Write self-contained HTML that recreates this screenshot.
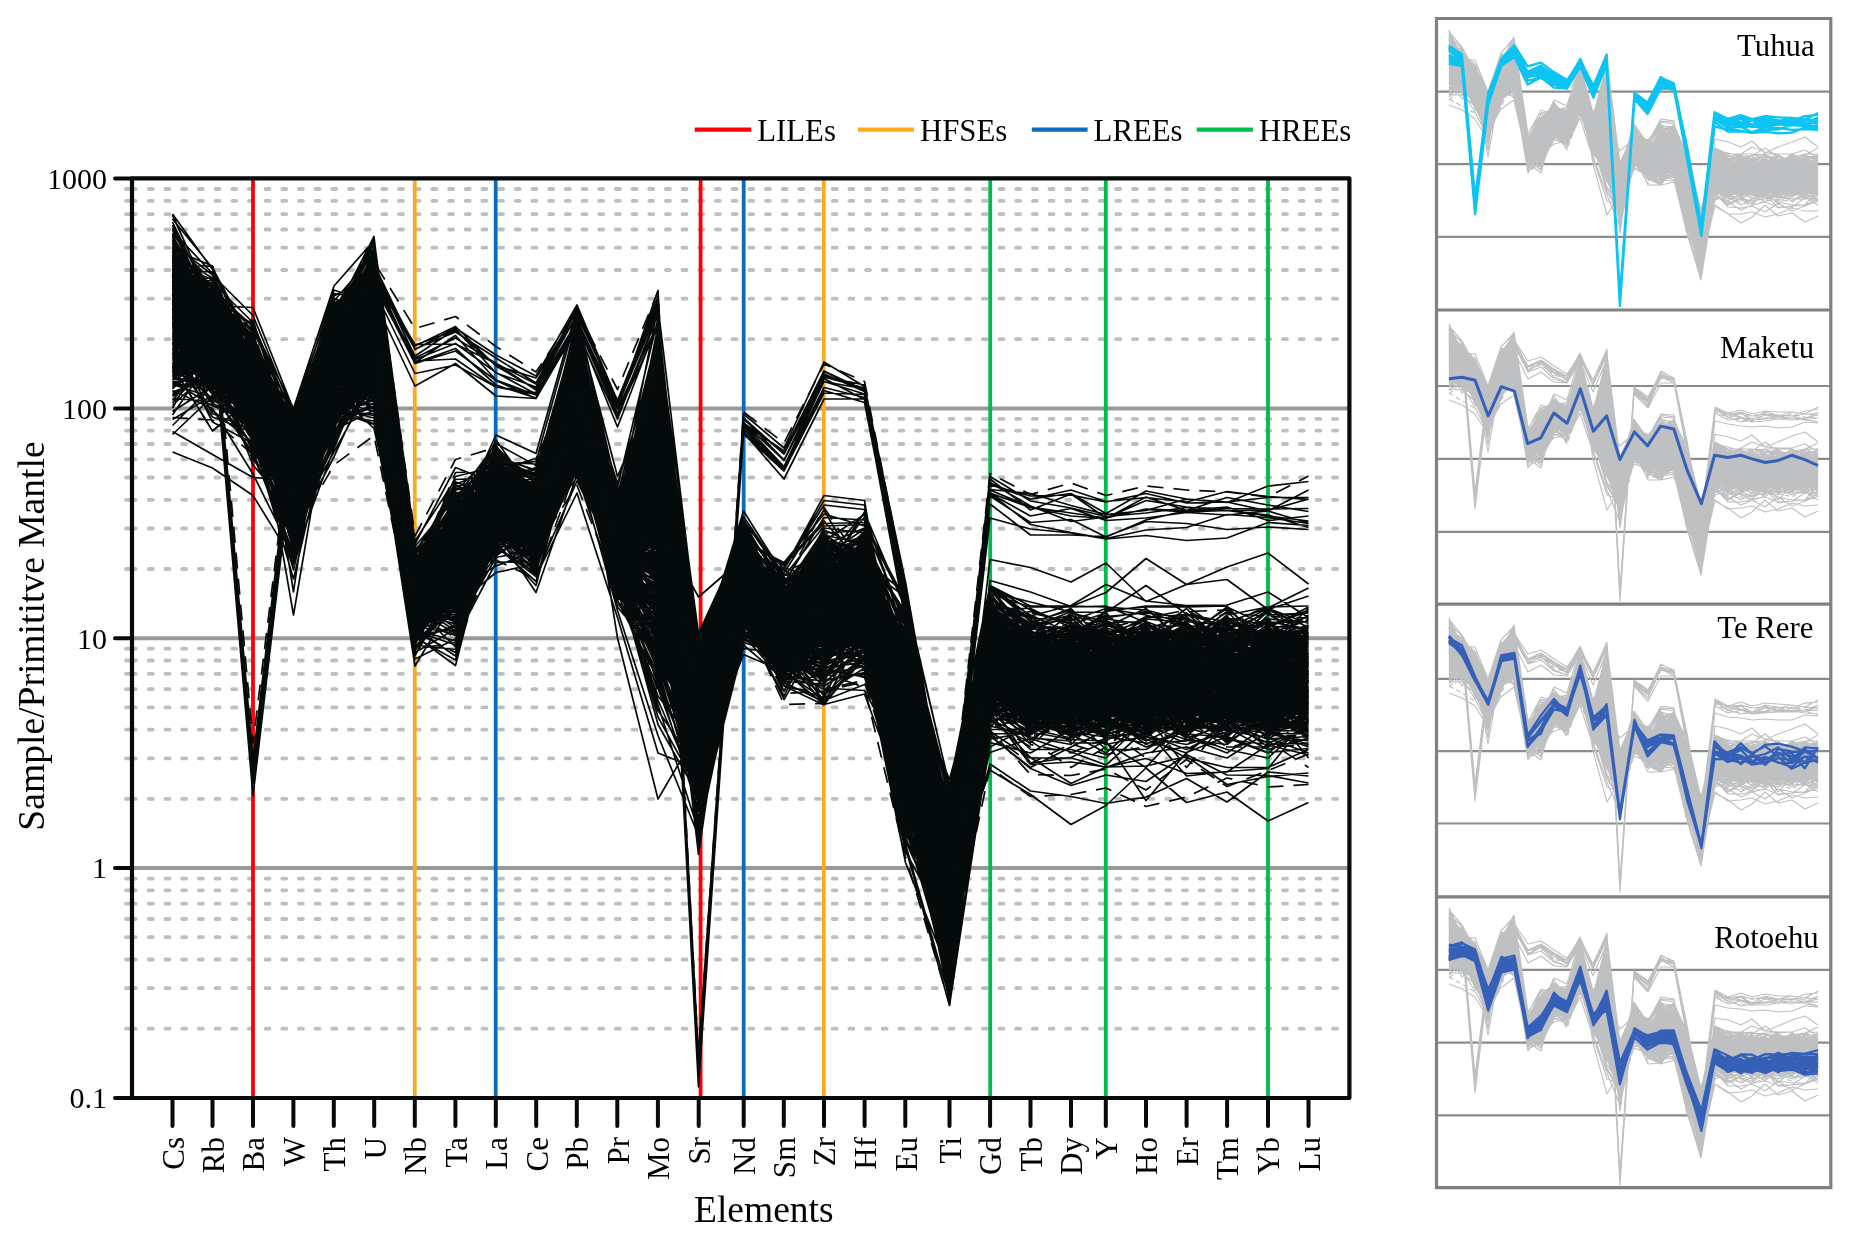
<!DOCTYPE html>
<html><head><meta charset="utf-8"><title>Spider diagram</title>
<style>html,body{margin:0;padding:0;background:#fff;}svg{display:block;will-change:transform;}</style>
</head><body>
<svg width="1852" height="1240" viewBox="0 0 1852 1240">
<path d="M126 339.2H135.7M126 298.7H135.7M126 270.0H135.7M126 247.7H135.7M126 229.5H135.7M126 214.1H135.7M126 200.8H135.7M126 189.0H135.7M126 569.0H135.7M126 528.5H135.7M126 499.8H135.7M126 477.5H135.7M126 459.3H135.7M126 444.0H135.7M126 430.6H135.7M126 418.9H135.7M126 798.9H135.7M126 758.4H135.7M126 729.7H135.7M126 707.4H135.7M126 689.2H135.7M126 673.8H135.7M126 660.5H135.7M126 648.7H135.7M126 1028.7H135.7M126 988.2H135.7M126 959.5H135.7M126 937.2H135.7M126 919.0H135.7M126 903.7H135.7M126 890.3H135.7M126 878.6H135.7" stroke="#bfbfbf" stroke-width="3.8" stroke-linecap="round" fill="none"/>
<path d="M148.8 339.2H1346M148.8 298.7H1346M148.8 270.0H1346M148.8 247.7H1346M148.8 229.5H1346M148.8 214.1H1346M148.8 200.8H1346M148.8 189.0H1346M148.8 569.0H1346M148.8 528.5H1346M148.8 499.8H1346M148.8 477.5H1346M148.8 459.3H1346M148.8 444.0H1346M148.8 430.6H1346M148.8 418.9H1346M148.8 798.9H1346M148.8 758.4H1346M148.8 729.7H1346M148.8 707.4H1346M148.8 689.2H1346M148.8 673.8H1346M148.8 660.5H1346M148.8 648.7H1346M148.8 1028.7H1346M148.8 988.2H1346M148.8 959.5H1346M148.8 937.2H1346M148.8 919.0H1346M148.8 903.7H1346M148.8 890.3H1346M148.8 878.6H1346" stroke="#bfbfbf" stroke-width="3.8" stroke-linecap="round" stroke-dasharray="4 12.68" fill="none"/>
<path d="M132 408.4H1349M132 638.2H1349M132 868.0H1349" stroke="#999" stroke-width="4" fill="none"/>
<path d="M253.0 180V1096" stroke="#ff0000" stroke-width="3.8"/>
<path d="M700.6 180V1096" stroke="#ff0000" stroke-width="3.8"/>
<path d="M414.8 180V1096" stroke="#ffaa1e" stroke-width="3.8"/>
<path d="M823.8 180V1096" stroke="#ffaa1e" stroke-width="3.8"/>
<path d="M495.7 180V1096" stroke="#0a6cbf" stroke-width="3.8"/>
<path d="M743.7 180V1096" stroke="#0a6cbf" stroke-width="3.8"/>
<path d="M990.2 180V1096" stroke="#00bc4b" stroke-width="3.8"/>
<path d="M1105.8 180V1096" stroke="#00bc4b" stroke-width="3.8"/>
<path d="M1268.0 180V1096" stroke="#00bc4b" stroke-width="3.8"/>
<path transform="scale(.5)" d="M345 509l80 157 81 114 81 107 81-108 80-150 82 511 81-57 81-84 80 47 82-219 81 297 81-74 81 352 90-280 81 58 80-46 81-40 82 257 88 447 81-470 81 49 81 25 70-15 80-17 81-40 81-21 82-3 81 29M345 610l80 70 81 89 81 197 81-190 80-131 82 544 81-83 81-80 80-25 82-249 81 349 81-293 81 550 90-267 81 108 80-3 81 22 82 151 88 345 81-392 81 24 81-22 70-3 80 25 81-7 81 33 82 9 81-39M345 734l80 43 81 29 81 153 81-188 80-90 82 520 81-107 81-101 80 13 82-239 81 316 81-157 81 518 90-265 81 59 80-30 81-25 82 173 88 427 81-243 81 49 81 60 70-38 80-75 81 69 81-21 82 58 81-37M345 556l80 66 81 138 81 229 81-225 80-21 82 480 81-192 81-53 80 62 82-240 81 244 81-1 81 310 90-224 81 120 80-144 81 4 82 241 88 410 81-518 81 72 81-31 70 63 80 5 81-32 81-18 82 26 81-24M345 672l80 81 81-15 81 143 81-159 80-75 82 526 81 9 81-166 80 37 82-256 81 347 81-137 81 408 90-273 81 139 80-98 81-1 82 337 88 352 81-444 81-67 81 14 70 2 80-38 81-10 81 24 82 4 81-38M345 540l80 73 81 134 81 241 81-279 80-109 82 585 81-93 81-158 80 84 82-322 81 292 81-117 81 562 90-335 81 76 80 12 81-35 82 149 88 293 81-319 81 94 81-46 70 31 80 5 81-7 81-17 82-25 81 35M345 600l80 30 81 77 81 240 81-155 80-31 82 392 81-127 81-41 80-13 82-159 81 285 81-100 81 360 90-188 81 86 80-65 81 64 82 274 88 262 81-528 81 58 81-55 70-1 80-9 81 9 81-10 82 18 81-14M345 666l80 61 81 77 81 204 81-229 80 38 82 439 81-55 81-199 80 132 82-232 81 264 81 13 81 463 90-371 81 92 80 5 81-83 82 370 88 302 81-563 81-12 81 23 70-20 80 5 81 12 81-34 82 17 81 4M345 587l80 60 81 120 81 229 81-276 80-38 82 513 81-11 81-188 80 46 82-255 81 358 81 65 81 236 90-302 81 120 80-80 81 26 82 255 88 349 81-448 81 52 81-17 70-25 80 33 81-26 81-41 82 16 81 59M345 714l80 40 81 56 81 168 81-153 80 2 82 441 81-8 81-215 80 45 82-150 81 264 81 62 81 307 90-339 81 104 80-24 81-120 82 366 88 291 81-459 81 24 81-45 70 35 80-37 81-39 81 16 82 45 81-21M345 605l80 88 81 35 81 212 81-235 80-21 82 552 81-103 81-107 80 90 82-292 81 281 81 35 81 378 90-346 81 132 80-85 81 60 82 214 88 362 81-498 81 71 81-4 70-55 80 52 81-11 81-7 82-16 81 7M345 567l80 61 81 113 81 204 81-172 80-145 82 541 81-131 81-49 80 41 82-292 81 297 81-111 81 477 90-252 81 54 80-26 81 30 82 165 88 335 81-427 81 8 81 33 70 11 80 1 81 35 81 18 82 3 81-81M345 830l80-119 81 159 81 112 81-210 80-8 82 477 81-45 81-155 80 37 82-252 81 265 81 103 81 318 90-336 81 95 80-40 81-47 82 323 88 359 81-529 81-5 81 34 70-30 80 45 81 12 81-31 82-8 81 58M345 669l80 2 81 166 81 226 81-211 80-173 82 567 81-36 81-214 80 15 82-144 81 258 81 13 81 326 90-241 81 86 80 27 81 19 82 237 88 386 81-557 81 78 81 0 70 17 80-77 81 5 81 18 82-32 81 36M345 655l80-14 81 51 81 154 81-174 80-18 82 547 81-182 81-94 80 58 82-283 81 366 81-182 81 508 90-215 81 69 80-58 81-78 82 252 88 288 81-474 81 93 81 16 70-29 80 23 81 35 81 25 82-58 81 5M345 611l80-14 81 121 81 191 81-237 80-52 82 529 81-52 81-133 80 48 82-245 81 283 81 32 81 311 90-253 81 90 80-13 81 6 82 293 88 248 81-418 81 25 81-67 70-19 80-47 81 7 81 65 82-38 81 38M345 541l80 123 81 182 81 80 81-160 80-38 82 450 81-11 81-97 80 14 82-240 81 276 81 8 81 376 90-289 81 23 80-58 81-8 82 289 88 317 81-463 81 48 81-19 70 9 80 20 81 1 81 2 82-39 81-38M345 543l80 75 81 155 81 197 81-128 80-85 82 436 81-27 81-163 80 35 82-177 81 239 81 85 81 255 90-246 81 131 80-81 81-24 82 343 88 298 81-469 81 8 81-4 70-54 80 60 81-4 81-51 82 16 81-23M345 530l80 123 81 102 81 162 81-230 80-78 82 577 81-122 81-92 80 9 82-190 81 335 81-152 81 471 90-312 81 94 80-12 81 31 82 112 88 531 81-610 81 12 81 34 70 41 80-42 81 2 81 37 82 17 81-3M345 580l80 69 81 134 81 169 81-203 80-3 82 509 81-76 81-47 80-30 82-305 81 336 81 69 81 263 90-258 81 44 80-83 81 45 82 313 88 393 81-569 81 88 81 32 70-55 80 2 81-28 81-1 82 68 81-6M345 621l80 65 81 46 81 267 81-179 80-53 82 461 81-113 81-74 80 26 82-290 81 354 81 188 81 231 90-503 81 91 80-137 81 9 82 456 88 464 81-471 81-1 81 18 70-30 80-25 81-25 81 54 82 36 81-30M345 624l80 74 81 70 81 172 81-194 80-72 82 536 81-64 81-106 80 11 82-152 81 256 81 125 81 267 90-267 81 34 80-81 81-21 82 335 88 246 81-358 81-37 81 11 70 18 80-10 81-5 81 34 82 33 81-59M345 594l80 62 81 90 81 148 81-151 80-2 82 461 81-7 81-200 80-5 82-273 81 310 81-204 81 572 90-294 81 103 80-112 81 35 82 187 88 410 81-431 81 28 81 25 70 3 80 1 81 22 81-11 82 9 81-34M345 762l80 50 81 28 81 109 81-245 80-10 82 551 81-51 81-109 80 86 82-313 81 289 81 152 81 308 90-384 81 60 80 123 81-147 82 405 88 211 81-525 81 61 81-7 70-8 80-23 81-18 81 55 82 0 81 11M345 517l80 111 81 67 81 143 81-152 80-56 82 582 81-66 81-181 80 20 82-321 81 400 81-45 81 275 90-217 81 150 80-47 81-54 82 163 88 395 81-361 81-36 81-23 70 41 80-36 81 44 81 15 82 14 81 39M345 535l80 144 81 99 81 165 81-295 80-151 82 605 81-110 81-70 80 103 82-235 81 320 81-159 81 475 90-267 81 99 80-34 81-117 82 342 88 376 81-577 81 30 81 13 70-4 80 34 81-17 81-40 82 14 81 47M345 595l80 48 81 45 81 248 81-166 80-68 82 473 81-37 81-150 80 56 82-278 81 311 81-299 81 658 90-308 81 81 80-93 81 55 82 151 88 338 81-366 81 33 81 5 70-10 80 42 81-2 81-3 82-31 81 25M345 787l80-33 81 129 81 122 81-194 80-110 82 542 81-100 81-82 80 5 82-290 81 381 81 80 81 298 90-324 81 80 80-91 81 14 82 255 88 375 81-499 81 45 81 41 70-8 80 27 81 11 81-34 82 32 81-14M345 583l80 102 81 50 81 202 81-222 80 12 82 444 81-89 81-99 80 0 82-218 81 273 81-28 81 468 90-269 81 117 80-21 81-81 82 180 88 525 81-611 81 53 81 22 70-36 80-13 81-27 81 33 82 17 81-13M345 719l80 79 81 62 81 144 81-158 80-156 82 539 81-103 81-97 80 23 82-237 81 291 81-31 81 430 90-336 81 69 80 69 81-106 82 219 88 463 81-554 81 4 81 37 70-24 80-26 81 22 81-45 82 65 81 4M345 533l80 54 81 153 81 139 81-233 80-95 82 562 81-44 81-69 80-4 82-227 81 286 81-237 81 658 90-362 81 80 80-36 81 31 82 146 88 330 81-491 81 69 81 31 70 7 80 38 81 8 81-8 82 25 81 3M345 686l80 141 81 34 81 174 81-335 80-29 82 555 81-71 81-150 80 55 82-195 81 304 81 124 81 213 90-314 81 53 80 84 81-121 82 329 88 258 81-481 81 61 81-30 70-2 80 7 81 37 81 8 82-13 81 38M345 610l80 82 81 131 81 164 81-169 80-67 82 461 81-107 81-85 80 9 82-212 81 324 81-58 81 426 90-276 81 72 80 44 81-16 82 219 88 250 81-422 81 15 81 22 70-3 80-7 81-33 81 6 82-4 81-71M345 589l80 59 81 131 81 150 81-233 80-2 82 553 81-33 81-167 80-32 82-263 81 300 81-44 81 477 90-294 81 23 80-39 81-16 82 237 88 420 81-455 81-8 81 27 70-13 80-42 81 52 81-29 82 24 81-35M345 604l80 49 81 36 81 282 81-252 80-59 82 523 81-97 81-91 80 40 82-203 81 270 81-164 81 568 90-356 81 106 80 37 81-4 82 261 88 352 81-474 81 14 81 14 70-54 80 47 81-31 81-34 82 67 81-14M345 623l80 32 81 79 81 178 81-234 80-130 82 624 81-118 81-62 80 7 82-249 81 262 81 47 81 320 90-212 81 68 80-24 81 27 82 192 88 422 81-522 81 81 81-68 70 30 80 18 81-52 81-22 82-26 81-2M345 628l80 56 81 30 81 174 81-136 80-138 82 574 81-156 81-61 80 39 82-179 81 297 81-165 81 446 90-306 81 85 80-34 81 7 82 144 88 324 81-394 81 23 81 7 70-35 80 58 81-39 81 20 82 16 81 38M345 747l80-17 81 129 81 142 81-156 80-107 82 471 81 10 81-152 80-5 82-278 81 313 81-113 81 527 90-311 81 65 80-33 81-1 82 294 88 308 81-518 81 15 81 42 70-20 80 17 81-16 81-36 82 14 81-12M345 663l80 97 81 60 81 152 81-145 80-97 82 536 81-114 81-160 80 30 82-243 81 297 81 48 81 372 90-350 81 57 80 45 81 4 82 157 88 316 81-433 81 16 81 2 70-18 80 42 81 7 81-7 82 19 81-1M345 444l80 166 81 105 81 158 81-166 80-124 82 606 81-135 81-69 80 33 82-237 81 255 81-178 81 480 90-218 81 142 80-144 81-13 82 144 88 339 81-373 81 98 81-26 70 33 80-18 81 8 81-2 82-78 81-4M345 706l80 38 81 55 81 146 81-115 80-166 82 555 81 6 81-155 80 19 82-199 81 231 81 54 81 480 90-378 81 35 80-75 81 20 82 238 88 319 81-406 81 62 81-53 70-11 80-44 81 18 81 39 82 47 81 2M345 616l80-5 81 4 81 204 81-163 80-35 82 529 81-102 81-178 80 37 82-290 81 407 81-295 81 669 90-288 81 153 80-55 81-43 82 282 88 319 81-530 81 88 81 20 70-1 80-47 81-9 81-29 82-41 81 30M345 577l80-23 81 167 81 133 81-183 80-47 82 538 81-49 81-157 80 80 82-347 81 328 81-117 81 575 90-274 81-3 80-20 81-33 82 204 88 432 81-471 81 19 81 23 70-19 80-47 81 26 81 25 82-14 81-9M345 691l80-21 81 95 81 163 81-295 80-102 82 557 81-153 81 32 80 85 82-318 81 297 81-21 81 402 90-281 81 105 80-35 81-34 82 305 88 381 81-562 81 50 81-30 70 8 80-65 81 30 81-61 82 78 81-34M345 658l80 43 81 65 81 277 81-221 80-124 82 517 81-104 81-96 80 66 82-310 81 505 81 322 81-138 90-210 81 38 80-13 81-13 82 221 88 355 81-424 81 65 81-47 70 67 80 0 81-48 81-19 82-4 81-5M345 790l80-46 81 33 81 241 81-261 80-91 82 496 81-156 81-9 80 26 82-261 81 347 81-163 81 592 90-361 81 128 80-22 81-84 82 232 88 446 81-576 81 99 81-49 70-20 80 24 81 9 81-39 82 73 81 8M345 698l80 111 81 41 81 162 81-263 80-4 82 525 81-128 81-124 80 85 82-247 81 277 81-23 81 331 90-292 81 96 80-91 81 80 82 223 88 349 81-687 81 16 81 29 70-38 80 77 81-34 81-35 82-28 81 62M345 629l80 87 81 54 81 193 81-233 80 8 82 436 81-3 81-144 80 42 82-266 81 332 81 51 81 317 90-363 81 84 80-37 81-21 82 358 88 283 81-494 81 46 81-47 70 30 80-1 81-44 81-14 82-42 81 70M345 693l80 31 81 157 81 202 81-296 80-47 82 462 81-71 81-64 80 38 82-272 81 321 81 57 81 215 90-246 81 103 80-65 81 29 82 404 88 263 81-459 81-78 81-19 70 55 80-37 81 10 81 15 82 33 81-8M345 634l80 56 81 5 81 240 81-201 80-36 82 447 81-86 81-138 80 39 82-215 81 297 81-217 81 548 90-241 81 142 80-105 81-10 82 232 88 284 81-447 81 114 81-60 70 19 80 35 81 14 81-1 82-15 81-64M345 637l80-35 81 140 81 216 81-278 80-28 82 545 81-189 81-33 80-38 82-235 81 316 81-110 81 544 90-314 81 67 80-27 81 8 82 278 88 345 81-497 81 45 81-16 70 34 80 6 81 7 81 6 82-1 81-48M345 621l80 13 81 86 81 141 81-218 80-27 82 532 81-111 81-24 80 36 82-293 81 359 81-6 81 311 90-313 81 83 80-70 81-41 82 162 88 362 81-277 81-16 81 30 70 17 80-18 81-14 81-47 82 34 81-47M345 663l80 36 81 44 81 166 81-244 80-121 82 564 81-95 81-89 80 4 82-192 81 351 81-56 81 337 90-225 81 67 80-36 81-66 82 230 88 315 81-460 81 62 81 1 70 29 80 47 81-34 81-32 82-1 81 10M345 558l80 38 81 150 81 125 81-241 80-157 82 688 81-106 81-111 80 23 82-241 81 346 81-178 81 512 90-240 81 94 80-98 81-23 82 189 88 328 81-335 81-20 81-16 70-49 80-13 81 27 81 43 82-70 81 65M345 495l80 223 81 125 81 89 81-206 80-125 82 627 81-159 81-93 80 57 82-199 81 247 81-19 81 486 90-350 81 24 80-28 81 36 82 373 88 174 81-473 81 50 81 6 70 5 80 34 81-34 81 12 82 62 81-75M345 521l80 85 81 145 81 149 81-187 80-83 82 592 81-167 81-86 80 41 82-204 81 256 81-19 81 434 90-288 81 88 80-93 81-37 82 229 88 385 81-498 81 53 81 16 70-17 80 16 81-13 81 18 82 7 81 0M345 429l80 181 81 132 81 193 81-214 80-63 82 539 81-118 81-148 80 78 82-242 81 332 81-71 81 342 90-253 81 61 80-42 81 20 82 128 88 347 81-452 81 99 81 31 70-7 80-29 81-1 81-36 82 14 81-27M345 607l80 73 81-41 81 268 81-159 80-141 82 559 81-95 81-77 80 36 82-185 81 259 81-110 81 448 90-302 81 49 80-63 81 53 82 169 88 395 81-445 81 51 81-22 70 14 80-23 81 24 81-28 82 32 81-10M345 597l80 46 81 140 81 276 81-317 80-70 82 502 81-94 81-88 80 38 82-200 81 309 81 107 81 271 90-298 81 79 80 24 81-55 82 233 88 339 81-520 81 32 81 48 70-39 80 10 81-39 81 59 82 28 81 54M345 726l80-23 81 81 81 161 81-270 80 45 82 524 81-109 81-96 80 47 82-216 81 231 81-45 81 330 90-240 81 106 80-46 81-50 82 408 88 213 81-435 81 46 81-26 70-12 80 17 81-59 81 57 82 67 81-7M345 653l80 96 81 33 81 257 81-205 80-22 82 506 81-40 81-153 80-3 82-207 81 220 81 33 81 366 90-322 81 61 80-37 81 16 82 282 88 370 81-551 81 14 81 28 70-24 80 27 81 58 81-44 82-52 81 49M345 474l80 161 81 96 81 242 81-204 80-132 82 498 81-30 81-80 80 10 82-172 81 206 81-204 81 560 90-288 81 60 80 6 81-114 82 240 88 353 81-358 81 43 81 7 70-19 80-19 81 15 81 7 82 9 81-45M345 658l80 37 81 69 81 227 81-179 80-103 82 544 81-163 81-68 80 71 82-257 81 301 81 60 81 397 90-412 81 113 80-66 81-52 82 252 88 339 81-534 81 85 81-4 70 30 80 33 81 16 81 24 82 3 81-33M345 646l80 19 81 128 81 143 81-126 80-22 82 496 81-67 81-176 80 46 82-143 81 207 81 270 81 119 90-296 81 100 80 54 81-81 82 227 88 392 81-451 81 21 81-47 70 30 80-17 81 44 81 19 82 0 81-36M345 592l80 58 81 124 81 211 81-256 80-56 82 482 81-106 81-101 80 5 82-196 81 333 81 72 81 405 90-352 81 103 80-119 81-6 82 179 88 364 81-425 81 55 81-28 70 51 80-6 81-16 81 16 82-65 81 23M345 632l80 73 81 98 81 206 81-190 80 12 82 379 81 27 81-220 80 63 82-271 81 341 81 31 81 300 90-284 81 134 80 20 81-102 82 279 88 379 81-511 81-6 81-23 70 50 80-1 81 26 81-13 82-3 81-33M345 595l80 36 81 159 81 165 81-242 80-6 82 520 81-89 81-57 80-38 82-214 81 259 81-149 81 475 90-228 81 78 80-71 81 27 82 276 88 339 81-513 81 73 81-72 70 38 80 6 81 63 81-10 82 7 81-44M345 557l80 121 81 6 81 253 81-214 80-144 82 585 81-148 81-50 80 84 82-260 81 266 81-133 81 433 90-241 81 40 80 38 81-16 82 247 88 313 81-448 81 31 81 3 70-23 80-37 81 42 81-1 82-35 81 4M345 712l80 12 81 155 81 279 81-345 80 35 82 431 81-108 81-112 80 39 82-289 81 299 81 4 81 418 90-335 81 125 80-48 81 11 82 386 88 142 81-477 81 13 81 23 70 28 80 66 81-9 81 24 82 10 81-3M345 667l80 1 81 83 81 181 81-199 80-106 82 517 81-69 81-54 80 69 82-269 81 323 81 51 81 208 90-205 81 64 80 54 81-105 82 217 88 391 81-535 81 76 81 5 70-3 80 19 81-70 81 66 82 9 81-27M345 492l80 190 81 116 81 150 81-188 80-164 82 557 81-60 81-140 80 92 82-288 81 272 81-117 81 418 90-189 81 136 80-57 81-39 82 201 88 404 81-496 81 14 81 31 70-36 80-33 81-19 81 87 82 26 81 12M345 485l80 140 81 165 81 106 81-171 80-12 82 490 81-102 81-96 80-23 82-255 81 308 81-222 81 503 90-196 81 99 80-56 81 8 82 125 88 366 81-389 81 79 81-45 70 7 80 14 81 65 81 11 82 0 81-6M345 524l80 91 81 98 81 230 81-206 80-169 82 579 81-70 81-163 80 26 82-224 81 333 81-196 81 525 90-230 81 93 80-167 81 97 82 152 88 360 81-412 81 94 81-66 70-9 80 40 81-29 81 11 82-4 81 5M345 664l80-12 81 82 81 204 81-262 80-22 82 496 81-54 81-138 80 51 82-241 81 269 81-292 81 645 90-265 81 117 80-76 81 22 82 214 88 300 81-496 81 32 81 63 70 20 80 28 81-20 81-25 82-12 81 3M345 573l80-1 81 137 81 180 81-194 80-121 82 567 81-145 81-61 80 44 82-261 81 329 81-394 81 746 90-315 81 41 80-97 81 24 82 193 88 337 81-382 81 36 81 5 70-24 80 13 81 24 81 40 82 17 81 55M345 500l80 123 81 82 81 155 81-179 80-154 82 607 81 11 81-159 80-9 82-204 81 250 81-135 81 515 90-250 81 64 80-60 81 35 82 255 88 336 81-501 81 47 81-41 70 15 80-12 81 47 81 37 82-76 81-6M345 645l80 18 81 134 81 154 81-167 80 19 82 529 81-135 81-143 80-6 82-300 81 386 81 85 81 294 90-323 81 60 80-37 81 28 82 243 88 388 81-512 81 76 81-9 70-32 80 4 81-8 81-4 82-24 81 43M345 613l80 58 81 68 81 160 81-231 80-6 82 525 81-147 81-39 80 25 82-222 81 336 81-29 81 379 90-355 81 124 80-36 81-19 82 184 88 315 81-441 81 43 81 34 70-15 80 50 81-40 81-5 82 26 81-14M345 671l80 135 81 46 81 201 81-174 80-126 82 468 81 20 81-221 80 44 82-109 81 149 81 45 81 414 90-295 81 67 80 53 81-52 82 244 88 384 81-578 81 55 81 23 70 10 80 12 81-4 81-40 82-20 81-37M345 528l80 31 81 160 81 206 81-259 80-46 82 585 81-176 81-61 80 16 82-290 81 418 81-145 81 451 90-236 81 85 80-93 81 19 82 208 88 276 81-495 81 48 81 37 70-34 80-7 81 10 81 37 82 51 81-18M345 600l80 111 81 118 81 232 81-337 80-92 82 522 81-101 81-94 80 72 82-203 81 220 81-338 81 654 90-258 81 59 80-22 81 61 82 177 88 267 81-436 81 54 81 54 70 28 80 26 81-38 81 3 82-9 81-29M345 585l80 151 81 94 81 133 81-264 80 6 82 508 81-84 81-90 80 61 82-257 81 248 81-87 81 512 90-375 81 102 80 16 81-8 82 266 88 363 81-528 81 60 81-27 70-31 80 16 81-27 81-16 82-11 81-29M345 797l80 6 81 6 81 141 81-122 80-146 82 560 81-114 81-85 80 35 82-154 81 243 81 172 81 270 90-356 81 81 80 13 81-67 82 178 88 390 81-536 81 25 81 48 70-2 80 24 81 19 81 11 82 57 81-41M345 550l80 202 81 43 81 228 81-213 80-87 82 470 81-67 81-99 80 50 82-262 81 319 81 276 81 252 90-424 81 50 80-61 81 76 82 168 88 282 81-437 81 70 81 28 70 28 80 14 81-46 81 43 82 8 81 28M345 546l80 146 81 87 81 186 81-239 80-14 82 494 81-94 81-76 80 82 82-188 81 225 81-61 81 338 90-193 81 91 80 4 81-8 82 377 88 162 81-453 81-3 81 20 70-55 80 14 81 13 81 16 82 6 81-17M345 582l80 75 81 110 81 219 81-319 80-153 82 642 81-49 81-113 80-2 82-207 81 293 81-32 81 337 90-209 81 38 80-74 81-14 82 283 88 347 81-505 81 40 81-12 70 21 80 16 81 10 81-9 82-35 81 41M345 572l80 116 81 99 81 164 81-339 80-70 82 591 81-66 81-93 80 32 82-301 81 341 81-191 81 457 90-185 81 66 80-75 81 54 82 250 88 305 81-256 81 66 81 34 70-21 80 13 81-54 81 41 82 1 81 15M345 781l80 36 81 131 81 163 81-318 80-10 82 482 81-84 81-93 80-23 82-233 81 279 81 2 81 386 90-329 81 138 80-60 81-48 82 240 88 454 81-474 81 54 81 15 70-67 80 39 81-50 81-10 82-6 81-23M345 698l80 10 81 65 81 181 81-118 80-133 82 529 81-113 81-76 80 43 82-288 81 284 81-128 81 491 90-293 81 81 80-35 81 66 82 271 88 456 81-519 81 63 81-41 70-33 80-35 81 15 81 3 82-28 81-56M345 658l80 43 81 65 81 277 81-221 80-124 82 517 81-104 81-96 80 66 82-310 81 382 81 95 81 304 90-302 81 38 80-13 81-13 82 221 88 355 81-424 81 65 81-47 70 67 80 0 81-48 81-19 82-4 81-5M345 550l80 80 81 100 81 246 81-186 80-68 82 518 81-38 81-179 80 10 82-179 81 306 81-113 81 393 90-283 81 80 80-74 81-64 82 334 88 334 81-457 81 61 81 4 70 42 80 20 81 15 81-30 82-56 81 27M345 513l80 161 81 61 81 206 81-231 80-164 82 597 81-27 81-98 80 39 82-238 81 256 81-270 81 612 90-294 81 144 80-101 81-66 82 351 88 284 81-494 81 109 81 31 70 29 80-32 81 36 81-23 82-46 81 35M345 583l80 39 81 99 81 146 81-244 80-41 82 534 81-46 81-90 80 32 82-217 81 297 81-205 81 606 90-357 81 116 80-52 81-42 82 251 88 339 81-449 81-4 81-20 70-28 80 27 81 16 81 29 82-17 81 4M345 618l80 38 81 81 81 186 81-109 80-65 82 448 81-36 81-152 80 30 82-273 81 346 81-193 81 549 90-263 81 42 80-70 81 34 82 245 88 300 81-408 81 11 81 16 70-17 80 32 81-26 81 19 82-65 81-8M345 601l80 138 81-3 81 240 81-214 80-37 82 503 81-26 81-186 80 49 82-208 81 277 81-133 81 449 90-228 81 115 80-56 81 13 82 186 88 260 81-383 81 48 81 1 70 31 80 42 81 27 81-63 82-14 81-13M345 657l80 48 81 93 81 95 81-216 80 12 82 453 81-41 81-47 80-17 82-197 81 240 81-155 81 472 90-237 81 118 80-74 81-78 82 189 88 398 81-480 81 97 81-2 70 28 80-2 81-1 81-7 82 2 81-24M345 450l80 176 81 138 81 158 81-197 80-36 82 541 81-79 81-96 80-28 82-240 81 317 81 18 81 318 90-251 81 69 80-72 81 16 82 200 88 377 81-421 81 68 81-57 70 18 80 16 81-37 81 25 82 8 81 0M345 643l80-14 81 99 81 241 81-293 80-82 82 569 81-172 81-3 80 40 82-289 81 347 81-219 81 561 90-305 81 111 80-78 81-31 82 236 88 344 81-437 81 68 81-20 70-11 80 17 81 22 81 9 82-22 81-32M345 639l80 0 81 143 81 171 81-209 80-44 82 463 81-39 81-63 80-5 82-261 81 328 81-26 81 516 90-367 81 105 80-38 81-110 82 220 88 340 81-431 81 120 81-34 70 24 80 32 81 15 81-25 82-11 81-35M345 623l80 46 81 34 81 257 81-208 80-133 82 512 81-178 81-20 80 36 82-325 81 309 81-190 81 504 90-196 81 157 80-113 81 79 82 211 88 324 81-501 81 72 81-29 70-21 80 31 81 0 81-11 82 11 81 0M345 479l80 189 81 34 81 205 81-165 80-111 82 528 81-45 81-101 80 7 82-300 81 387 81-129 81 492 90-338 81 154 80-147 81-1 82 207 88 348 81-424 81 66 81 19 70 5 80 16 81 3 81-8 82-33 81-9M345 572l80-7 81 80 81 196 81-226 80-38 82 547 81-160 81 27 80-20 82-224 81 280 81-72 81 452 90-260 81 97 80-84 81-68 82 295 88 281 81-477 81 105 81-15 70 53 80-40 81-61 81 73 82-57 81 34M345 661l80 21 81 65 81 245 81-248 80-100 82 566 81-76 81-152 80 80 82-193 81 271 81-66 81 305 90-262 81 95 80 10 81-94 82 229 88 451 81-475 81 2 81-16 70-45 80 61 81-29 81-3 82 75 81-39M345 685l80 27 81 50 81 202 81-208 80-172 82 542 81-116 81-54 80 35 82-197 81 255 81 12 81 348 90-291 81 148 80-42 81-86 82 183 88 382 81-414 81 10 81 5 70 19 80-14 81-16 81-15 82-4 81-24M345 572l80 116 81 99 81 164 81-339 80-70 82 591 81-66 81-93 80 32 82-301 81 341 81-191 81 457 90-185 81 66 80-75 81 54 82 250 88 305 81-423 81 60 81-3 70-17 80 20 81 52 81-51 82-59 81 3M345 643l80 67 81 75 81 202 81-212 80-112 82 512 81-101 81-121 80 40 82-161 81 196 81-124 81 470 90-229 81 17 80-41 81 58 82 281 88 353 81-398 81 24 81-12 70-54 80 24 81 1 81 35 82 37 81-35M345 823l80-51 81 85 81 201 81-275 80 74 82 365 81 44 81-180 80-48 82-173 81 349 81 98 81 181 90-284 81 116 80-28 81-54 82 286 88 331 81-516 81 18 81 11 70 16 80-12 81 37 81-17 82 27 81-26M345 904l80 32 81 55 81 131 81-320 80-63 82 517 81-157 81-66 80 17 82-280 81 370 81-59 81 460 90-393 81 154 80-86 81 9 82 354 88 421 81-533 81 1 81-42 70 6 80-61 81-5 81-36 82 21 81 12M345 715l80-21 81 120 81 79 81-184 80-31 82 492 81-131 81-55 80 53 82-239 81 281 81-237 81 582 90-241 81 127 80-68 81-108 82 243 88 314 81-380 81 15 81-13 70 46 80 28 81-7 81-17 82-2 81-41M345 661l80-30 81 128 81 231 81-225 80-33 82 506 81-9 81-221 80 32 82-210 81 268 81-29 81 321 90-230 81 74 80 3 81-42 82 208 88 377 81-500 81 20 81 22 70 4 80-10 81 42 81-18 82 0 81 2M345 659l80 21 81 105 81 141 81-169 80-50 82 500 81-125 81-93 80 90 82-261 81 352 81 222 81 105 90-272 81 145 80 25 81-162 82 241 88 393 81-504 81 22 81 18 70 46 80-47 81 27 81 9 82-21 81 62M345 428l80 111 81 162 81 196 81-202 80-38 82 555 81-146 81-150 80 48 82-226 81 310 81-24 81 333 90-248 81 118 80-56 81 79 82 199 88 315 81-483 81 31 81-9 70-30 80 17 81-8 81 56 82-40 81 40M345 565l80 70 81 38 81 248 81-289 80 4 82 532 81-92 81-69 80-31 82-277 81 385 81-264 81 480 90-260 81 117 80 11 81-88 82 307 88 264 81-421 81 61 81-65 70 17 80 49 81 24 81 31 82-59 81 69M345 438l80 98 81 151 81 134 81-229 80-43 82 565 81-27 81-120 80 0 82-237 81 303 81-144 81 383 90-148 81 57 80-94 81 49 82 318 88 268 81-417 81 39 81-6 70-16 80-42 81 56 81-36 82-3 81 29M345 588l80 93 81 68 81 207 81-206 80-67 82 494 81-33 81-171 80 46 82-273 81 356 81 33 81 287 90-226 81 113 80-5 81-77 82 326 88 281 81-560 81 81 81-7 70 47 80 11 81-27 81-27 82 46 81-16M345 562l80 44 81 104 81 251 81-243 80 15 82 432 81-121 81-46 80 4 82-299 81 350 81-1 81 458 90-382 81 70 80-37 81 14 82 202 88 432 81-518 81 14 81-11 70 2 80 58 81 5 81 30 82-18 81-2M345 793l80-63 81 77 81 262 81-182 80-200 82 540 81-106 81-81 80 31 82-246 81 311 81 234 81 192 90-337 81 93 80-83 81 37 82 319 88 291 81-445 81 6 81 29 70-27 80-21 81 42 81-50 82 32 81-20M345 498l80 123 81 106 81 240 81-199 80-115 82 523 81-90 81-136 80 50 82-287 81 413 81-173 81 452 90-253 81 83 80-18 81 31 82 120 88 389 81-518 81 83 81 9 70-1 80 61 81-26 81 9 82-29 81 33M345 547l80 79 81 107 81 217 81-234 80-14 82 458 81-124 81-55 80 39 82-234 81 278 81-28 81 407 90-271 81 25 80-98 81 10 82 193 88 406 81-411 81 31 81 13 70-22 80-41 81 36 81-54 82-34 81 62M345 692l80-24 81 85 81 262 81-297 80-112 82 552 81-49 81-144 80-21 82-213 81 366 81-75 81 464 90-302 81 104 80-136 81-36 82 263 88 338 81-392 81 4 81-17 70-6 80 5 81 26 81-46 82 25 81 46M345 571l80 157 81 2 81 259 81-212 80-67 82 458 81-143 81-54 80-8 82-277 81 318 81-35 81 479 90-256 81 91 80-19 81-9 82 193 88 317 81-388 81 52 81 9 70-27 80-43 81-11 81 12 82-33 81 6M345 851l80-80 81 122 81 155 81-282 80-36 82 492 81-107 81-67 80-14 82-240 81 380 81 152 81 182 90-254 81 49 80-95 81-19 82 211 88 425 81-517 81 50 81 37 70-30 80 17 81 45 81-17 82 52 81-11M345 551l80 99 81 130 81 200 81-244 80-156 82 573 81-30 81-158 80 22 82-226 81 323 81-36 81 334 90-260 81 55 80-77 81 22 82 294 88 381 81-493 81 10 81 23 70-25 80-2 81 26 81 10 82-32 81 20M345 662l80 29 81 109 81 158 81-155 80-83 82 504 81-116 81-26 80-12 82-215 81 237 81 139 81 322 90-399 81 112 80-122 81 62 82 236 88 337 81-373 81-32 81 26 70-47 80-26 81-5 81 19 82 0 81 25M345 603l80 55 81 95 81 203 81-224 80-68 82 482 81-54 81-141 80 39 82-267 81 306 81-98 81 521 90-279 81 102 80 13 81-118 82 222 88 378 81-503 81 14 81 10 70-25 80-25 81 85 81-81 82 10 81 45M345 612l80 40 81 179 81 172 81-242 80-85 82 504 81-81 81-117 80 38 82-287 81 417 81-190 81 507 90-309 81 101 80 7 81-36 82 232 88 327 81-496 81 91 81-10 70-35 80 41 81 43 81-59 82 11 81 11M345 590l80 131 81 67 81 232 81-222 80-123 82 579 81-121 81-95 80 55 82-283 81 305 81-30 81 362 90-211 81 50 80 33 81-111 82 428 88 319 81-532 81 39 81-12 70-32 80-31 81 34 81 7 82-64 81 54M345 582l80 65 81 179 81 187 81-253 80-95 82 517 81-115 81-127 80 48 82-205 81 313 81-1 81 374 90-333 81 77 80 36 81-90 82 284 88 276 81-331 81-19 81 11 70 20 80 9 81-1 81-5 82-46 81-29M345 717l80-58 81 107 81 145 81-201 80-4 82 464 81-63 81-158 80-4 82-230 81 301 81-39 81 537 90-345 81 98 80-68 81-49 82 163 88 360 81-447 81 24 81-20 70 58 80 85 81-29 81-20 82-9 81 38M345 682l80-10 81 103 81 145 81-170 80 19 82 470 81-18 81-109 80-57 82-276 81 278 81-6 81 451 90-297 81 42 80-9 81-16 82 220 88 308 81-378 81 53 81-36 70 54 80 19 81-34 81 48 82 30 81-60M345 700l80 39 81 164 81 213 81-219 80-195 82 470 81 16 81-141 80 74 82-185 81 206 81 27 81 303 90-322 81 162 80-37 81-60 82 212 88 413 81-469 81 13 81 26 70-6 80-6 81-9 81 18 82 8 81-38M345 575l80 83 81 90 81 175 81-258 80 53 82 488 81 17 81-154 80 62 82-356 81 321 81 27 81 319 90-327 81 155 80-2 81-78 82 307 88 373 81-505 81 60 81 4 70-37 80-10 81 54 81-36 82-6 81-55M345 563l80 174 81 50 81 152 81-178 80-62 82 495 81-113 81-133 80 68 82-304 81 381 81-156 81 450 90-300 81 142 80-37 81-46 82 269 88 283 81-417 81 22 81 28 70-29 80-3 81 44 81 43 82-64 81 4M345 629l80 77 81 96 81 223 81-187 80-109 82 487 81-11 81-139 80 119 82-236 81 244 81 71 81 252 90-315 81 154 80 18 81-58 82 410 88 224 81-546 81 32 81 20 70 7 80-20 81-11 81 30 82 15 81 30M345 690l80 20 81 118 81 246 81-245 80-111 82 555 81-97 81-81 80-14 82-246 81 272 81-15 81 352 90-257 81 81 80-36 81 34 82 239 88 398 81-525 81 71 81-9 70-51 80-5 81-24 81 51 82 21 81 42M345 455l80 139 81 70 81 270 81-293 80-157 82 662 81-111 81-96 80 12 82-230 81 366 81-107 81 461 90-247 81 32 80-31 81-7 82 271 88 313 81-482 81 49 81 15 70 32 80 2 81-50 81-56 82-16 81 29M345 697l80 54 81 6 81 189 81-289 80-30 82 510 81-49 81-181 80 120 82-233 81 331 81 97 81 360 90-394 81 88 80-112 81 68 82 165 88 399 81-462 81 69 81 8 70-3 80-77 81 58 81 16 82 10 81-60M345 665l80 56 81 80 81 182 81-225 80-99 82 501 81-107 81-99 80 20 82-296 81 330 81-217 81 609 90-234 81 106 80-145 81 62 82 135 88 367 81-371 81 16 81-1 70-86 80 21 81-27 81 7 82 59 81-1M345 708l80 126 81 31 81 275 81-353 80-52 82 450 81-144 81-77 80 41 82-266 81 367 81-101 81 414 90-261 81 91 80 3 81-8 82 352 88 163 81-432 81 66 81-43 70-3 80-9 81-29 81 0 82 10 81 30M345 636l80 99 81 70 81 252 81-249 80-111 82 537 81-102 81-128 80 35 82-248 81 282 81 26 81 327 90-261 81 156 80 23 81-175 82 183 88 476 81-431 81 26 81-19 70-22 80 26 81-29 81 29 82-20 81 52M345 580l80 32 81 188 81 161 81-210 80-29 82 485 81-97 81-91 80 60 82-279 81 273 81 56 81 391 90-300 81 18 80-64 81-16 82 315 88 432 81-609 81 11 81 69 70-9 80 12 81 42 81-48 82 17 81 45M345 680l80-43 81 37 81 301 81-294 80-43 82 527 81-123 81-44 80 25 82-288 81 351 81-276 81 544 90-264 81 104 80 52 81-82 82 254 88 472 81-549 81 79 81-1 70-31 80-41 81 43 81-23 82-21 81 30M345 677l80 18 81 77 81 194 81-245 80 2 82 514 81-54 81-178 80 66 82-184 81 248 81-39 81 342 90-277 81 162 80-58 81-45 82 228 88 395 81-424 81 27 81-26 70-43 80 0 81-5 81 29 82-12 81-31M345 769l80 26 81 23 81 202 81-285 80-88 82 569 81-23 81-101 80 71 82-307 81 255 81 223 81 190 90-346 81 102 80-27 81-8 82 309 88 325 81-478 81 44 81-24 70 9 80 59 81-31 81-40 82-33 81 76M345 488l80 126 81 91 81 211 81-210 80-13 82 482 81-75 81-158 80 53 82-245 81 355 81-93 81 463 90-297 81 75 80-81 81-33 82 132 88 306 81-312 81 19 81 18 70-61 80 35 81-17 81-3 82 39 81-17M345 471l80 141 81 140 81 202 81-176 80-160 82 548 81-62 81-102 80 14 82-233 81 348 81-158 81 442 90-253 81 9 80-89 81-53 82 335 88 257 81-450 81 70 81 32 70 0 80 38 81-12 81-69 82-16 81-2M345 608l80 109 81 32 81 313 81-245 80-47 82 447 81-26 81-161 80 3 82-237 81 284 81-7 81 366 90-269 81 61 80 59 81-123 82 399 88 185 81-370 81 11 81 42 70-43 80 19 81 27 81-38 82-7 81-43M345 712l80 12 81 155 81 279 81-345 80 35 82 431 81-108 81-112 80 39 82-289 81 299 81 4 81 418 90-335 81 125 80-48 81 11 82 386 88 142 81-283 81 54 81 11 70 14 80-13 81-37 81 47 82-60 81 8M345 732l80 130 81-68 81 305 81-230 80-98 82 540 81-143 81-59 80-43 82-273 81 316 81-69 81 415 90-408 81 91 80-128 81 9 82 443 88 301 81-461 81 44 81 50 70-38 80-6 81 26 81-1 82 46 81-62M345 599l80 29 81 119 81 168 81-219 80-35 82 505 81-30 81-176 80 74 82-238 81 298 81-113 81 437 90-314 81 63 80-132 81 5 82 340 88 394 81-452 81 58 81-26 70-45 80 36 81 30 81-78 82-3 81-13M345 590l80 107 81 93 81 259 81-216 80-91 82 460 81-33 81-101 80 6 82-203 81 304 81-149 81 403 90-297 81 115 80-3 81 32 82 342 88 353 81-562 81 11 81 48 70 38 80-70 81 34 81 29 82 17 81-72M345 753l80-55 81 80 81 164 81-186 80-96 82 564 81-118 81-105 80 18 82-212 81 287 81-27 81 337 90-292 81 147 80 25 81-2 82 327 88 227 81-485 81 62 81 12 70-32 80-25 81-60 81-18 82 89 81 9M345 677l80-17 81 178 81 155 81-229 80-92 82 498 81-104 81-53 80 83 82-256 81 281 81 42 81 304 90-280 81 70 80 1 81 16 82 139 88 381 81-523 81 82 81-30 70 57 80-23 81 12 81 28 82 32 81-17M345 689l80 20 81 56 81 148 81-170 80-88 82 524 81-159 81-50 80-14 82-232 81 388 81-89 81 381 90-243 81 57 80-79 81-3 82 317 88 251 81-416 81 90 81-29 70 39 80 16 81-57 81 6 82 8 81 7M345 534l80 47 81 134 81 153 81-226 80-1 82 499 81-172 81-29 80 41 82-223 81 338 81-259 81 524 90-233 81 83 80-39 81 66 82 239 88 382 81-579 81 48 81 6 70-18 80 40 81-66 81-46 82 36 81-23M345 493l80 95 81 121 81 246 81-249 80-26 82 496 81-152 81-51 80 5 82-214 81 327 81-106 81 376 90-253 81 52 80 11 81 9 82 338 88 321 81-516 81 40 81-2 70-50 80-21 81-7 81-10 82-53 81 34M345 619l80 121 81 49 81 225 81-142 80-100 82 432 81 59 81-211 80 23 82-252 81 250 81 3 81 403 90-346 81 100 80 55 81-61 82 274 88 376 81-438 81 37 81 6 70-73 80 9 81-14 81 35 82 2 81 18M345 561l80 59 81 82 81 246 81-219 80-46 82 475 81-66 81-118 80 84 82-266 81 274 81-125 81 430 90-217 81 115 80 8 81-137 82 266 88 328 81-496 81 88 81-11 70-12 80-19 81 32 81 15 82 18 81-17M345 578l80 25 81 122 81 173 81-228 80-108 82 607 81-133 81-131 80 52 82-276 81 313 81-119 81 523 90-301 81 82 80-119 81 36 82 129 88 475 81-483 81 0 81 38 70 8 80 22 81 6 81 47 82-48 81 0M345 622l80 52 81 143 81 182 81-304 80-9 82 517 81-29 81-166 80-26 82-226 81 295 81-202 81 495 90-218 81 111 80-84 81-83 82 274 88 408 81-482 81 25 81 30 70 38 80 2 81 6 81-53 82-19 81 3M345 599l80 33 81 67 81 223 81-157 80-75 82 500 81-69 81-134 80 67 82-265 81 297 81-164 81 501 90-267 81 61 80-58 81-9 82 305 88 273 81-400 81 55 81-14 70-38 80-30 81 31 81-49 82 66 81 35M345 633l80-19 81 163 81 135 81-215 80-172 82 647 81-112 81-99 80 56 82-256 81 363 81 80 81 270 90-325 81 136 80-121 81 33 82 284 88 429 81-494 81-37 81-32 70-35 80 60 81-40 81 35 82 33 81-43M345 648l80 49 81 84 81 161 81-259 80 67 82 463 81-110 81-40 80 22 82-257 81 331 81 14 81 286 90-279 81 162 80-4 81-42 82 379 88 209 81-502 81 32 81-2 70-37 80-19 81 44 81 2 82 3 81-23M345 606l80-11 81 54 81 186 81-255 80 28 82 568 81-111 81-63 80 29 82-258 81 270 81-145 81 394 90-213 81 139 80 22 81-43 82 214 88 224 81-391 81 1 81-25 70 87 80-32 81-58 81 81 82-39 81 21M345 586l80 62 81 177 81 173 81-279 80-77 82 557 81 17 81-199 80 71 82-188 81 277 81-52 81 404 90-341 81 179 80-120 81-8 82 350 88 355 81-534 81 7 81 69 70 0 80 49 81-87 81-23 82-48 81 36M345 679l80 55 81 110 81 201 81-272 80-102 82 466 81-103 81-88 80 95 82-250 81 356 81-130 81 447 90-340 81 122 80-106 81 36 82 240 88 317 81-457 81 80 81 37 70 38 80-30 81-60 81 35 82-49 81 14M345 526l80 64 81 101 81 215 81-300 80-43 82 556 81-119 81-73 80 32 82-217 81 317 81 11 81 236 90-193 81 139 80-183 81 50 82 68 88 510 81-499 81 51 81 37 70-66 80-6 81 0 81-2 82 86 81-1M345 568l80 70 81 124 81 167 81-175 80-75 82 508 81-175 81-35 80-2 82-232 81 325 81 22 81 232 90-198 81 71 80-94 81 41 82 270 88 196 81-357 81 88 81 11 70-6 80-11 81 2 81 4 82-39 81-31M345 749l80-42 81 107 81 178 81-246 80-15 82 536 81-98 81-163 80-6 82-229 81 375 81 137 81 138 90-271 81 137 80-8 81 7 82 209 88 286 81-495 81 15 81 45 70-30 80 14 81-2 81 30 82 17 81 19M345 710l80 4 81 99 81 106 81-240 80 56 82 490 81-138 81-117 80 31 82-190 81 259 81-26 81 410 90-286 81 143 80-117 81 74 82 242 88 261 81-427 81 4 81-18 70-4 80 17 81 11 81 27 82 14 81 34M345 752l80 27 81 87 81 161 81-160 80-120 82 516 81-100 81-104 80 55 82-266 81 309 81 165 81 257 90-380 81 115 80 14 81-129 82 299 88 326 81-487 81 52 81-17 70 35 80-39 81 38 81 24 82 42 81-70M345 559l80 15 81 87 81 171 81-153 80-161 82 609 81-81 81-166 80 114 82-257 81 278 81-338 81 698 90-286 81 134 80-82 81-107 82 222 88 430 81-425 81 10 81-3 70 33 80 13 81-54 81-6 82 29 81 15M345 642l80 3 81 136 81 206 81-297 80-188 82 634 81-77 81-89 80 25 82-291 81 375 81 5 81 339 90-286 81 160 80-20 81-60 82 168 88 325 81-486 81 56 81 34 70-62 80 13 81 4 81-52 82 70 81 62M345 638l80 85 81 95 81 121 81-209 80 28 82 516 81-140 81-60 80 13 82-262 81 305 81-28 81 374 90-308 81 86 80-53 81 37 82 193 88 438 81-470 81-3 81-18 70 56 80-34 81-27 81 42 82 6 81-24M345 695l80 79 81 15 81 302 81-248 80-29 82 434 81-45 81-185 80 41 82-164 81 300 81 55 81 351 90-427 81 89 80 33 81-9 82 226 88 427 81-573 81 88 81-23 70-14 80-18 81-40 81 16 82 30 81 13M345 560l80 99 81 69 81 158 81-267 80-130 82 649 81-87 81-93 80 76 82-274 81 281 81-97 81 398 90-253 81 162 80-104 81-36 82 171 88 333 81-190 81 104 81-5 70 10 80-2 81-19 81 56 82-16 81-7M345 657l80-11 81 125 81 175 81-143 80-140 82 522 81-72 81-141 80 77 82-261 81 282 81-114 81 518 90-278 81 88 80-65 81-39 82 310 88 327 81-456 81 45 81-14 70-62 80 14 81 63 81 65 82-66 81 8M345 619l80 81 81 110 81 134 81-164 80-97 82 489 81-71 81-138 80 78 82-210 81 275 81 31 81 265 90-291 81 171 80-159 81 10 82 176 88 352 81-452 81 47 81-33 70 31 80-37 81 71 81-50 82 32 81 24M345 641l80 27 81 123 81 235 81-237 80-37 82 549 81-109 81-116 80-32 82-279 81 391 81 67 81 262 90-292 81 93 80-14 81-36 82 286 88 321 81-484 81 78 81 12 70-53 80 27 81-20 81-29 82 39 81 36M345 560l80 125 81 107 81 230 81-201 80-123 82 498 81-99 81-106 80 34 82-179 81 318 81 109 81 253 90-319 81 67 80 84 81-88 82 188 88 329 81-473 81 26 81 3 70 7 80-27 81 50 81-41 82 15 81 44M345 662l80-43 81 97 81 189 81-219 80-157 82 600 81-147 81-79 80 106 82-246 81 294 81-85 81 498 90-291 81 81 80-158 81 58 82 157 88 419 81-461 81 74 81-56 70 32 80-31 81-3 81 20 82 8 81 14M345 801l80-102 81 118 81 156 81-158 80-94 82 538 81 23 81-278 80 39 82-259 81 329 81 138 81 237 90-301 81 103 80-29 81-80 82 236 88 381 81-443 81 89 81 17 70-34 80-31 81-23 81-13 82-7 81 70M345 532l80 61 81 146 81 157 81-160 80-145 82 589 81-10 81-160 80 42 82-202 81 271 81-86 81 396 90-280 81 83 80-31 81-41 82 306 88 281 81-491 81 69 81 22 70-17 80-31 81 45 81 3 82 33 81 27M345 593l80 74 81 121 81 125 81-228 80-119 82 562 81-95 81-67 80 74 82-278 81 312 81-158 81 401 90-295 81 129 80-8 81 12 82 265 88 356 81-509 81 50 81 1 70 37 80 6 81-40 81 23 82 9 81 57M345 744l80-90 81 154 81 102 81-221 80-41 82 540 81-95 81-163 80 72 82-223 81 309 81 10 81 248 90-197 81 93 80 14 81-30 82 200 88 266 81-474 81 94 81-1 70 29 80-8 81 23 81-39 82-5 81 10M345 608l80 75 81 136 81 218 81-177 80-40 82 417 81-80 81-125 80 21 82-194 81 299 81 57 81 238 90-296 81 143 80-17 81-105 82 378 88 367 81-545 81-22 81-4 70-25 80 53 81 62 81-56 82-30 81 65M345 701l80-61 81 83 81 219 81-175 80-27 82 491 81-106 81-116 80 93 82-206 81 219 81-127 81 534 90-325 81 45 80-39 81-51 82 302 88 313 81-429 81 38 81 4 70 6 80 8 81-23 81 33 82-39 81 2M345 704l80 5 81 2 81 272 81-291 80-1 82 488 81-122 81-88 80 55 82-266 81 309 81-300 81 573 90-244 81 143 80-144 81 58 82 115 88 331 81-299 81 38 81-3 70-17 80-45 81 64 81-37 82 5 81 29M345 462l80 85 81 185 81 163 81-213 80-97 82 576 81-138 81-44 80 84 82-352 81 309 81-144 81 512 90-193 81-20 80-6 81-46 82 268 88 393 81-490 81 31 81-45 70-18 80 6 81 9 81 16 82 19 81-19M345 593l80 16 81 95 81 121 81-173 80-85 82 537 81-124 81-12 80-3 82-274 81 316 81 51 81 440 90-333 81 53 80-42 81-41 82 328 88 337 81-573 81 35 81 47 70-20 80 27 81 1 81 54 82-50 81 66M345 731l80-35 81 56 81 325 81-246 80 11 82 440 81-32 81-161 80 8 82-178 81 246 81 199 81 259 90-360 81 70 80-108 81 80 82 174 88 393 81-507 81 40 81 30 70-32 80 3 81 27 81 26 82-62 81-7M345 735l80-97 81 88 81 160 81-217 80-4 82 476 81-62 81-90 80 37 82-254 81 282 81-209 81 580 90-278 81 64 80 29 81-40 82 265 88 300 81-465 81-6 81 57 70-18 80-37 81-2 81 67 82-65 81 48M345 585l80 117 81 145 81 163 81-161 80-158 82 535 81-48 81-166 80 89 82-191 81 288 81 22 81 417 90-446 81 87 80-10 81 29 82 333 88 270 81-569 81 10 81-3 70 5 80 34 81-7 81-22 82 34 81 5M345 617l80 35 81 74 81 255 81-279 80 49 82 481 81-66 81-122 80 45 82-178 81 206 81-51 81 437 90-304 81 104 80-93 81 16 82 344 88 252 81-513 81 13 81 55 70 28 80-52 81-33 81 51 82 2 81 23M345 572l80 90 81 149 81 231 81-276 80-110 82 518 81-72 81-37 80 76 82-332 81 323 81 14 81 346 90-334 81 75 80 12 81-33 82 303 88 269 81-429 81 18 81-13 70-20 80-21 81 29 81 47 82-19 81 27M345 627l80 28 81 132 81 127 81-123 80-92 82 518 81-129 81-90 80 15 82-299 81 344 81 76 81 426 90-410 81 114 80-38 81-76 82 223 88 398 81-432 81 46 81 38 70 2 80 17 81-57 81 11 82-22 81 0M345 568l80 99 81 57 81 220 81-163 80 6 82 418 81-116 81-77 80 1 82-201 81 263 81-161 81 477 90-258 81 127 80-51 81 6 82 184 88 353 81-498 81 69 81 19 70-13 80-13 81-18 81 33 82-1 81-19M345 626l80 121 81-13 81 203 81-279 80-99 82 619 81-114 81-77 80 30 82-211 81 254 81-231 81 544 90-218 81 80 80-22 81-96 82 251 88 319 81-420 81 52 81-40 70 15 80 14 81 25 81 45 82-26 81 15M345 544l80 85 81 126 81 163 81-159 80-28 82 524 81-120 81-141 80 14 82-189 81 340 81-114 81 494 90-321 81 106 80-18 81-31 82 353 88 199 81-467 81 55 81 51 70-56 80-34 81-41 81 22 82-2 81-39M345 603l80 129 81 41 81 183 81-259 80 67 82 427 81-11 81-138 80 58 82-232 81 254 81 48 81 290 90-318 81 89 80 20 81-102 82 322 88 397 81-495 81 8 81 13 70-15 80-7 81 46 81-13 82 1 81-5M345 784l80-29 81 79 81 247 81-285 80-81 82 477 81-42 81-97 80-12 82-138 81 238 81 189 81 247 90-399 81 125 80 98 81-32 82 94 88 423 81-513 81 16 81-7 70 47 80 11 81-29 81 21 82 23 81-17M345 755l80-95 81 188 81 207 81-164 80-211 82 523 81-47 81-107 80 25 82-250 81 347 81 182 81 231 90-382 81 67 80-62 81 26 82 306 88 306 81-508 81 84 81-50 70 49 80-48 81 41 81-15 82 14 81-65M345 764l80-6 81 55 81 147 81-171 80-92 82 556 81-93 81-157 80 65 82-246 81 263 81 10 81 389 90-294 81 123 80-27 81-8 82 122 88 441 81-459 81-13 81 14 70-18 80-23 81 8 81 5 82-10 81 10M345 539l80 123 81 92 81 216 81-283 80-142 82 587 81-123 81-98 80 44 82-183 81 311 81-63 81 387 90-246 81 64 80-162 81 90 82 227 88 308 81-448 81 86 81 21 70-43 80 37 81 11 81-42 82 49 81 6M345 652l80 52 81 73 81 203 81-157 80-24 82 451 81-72 81-181 80 57 82-290 81 339 81 111 81 275 90-333 81 52 80-23 81 34 82 142 88 401 81-331 81 84 81 52 70-33 80-17 81 30 81-3 82-54 81 20M345 636l80 49 81 155 81 128 81-231 80-71 82 561 81-103 81-143 80 89 82-300 81 343 81 41 81 407 90-312 81 111 80-8 81-117 82 340 88 242 81-476 81 39 81 1 70 24 80-4 81-6 81 19 82-7 81-36M345 604l80-18 81 120 81 195 81-213 80-177 82 609 81-135 81-2 80 20 82-305 81 380 81-146 81 365 90-241 81 103 80-32 81 42 82 165 88 411 81-550 81 52 81-30 70 70 80-28 81-29 81 22 82 37 81 41M345 555l80 49 81 133 81 178 81-183 80-29 82 430 81-8 81-161 80 45 82-299 81 372 81-133 81 561 90-388 81 94 80-6 81-63 82 355 88 228 81-380 81 38 81-40 70-28 80 1 81-35 81 56 82 2 81-29M345 771l80-52 81 50 81 158 81-164 80-82 82 538 81-8 81-174 80 102 82-231 81 211 81-2 81 362 90-293 81 115 80 16 81-24 82 256 88 336 81-526 81 39 81-3 70 2 80 19 81-31 81 40 82 20 81-30M345 692l80-32 81 76 81 241 81-186 80-69 82 459 81-71 81-63 80 0 82-206 81 312 81 40 81 378 90-357 81 92 80-5 81-91 82 185 88 498 81-539 81 16 81 3 70 27 80-51 81 43 81-2 82 3 81-14M345 549l80 134 81 70 81 216 81-244 80 14 82 400 81 2 81-163 80 7 82-241 81 340 81 9 81 452 90-372 81 143 80 9 81-27 82 187 88 239 81-479 81 73 81-45 70 37 80 51 81-7 81-31 82-29 81-17M345 581l80 88 81 87 81 175 81-216 80-56 82 488 81-120 81-52 80 32 82-256 81 334 81-55 81 313 90-224 81 104 80-104 81 42 82 221 88 367 81-411 81 19 81 5 70-8 80 0 81-66 81-23 82 17 81-22M345 469l80 170 81 142 81 163 81-262 80-129 82 553 81-129 81-10 80 47 82-292 81 323 81-79 81 469 90-321 81 107 80-128 81 51 82 300 88 332 81-271 81-28 81 27 70 26 80-71 81 93 81-9 82-6 81-98M345 537l80 120 81 164 81 220 81-278 80 19 82 418 81-78 81-140 80 42 82-163 81 231 81 60 81 348 90-294 81 92 80-118 81-15 82 180 88 410 81-474 81 56 81 28 70 25 80-33 81-14 81 16 82 18 81-29M345 576l80 161 81 47 81 186 81-250 80-127 82 628 81-199 81-59 80 56 82-259 81 300 81-245 81 454 90-194 81 173 80-18 81-89 82 298 88 314 81-489 81 42 81 33 70 40 80 19 81-66 81-9 82 5 81 1M345 698l80 111 81 41 81 162 81-263 80-4 82 525 81-128 81-124 80 85 82-247 81 277 81-23 81 331 90-292 81 96 80-91 81 80 82 223 88 349 81-405 81 31 81-60 70 64 80-61 81 48 81-41 82-18 81 22M345 602l80 41 81 108 81 119 81-122 80-139 82 561 81-122 81-68 80 26 82-263 81 338 81-141 81 401 90-242 81 47 80-126 81 141 82 142 88 338 81-453 81 26 81 0 70-2 80 33 81 84 81-33 82-53 81 15M345 510l80 134 81 76 81 184 81-203 80-58 82 580 81-120 81-119 80 26 82-257 81 285 81-250 81 663 90-248 81 59 80-103 81-22 82 219 88 315 81-386 81 55 81 19 70-5 80-50 81 23 81 42 82-25 81-17M345 630l80 33 81 57 81 210 81-167 80-211 82 605 81-120 81-110 80 81 82-180 81 241 81-346 81 606 90-266 81 145 80-104 81 82 82 252 88 243 81-350 81-3 81-30 70-22 80-43 81 5 81 43 82 39 81 58M345 584l80 60 81 87 81 146 81-166 80-106 82 549 81-113 81-34 80 61 82-183 81 291 81 86 81 195 90-318 81 85 80-107 81 13 82 358 88 371 81-600 81 66 81-28 70 42 80-9 81 14 81-24 82 5 81 73M345 670l80 63 81 42 81 168 81-157 80-133 82 597 81-22 81-219 80 97 82-230 81 294 81 72 81 323 90-346 81 63 80 94 81 5 82 151 88 388 81-566 81 18 81-8 70 37 80 24 81-19 81 52 82-6 81-10M345 614l80 49 81 80 81 195 81-250 80 38 82 512 81-89 81-198 80 30 82-233 81 324 81-161 81 522 90-314 81 129 80-107 81 64 82 224 88 357 81-525 81 82 81 16 70-36 80 25 81 19 81-14 82-51 81 19M345 658l80 37 81 69 81 227 81-179 80-103 82 544 81-163 81-68 80 71 82-257 81 301 81 60 81 397 90-412 81 113 80-66 81-52 82 252 88 339 81-597 81 61 81-21 70-42 80 33 81 9 81-1 82-26 81 51M345 466l80 114 81 73 81 164 81-245 80-91 82 701 81-122 81-134 80 54 82-258 81 338 81-49 81 312 90-185 81 85 80-28 81-100 82 272 88 278 81-387 81 100 81-62 70 15 80-23 81 8 81 12 82-54 81 43M345 554l80 25 81 104 81 183 81-215 80-144 82 650 81-95 81-142 80 27 82-227 81 280 81-265 81 616 90-251 81 115 80-30 81-11 82 142 88 364 81-397 81 13 81-13 70-13 80-20 81 33 81-11 82-25 81 60M345 545l80 79 81 73 81 194 81-163 80-49 82 501 81-40 81-88 80-25 82-216 81 268 81-150 81 544 90-316 81 91 80-58 81 6 82 313 88 407 81-589 81 38 81-14 70 9 80-41 81-1 81 33 82-56 81 19M345 580l80 92 81 60 81 201 81-214 80-128 82 563 81-15 81-128 80-16 82-310 81 355 81-98 81 570 90-409 81 60 80-34 81 53 82 151 88 382 81-420 81 60 81-43 70 15 80 29 81 36 81-3 82-31 81 9M345 557l80 119 81 118 81 236 81-332 80-22 82 488 81-121 81-68 80 42 82-231 81 327 81 38 81 257 90-266 81 68 80-28 81 12 82 349 88 278 81-452 81 48 81-24 70-15 80-20 81-34 81 8 82 11 81-25M345 579l80 110 81 44 81 195 81-187 80-163 82 547 81-111 81-48 80 34 82-262 81 295 81-338 81 696 90-293 81 41 80 55 81-40 82 185 88 324 81-431 81 61 81-6 70-9 80 37 81 13 81-37 82 41 81 63M345 606l80 111 81 160 81 159 81-303 80-48 82 464 81 15 81-192 80 78 82-236 81 305 81-56 81 488 90-317 81 165 80-139 81 4 82 158 88 434 81-470 81-34 81 1 70-12 80-20 81 28 81 42 82-19 81 20M345 699l80-11 81 47 81 150 81-131 80-61 82 513 81-118 81-89 80 95 82-340 81 369 81-124 81 433 90-307 81 90 80-23 81-25 82 318 88 345 81-488 81 72 81 34 70-34 80 13 81 49 81-27 82-39 81 19M345 506l80 78 81 102 81 212 81-176 80-99 82 558 81-153 81-6 80 10 82-252 81 302 81-226 81 491 90-267 81 92 80 37 81-77 82 204 88 343 81-402 81 68 81-6 70 13 80-30 81 33 81 26 82 28 81-8M345 630l80 77 81 26 81 205 81-144 80 0 82 466 81-27 81-203 80 16 82-197 81 278 81-197 81 528 90-278 81 107 80 7 81-31 82 211 88 322 81-421 81 81 81-5 70 21 80-4 81 31 81-43 82 43 81-23M345 656l80-1 81 106 81 203 81-176 80-93 82 494 81-49 81-167 80 63 82-184 81 227 81 81 81 250 90-315 81 145 80-25 81 51 82 225 88 284 81-407 81 29 81 10 70-16 80-43 81 15 81-15 82 11 81-8M345 503l80 158 81 99 81 206 81-313 80 35 82 509 81-97 81-77 80 33 82-221 81 310 81-249 81 559 90-319 81 86 80-151 81 75 82 208 88 363 81-460 81 6 81 26 70 46 80-29 81-10 81-20 82-18 81 16M345 674l80-1 81 44 81 247 81-241 80-107 82 549 81-42 81-116 80 14 82-214 81 295 81-87 81 465 90-346 81 110 80 37 81-107 82 385 88 170 81-442 81 79 81 43 70 17 80-37 81-36 81 40 82-45 81 14M345 668l80 70 81 38 81 261 81-221 80-90 82 562 81-134 81-97 80 47 82-211 81 293 81 191 81 222 90-402 81 131 80-95 81 87 82 179 88 322 81-492 81 69 81 3 70 11 80 47 81-9 81 5 82-17 81 26M345 624l80 119 81 110 81 100 81-175 80-144 82 559 81-109 81-108 80 28 82-227 81 304 81 52 81 304 90-292 81 94 80-25 81-36 82 263 88 314 81-457 81 21 81-18 70 7 80-48 81 51 81 8 82-9 81 37M345 515l80 74 81 91 81 220 81-239 80 6 82 553 81-100 81-166 80 62 82-307 81 360 81-163 81 419 90-264 81 126 80-29 81 47 82 183 88 332 81-435 81 21 81 49 70-56 80 1 81-21 81 61 82-4 81-22M345 564l80 103 81 81 81 153 81-155 80-31 82 464 81-84 81-150 80 103 82-211 81 222 81 91 81 338 90-299 81 65 80-144 81 19 82 226 88 455 81-501 81 54 81 15 70 14 80-31 81-3 81 9 82 16 81-40M345 575l80 42 81 94 81 151 81-130 80-134 82 587 81 24 81-240 80-3 82-143 81 280 81-76 81 341 90-249 81 180 80-132 81-38 82 241 88 368 81-492 81 30 81-6 70 13 80-31 81 0 81 25 82 23 81 25M345 566l80 107 81 45 81 222 81-237 80-109 82 562 81-95 81-61 80 26 82-237 81 282 81-107 81 420 90-319 81 138 80-147 81 10 82 308 88 349 81-356 81 11 81-21 70 9 80-9 81 27 81-40 82 4 81 27M345 652l80 52 81 73 81 203 81-157 80-24 82 451 81-72 81-181 80 57 82-290 81 339 81 111 81 275 90-333 81 52 80-23 81 34 82 142 88 401 81-407 81 79 81-16 70 26 80-29 81-55 81-6 82 0 81 0M345 549l80 83 81 113 81 158 81-294 80-2 82 566 81-95 81-88 80 47 82-262 81 339 81 0 81 382 90-315 81 47 80-72 81 1 82 206 88 434 81-544 81 70 81 43 70-47 80 1 81 51 81-23 82-8 81-10M345 591l80 117 81 88 81 195 81-223 80-61 82 513 81-122 81-34 80-49 82-196 81 258 81 0 81 405 90-308 81 127 80-74 81-44 82 295 88 288 81-491 81 27 81 42 70 4 80-12 81-17 81-24 82-32 81 80M345 519l80 52 81 165 81 175 81-213 80-109 82 585 81-101 81-94 80-2 82-294 81 416 81-217 81 519 90-273 81 85 80-133 81 72 82 278 88 298 81-556 81 113 81 5 70 16 80-59 81 34 81 13 82-23 81 0M345 578l80 72 81 74 81 183 81-173 80 29 82 454 81-172 81-45 80 88 82-310 81 367 81-6 81 226 90-191 81 145 80-80 81-74 82 371 88 314 81-498 81 96 81-66 70 53 80-24 81-6 81-25 82 40 81-70M345 555l80 121 81 47 81 210 81-240 80-60 82 557 81-112 81-142 80 34 82-246 81 310 81-203 81 580 90-326 81 122 80 4 81-47 82 246 88 380 81-505 81 18 81 5 70-70 80 11 81 29 81-45 82 72 81-2M345 596l80-4 81 89 81 242 81-289 80-134 82 680 81-178 81-104 80 70 82-330 81 398 81-127 81 520 90-346 81 99 80-60 81-97 82 193 88 488 81-495 81 62 81-1 70 25 80 17 81-8 81-65 82 34 81 9M345 721l80-31 81 70 81 284 81-256 80-93 82 546 81-55 81-109 80 35 82-233 81 322 81 158 81 215 90-277 81 10 80 64 81-43 82 213 88 310 81-493 81 103 81-55 70-3 80 24 81-34 81-21 82 47 81-15M345 588l80 145 81 47 81 172 81-245 80-2 82 570 81 45 81-285 80 60 82-218 81 269 81-109 81 491 90-306 81 58 80 15 81-150 82 263 88 372 81-405 81 56 81-33 70 30 80 7 81 11 81-77 82 19 81 39M345 570l80 28 81 81 81 233 81-171 80-204 82 626 81-92 81-133 80 59 82-265 81 248 81-1 81 477 90-284 81 107 80-128 81-53 82 165 88 458 81-450 81 38 81 33 70 18 80-63 81 12 81 12 82-1 81 6M345 741l80-81 81 163 81 242 81-353 80 1 82 501 81-162 81-24 80 45 82-271 81 276 81-92 81 461 90-279 81 173 80-32 81-125 82 328 88 276 81-399 81-14 81-39 70 1 80-46 81 23 81-28 82-50 81 108M345 724l80 97 81 64 81 171 81-230 80-56 82 475 81-80 81-151 80 62 82-239 81 262 81 129 81 305 90-367 81 102 80 43 81-21 82 343 88 255 81-568 81 40 81 25 70-8 80-10 81 7 81 40 82-45 81 32M345 606l80 67 81 69 81 223 81-272 80-42 82 517 81-147 81-66 80 31 82-206 81 317 81-39 81 352 90-301 81 137 80-40 81-3 82 137 88 421 81-473 81 47 81 10 70 24 80-22 81-1 81-19 82-40 81-14M345 632l80 22 81 179 81 126 81-174 80-164 82 573 81-41 81-107 80 17 82-199 81 253 81 54 81 291 90-333 81 71 80 12 81-50 82 305 88 366 81-486 81-6 81-11 70 26 80 37 81-17 81-8 82 1 81-6M345 730l80 54 81 123 81 79 81-219 80 13 82 404 81-66 81-53 80-4 82-241 81 288 81 50 81 277 90-314 81 144 80-108 81 3 82 337 88 337 81-516 81 65 81 23 70 35 80 41 81-39 81-19 82 3 81 0M345 750l80-30 81 106 81 101 81-216 80-61 82 516 81-100 81-45 80 42 82-224 81 284 81 68 81 270 90-203 81 99 80-58 81-80 82 297 88 307 81-393 81 2 81 10 70 10 80-40 81-3 81-46 82 0 81 73M345 431l80 176 81 149 81 146 81-163 80-153 82 574 81-85 81-120 80 36 82-210 81 280 81-307 81 642 90-296 81 126 80-61 81-28 82 205 88 282 81-318 81 31 81-42 70 31 80 36 81-22 81 22 82 18 81-34M345 673l80 53 81 32 81 235 81-253 80-24 82 443 81-29 81-98 80-3 82-261 81 306 81 62 81 401 90-366 81 125 80-17 81-33 82 182 88 402 81-428 81-9 81-3 70-39 80-9 81 21 81-56 82 20 81-7M345 579l80 146 81 147 81 161 81-296 80 9 82 506 81 16 81-195 80 71 82-272 81 308 81 168 81 238 90-404 81 135 80 39 81-55 82 394 88 316 81-533 81-14 81 15 70 3 80-53 81-29 81-11 82 15 81-4M345 665l80 80 81 47 81 296 81-272 80 20 82 410 81-10 81-137 80 34 82-211 81 259 81-73 81 303 90-280 81 114 80-80 81 88 82 268 88 290 81-529 81 52 81 31 70 18 80 69 81-53 81-14 82 27 81 46M345 672l80 35 81 89 81 150 81-247 80-74 82 562 81-103 81-74 80-18 82-233 81 304 81-24 81 371 90-276 81 96 80-106 81-12 82 322 88 358 81-449 81 63 81-87 70 22 80 6 81-38 81 4 82 13 81 17M345 504l80 123 81 140 81 122 81-156 80-93 82 504 81-35 81-149 80 75 82-197 81 263 81-151 81 508 90-350 81 116 80 19 81-38 82 161 88 465 81-461 81 57 81 15 70-23 80 0 81-52 81-24 82-1 81 29M345 654l80 37 81 13 81 204 81-201 80-131 82 604 81-85 81-78 80 40 82-204 81 224 81 1 81 310 90-241 81 106 80-106 81 10 82 218 88 320 81-381 81 17 81 31 70-14 80 57 81 12 81-65 82-17 81 36M345 641l80-9 81 140 81 172 81-255 80-133 82 635 81-142 81-62 80 17 82-244 81 245 81-255 81 517 90-132 81 73 80-118 81-34 82 281 88 339 81-377 81 46 81-35 70-20 80-26 81 12 81 45 82 17 81 1M345 601l80 60 81 32 81 302 81-259 80-102 82 564 81-69 81-93 80 40 82-213 81 285 81 112 81 306 90-389 81 35 80 4 81-39 82 228 88 396 81-515 81 62 81 30 70 38 80 4 81 14 81-18 82 26 81-63M345 569l80 127 81 112 81 97 81-230 80 10 82 554 81-163 81-66 80 49 82-225 81 303 81-110 81 362 90-214 81 86 80 28 81-73 82 358 88 339 81-537 81 53 81 29 70-64 80-19 81 7 81-7 82 3 81 38M345 595l80 82 81 147 81 207 81-293 80-61 82 509 81-12 81-123 80 58 82-204 81 256 81-58 81 346 90-274 81 124 80-100 81-7 82 288 88 387 81-568 81 10 81-17 70 30 80 3 81 31 81 22 82 29 81-35M345 601l80 43 81 55 81 186 81-191 80-26 82 479 81-56 81-141 80 72 82-276 81 309 81-315 81 564 90-259 81 133 80-48 81-14 82 278 88 357 81-509 81 89 81 22 70 17 80-1 81-35 81-59 82 26 81 52M345 670l80 63 81 42 81 168 81-157 80-133 82 597 81-22 81-219 80 97 82-230 81 294 81 72 81 323 90-346 81 63 80 94 81 5 82 151 88 388 81-736 81 20 81 20 70 1 80-54 81 57 81 16 82-28 81-40M345 487l80 63 81 81 81 197 81-201 80-111 82 594 81-139 81-2 80 27 82-273 81 316 81-132 81 424 90-198 81 69 80-73 81-4 82 228 88 386 81-446 81 41 81-28 70-13 80 36 81-29 81-12 82 26 81-5M345 584l80 87 81 94 81 257 81-251 80-67 82 531 81-79 81-84 80-4 82-180 81 204 81 63 81 293 90-285 81 92 80-1 81 2 82 257 88 334 81-513 81 62 81 1 70-12 80 9 81 13 81 1 82-12 81 14M345 702l80 39 81 81 81 195 81-245 80-10 82 440 81-103 81-8 80 62 82-167 81 249 81 271 81 32 90-229 81 34 80 66 81-21 82 223 88 236 81-506 81 63 81-25 70-5 80 23 81 23 81 15 82-37 81-37M345 605l80 154 81 79 81 133 81-266 80-28 82 531 81-96 81-108 80 16 82-169 81 229 81 46 81 312 90-323 81 154 80-57 81-44 82 292 88 259 81-413 81 46 81 31 70-6 80 35 81-51 81-33 82-7 81-53M345 563l80 188 81 8 81 157 81-181 80-11 82 475 81 21 81-117 80-20 82-230 81 265 81-100 81 537 90-314 81 151 80-164 81 14 82 194 88 371 81-394 81-22 81-34 70 7 80 49 81-30 81-1 82 9 81-13M345 564l80 73 81 163 81 202 81-205 80-122 82 519 81 52 81-232 80 28 82-200 81 276 81 150 81 154 90-302 81 151 80-89 81 5 82 265 88 363 81-528 81 64 81-22 70 44 80-56 81 59 81-44 82 26 81 6M345 711l80 62 81 54 81 240 81-211 80-148 82 503 81-140 81-80 80 15 82-248 81 312 81-2 81 486 90-330 81 69 80-106 81-23 82 215 88 363 81-403 81 84 81-18 70-63 80 41 81-37 81-30 82 58 81 17M345 546l80-3 81 147 81 167 81-167 80-59 82 500 81-128 81-62 80 17 82-278 81 363 81-199 81 515 90-292 81 140 80-74 81-69 82 321 88 375 81-488 81 60 81 26 70-44 80 19 81 12 81 28 82-34 81 20M345 602l80 126 81 101 81 177 81-250 80-69 82 502 81-82 81-122 80 64 82-189 81 254 81-35 81 349 90-215 81 72 80-64 81-73 82 302 88 312 81-375 81 15 81-12 70-4 80-3 81-42 81-12 82 44 81 18M345 653l80 56 81 160 81 129 81-263 80 33 82 493 81-54 81-195 80 93 82-336 81 360 81 60 81 355 90-363 81 119 80 64 81-157 82 387 88 164 81-364 81-12 81 64 70-22 80 19 81-42 81-8 82-9 81 27M345 576l80 15 81 134 81 222 81-267 80-78 82 547 81-88 81-62 80 37 82-255 81 324 81-146 81 349 90-160 81 48 80-62 81 6 82 253 88 427 81-464 81 41 81-44 70 16 80-4 81-3 81-29 82 37 81-30M345 639l80 27 81 97 81 244 81-200 80-71 82 448 81-35 81-128 80 70 82-213 81 306 81 216 81 188 90-327 81 49 80-75 81-13 82 301 88 415 81-576 81 37 81-36 70-29 80 0 81-13 81 30 82 26 81-7M345 863l80 46 81 46 81 5 81-215 80-21 82 459 81-56 81-139 80 104 82-318 81 353 81-170 81 589 90-353 81 147 80-75 81 26 82 191 88 345 81-474 81 21 81 13 70 22 80 26 81-20 81 19 82-20 81 19M345 522l80 83 81 117 81 161 81-229 80-130 82 633 81-125 81-87 80 44 82-296 81 349 81 33 81 297 90-234 81 68 80-58 81-20 82 306 88 275 81-495 81 69 81 38 70 6 80-22 81-13 81 55 82-40 81-24M345 625l80 29 81 191 81 123 81-248 80 27 82 445 81-45 81-120 80 45 82-255 81 268 81 2 81 293 90-196 81 100 80-26 81-29 82 274 88 355 81-499 81 27 81-2 70 48 80-43 81 26 81-6 82-30 81-39M345 535l80 113 81 153 81 211 81-300 80 3 82 498 81-96 81-127 80-18 82-277 81 303 81-281 81 737 90-361 81 151 80 13 81-101 82 257 88 465 81-571 81 41 81-15 70-4 80-57 81-16 81 66 82 32 81-9M345 574l80-5 81 161 81 200 81-256 80-63 82 550 81-88 81-114 80 44 82-237 81 281 81-196 81 534 90-267 81 73 80-102 81 25 82 139 88 489 81-494 81 22 81 64 70-21 80 29 81-39 81 10 82 37 81-38M345 568l80 70 81 124 81 468 81-476 80-75 82 508 81-175 81-35 80-2 82-232 81 325 81 22 81 232 90-198 81 71 80-94 81 41 82 270 88 196 81-357 81 88 81 11 70-6 80-11 81 2 81 4 82-39 81-31M345 516l80 69 81 144 81 145 81-223 80-117 82 630 81-66 81-146 80 55 82-190 81 248 81-24 81 307 90-230 81 68 80-51 81-47 82 276 88 460 81-528 81 11 81-55 70 73 80 6 81-25 81-4 82 1 81 12M345 675l80 40 81 1 81 135 81-191 80-58 82 515 81-78 81-78 80 15 82-243 81 341 81-2 81 290 90-202 81 23 80-117 81-5 82 365 88 281 81-400 81 14 81 7 70-10 80-5 81-49 81 16 82-7 81 46M345 561l80 77 81 103 81 231 81-187 80-69 82 473 81-115 81-112 80 13 82-187 81 321 81 36 81 336 90-340 81 129 80-82 81-3 82 229 88 308 81-473 81 48 81 0 70-19 80-23 81 68 81 14 82-52 81-33M345 520l80 131 81 61 81 168 81-206 80-102 82 521 81-96 81-110 80 44 82-215 81 251 81-264 81 578 90-211 81 155 80-44 81-76 82 234 88 456 81-482 81 74 81-32 70-6 80 36 81-52 81 12 82 26 81-19M345 776l80-54 81 112 81 117 81-180 80-15 82 484 81 31 81-229 80 54 82-283 81 330 81 172 81 221 90-365 81 135 80-9 81-24 82 367 88 201 81-470 81-17 81 10 70 29 80 13 81-3 81 24 82-27 81-19M345 586l80 113 81 23 81 226 81-292 80-169 82 651 81-164 81-25 80 25 82-179 81 237 81-105 81 436 90-233 81 107 80-35 81-11 82 250 88 285 81-464 81 56 81 1 70 19 80-20 81 29 81 27 82-9 81 30M345 476l80 122 81 152 81 224 81-245 80-10 82 484 81-77 81-169 80 47 82-205 81 242 81-163 81 546 90-312 81 129 80-23 81-137 82 251 88 437 81-546 81 31 81 0 70 59 80 19 81-22 81 40 82-12 81 12M345 559l80 24 81 103 81 255 81-184 80-2 82 443 81-43 81-175 80 71 82-239 81 263 81-100 81 497 90-319 81 90 80-2 81-62 82 287 88 344 81-524 81 84 81 6 70 23 80-53 81-23 81 35 82-19 81-45M345 737l80-73 81 85 81 171 81-237 80 9 82 543 81-170 81-77 80 11 82-236 81 332 81 53 81 323 90-292 81 98 80 17 81-122 82 379 88 261 81-488 81 19 81-15 70 8 80 4 81-45 81 27 82-8 81-23M345 650l80 14 81 36 81 274 81-170 80-134 82 518 81-13 81-146 80 56 82-302 81 306 81 15 81 290 90-235 81 73 80-43 81 9 82 240 88 391 81-514 81 60 81 22 70 18 80-31 81-36 81 8 82 58 81-31M345 532l80 119 81 75 81 204 81-212 80-158 82 611 81-95 81-138 80 72 82-356 81 393 81-129 81 451 90-241 81 115 80-83 81-49 82 255 88 323 81-364 81 61 81-23 70-72 80 35 81 9 81 8 82-11 81-54M345 757l80 12 81-6 81 258 81-194 80-116 82 520 81-99 81-108 80 7 82-257 81 303 81 111 81 408 90-413 81 164 80-95 81 72 82 289 88 361 81-593 81 26 81 67 70-16 80-55 81 69 81-66 82-10 81 45M345 604l80 73 81 75 81 228 81-256 80 41 82 464 81-56 81-161 80 98 82-268 81 323 81 137 81 163 90-324 81 111 80-16 81-12 82 201 88 345 81-424 81 37 81 29 70-41 80-34 81 47 81-18 82-1 81-34M345 626l80 86 81 22 81 180 81-251 80-34 82 556 81-100 81-75 80-8 82-284 81 348 81-28 81 345 90-276 81 85 80-80 81-54 82 302 88 358 81-430 81 16 81 29 70 50 80-42 81-29 81-7 82 46 81 23M345 613l80-8 81 70 81 242 81-267 80-13 82 522 81-101 81-129 80-6 82-294 81 355 81-13 81 486 90-294 81 50 80 16 81-8 82 266 88 245 81-476 81 59 81 28 70-62 80 1 81 43 81-22 82-41 81-29M345 588l80 45 81 68 81 282 81-252 80 13 82 479 81-70 81-168 80 36 82-220 81 271 81 118 81 253 90-247 81 187 80-177 81-43 82 236 88 492 81-556 81 26 81 52 70-45 80-28 81-17 81-2 82 13 81-5M345 530l80 115 81 62 81 169 81-125 80-56 82 514 81-141 81-78 80 17 82-293 81 331 81-49 81 467 90-350 81 132 80-40 81 26 82 258 88 279 81-436 81 25 81-57 70 45 80 46 81-34 81-22 82-19 81-26M345 717l80-39 81 115 81 310 81-311 80-11 82 514 81-105 81-132 80 25 82-242 81 255 81 109 81 248 90-309 81 80 80 38 81 15 82 330 88 285 81-467 81-23 81 43 70-12 80 1 81 34 81 6 82-69 81 47M345 525l80 99 81 138 81 195 81-224 80-85 82 545 81-121 81-104 80 37 82-244 81 346 81-2 81 276 90-299 81 190 80-71 81-70 82 253 88 374 81-533 81 73 81 10 70-40 80 9 81-2 81 36 82 11 81-18M345 620l80 59 81 95 81 198 81-188 80-179 82 607 81-60 81-122 80 18 82-196 81 262 81-246 81 619 90-357 81 76 80 8 81-34 82 179 88 430 81-410 81 40 81-8 70-9 80 27 81-2 81-28 82-42 81-11M345 581l80 52 81 38 81 194 81-174 80 13 82 479 81-66 81-160 80 12 82-262 81 295 81-175 81 461 90-238 81 126 80-27 81-125 82 251 88 363 81-366 81 68 81 10 70 18 80-56 81 35 81 3 82-46 81 44M345 596l80 20 81 40 81 197 81-176 80 33 82 458 81-125 81-81 80 62 82-219 81 246 81-292 81 607 90-262 81 87 80-12 81-59 82 299 88 325 81-491 81 63 81-11 70 4 80 28 81 28 81-39 82 17 81 37M345 778l80-75 81 76 81 246 81-224 80 22 82 449 81 59 81-317 80 66 82-153 81 294 81 250 81 201 90-421 81 43 80-63 81-3 82 397 88 309 81-440 81-43 81-16 70 35 80-24 81-63 81-50 82 27 81 48M345 734l80 43 81 29 81 153 81-188 80-90 82 520 81-107 81-101 80 13 82-239 81 316 81-157 81 518 90-265 81 59 80-30 81-25 82 173 88 427 81-396 81 28 81-24 70-73 80-11 81 22 81 54 82-28 81 20M345 811l80-76 81 97 81 186 81-278 80-165 82 639 81 30 81-147 80-19 82-275 81 336 81 43 81 375 90-347 81 63 80-76 81 68 82 190 88 348 81-455 81 2 81 38 70 62 80-30 81-22 81-11 82 30 81 99M345 586l80 56 81 103 81 183 81-212 80-12 82 502 81-102 81-147 80 44 82-294 81 360 81-168 81 411 90-236 81 148 80-77 81 24 82 157 88 385 81-446 81 28 81 3 70 39 80 13 81 11 81-2 82-23 81 28M345 592l80 27 81 66 81 186 81-148 80-49 82 517 81-60 81-156 80 32 82-168 81 281 81-117 81 363 90-202 81 86 80 41 81-47 82 286 88 226 81-439 81 45 81 26 70 19 80-48 81 43 81-7 82-1 81 30M345 591l80 131 81 76 81 90 81-143 80-49 82 539 81-36 81-188 80 17 82-221 81 243 81-58 81 344 90-169 81 73 80 7 81-71 82 199 88 336 81-394 81-19 81 49 70 34 80-21 81 28 81-53 82-27 81 48M345 739l80-61 81 91 81 180 81-225 80-10 82 555 81-155 81-89 80 32 82-269 81 361 81-60 81 345 90-305 81 149 80 22 81-116 82 285 88 302 81-503 81 18 81 63 70-19 80-13 81-2 81 41 82 14 81 20M345 620l80 69 81 54 81 181 81-216 80-121 82 603 81-60 81-110 80 16 82-235 81 288 81 75 81 395 90-303 81 20 80-19 81 1 82 357 88 231 81-469 81 11 81 3 70-38 80 40 81-30 81 35 82 51 81 6M345 694l80 17 81 88 81 207 81-322 80 3 82 484 81-29 81-98 80-57 82-218 81 364 81-100 81 363 90-212 81 87 80 31 81-117 82 201 88 326 81-478 81 43 81-18 70 69 80 12 81-55 81 45 82-33 81 4M345 567l80 103 81 59 81 170 81-182 80-148 82 617 81-91 81-119 80 49 82-247 81 342 81 80 81 370 90-327 81 56 80-61 81-21 82 114 88 416 81-440 81 55 81-22 70 57 80-49 81 22 81 15 82-44 81-43M345 718l80-4 81 101 81 189 81-230 80-84 82 493 81-124 81-127 80 100 82-282 81 311 81 10 81 266 90-221 81 116 80-77 81 26 82 295 88 327 81-530 81-9 81 12 70 7 80 10 81-27 81 77 82 4 81-10M345 481l80 120 81 107 81 245 81-223 80-16 82 463 81-29 81-167 80 5 82-285 81 363 81-270 81 611 90-317 81 100 80 53 81-29 82 370 88 220 81-483 81 32 81-10 70 25 80-53 81-23 81 22 82-2 81 9M345 526l80 49 81 123 81 220 81-250 80-146 82 620 81-86 81-80 80 53 82-357 81 303 81 72 81 147 90-78 81 71 80 36 81-32 82 253 88 346 81-559 81 75 81 0 70-13 80 10 81 19 81-32 82-7 81-53M345 656l80 86 81 83 81 251 81-272 80-8 82 377 81-37 81-110 80 20 82-180 81 284 81-93 81 451 90-349 81 82 80-50 81-5 82 308 88 288 81-466 81 40 81-11 70-41 80-9 81 2 81 67 82 19 81-14M345 678l80 51 81 144 81 193 81-152 80-178 82 482 81-14 81-154 80 57 82-194 81 229 81 96 81 410 90-358 81 69 80-26 81-45 82 232 88 402 81-590 81 72 81-27 70 11 80 30 81 41 81-7 82 16 81 14M345 552l80 73 81 138 81 252 81-324 80-67 82 499 81-93 81-111 80 30 82-206 81 315 81-198 81 579 90-345 81 101 80-5 81-113 82 188 88 382 81-418 81 45 81-24 70 21 80 34 81-50 81 50 82 45 81-27M345 645l80 120 81 30 81 137 81-173 80-75 82 502 81-164 81-61 80 52 82-184 81 334 81-112 81 441 90-288 81 93 80-135 81 8 82 234 88 309 81-392 81 61 81-46 70-4 80-34 81 47 81 33 82 11 81 18M345 759l80 5 81 103 81 226 81-296 80 12 82 496 81-47 81-225 80 93 82-245 81 228 81 126 81 288 90-238 81 26 80 98 81-99 82 371 88 200 81-477 81 55 81-29 70 38 80-15 81 26 81 10 82-64 81 37M345 514l80 144 81 101 81 119 81-167 80-131 82 565 81-58 81-68 80 73 82-300 81 313 81-112 81 420 90-318 81 89 80-77 81 36 82 362 88 269 81-447 81 16 81-17 70-32 80 43 81 15 81-21 82 36 81 6M345 594l80 21 81 125 81 163 81-232 80-130 82 607 81-133 81-92 80 118 82-263 81 333 81-5 81 332 90-315 81 98 80-115 81-31 82 219 88 317 81-345 81 79 81 23 70-20 80 4 81-4 81-12 82 3 81-8M345 638l80 110 81 13 81 217 81-185 80-125 82 528 81-91 81-156 80 43 82-228 81 337 81-46 81 321 90-271 81 114 80-87 81-47 82 336 88 478 81-598 81 10 81 7 70 29 80 6 81 34 81-12 82-50 81 50M345 647l80 110 81 29 81 155 81-140 80-132 82 526 81-126 81-38 80-14 82-203 81 282 81-87 81 520 90-364 81 122 80 67 81-109 82 187 88 423 81-510 81 8 81 0 70-2 80-39 81 28 81-42 82 53 81 34M345 648l80 112 81 70 81 154 81-225 80-41 82 530 81-101 81-146 80 53 82-243 81 299 81 74 81 316 90-273 81 65 80-49 81-56 82 224 88 450 81-495 81 64 81-44 70 12 80 27 81 14 81 29 82-28 81-6M345 729l80 33 81 87 81 280 81-265 80-132 82 530 81-103 81-53 80-33 82-198 81 248 81 24 81 409 90-381 81 116 80-61 81-21 82 356 88 308 81-511 81 14 81 1 70-10 80-1 81 69 81 10 82-10 81-13M345 570l80 107 81 50 81 219 81-299 80-57 82 532 81-96 81-117 80 45 82-257 81 411 81-113 81 355 90-194 81 125 80-135 81-31 82 178 88 377 81-413 81 77 81 2 70 25 80-1 81-39 81 6 82-41 81-23M345 635l80 6 81 135 81 129 81-137 80-198 82 582 81-71 81-95 80 9 82-162 81 229 81-160 81 417 90-246 81 96 80-46 81-20 82 320 88 249 81-388 81 44 81-4 70-26 80-36 81 50 81-6 82 13 81 18M345 650l80 37 81 71 81 259 81-268 80 52 82 450 81-39 81-67 80-17 82-306 81 327 81 285 81 147 90-334 81 125 80 38 81-110 82 343 88 255 81-456 81 44 81-79 70 28 80 35 81-35 81-15 82 38 81-26M345 526l80 49 81 123 81 220 81-250 80-146 82 620 81-86 81-80 80 53 82-357 81 303 81-338 81 740 90-246 81 56 80 36 81-32 82 253 88 346 81-559 81 75 81 0 70-13 80 10 81 19 81-32 82-7 81-53M345 659l80 3 81 77 81 257 81-242 80-66 82 526 81-66 81-99 80 68 82-309 81 287 81-76 81 447 90-237 81 125 80 8 81-17 82 216 88 334 81-571 81 48 81 3 70 46 80 24 81 0 81-19 82-1 81-11M345 668l80 13 81 129 81 187 81-294 80-88 82 583 81-118 81-75 80 41 82-271 81 290 81-218 81 569 90-252 81 52 80-132 81 89 82 192 88 383 81-478 81 32 81 11 70-16 80 7 81-9 81 11 82 23 81 3M345 505l80 108 81 83 81 299 81-287 80-104 82 572 81-31 81-149 80 18 82-229 81 302 81-23 81 395 90-314 81 66 80-22 81 10 82 216 88 373 81-485 81 43 81 38 70-10 80-47 81 21 81 13 82 0 81-6M345 746l80-52 81 134 81 215 81-161 80-127 82 478 81-61 81-78 80 52 82-295 81 275 81 16 81 289 90-238 81 122 80-17 81 14 82 285 88 315 81-544 81 54 81-2 70 0 80-6 81-26 81 5 82 43 81 12M345 508l80 48 81 192 81 181 81-256 80-61 82 572 81-155 81-29 80 16 82-279 81 357 81-129 81 465 90-274 81 45 80-49 81 3 82 175 88 375 81-356 81 0 81 37 70 25 80 30 81-64 81-26 82-30 81-4M345 556l80 44 81 160 81 121 81-187 80-102 82 586 81-81 81-91 80 37 82-335 81 383 81 27 81 288 90-314 81 107 80-91 81-2 82 283 88 306 81-393 81 36 81-22 70-44 80 57 81-11 81 27 82-7 81-8M345 565l80-4 81 158 81 171 81-202 80-3 82 470 81-161 81-47 80 57 82-257 81 372 81-143 81 445 90-254 81 125 80-154 81 6 82 277 88 333 81-510 81 88 81-32 70 17 80 41 81 37 81-70 82 17 81-15M345 543l80 24 81 145 81 227 81-302 80-72 82 564 81-40 81-96 80 33 82-336 81 377 81-270 81 623 90-286 81 75 80-131 81 26 82 187 88 378 81-468 81 32 81 57 70-67 80-11 81 0 81 56 82-4 81-2M345 625l80 161 81 30 81 195 81-157 80-126 82 529 81 55 81-284 80 14 82-249 81 305 81 82 81 282 90-270 81 98 80 76 81-71 82 262 88 390 81-484 81 53 81 0 70 19 80-29 81-12 81 22 82-52 81 30M345 660l80-26 81 121 81 151 81-179 80-116 82 558 81-123 81-52 80 14 82-232 81 286 81-48 81 367 90-297 81 155 80-103 81 7 82 253 88 335 81-471 81 13 81 54 70-32 80 20 81-37 81 51 82 6 81 39M345 499l80 33 81 199 81 141 81-251 80-116 82 594 81-82 81-82 80 88 82-264 81 252 81-173 81 439 90-218 81 107 80-90 81 73 82 198 88 354 81-399 81 70 81-38 70 15 80-42 81-20 81-13 82-29 81-2M345 554l80 136 81 122 81 165 81-230 80-161 82 596 81-38 81-186 80 108 82-250 81 296 81-249 81 554 90-313 81 81 80-87 81-26 82 401 88 257 81-453 81 38 81 25 70 35 80-40 81-28 81 18 82 47 81-21M345 542l80 74 81 175 81 220 81-172 80-91 82 499 81-49 81-205 80 79 82-273 81 330 81 88 81 211 90-225 81 118 80 22 81-30 82 307 88 363 81-576 81 43 81-27 70-59 80 12 81 6 81-27 82-2 81-18M345 766l80 16 81 131 81 166 81-351 80 38 82 486 81-20 81-193 80-20 82-279 81 432 81-42 81 325 90-408 81 91 80-147 81 10 82 486 88 465 81-576 81 64 81-70 70 10 80 53 81-36 81 15 82-24 81-3M345 538l80 102 81 167 81 107 81-183 80-31 82 473 81-110 81-148 80 46 82-235 81 330 81-40 81 348 90-220 81 113 80-129 81 2 82 150 88 387 81-462 81 47 81-16 70 59 80 34 81-29 81-21 82-12 81-26M345 614l80 42 81 90 81 151 81-213 80-39 82 530 81-118 81-86 80 90 82-272 81 264 81-140 81 355 90-133 81 69 80-29 81-23 82 108 88 472 81-424 81 60 81 0 70-40 80 46 81 17 81-51 82-22 81-9M345 558l80 43 81 157 81 124 81-191 80-53 82 563 81-60 81-164 80 1 82-238 81 282 81-409 81 672 90-168 81 18 80 26 81-43 82 299 88 201 81-415 81 56 81-26 70 12 80-2 81 30 81-59 82 38 81-32M345 695l80-8 81 28 81 210 81-287 80 1 82 572 81-95 81-82 80 24 82-215 81 273 81-169 81 489 90-293 81 118 80-64 81-78 82 234 88 380 81-407 81 55 81 5 70 18 80-24 81-76 81 45 82-32 81-15M345 523l80 190 81 93 81 156 81-248 80-143 82 608 81-66 81-131 80 73 82-210 81 231 81 91 81 449 90-400 81 45 80-27 81-13 82 262 88 321 81-507 81 26 81-9 70 66 80-42 81-31 81-8 82-3 81 63M345 681l80-55 81 124 81 280 81-309 80-15 82 570 81-22 81-235 80 26 82-165 81 293 81-73 81 319 90-275 81 130 80-20 81 6 82 177 88 335 81-375 81 4 81-32 70-6 80-19 81 13 81-39 82 50 81-8M345 707l80-5 81 153 81 231 81-287 80-13 82 482 81-110 81-102 80 52 82-202 81 262 81 140 81 175 90-218 81 83 80-75 81-71 82 356 88 329 81-492 81 23 81-3 70-25 80 18 81-38 81 28 82 1 81-23M345 607l80 44 81 62 81 206 81-194 80-4 82 500 81-53 81-134 80 35 82-187 81 232 81 17 81 384 90-275 81 55 80-112 81-41 82 135 88 516 81-529 81 95 81 24 70 42 80 26 81 13 81-29 82-49 81-26M345 518l80 105 81 45 81 294 81-235 80-76 82 475 81-58 81-76 80 5 82-261 81 371 81-21 81 341 90-272 81 73 80 18 81-133 82 261 88 363 81-487 81 47 81-34 70 16 80-12 81 1 81 17 82 8 81 32M345 649l80 70 81 101 81 177 81-220 80 20 82 439 81-2 81-206 80 23 82-286 81 367 81 143 81 214 90-343 81 108 80 22 81 62 82 234 88 285 81-487 81 54 81 17 70 25 80-56 81-11 81-11 82-14 81-4M345 702l80 18 81 115 81 181 81-196 80-42 82 421 81-37 81-138 80 36 82-304 81 295 81 147 81 289 90-299 81 47 80 18 81-19 82 344 88 241 81-483 81 58 81-2 70-52 80-14 81 33 81 23 82 62 81-88M345 676l80 37 81 102 81 116 81-229 80-89 82 568 81-131 81-76 80-12 82-220 81 341 81-188 81 505 90-279 81 75 80-4 81 48 82 205 88 213 81-362 81 83 81-42 70 35 80-38 81 34 81 53 82-31 81-42M345 569l80 103 81 110 81 97 81-174 80-166 82 628 81-180 81-24 80 22 82-309 81 337 81-128 81 500 90-317 81 132 80-91 81-25 82 152 88 480 81-508 81 77 81-25 70 15 80 20 81 7 81-10 82 15 81-52M345 806l80-88 81 38 81 162 81-221 80 40 82 549 81-86 81-124 80 39 82-223 81 259 81-109 81 440 90-271 81 118 80 12 81 11 82 190 88 263 81-527 81 64 81 31 70 22 80-3 81-11 81 55 82-70 81 41M345 618l80 97 81 39 81 122 81-214 80-104 82 598 81-93 81-82 80 10 82-240 81 339 81-147 81 396 90-242 81 108 80-7 81 16 82 297 88 342 81-570 81 42 81 51 70-14 80-9 81-27 81-17 82 20 81 27M345 459l80 161 81 90 81 138 81-231 80-63 82 542 81-26 81-158 80 30 82-292 81 389 81-199 81 530 90-216 81 119 80-48 81-71 82 216 88 364 81-457 81 2 81 19 70-14 80-3 81-8 81 8 82 31 81-63M345 612l80 53 81 73 81 204 81-203 80 38 82 428 81-121 81-96 80 79 82-240 81 301 81 105 81 336 90-361 81 115 80-56 81 25 82 253 88 422 81-583 81 26 81 23 70 18 80 25 81-64 81-47 82 19 81-19M345 469l80 170 81 142 81 163 81-262 80-129 82 553 81-129 81-10 80 47 82-292 81 323 81-79 81 469 90-321 81 107 80-128 81 51 82 300 88 332 81-520 81 27 81 47 70-6 80 31 81 26 81-63 82 32 81-34M345 597l80 139 81 139 81 159 81-281 80-42 82 485 81 10 81-146 80 63 82-331 81 338 81 213 81 261 90-418 81 108 80 21 81-58 82 326 88 314 81-736 81 23 81 29 70-28 80-68 81 52 81-10 82 60 81-27M345 647l80 17 81 104 81 168 81-277 80-15 82 500 81-86 81-80 80 6 82-160 81 289 81-78 81 470 90-260 81 74 80-112 81 36 82 248 88 255 81-443 81 58 81 33 70-38 80-38 81 38 81 15 82-24 81-11M345 709l80-23 81 58 81 196 81-241 80 76 82 423 81 44 81-208 80 10 82-264 81 356 81 119 81 246 90-320 81 85 80-21 81 39 82 321 88 161 81-402 81 37 81-20 70-46 80 4 81 10 81 5 82 27 81-31M345 616l80 159 81 10 81 267 81-194 80-53 82 473 81-98 81-165 80 0 82-287 81 404 81 27 81 301 90-322 81 127 80 37 81 20 82 113 88 305 81-396 81-6 81-18 70 9 80 34 81-18 81 64 82-29 81-3M345 681l80 3 81 60 81 265 81-229 80-163 82 615 81-142 81-106 80 127 82-290 81 370 81-30 81 305 90-305 81 82 80 8 81-2 82 219 88 326 81-454 81 10 81-24 70 11 80 58 81-13 81 14 82 24 81-44M345 676l80 28 81 135 81 212 81-176 80-99 82 440 81 78 81-216 80 72 82-188 81 162 81-118 81 525 90-300 81 24 80 71 81-20 82 225 88 401 81-548 81 51 81 8 70 12 80 39 81-32 81-49 82-12 81-38M345 637l80 38 81 161 81 286 81-320 80-63 82 517 81-157 81-66 80 17 82-280 81 370 81-59 81 460 90-393 81 154 80-86 81 9 82 354 88 421 81-533 81 1 81-42 70 6 80-61 81-5 81-36 82 21 81 12M345 621l80 65 81 46 81 267 81-179 80-53 82 461 81-113 81-74 80 26 82-290 81 354 81 188 81 231 90-346 81 80 80 19 81-75 82 238 88 464 81-471 81-1 81 18 70-30 80-25 81-25 81 54 82 36 81-30M345 869l80-76 81 97 81 217 81-307 80-71 82 489 81-68 81-143 80 91 82-278 81 278 81-98 81 431 90-215 81 116 80-8 81-62 82 262 88 403 81-503 81-12 81 9 70-40 80 34 81-9 81 15 82 53 81-69M345 707l80 7 81 98 81 234 81-277 80-25 82 505 81-160 81-136 80 47 82-190 81 284 81-126 81 564 90-324 81 74 80-77 81 24 82 311 88 217 81-393 81 12 81-9 70-22 80 0 81 8 81-38 82 18 81-27M345 541l80 95 81 116 81 142 81-142 80-126 82 588 81-141 81-87 80 19 82-270 81 311 81-33 81 514 90-396 81 150 80 27 81-60 82 337 88 324 81-540 81 58 81-69 70 27 80 8 81 8 81 5 82 3 81-23M345 596l80-4 81 89 81 503 81-550 80-134 82 680 81-178 81-104 80 70 82-330 81 398 81-127 81 520 90-346 81 99 80-60 81-97 82 193 88 488 81-495 81 62 81-1 70 25 80 17 81-8 81-65 82 34 81 9M345 683l80 49 81 115 81 121 81-193 80-26 82 543 81-77 81-164 80 33 82-280 81 350 81 295 81 143 90-374 81 131 80-71 81-43 82 202 88 348 81-413 81 31 81 22 70-4 80-36 81 9 81-34 82-34 81 7M345 671l80 116 81 37 81 195 81-233 80-13 82 471 81-57 81-125 80 67 82-255 81 251 81-15 81 374 90-254 81 98 80-19 81-56 82 394 88 190 81-507 81 78 81-26 70 47 80 1 81 44 81 32 82-56 81-47M345 615l80 6 81 76 81 146 81-246 80 29 82 550 81-169 81-28 80 18 82-249 81 327 81 16 81 355 90-294 81 62 80 20 81-113 82 250 88 345 81-370 81 27 81 16 70-51 80 28 81-53 81 31 82-15 81-65M345 611l80 31 81 50 81 232 81-240 80 21 82 464 81-94 81-82 80 25 82-236 81 346 81-170 81 505 90-326 81 53 80-46 81-76 82 259 88 477 81-474 81 62 81-49 70 38 80 20 81-40 81 41 82-62 81 6M345 502l80 128 81 189 81 130 81-221 80-82 82 521 81-178 81-43 80 47 82-287 81 352 81-255 81 569 90-230 81 83 80-47 81-2 82 144 88 400 81-469 81 59 81 19 70 34 80-35 81-48 81-21 82 32 81-4M345 656l80-1 81 106 81 203 81-176 80-93 82 494 81-49 81-167 80 63 82-184 81 227 81 81 81 250 90-315 81 145 80-25 81 51 82 225 88 284 81-372 81 123 81-11 70-33 80 119 81-96 81-32 82 32 81-8M345 713l80-7 81 55 81 170 81-227 80-107 82 590 81-28 81-185 80 87 82-199 81 248 81 56 81 233 90-236 81 87 80 30 81-44 82 268 88 328 81-458 81 13 81-28 70 25 80-24 81 9 81-33 82-1 81-17M345 597l80 74 81 92 81 127 81-205 80-5 82 497 81-58 81-122 80 53 82-280 81 283 81 63 81 379 90-310 81 70 80-34 81-48 82 316 88 303 81-452 81 4 81-17 70-13 80-27 81 40 81 6 82 31 81 24M345 544l80 96 81 54 81 198 81-214 80-21 82 524 81 8 81-181 80-5 82-250 81 315 81-98 81 397 90-205 81 93 80 5 81-37 82 120 88 398 81-482 81 9 81 38 70 17 80 26 81-9 81-53 82-27 81 6M345 684l80 160 81 43 81 127 81-299 80 76 82 416 81 19 81-181 80 68 82-230 81 259 81 83 81 318 90-330 81 139 80-25 81-77 82 243 88 306 81-382 81-32 81 14 70 41 80-2 81 15 81-24 82 2 81-23M345 512l80 64 81 151 81 177 81-249 80 6 82 494 81-33 81-145 80 34 82-237 81 336 81 10 81 235 90-208 81 89 80-8 81-54 82 132 88 437 81-423 81 41 81-32 70 10 80-12 81-22 81-58 82 68 81-23M345 599l80 28 81 167 81 133 81-282 80-88 82 586 81-87 81-21 80 3 82-252 81 285 81-6 81 426 90-338 81 115 80 14 81-138 82 202 88 287 81-336 81-16 81-3 70 10 80 21 81-15 81 18 82-6 81 32M345 531l80 156 81 75 81 172 81-187 80-30 82 483 81 56 81-141 80-16 82-201 81 265 81 45 81 315 90-264 81-11 80 72 81-105 82 163 88 476 81-511 81 22 81 37 70-8 80 38 81-35 81-5 82 10 81 13M345 573l80 22 81 82 81 187 81-224 80-18 82 608 81-179 81-108 80 82 82-271 81 276 81-28 81 454 90-301 81 124 80-129 81-49 82 332 88 317 81-481 81 55 81-46 70-18 80 52 81-49 81 57 82 37 81-19M345 536l80 162 81 46 81 164 81-118 80-172 82 607 81-129 81-109 80 68 82-169 81 230 81 16 81 362 90-300 81 36 80-28 81-7 82 200 88 378 81-437 81 18 81 12 70 4 80 41 81-31 81-52 82 40 81-20M345 628l80 48 81 49 81 173 81-128 80-28 82 482 81-152 81-154 80 85 82-200 81 303 81-117 81 424 90-237 81 64 80-126 81 99 82 293 88 241 81-464 81-23 81 62 70 15 80 2 81 4 81 19 82 11 81-61M345 490l80 88 81 181 81 191 81-212 80-95 82 507 81-116 81-143 80 105 82-247 81 295 81-165 81 499 90-269 81 131 80-87 81 13 82 240 88 237 81-337 81-16 81 13 70 35 80 48 81-52 81-18 82 6 81-22M345 603l80 102 81 149 81 140 81-216 80-143 82 536 81-86 81-119 80 55 82-289 81 308 81 61 81 398 90-362 81 159 80-100 81-82 82 270 88 417 81-485 81 17 81-8 70 30 80-49 81 46 81-10 82-29 81 0M345 642l80 61 81 35 81 229 81-264 80-208 82 644 81-49 81-146 80 29 82-312 81 349 81-137 81 535 90-257 81 70 80-96 81-27 82 294 88 304 81-459 81 71 81 29 70-55 80-4 81 25 81 38 82-38 81 1M345 547l80 137 81 66 81 183 81-233 80 12 82 479 81-144 81-106 80-24 82-173 81 373 81-214 81 432 90-182 81 98 80-25 81-41 82 205 88 356 81-393 81 15 81 3 70-46 80 1 81-59 81 18 82 8 81-76M345 631l80 62 81 110 81 145 81-190 80-65 82 549 81-124 81-89 80-15 82-165 81 288 81-138 81 481 90-340 81 111 80 40 81-10 82 196 88 237 81-409 81 42 81 21 70-35 80 32 81 40 81-33 82-26 81 18M345 610l80 56 81 108 81 249 81-283 80-130 82 595 81-48 81-134 80 59 82-198 81 254 81 69 81 254 90-298 81 95 80 27 81-117 82 151 88 390 81-457 81 112 81-33 70 33 80-8 81-55 81-30 82 46 81-10M345 666l80 61 81 203 81 94 81-216 80-159 82 580 81-21 81-162 80-8 82-158 81 251 81 127 81 249 90-293 81 151 80 39 81-86 82 370 88 308 81-606 81 11 81 15 70 63 80-21 81-26 81 50 82-40 81-43M345 696l80 5 81 83 81 154 81-230 80-144 82 631 81-104 81-107 80 80 82-334 81 291 81-59 81 420 90-237 81 75 80-23 81 45 82 228 88 265 81-446 81 20 81 9 70 28 80-24 81 3 81-30 82-39 81-42M345 644l80 87 81 101 81 170 81-259 80-43 82 558 81-76 81-179 80 24 82-179 81 313 81-40 81 428 90-276 81 2 80-5 81-83 82 320 88 401 81-575 81 74 81-7 70-18 80-32 81 26 81-8 82 19 81 55M345 652l80 23 81 42 81 215 81-269 80-40 82 577 81-42 81-126 80-7 82-270 81 367 81-3 81 349 90-357 81 126 80-17 81-80 82 219 88 446 81-486 81-5 81-15 70 13 80-41 81 31 81 12 82 62 81-52M345 683l80 10 81 21 81 155 81-267 80-93 82 674 81-20 81-192 80 18 82-315 81 348 81-222 81 514 90-208 81 76 80-37 81-43 82 129 88 426 81-405 81 79 81 29 70-32 80 31 81-10 81-35 82 27 81 27M345 685l80 81 81 50 81 234 81-146 80-145 82 531 81 9 81-249 80 86 82-276 81 243 81-54 81 422 90-261 81 84 80 98 81-83 82 350 88 217 81-555 81 59 81 42 70 42 80-69 81 30 81-2 82-40 81 47M345 651l80 105 81 14 81 132 81-163 80-104 82 523 81-38 81-101 80 3 82-267 81 313 81 172 81 302 90-310 81 57 80-116 81 18 82 158 88 336 81-425 81 62 81-8 70-5 80 57 81 15 81-38 82 50 81-39M345 566l80 37 81 153 81 139 81-246 80-172 82 605 81-123 81-4 80 33 82-234 81 301 81-284 81 556 90-294 81 120 80-101 81-3 82 161 88 531 81-525 81 56 81 35 70-27 80 3 81 50 81-31 82-26 81 57M345 634l80 11 81 125 81 152 81-255 80-135 82 579 81-107 81-76 80 70 82-196 81 298 81-148 81 468 90-299 81 108 80 35 81-140 82 321 88 391 81-557 81 37 81-22 70 37 80-73 81 57 81-8 82 24 81 4M345 816l80-141 81 147 81 250 81-266 80-63 82 482 81 23 81-190 80 23 82-164 81 235 81 126 81 172 90-250 81 116 80 16 81-95 82 195 88 245 81-351 81 7 81 65 70-41 80-6 81 35 81-16 82-1 81 20M345 560l80 99 81 69 81 158 81-267 80-130 82 649 81-87 81-93 80 76 82-274 81 281 81-97 81 398 90-253 81 162 80-104 81-36 82 171 88 333 81-361 81 28 81 35 70-40 80 25 81-17 81-1 82 49 81-51M345 760l80-37 81 49 81 186 81-164 80-108 82 501 81-87 81-97 80 18 82-234 81 352 81-142 81 437 90-251 81 156 80-2 81-136 82 400 88 248 81-456 81 0 81 43 70-13 80 9 81-8 81 24 82-63 81-28M345 539l80 69 81 156 81 153 81-330 80 13 82 535 81-85 81-113 80 50 82-246 81 278 81-238 81 521 90-188 81 106 80-35 81-52 82 178 88 442 81-516 81-14 81 24 70 20 80 30 81-23 81 27 82 3 81-8M345 690l80 35 81 118 81 195 81-240 80-97 82 490 81-97 81-79 80 15 82-233 81 311 81 180 81 203 90-306 81 130 80 45 81-12 82 160 88 318 81-501 81 39 81 44 70 8 80 28 81-24 81 66 82-85 81 30M345 687l80-31 81 90 81 163 81-209 80-112 82 602 81-71 81-128 80 74 82-229 81 268 81-50 81 343 90-254 81 74 80 52 81-111 82 281 88 379 81-552 81 104 81 9 70-8 80 17 81-22 81-31 82 31 81-8M345 511l80 142 81 154 81 118 81-144 80-21 82 473 81-130 81-68 80 4 82-150 81 298 81 109 81 218 90-357 81 62 80-49 81 46 82 360 88 183 81-483 81 72 81 0 70 36 80-13 81-13 81-36 82-13 81 74M345 548l80 131 81 126 81 114 81-275 80-29 82 503 81-33 81-152 80 90 82-260 81 327 81-220 81 575 90-343 81 114 80-37 81-16 82 230 88 406 81-463 81 7 81 20 70-42 80-13 81 11 81 35 82 8 81-11M345 496l80 121 81 138 81 156 81-194 80-39 82 452 81-131 81-43 80 91 82-328 81 272 81-325 81 601 90-189 81 50 80-86 81 92 82 60 88 379 81-402 81 41 81 0 70 2 80 6 81 21 81 26 82-29 81 7M345 703l80 65 81 128 81 151 81-286 80-34 82 535 81 28 81-247 80 77 82-265 81 293 81-41 81 411 90-314 81 53 80-35 81 32 82 266 88 255 81-462 81 64 81 60 70-44 80 21 81-19 81-57 82 14 81 6M345 589l80 142 81 11 81 150 81-191 80 8 82 499 81 22 81-199 80 12 82-217 81 263 81-98 81 423 90-260 81 118 80-68 81-26 82 236 88 431 81-413 81-51 81 8 70 9 80 24 81-5 81-87 82 61 81-60M345 598l80 118 81 38 81 156 81-196 80-59 82 546 81-40 81-200 80 53 82-212 81 317 81-158 81 534 90-275 81 55 80-13 81-21 82 305 88 318 81-535 81 1 81 12 70 49 80-13 81 47 81-45 82 53 81-40M345 839l80-48 81 51 81 158 81-200 80-8 82 369 81 35 81-190 80 39 82-233 81 331 81-90 81 444 90-271 81 64 80-20 81-1 82 266 88 280 81-404 81 55 81-68 70 50 80 18 81-44 81-28 82-32 81-17M345 725l80 75 81-55 81 265 81-215 80-62 82 484 81-140 81-133 80 67 82-227 81 298 81-53 81 365 90-248 81 80 80-77 81 76 82 275 88 306 81-406 81 33 81-5 70-52 80-30 81 10 81 32 82-62 81 79M345 571l80 111 81 58 81 244 81-231 80-156 82 561 81-113 81-109 80 14 82-263 81 338 81-339 81 728 90-262 81 140 80-97 81-112 82 190 88 450 81-483 81 25 81-3 70-3 80 40 81-29 81-8 82 63 81-53M345 627l80-9 81 104 81 137 81-223 80-55 82 596 81-159 81-117 80 81 82-248 81 262 81-163 81 499 90-251 81 50 80-84 81-2 82 157 88 369 81-400 81 49 81 29 70-23 80 74 81-74 81 70 82 17 81 39M345 558l80 51 81 934 81-688 81-234 80-85 82 180 81-40 81 51 80 41 82-137 81 169 81-179 81 1491 90-1267 81 76 80-158 81 15 82 411 88 496 81-732 81 49 81 14 70 17 80-7 81-11 81 2 82 1 81-1M345 627l80 13 81 907 81-671 81-237 80-79 82 159 81-32 81 58 80 43 82-142 81 172 81-171 81 1488 90-1288 81 86 80-170 81 25 82 421 88 503 81-720 81 53 81-6 70 35 80-34 81-19 81 0 82 9 81 25M345 593l80 13 81 918 81-668 81-227 80-68 82 128 81-1 81 39 80 53 82-137 81 163 81-200 81 1510 90-1278 81 70 80-160 81 35 82 391 88 506 81-694 81 29 81 17 70 5 80-43 81 27 81-26 82 15 81 13M345 588l80 26 81 936 81-682 81-240 80-79 82 176 81-54 81 89 80 30 82-148 81 170 81-191 81 1518 90-1280 81 79 80-188 81 30 82 420 88 488 81-723 81 47 81 31 70-9 80-15 81 5 81-3 82 11 81 10M345 539l80 64 81 916 81-679 81-222 80-65 82 145 81-34 81 52 80 50 82-150 81 196 81-231 81 1539 90-1284 81 72 80-155 81 17 82 412 88 499 81-715 81 32 81-18 70 23 80-8 81 9 81-21 82 10 81 6M345 626l80 7 81 926 81-671 81-249 80-68 82 151 81-4 81 56 80 11 82-124 81 177 81-209 81 1534 90-1295 81 74 80-161 81 24 82 417 88 480 81-715 81 62 81 16 70 12 80-17 81-5 81-26 82 6 81 12M345 617l80 8 81 931 81-687 81-237 80-74 82 168 81-29 81 73 80 26 82-157 81 172 81-192 81 1528 90-1296 81 90 80-184 81 42 82 413 88 470 81-695 81 45 81-15 70 24 80-5 81-11 81 5 82-8 81 24M345 586l80 35 81 920 81-688 81-244 80-61 82 142 81-29 81 70 80 25 82-133 81 184 81-214 81 1544 90-1301 81 84 80-166 81 22 82 417 88 487 81-701 81 8 81 24 70 18 80-8 81-23 81 6 82 18 81-42M345 641l80 12 81 914 81-688 81-239 80-61 82 168 81-17 81 44 80 15 82-139 81 181 81-178 81 1515 90-1304 81 77 80-155 81 3 82 437 88 493 81-711 81 62 81 0 70 3 80-30 81 4 81 12 82-5 81 5M345 638l80 17 81 937 81-692 81-246 80-55 82 173 81-45 81 65 80 5 82-141 81 198 81-210 81 1530 90-1309 81 93 80-160 81 0 82 444 88 488 81-694 81 22 81 8 70 12 80-7 81 10 81-5 82-31 81 6M345 549l80 59 81 940 81-682 81-250 80-77 82 153 81-39 81 79 80 46 82-149 81 172 81-203 81 1541 90-1292 81 56 80-161 81 38 82 417 88 479 81-718 81 62 81-32 70 48 80-35 81 13 81 7 82 0 81-23M345 534l80 67 81 922 81-666 81-233 80-96 82 171 81-43 81 54 80 42 82-142 81 192 81-202 81 1513 90-1285 81 68 80-172 81 49 82 391 88 502 81-699 81 31 81-11 70 40 80-45 81 16 81 7 82-33 81-9M345 604l80 28 81 914 81-659 81-251 80-70 82 161 81-25 81 59 80 36 82-157 81 187 81-199 81 1514 90-1288 81 81 80-160 81 20 82 414 88 489 81-718 81 34 81 12 70 10 80-18 81 3 81-7 82 27 81-9M345 548l80 77 81 902 81-667 81-227 80-91 82 170 81-54 81 88 80 28 82-154 81 183 81-191 81 1521 90-1287 81 56 80-159 81 39 82 395 88 510 81-717 81 22 81-2 70 14 80-17 81 19 81-2 82-9 81 0M345 546l80 123 81 134 81 175 81-302 80-1 82 566 81-113 81-155 80 47 82-288 81 406 81-90 81 637 90-567 81 188 80-109 81-9 82 351 88 346 81-597 81 1 81 70 70-56 80 61 81-77 81 21 82 38 81-82M345 577l80 78 81 174 81 152 81-298 80-17 82 527 81-105 81-101 80 58 82-279 81 342 81-57 81 629 90-601 81 205 80-76 81-14 82 359 88 321 81-626 81 50 81 24 70 40 80-13 81-29 81 15 82-71 81 58M345 590l80 55 81 175 81 152 81-268 80-15 82 560 81-105 81-179 80 41 82-270 81 392 81-119 81 700 90-609 81 210 80-87 81-32 82 390 88 302 81-608 81 56 81-20 70 31 80-24 81 32 81 1 82-72 81-3M345 584l80 72 81 171 81 137 81-269 80-25 82 540 81-60 81-139 80 18 82-240 81 290 81-36 81 645 90-572 81 129 80-26 81 18 82 300 88 356 81-568 81 2 81 23 70-52 80 33 81-43 81 64 82-42 81 6M345 550l80 101 81 173 81 149 81-293 80-8 82 539 81-54 81-175 80 69 82-317 81 371 81-55 81 622 90-549 81 127 80-57 81 48 82 307 88 324 81-635 81 51 81 16 70 44 80 9 81-94 81 16 82 1 81 40M345 572l80 95 81 165 81 128 81-264 80-15 82 515 81-115 81-103 80 52 82-271 81 304 81-63 81 682 90-580 81 106 80-38 81 6 82 411 88 287 81-580 81 27 81-70 70 36 80-42 81 67 81 77 82-39 81-19M345 553l80 108 81 153 81 144 81-267 80-18 82 577 81-109 81-165 80 54 82-280 81 370 81-142 81 689 90-575 81 135 80-57 81 28 82 376 88 289 81-573 81 55 81-21 70-10 80-20 81-42 81 78 82-78 81 6M345 544l80 87 81 191 81 134 81-268 80-21 82 578 81-91 81-171 80 44 82-291 81 331 81-19 81 654 90-594 81 111 80-18 81 26 82 354 88 288 81-589 81 4 81-32 70 43 80 54 81-54 81-8 82 99 81-134M345 731l80-53 81 55 81 292 81-258 80 8 82 444 81-73 81-113 80 6 82-191 81 298 81-153 81 465 90-233 81 46 80-16 81 30 82 235 88 248 81-404 81 23 81 34 70 25 80-35 81 30 81-4 82 16 81-49M345 697l80-7 81 37 81 287 81-196 80-11 82 414 81-38 81-163 80 41 82-206 81 305 81-155 81 457 90-241 81 73 80-17 81-14 82 265 88 235 81-367 81 3 81 20 70 26 80-26 81 45 81-64 82 20 81-23M345 715l80-2 81 38 81 314 81-269 80-29 82 444 81-32 81-172 80 55 82-193 81 298 81-119 81 430 90-259 81 70 80-57 81 12 82 282 88 247 81-388 81 58 81-44 70 35 80-52 81 75 81-9 82-25 81-37M345 739l80-29 81 53 81 304 81-240 80-26 82 420 81-69 81-125 80 43 82-200 81 277 81-84 81 477 90-334 81 91 80-38 81 4 82 271 88 264 81-393 81 51 81-23 70-28 80 43 81-28 81 25 82-15 81 32M345 681l80 1 81 48 81 322 81-247 80-40 82 465 81-58 81-142 80 13 82-167 81 262 81-99 81 452 90-274 81 41 80-7 81-17 82 295 88 243 81-383 81 28 81-40 70 75 80-13 81-41 81-2 82 42 81-35M345 730l80-57 81 56 81 240 81-191 80 5 82 419 81-18 81-195 80 85 82-249 81 334 81-112 81 450 90-307 81 86 80-48 81 34 82 237 88 273 81-415 81 43 81-7 70 46 80 3 81 1 81-61 82 20 81 28M345 694l80-12 81 34 81 266 81-219 80 11 82 455 81-100 81-140 80 73 82-231 81 296 81-124 81 443 90-240 81 46 80 4 81-22 82 281 88 216 81-338 81 26 81-7 70 20 80-18 81 9 81-20 82 22 81-2M345 754l80-24 81 4 81 298 81-234 80-16 82 437 81-70 81-139 80 39 82-163 81 260 81-122 81 465 90-270 81 82 80-62 81 55 82 252 88 243 81-396 81 26 81 51 70-68 80 11 81 8 81-15 82 36 81 6M345 721l80-34 81 43 81 281 81-206 80-9 82 411 81-34 81-137 80 45 82-247 81 329 81-116 81 472 90-320 81 92 80-33 81-14 82 292 88 247 81-425 81 38 81-3 70 49 80-2 81 16 81-65 82 71 81-1M345 745l80-57 81 49 81 296 81-208 80-49 82 437 81-15 81-186 80 57 82-195 81 260 81-63 81 436 90-295 81 76 80-23 81 3 82 265 88 228 81-354 81 1 81 44 70 16 80-58 81 23 81-14 82 12 81-35M345 683l80-35 81 41 81 267 81-221 80 35 82 425 81-67 81-122 80 44 82-235 81 318 81-184 81 453 90-198 81 59 80-62 81-1 82 284 88 243 81-398 81 58 81-33 70 43 80-19 81-36 81 40 82-18 81 4M345 752l80-71 81 29 81 267 81-183 80-7 82 422 81-50 81-147 80 47 82-225 81 300 81-77 81 432 90-286 81 46 80 12 81-19 82 278 88 258 81-427 81 62 81 16 70-7 80-3 81-10 81-30 82 0 81 61M345 667l80 2 81 73 81 296 81-269 80-27 82 450 81-61 81-143 80 60 82-205 81 289 81-163 81 514 90-267 81 37 80-41 81 25 82 263 88 249 81-397 81 69 81 13 70-34 80 26 81-36 81-16 82 13 81 30M345 745l80-64 81 46 81 348 81-256 80-54 82 458 81-36 81-159 80 51 82-234 81 285 81-131 81 486 90-264 81 58 80-36 81-11 82 291 88 229 81-375 81 64 81-30 70-25 80 9 81 1 81 13 82-3 81 26M345 689l80-7 81 10 81 330 81-235 80-38 82 480 81-93 81-116 80 26 82-235 81 309 81-105 81 444 90-259 81 61 80-2 81-44 82 300 88 217 81-367 81 48 81 0 70-5 80 17 81-53 81-10 82 35 81-8M345 702l80-32 81 35 81 277 81-212 80 13 82 443 81-63 81-165 80 37 82-187 81 302 81-121 81 421 90-250 81 90 80-55 81 39 82 259 88 256 81-439 81 43 81 6 70 50 80-53 81 4 81-5 82 36 81-54M345 668l80-25 81 75 81 229 81-169 80-20 82 445 81-57 81-185 80 84 82-238 81 312 81-165 81 501 90-259 81 35 80-22 81 1 82 261 88 234 81-386 81 39 81 44 70-29 80 3 81-13 81-21 82 5 81-23M345 705l80 9 81 23 81 257 81-209 80-8 82 432 81-38 81-139 80 31 82-203 81 294 81-135 81 489 90-302 81 83 80-20 81-33 82 295 88 286 81-425 81 51 81 5 70-2 80-22 81-12 81-3 82 21 81-11M345 683l80-14 81 62 81 216 81-167 80-28 82 445 81-68 81-137 80 32 82-188 81 264 81-94 81 477 90-297 81 50 80 24 81-47 82 297 88 268 81-394 81-16 81 30 70 11 80 3 81-50 81 56 82-45 81 5M345 734l80-37 81 22 81 292 81-249 80 19 82 443 81-66 81-143 80 16 82-170 81 290 81-141 81 490 90-308 81 64 80 1 81-28 82 258 88 315 81-441 81 76 81-55 70 28 80-8 81 18 81-25 82 44 81-6M345 714l80 1 81 17 81 333 81-307 80 16 82 429 81-28 81-149 80 17 82-190 81 277 81-141 81 485 90-285 81 92 80-43 81 29 82 260 88 250 81-418 81 50 81 30 70-39 80-29 81 4 81 64 82-18 81-6M345 700l80-27 81 72 81 243 81-227 80-12 82 467 81-41 81-174 80 38 82-171 81 279 81-156 81 480 90-246 81 22 80 3 81-12 82 266 88 295 81-422 81 45 81-18 70-18 80 17 81 8 81 21 82-30 81-46M345 736l80-16 81 43 81 310 81-240 80-17 82 416 81-46 81-153 80 20 82-177 81 285 81-149 81 498 90-266 81 77 80-46 81 10 82 252 88 261 81-414 81 77 81-25 70-19 80 36 81-49 81 41 82 34 81-55M345 755l80-49 81 43 81 310 81-271 80-2 82 428 81-36 81-136 80 42 82-212 81 289 81-106 81 477 90-322 81 82 80-12 81 0 82 233 88 321 81-436 81 44 81-21 70-15 80 64 81-37 81-31 82 76 81-5M345 658l80 15 81 22 81 284 81-231 80-20 82 451 81-63 81-142 80 44 82-221 81 321 81-114 81 400 90-207 81 55 80-21 81-28 82 277 88 294 81-418 81 42 81-42 70 29 80-36 81 4 81-7 82 45 81-10M345 760l80-83 81 40 81 283 81-202 80-17 82 461 81-46 81-161 80 29 82-187 81 249 81-52 81 448 90-295 81 33 80-19 81 38 82 245 88 285 81-449 81 48 81 58 70-26 80 27 81-42 81 21 82-62 81 13M345 695l80-23 81 35 81 325 81-239 80-23 82 457 81-49 81-185 80 59 82-191 81 301 81-176 81 522 90-297 81 34 80 25 81-16 82 266 88 279 81-429 81 11 81 60 70-14 80-46 81 36 81 33 82-28 81-58M345 771l80-9 81 18 81 225 81-184 80 28 82 331 81-37 81-156 80 64 82-216 81 267 81-97 81 276 90-175 81 88 80-124 81 18 82 257 88 214 81-306 81 14 81-14 70 23 80 23 81-13 81-33 82 28 81 37" fill="none" stroke="#050a0b" stroke-width="3.4" stroke-linejoin="round"/>
<path transform="scale(.5)" d="M345 608l80 153 81 138 81 129 81-223 80-51 82 455 81 9 81-181 80 38 82-261 81 348 81-9 81 263 90-277 81 92 80-66 81 3 82 318 88 289 81-392 81-14 81-37 70-41 80 88 81-17 81 22 82 18 81-6M345 640l80 17 81 66 81 133 81-154 80-16 82 466 81-90 81-122 80 54 82-223 81 319 81-316 81 560 90-199 81 13 80 0 81-51 82 301 88 268 81-358 81 28 81-34 70 4 80 22 81 3 81 29 82 11 81 13M345 576l80 58 81 105 81 189 81-212 80-24 82 519 81-68 81-142 80 27 82-282 81 285 81-140 81 502 90-277 81 125 80-51 81-58 82 257 88 250 81-344 81-5 81-2 70-2 80 3 81-27 81 27 82-1 81 29M345 732l80 130 81-68 81 305 81-230 80-98 82 540 81-143 81-59 80-43 82-273 81 316 81-69 81 415 90-277 81 58 80-55 81 9 82 272 88 301 81-461 81 44 81 50 70-38 80-6 81 26 81-1 82 46 81-62M345 598l80 71 81 124 81 201 81-211 80-131 82 547 81-118 81-86 80 65 82-349 81 343 81-134 81 425 90-244 81 114 80 24 81-42 82 281 88 396 81-600 81 37 81 10 70 38 80 4 81-47 81 50 82-76 81-52M345 743l80 35 81 84 81 234 81-255 80-88 82 454 81-20 81-130 80-1 82-248 81 348 81 70 81 299 90-317 81 114 80-48 81-3 82 315 88 237 81-506 81 91 81 7 70 24 80-47 81 40 81-17 82 31 81-35M345 609l80 0 81 135 81 237 81-259 80 7 82 505 81-123 81-80 80-10 82-249 81 315 81 54 81 296 90-261 81 71 80-77 81 48 82 200 88 367 81-436 81 42 81-3 70-37 80-8 81 29 81-46 82-3 81-27M345 587l80 83 81 88 81 189 81-230 80-118 82 619 81-79 81-128 80-13 82-270 81 335 81-42 81 365 90-274 81 137 80-73 81-58 82 290 88 441 81-557 81 75 81-10 70-5 80-54 81 32 81 55 82-26 81-31M345 773l80-44 81 129 81 175 81-209 80-112 82 569 81-104 81-114 80-4 82-238 81 278 81-112 81 534 90-294 81 100 80 13 81 1 82 186 88 460 81-538 81-7 81-34 70-30 80 18 81 42 81-38 82 3 81-14M345 593l80 53 81 20 81 209 81-246 80-137 82 580 81-153 81-24 80 68 82-187 81 321 81-164 81 484 90-326 81 52 80-32 81 40 82 232 88 316 81-478 81 5 81 17 70 57 80-13 81-64 81-3 82 48 81 11M345 651l80-10 81 100 81 142 81-171 80-20 82 471 81-26 81-157 80-9 82-313 81 394 81-18 81 417 90-303 81 111 80-9 81-41 82 305 88 298 81-464 81 30 81 9 70-25 80-39 81-1 81-34 82 40 81-43M345 679l80-18 81 117 81 223 81-195 80-133 82 515 81-92 81-110 80 13 82-272 81 398 81 49 81 262 90-230 81 130 80 43 81-19 82 228 88 250 81-496 81 16 81-2 70 5 80-16 81 33 81 62 82-48 81-27M345 521l80 126 81 139 81 214 81-245 80-59 82 488 81-56 81-104 80-11 82-236 81 345 81-132 81 399 90-284 81 79 80-71 81 50 82 134 88 441 81-433 81 34 81 7 70-12 80 51 81-24 81 3 82-16 81-19M345 716l80 34 81 86 81 143 81-131 80-41 82 433 81-75 81-82 80 12 82-124 81 208 81 92 81 231 90-285 81 170 80-5 81-18 82 258 88 240 81-529 81 33 81-5 70 11 80-1 81 4 81 4 82-36 81 38M345 529l80 117 81 130 81 126 81-243 80-3 82 548 81-96 81-86 80 36 82-258 81 259 81 85 81 286 90-266 81 69 80 28 81-114 82 310 88 312 81-477 81-4 81-4 70-20 80 39 81 48 81-25 82 6 81-16M345 728l80 39 81 37 81 266 81-140 80-59 82 393 81 41 81-221 80-9 82-207 81 248 81 96 81 378 90-378 81 52 80-15 81-74 82 424 88 243 81-451 81-2 81 73 70-61 80 4 81-20 81 26 82 0 81 32M345 635l80 146 81 75 81 176 81-181 80-143 82 474 81 2 81-131 80-6 82-173 81 262 81 155 81 242 90-305 81 74 80 8 81-3 82 226 88 363 81-533 81 31 81 7 70-31 80 16 81 30 81 50 82-71 81 22M345 631l80 95 81 65 81 216 81-211 80-157 82 497 81-191 81-2 80 55 82-193 81 312 81-134 81 422 90-275 81 71 80-105 81-9 82 394 88 301 81-484 81-31 81-29 70 17 80 30 81 35 81 4 82 0 81-19M345 545l80 79 81 73 81 194 81-163 80-49 82 501 81-40 81-88 80-25 82-216 81 268 81-150 81 544 90-316 81 91 80-58 81 6 82 313 88 407 81-381 81 58 81-4 70-13 80 37 81-19 81-38 82 18 81-5M345 615l80-25 81 128 81 166 81-139 80-11 82 475 81-157 81-54 80-8 82-261 81 352 81-56 81 336 90-262 81 94 80-38 81-14 82 284 88 265 81-471 81 56 81-30 70 13 80-22 81-16 81 43 82 60 81-47M345 669l80-4 81 132 81 208 81-291 80-111 82 562 81-85 81-108 80 101 82-332 81 386 81-210 81 506 90-284 81 92 80-58 81 29 82 139 88 419 81-396 81 10 81 29 70 3 80-47 81 37 81 11 82 11 81-26M345 674l80 22 81 121 81 212 81-167 80-72 82 441 81 44 81-174 80 9 82-263 81 246 81 137 81 289 90-348 81 92 80 49 81-73 82 328 88 375 81-496 81-40 81 33 70-38 80-15 81-22 81 2 82-30 81-14M345 740l80 6 81 174 81 72 81-241 80-34 82 494 81-22 81-69 80 38 82-225 81 183 81 137 81 379 90-395 81 138 80 10 81-127 82 313 88 354 81-481 81 50 81-78 70-17 80-10 81 40 81 22 82-40 81-11M345 646l80 55 81 101 81 188 81-277 80 61 82 441 81 37 81-227 80-10 82-144 81 232 81 202 81 221 90-291 81 54 80-34 81 5 82 278 88 466 81-624 81 102 81 53 70-41 80-63 81 104 81-94 82-25 81-12M345 553l80 147 81 111 81 149 81-215 80-21 82 459 81-56 81-139 80 104 82-318 81 353 81-170 81 589 90-353 81 147 80-75 81 26 82 191 88 345 81-474 81 21 81 13 70 22 80 26 81-20 81 19 82-20 81 19M345 583l80 16 81 70 81 246 81-254 80-141 82 631 81-68 81-153 80 88 82-245 81 313 81-224 81 487 90-223 81 102 80-86 81-68 82 233 88 319 81-383 81 77 81-25 70 1 80-3 81-22 81-22 82-37 81 73M345 597l80 139 81 139 81 159 81-281 80-42 82 485 81 10 81-146 80 63 82-331 81 338 81 213 81 261 90-418 81 108 80 21 81-58 82 326 88 314 81-546 81 65 81 37 70 3 80-8 81 1 81-18 82 12 81 27M345 590l80 150 81 111 81 152 81-297 80 13 82 501 81-44 81-139 80-9 82-229 81 277 81 51 81 393 90-318 81 130 80-59 81-65 82 294 88 415 81-512 81 48 81-9 70-36 80-13 81 13 81-38 82-40 81-8M345 835l80 5 81 69 81 74 81-225 80-99 82 501 81-107 81-99 80 20 82-296 81 330 81-217 81 609 90-234 81 106 80-145 81 62 82 135 88 367 81-371 81 16 81-1 70-86 80 21 81-27 81 7 82 59 81-1M345 688l80 101 81 74 81 114 81-203 80-64 82 533 81-51 81-144 80 16 82-191 81 256 81 255 81 94 90-279 81 57 80-73 81 23 82 304 88 318 81-430 81 91 81 17 70-30 80-53 81-19 81-59 82 63 81-13M345 654l80 41 81 42 81 225 81-231 80-49 82 567 81-156 81-98 80 29 82-299 81 368 81-61 81 288 90-135 81 44 80-92 81 132 82 182 88 294 81-490 81 32 81-6 70 77 80-7 81 17 81-11 82 21 81-10M345 577l80 60 81 41 81 172 81-123 80-65 82 489 81-104 81-31 80 18 82-252 81 320 81 13 81 297 90-319 81 113 80-34 81-50 82 188 88 344 81-469 81 109 81-36 70 52 80 33 81-5 81 15 82 22 81-63M345 705l80 37 81 54 81 161 81-122 80-78 82 476 81-61 81-117 80 70 82-231 81 314 81 77 81 342 90-385 81 65 80 39 81 29 82 338 88 295 81-556 81 20 81-20 70 7 80 57 81-76 81 54 82-12 81 53M345 736l80-87 81 119 81 156 81-214 80-115 82 583 81-41 81-158 80 53 82-248 81 283 81-82 81 367 90-187 81 88 80-103 81-19 82 305 88 427 81-562 81 16 81-8 70-40 80 14 81-25 81-32 82 7 81 3M345 722l80-30 81 117 81 126 81-187 80-115 82 575 81-46 81-91 80-43 82-181 81 271 81-30 81 345 90-260 81 76 80 43 81-12 82 268 88 272 81-435 81 6 81 0 70 47 80-34 81 15 81 23 82-41 81 38M345 687l80 2 81 61 81 205 81-118 80-167 82 589 81-20 81-164 80-4 82-213 81 331 81-13 81 444 90-430 81 189 80-93 81-54 82 336 88 296 81-475 81-16 81 41 70 39 80 2 81 31 81-16 82-35 81-3M345 537l80 98 81 136 81 164 81-193 80-84 82 538 81-45 81-199 80 79 82-215 81 210 81 40 81 329 90-269 81 94 80-134 81 35 82 165 88 392 81-366 81 32 81 8 70 20 80-47 81 25 81 9 82 9 81-34M345 562l80 97 81 49 81 218 81-171 80-66 82 505 81-67 81-144 80 29 82-207 81 283 81-207 81 474 90-204 81 142 80-22 81-123 82 177 88 453 81-483 81 17 81 4 70 20 80-1 81-4 81-44 82-9 81 13M345 644l80 74 81 48 81 209 81-199 80-135 82 526 81-89 81-85 80 89 82-297 81 287 81-180 81 585 90-276 81 107 80 23 81-133 82 203 88 338 81-461 81 69 81 8 70 23 80-14 81-10 81 1 82-18 81 45M345 734l80 43 81 29 81 153 81-188 80-90 82 520 81-107 81-101 80 13 82-239 81 316 81-157 81 518 90-265 81 59 80-30 81-25 82 173 88 427 81-323 81 89 81 2 70-13 80 42 81-61 81 54 82-32 81-33M345 553l80 89 81 147 81 251 81-278 80-25 82 478 81 9 81-228 80 66 82-310 81 336 81 113 81 375 90-405 81 100 80-8 81 9 82 203 88 312 81-476 81 98 81 1 70-63 80-4 81 48 81-10 82-48 81 47M345 483l80 80 81 194 81 218 81-193 80-136 82 574 81-118 81-155 80 65 82-281 81 332 81-3 81 290 90-240 81 122 80-101 81-40 82 306 88 290 81-441 81 67 81-44 70 39 80 1 81 28 81 4 82-57 81 39M345 609l80 79 81 98 81 202 81-206 80 2 82 514 81-13 81-247 80-16 82-176 81 337 81-5 81 295 90-348 81 155 80-24 81-60 82 231 88 299 81-391 81 18 81 3 70 26 80-29 81 37 81-53 82 44 81-28M345 514l80 144 81 101 81 119 81-167 80-131 82 565 81-58 81-68 80 73 82-300 81 313 81-112 81 420 90-318 81 89 80-77 81 36 82 362 88 269 81-307 81 60 81-39 70 21 80-16 81-13 81 14 82 0 81-4M345 612l80 37 81 122 81 150 81-228 80-26 82 528 81-101 81-116 80 16 82-245 81 372 81-187 81 392 90-273 81 120 80 14 81-4 82 269 88 364 81-460 81 54 81-54 70-12 80 38 81-5 81 29 82-3 81-30M345 766l80 16 81 131 81 166 81-351 80 38 82 486 81-20 81-193 80-20 82-279 81 432 81-42 81 325 90-234 81 124 80-24 81-46 82 212 88 465 81-576 81 64 81-70 70 10 80 53 81-36 81 15 82-24 81-3M345 617l80 19 81 121 81 159 81-190 80-113 82 579 81-90 81-112 80 79 82-231 81 233 81-136 81 442 90-219 81 86 80-77 81-13 82 258 88 361 81-463 81-11 81 18 70 33 80 12 81 24 81 6 82 16 81-6M345 622l80-14 81 51 81 261 81-295 80-89 82 616 81-141 81-49 80-27 82-268 81 389 81-271 81 642 90-341 81 116 80 3 81-32 82 251 88 270 81-472 81 70 81 1 70 24 80 6 81 46 81 10 82-30 81 24M345 633l80 130 81 41 81 224 81-215 80-116 82 522 81-115 81-121 80 94 82-233 81 294 81 19 81 292 90-219 81 179 80-2 81-105 82 144 88 385 81-398 81-12 81-54 70 45 80 16 81-19 81 14 82 14 81-12M345 527l80 6 81 220 81 229 81-312 80-30 82 564 81-141 81-104 80 30 82-319 81 395 81-83 81 393 90-248 81 43 80-155 81 120 82 152 88 457 81-441 81 39 81-16 70-19 80 3 81-17 81 6 82-22 81 50M345 551l80 71 81 126 81 231 81-170 80-49 82 466 81-41 81-170 80 14 82-211 81 266 81 0 81 303 90-225 81 134 80-9 81-26 82 294 88 405 81-613 81 48 81-47 70-32 80-10 81 33 81 34 82-21 81-20M345 727l80 21 81 54 81 132 81-270 80-15 82 513 81-120 81-53 80 22 82-266 81 355 81-155 81 541 90-317 81 107 80-144 81-42 82 209 88 399 81-407 81 27 81-13 70 38 80-19 81-25 81 24 82 33 81 13M345 720l80 26 81 95 81 144 81-211 80-49 82 512 81-24 81-134 80-26 82-271 81 313 81 149 81 225 90-318 81 153 80 14 81 13 82 76 88 320 81-480 81 108 81-21 70 34 80-16 81-10 81 14 82 41 81-36M345 574l80 109 81 23 81 215 81-229 80-119 82 548 81-38 81-132 80 28 82-220 81 371 81-50 81 312 90-224 81 102 80-3 81-40 82 265 88 209 81-362 81 60 81-35 70-48 80 47 81 12 81 42 82-31 81 11M345 526l80 54 81 906 81-658 81-217 80-87 82 133 81-24 81 60 80 51 82-123 81 158 81-196 81 1533 90-1292 81 62 80-158 81 35 82 410 88 491 81-717 81 42 81-23 70 25 80-19 81 8 81 4 82 10 81-42M345 574l80 81 81 170 81 157 81-276 80-43 82 545 81-41 81-201 80 81 82-294 81 388 81-158 81 696 90-580 81 130 80-39 81-2 82 390 88 294 81-589 81 27 81-42 70 71 80-27 81 35 81 30 82-66 81 37M345 558l80 45 81 198 81 170 81-303 80-15 82 523 81-125 81-107 80 91 82-283 81 309 81-73 81 683 90-573 81 122 80-14 81-22 82 331 88 358 81-659 81 93 81-80 70 70 80-61 81-7 81 19 82 29 81-4M345 696l80-1 81 14 81 231 81-171 80 4 82 409 81-74 81-114 80 50 82-202 81 285 81-166 81 520 90-279 81 41 80-7 81-28 82 274 88 295 81-428 81 73 81-70 70 1 80 40 81 25 81-49 82-23 81 4M345 740l80-55 81 69 81 234 81-224 80 24 82 428 81-39 81-175 80 49 82-204 81 284 81-130 81 494 90-276 81 56 80-3 81-35 82 290 88 244 81-417 81 34 81 0 70 69 80-68 81 18 81 33 82-19 81-57M345 709l80-36 81 57 81 285 81-230 80-11 82 474 81-110 81-95 80 38 82-239 81 290 81-112 81 489 90-303 81 95 80-40 81-18 82 296 88 258 81-408 81 45 81-50 70 77 80-22 81-57 81 55 82-21 81-23" fill="none" stroke="#050a0b" stroke-width="3.4" stroke-linejoin="round" stroke-dasharray="32 20"/>
<path d="M132 1098V178.4H1349.4V1098H132" stroke="#050a0b" stroke-width="4.2" stroke-linecap="round" stroke-linejoin="round" fill="none"/>
<path d="M115 178.5H132M115 408.4H132M115 638.2H132M115 868.0H132M115 1097.9H132M172.5 1098V1126M212.5 1098V1126M253.0 1098V1126M293.4 1098V1126M333.8 1098V1126M374.2 1098V1126M414.8 1098V1126M455.4 1098V1126M495.8 1098V1126M536.2 1098V1126M576.8 1098V1126M617.3 1098V1126M657.9 1098V1126M698.7 1098V1126M743.7 1098V1126M783.8 1098V1126M824.0 1098V1126M864.6 1098V1126M905.3 1098V1126M949.5 1098V1126M990.1 1098V1126M1030.5 1098V1126M1071.0 1098V1126M1105.8 1098V1126M1146.0 1098V1126M1186.6 1098V1126M1227.1 1098V1126M1268.0 1098V1126M1308.5 1098V1126" stroke="#050a0b" stroke-width="4" stroke-linecap="round" fill="none"/>
<text x="107" y="188.9" font-family="'Liberation Serif', serif" font-size="30" text-anchor="end" fill="#000">1000</text>
<text x="107" y="418.8" font-family="'Liberation Serif', serif" font-size="30" text-anchor="end" fill="#000">100</text>
<text x="107" y="648.6" font-family="'Liberation Serif', serif" font-size="30" text-anchor="end" fill="#000">10</text>
<text x="107" y="878.4" font-family="'Liberation Serif', serif" font-size="30" text-anchor="end" fill="#000">1</text>
<text x="107" y="1108.3" font-family="'Liberation Serif', serif" font-size="30" text-anchor="end" fill="#000">0.1</text>
<text transform="translate(183.8,1137) rotate(-90)" font-family="'Liberation Serif', serif" font-size="31" text-anchor="end" fill="#000">Cs</text>
<text transform="translate(223.8,1137) rotate(-90)" font-family="'Liberation Serif', serif" font-size="31" text-anchor="end" fill="#000">Rb</text>
<text transform="translate(264.3,1137) rotate(-90)" font-family="'Liberation Serif', serif" font-size="31" text-anchor="end" fill="#000">Ba</text>
<text transform="translate(304.7,1137) rotate(-90)" font-family="'Liberation Serif', serif" font-size="31" text-anchor="end" fill="#000">W</text>
<text transform="translate(345.1,1137) rotate(-90)" font-family="'Liberation Serif', serif" font-size="31" text-anchor="end" fill="#000">Th</text>
<text transform="translate(385.5,1137) rotate(-90)" font-family="'Liberation Serif', serif" font-size="31" text-anchor="end" fill="#000">U</text>
<text transform="translate(426.1,1137) rotate(-90)" font-family="'Liberation Serif', serif" font-size="31" text-anchor="end" fill="#000">Nb</text>
<text transform="translate(466.7,1137) rotate(-90)" font-family="'Liberation Serif', serif" font-size="31" text-anchor="end" fill="#000">Ta</text>
<text transform="translate(507.1,1137) rotate(-90)" font-family="'Liberation Serif', serif" font-size="31" text-anchor="end" fill="#000">La</text>
<text transform="translate(547.5,1137) rotate(-90)" font-family="'Liberation Serif', serif" font-size="31" text-anchor="end" fill="#000">Ce</text>
<text transform="translate(588.1,1137) rotate(-90)" font-family="'Liberation Serif', serif" font-size="31" text-anchor="end" fill="#000">Pb</text>
<text transform="translate(628.6,1137) rotate(-90)" font-family="'Liberation Serif', serif" font-size="31" text-anchor="end" fill="#000">Pr</text>
<text transform="translate(669.2,1137) rotate(-90)" font-family="'Liberation Serif', serif" font-size="31" text-anchor="end" fill="#000">Mo</text>
<text transform="translate(710.0,1137) rotate(-90)" font-family="'Liberation Serif', serif" font-size="31" text-anchor="end" fill="#000">Sr</text>
<text transform="translate(755.0,1137) rotate(-90)" font-family="'Liberation Serif', serif" font-size="31" text-anchor="end" fill="#000">Nd</text>
<text transform="translate(795.1,1137) rotate(-90)" font-family="'Liberation Serif', serif" font-size="31" text-anchor="end" fill="#000">Sm</text>
<text transform="translate(835.3,1137) rotate(-90)" font-family="'Liberation Serif', serif" font-size="31" text-anchor="end" fill="#000">Zr</text>
<text transform="translate(875.9,1137) rotate(-90)" font-family="'Liberation Serif', serif" font-size="31" text-anchor="end" fill="#000">Hf</text>
<text transform="translate(916.6,1137) rotate(-90)" font-family="'Liberation Serif', serif" font-size="31" text-anchor="end" fill="#000">Eu</text>
<text transform="translate(960.8,1137) rotate(-90)" font-family="'Liberation Serif', serif" font-size="31" text-anchor="end" fill="#000">Ti</text>
<text transform="translate(1001.4,1137) rotate(-90)" font-family="'Liberation Serif', serif" font-size="31" text-anchor="end" fill="#000">Gd</text>
<text transform="translate(1041.8,1137) rotate(-90)" font-family="'Liberation Serif', serif" font-size="31" text-anchor="end" fill="#000">Tb</text>
<text transform="translate(1082.3,1137) rotate(-90)" font-family="'Liberation Serif', serif" font-size="31" text-anchor="end" fill="#000">Dy</text>
<text transform="translate(1117.1,1137) rotate(-90)" font-family="'Liberation Serif', serif" font-size="31" text-anchor="end" fill="#000">Y</text>
<text transform="translate(1157.3,1137) rotate(-90)" font-family="'Liberation Serif', serif" font-size="31" text-anchor="end" fill="#000">Ho</text>
<text transform="translate(1197.9,1137) rotate(-90)" font-family="'Liberation Serif', serif" font-size="31" text-anchor="end" fill="#000">Er</text>
<text transform="translate(1238.4,1137) rotate(-90)" font-family="'Liberation Serif', serif" font-size="31" text-anchor="end" fill="#000">Tm</text>
<text transform="translate(1279.3,1137) rotate(-90)" font-family="'Liberation Serif', serif" font-size="31" text-anchor="end" fill="#000">Yb</text>
<text transform="translate(1319.8,1137) rotate(-90)" font-family="'Liberation Serif', serif" font-size="31" text-anchor="end" fill="#000">Lu</text>
<text x="763.8" y="1222" font-family="'Liberation Serif', serif" font-size="37.5" text-anchor="middle" fill="#000">Elements</text>
<text transform="translate(44.3,636) rotate(-90)" font-family="'Liberation Serif', serif" font-size="37.6" text-anchor="middle" fill="#000">Sample/Primititve Mantle</text>
<path d="M694.7 129.6H751.2" stroke="#ff0000" stroke-width="4.4"/>
<text x="757.2" y="141" font-family="'Liberation Serif', serif" font-size="30.8" fill="#000">LILEs</text>
<path d="M858 129.6H914" stroke="#ffaa1e" stroke-width="4.4"/>
<text x="920.0" y="141" font-family="'Liberation Serif', serif" font-size="30.8" fill="#000">HFSEs</text>
<path d="M1031.8 129.6H1087.6" stroke="#0a6cbf" stroke-width="4.4"/>
<text x="1093.6" y="141" font-family="'Liberation Serif', serif" font-size="30.8" fill="#000">LREEs</text>
<path d="M1196.7 129.6H1252.9" stroke="#00bc4b" stroke-width="4.4"/>
<text x="1258.9" y="141" font-family="'Liberation Serif', serif" font-size="30.8" fill="#000">HREEs</text>
<path d="M1437 91.6H1831M1437 164.2H1831M1437 236.9H1831" stroke="#8c8c8c" stroke-width="2.2" fill="none"/>
<path d="M1449 43l13 25 13 18 13 17 13-17 13-24 14 81 13-9 13-14 13 8 13-35 13 47 14-12 13 56 14-44 14 9 13-7 13-7 13 41 14 71 14-75 13 8 13 4 11-2 13-3 13-6 14-4 13 0 13 5M1449 78l13 7 13 5 13 24 13-30 13-14 14 82 13-17 13-15 13 1 13-37 13 50 14-25 13 82 14-42 14 9 13-4 13-4 13 27 14 67 14-38 13 8 13 9 11-6 13-12 13 11 14-3 13 9 13-6M1449 50l13 11 13 22 13 36 13-36 13-3 14 76 13-31 13-8 13 10 13-38 13 38 14 0 13 49 14-35 14 19 13-23 13 1 13 38 14 65 14-82 13 11 13-5 11 10 13 1 13-5 14-3 13 4 13-4M1449 59l13 24 13 22 13 20 13-35 13-8 14 72 13 1 13-29 13 6 13-41 13 55 14-1 13 41 14-43 14 14 13-10 13 0 13 50 14 46 14-62 13-2 13-6 11-6 13 13 13-2 14 3 13 3 13-1M1449 57l13 5 13 12 13 38 13-24 13-5 14 62 13-20 13-7 13-2 13-25 13 45 14-16 13 57 14-30 14 14 13-10 13 10 13 43 14 42 14-84 13 9 13-8 11-1 13-1 13 1 14-1 13 3 13-2M1449 68l13 9 13 13 13 32 13-36 13 6 14 69 13-9 13-31 13 21 13-37 13 42 14 2 13 73 14-59 14 15 13 1 13-13 13 58 14 48 14-89 13-2 13 4 11-4 13 1 13 2 14-5 13 2 13 1M1449 75l13 7 13 8 13 27 13-24 13 0 14 70 13-1 13-34 13 7 13-24 13 42 14 10 13 48 14-54 14 17 13-4 13-19 13 58 14 46 14-72 13 3 13-7 11 6 13-6 13-6 14 2 13 7 13-3M1449 58l13 14 13 6 13 33 13-37 13-3 14 87 13-16 13-17 13 14 13-46 13 44 14 6 13 59 14-54 14 21 13-14 13 10 13 34 14 57 14-79 13 11 13 0 11-9 13 8 13-2 14-1 13-2 13 1M1449 52l13 10 13 18 13 32 13-27 13-23 14 85 13-20 13-8 13 6 13-46 13 47 14-17 13 75 14-40 14 9 13-4 13 4 13 26 14 53 14-67 13 1 13 5 11 2 13 0 13 6 14 3 13 0 13-13M1449 94l13-19 13 25 13 18 13-33 13-2 14 76 13-8 13-24 13 6 13-40 13 42 14 16 13 51 14-54 14 15 13-6 13-7 13 51 14 56 14-83 13-1 13 5 11-4 13 7 13 2 14-5 13-1 13 9M1449 68l13 1 13 26 13 36 13-34 13-27 14 89 13-5 13-34 13 2 13-22 13 40 14 2 13 52 14-38 14 13 13 5 13 3 13 37 14 61 14-88 13 12 13 0 11 3 13-12 13 1 14 3 13-5 13 5M1449 66l13-2 13 8 13 24 13-27 13-3 14 86 13-28 13-15 13 9 13-45 13 58 14-29 13 81 14-34 14 10 13-9 13-12 13 40 14 45 14-75 13 15 13 3 11-5 13 4 13 5 14 4 13-9 13 1M1449 48l13 12 13 25 13 31 13-20 13-14 14 69 13-4 13-26 13 6 13-28 13 37 14 14 13 40 14-39 14 21 13-13 13-4 13 54 14 48 14-75 13 2 13-1 11-8 13 9 13-1 14-8 13 3 13-4M1449 46l13 20 13 16 13 25 13-36 13-12 14 91 13-19 13-15 13 2 13-30 13 52 14-24 13 75 14-49 14 14 13-1 13 5 13 17 14 84 14-96 13 2 13 5 11 6 13-6 13 0 14 6 13 3 13-1M1449 53l13 10 13 16 13 30 13-33 13-4 14 82 13-11 13-22 13 4 13-45 13 45 14-22 13 80 14-44 14 20 13-8 13-10 13 41 14 40 14-55 13-1 13 0 11 0 13 0 13-4 14 4 13 0 13 5M1449 61l13 10 13 7 13 42 13-28 13-8 14 73 13-18 13-12 13 4 13-46 13 56 14 30 13 36 14-79 14 14 13-21 13 1 13 72 14 74 14-75 13 0 13 3 11-5 13-4 13-4 14 9 13 5 13-4M1449 61l13 12 13 11 13 27 13-31 13-11 14 85 13-10 13-17 13 2 13-24 13 40 14 20 13 42 14-42 14 5 13-13 13-3 13 53 14 39 14-57 13-6 13 2 11 3 13-1 13-1 14 5 13 5 13-9M1449 83l13 8 13 4 13 17 13-38 13-2 14 87 13-8 13-17 13 14 13-50 13 46 14 24 13 48 14-60 14 9 13 20 13-23 13 64 14 33 14-83 13 10 13-2 11-1 13-3 13-3 14 8 13 0 13 2M1449 44l13 18 13 10 13 23 13-24 13-9 14 92 13-10 13-29 13 3 13-50 13 63 14-7 13 43 14-34 14 23 13-7 13-9 13 26 14 63 14-57 13-6 13-4 11 7 13-6 13 7 14 2 13 3 13 6M1449 47l13 23 13 16 13 26 13-47 13-24 14 96 13-18 13-11 13 17 13-38 13 51 14-25 13 75 14-42 14 15 13-5 13-19 13 55 14 59 14-91 13 4 13 3 11-1 13 5 13-2 14-7 13 2 13 8M1449 78l13 21 13-11 13 48 13-36 13-16 14 86 13-23 13-9 13-7 13-43 13 50 14-11 13 66 14-44 14 9 13-9 13 2 13 43 14 47 14-73 13 7 13 8 11-6 13-1 13 4 14 0 13 7 13-9M1449 55l13 16 13 8 13 32 13-36 13 2 14 71 13-14 13-16 13 0 13-35 13 44 14-5 13 74 14-42 14 18 13-3 13-13 13 28 14 83 14-96 13 8 13 4 11-6 13-2 13-4 14 5 13 2 13-1M1449 47l13 8 13 24 13 22 13-36 13-15 14 88 13-6 13-11 13-1 13-36 13 45 14-37 13 104 14-57 14 12 13-5 13 4 13 23 14 53 14-78 13 11 13 5 11 1 13 6 13 1 14-1 13 4 13 0M1449 71l13 22 13 6 13 27 13-53 13-4 14 87 13-11 13-24 13 9 13-31 13 48 14 20 13 34 14-50 14 8 13 14 13-19 13 51 14 41 14-76 13 10 13-5 11 0 13 1 13 6 14 1 13-2 13 6M1449 59l13 13 13 21 13 26 13-27 13-11 14 73 13-17 13-13 13 1 13-33 13 51 14-9 13 67 14-44 14 12 13 7 13-3 13 35 14 39 14-66 13 2 13 4 11-1 13-1 13-5 14 1 13-1 13-11M1449 58l13 8 13 5 13 45 13-40 13-9 14 82 13-15 13-14 13 6 13-32 13 43 14-26 13 90 14-57 14 17 13 6 13-1 13 41 14 56 14-75 13 2 13 3 11-9 13 7 13-4 14-6 13 11 13-2M1449 61l13 5 13 12 13 29 13-37 13-21 14 99 13-19 13-10 13 1 13-39 13 42 14 7 13 51 14-34 14 11 13-4 13 4 13 31 14 66 14-82 13 13 13-11 11 4 13 3 13-8 14-3 13-4 13-1M1449 57l13 11 13 20 13 32 13-34 13-20 14 86 13-19 13-13 13 10 13-55 13 54 14-21 13 67 14-38 14 18 13 3 13-6 13 44 14 63 14-95 13 6 13 1 11 6 13 1 13-7 14 7 13-12 13-8M1449 67l13 16 13 9 13 24 13-23 13-15 14 85 13-18 13-26 13 5 13-38 13 47 14 7 13 59 14-55 14 9 13 7 13 0 13 25 14 50 14-68 13 2 13 1 11-3 13 6 13 1 14-1 13 3 13 0M1449 33l13 26 13 17 13 25 13-27 13-19 14 95 13-21 13-11 13 5 13-37 13 40 14-28 13 76 14-34 14 22 13-23 13-2 13 23 14 53 14-58 13 15 13-4 11 5 13-3 13 2 14-1 13-12 13-1M1449 60l13-1 13 1 13 32 13-26 13-5 14 83 13-16 13-28 13 6 13-46 13 64 14-46 13 105 14-45 14 24 13-9 13-6 13 44 14 51 14-84 13 14 13 3 11 0 13-8 13-1 14-5 13-6 13 5M1449 54l13-4 13 27 13 21 13-29 13-8 14 85 13-8 13-24 13 12 13-55 13 52 14-18 13 91 14-44 14 0 13-3 13-6 13 33 14 68 14-75 13 4 13 3 11-3 13-7 13 4 14 4 13-2 13-2M1449 72l13-4 13 15 13 26 13-46 13-17 14 88 13-24 13 5 13 14 13-51 13 48 14-4 13 64 14-45 14 17 13-6 13-5 13 48 14 60 14-88 13 7 13-4 11 1 13-10 13 4 14-9 13 12 13-5M1449 67l13 6 13 11 13 43 13-35 13-19 14 82 13-17 13-15 13 10 13-49 13 80 14 51 13-22 14-33 14 6 13-2 13-2 13 35 14 56 14-67 13 10 13-7 11 10 13 0 13-7 14-3 13-1 13-1M1449 87l13-7 13 5 13 38 13-41 13-14 14 78 13-25 13-1 13 4 13-41 13 55 14-26 13 94 14-57 14 20 13-4 13-13 13 37 14 70 14-91 13 16 13-8 11-3 13 4 13 1 14-6 13 11 13 2M1449 73l13 17 13 7 13 25 13-41 13-1 14 83 13-20 13-20 13 14 13-39 13 44 14-4 13 52 14-46 14 15 13-14 13 13 13 35 14 55 14-109 13 3 13 5 11-6 13 12 13-6 14-5 13-5 13 10M1449 63l13 9 13 0 13 38 13-32 13-5 14 71 13-14 13-22 13 6 13-34 13 47 14-34 13 87 14-39 14 23 13-17 13-1 13 36 14 45 14-70 13 18 13-10 11 3 13 6 13 2 14 0 13-3 13-10M1449 63l13-5 13 22 13 34 13-44 13-4 14 86 13-30 13-5 13-6 13-38 13 50 14-17 13 86 14-50 14 11 13-4 13 1 13 44 14 54 14-78 13 7 13-3 11 6 13 1 13 1 14 1 13 0 13-8M1449 59l13 0 13 21 13 38 13-41 13 1 14 80 13-20 13-13 13-1 13-39 13 49 14 9 13 47 14-42 14 12 13-13 13 8 13 32 14 58 14-69 13 6 13 0 11-6 13-1 13 4 14-7 13 0 13-5M1449 67l13 6 13 7 13 26 13-38 13-20 14 90 13-15 13-14 13 0 13-30 13 55 14-9 13 54 14-36 14 11 13-6 13-10 13 36 14 50 14-73 13 10 13 0 11 5 13 7 13-5 14-5 13-1 13 2M1449 51l13 6 13 23 13 20 13-38 13-25 14 109 13-17 13-17 13 3 13-38 13 55 14-28 13 81 14-38 14 15 13-16 13-4 13 30 14 52 14-53 13-3 13-2 11-8 13-2 13 4 14 7 13-11 13 10M1449 45l13 13 13 23 13 24 13-30 13-13 14 94 13-27 13-13 13 6 13-32 13 40 14-3 13 69 14-46 14 14 13-14 13-6 13 36 14 61 14-79 13 9 13 2 11-3 13 3 13-2 14 3 13 1 13 0M1449 30l13 29 13 21 13 30 13-34 13-9 14 85 13-19 13-23 13 12 13-38 13 52 14-11 13 54 14-40 14 10 13-7 13 3 13 20 14 55 14-71 13 16 13 4 11-1 13-4 13 0 14-6 13 2 13-4M1449 58l13 12 13-6 13 42 13-25 13-22 14 88 13-15 13-12 13 5 13-29 13 41 14-17 13 70 14-47 14 7 13-10 13 9 13 27 14 62 14-70 13 8 13-4 11 2 13-3 13 4 14-5 13 5 13-1M1449 55l13 13 13 14 13 30 13-36 13-19 14 98 13-13 13-20 13-2 13-42 13 53 14-7 13 58 14-44 14 22 13-12 13-9 13 46 14 70 14-88 13 12 13-2 11-1 13-8 13 5 14 8 13-4 13-5M1449 66l13 15 13 5 13 41 13-33 13-3 14 80 13-7 13-24 13 0 13-33 13 35 14 5 13 58 14-51 14 10 13-6 13 2 13 45 14 58 14-87 13 2 13 5 11-4 13 4 13 10 14-7 13-8 13 7M1449 66l13 6 13 11 13 36 13-28 13-16 14 86 13-26 13-11 13 11 13-40 13 47 14 10 13 62 14-65 14 18 13-10 13-8 13 39 14 54 14-84 13 13 13-1 11 5 13 5 13 3 14 4 13 0 13-5M1449 65l13 3 13 20 13 22 13-19 13-4 14 78 13-10 13-28 13 7 13-22 13 33 14 42 13 19 14-47 14 16 13 8 13-12 13 35 14 62 14-71 13 4 13-8 11 5 13-3 13 7 14 3 13 0 13-6M1449 56l13 9 13 20 13 33 13-40 13-9 14 76 13-17 13-16 13 1 13-31 13 53 14 11 13 64 14-55 14 16 13-19 13-1 13 28 14 58 14-67 13 8 13-4 11 8 13-1 13-3 14 3 13-10 13 3M1449 57l13 5 13 25 13 26 13-38 13-1 14 82 13-14 13-9 13-6 13-33 13 40 14-23 13 75 14-36 14 12 13-11 13 4 13 44 14 54 14-82 13 12 13-11 11 6 13 1 13 10 14-2 13 1 13-7M1449 51l13 19 13 1 13 40 13-34 13-23 14 92 13-23 13-8 13 13 13-41 13 42 14-21 13 69 14-38 14 6 13 6 13-3 13 40 14 49 14-71 13 5 13 1 11-4 13-6 13 7 14 0 13-6 13 1M1449 85l13-7 13 20 13 28 13-33 13-18 14 90 13-16 13-19 13 0 13-38 13 44 14-17 13 84 14-47 14 16 13 2 13 1 13 29 14 73 14-85 13-2 13-5 11-5 13 3 13 7 14-6 13 0 13-2M1449 40l13 30 13 19 13 23 13-29 13-26 14 88 13-10 13-22 13 15 13-46 13 43 14-18 13 66 14-30 14 21 13-9 13-6 13 32 14 64 14-79 13 3 13 5 11-6 13-5 13-3 14 13 13 4 13 2M1449 39l13 22 13 26 13 17 13-27 13-2 14 78 13-16 13-16 13-3 13-41 13 49 14-35 13 79 14-31 14 16 13-9 13 2 13 19 14 58 14-61 13 12 13-7 11 1 13 2 13 11 14 1 13 0 13-1M1449 67l13-1 13 13 13 32 13-42 13-3 14 78 13-8 13-22 13 8 13-38 13 42 14-46 13 102 14-42 14 19 13-12 13 3 13 34 14 48 14-79 13 5 13 10 11 3 13 5 13-3 14-4 13-2 13 0M1449 53l13 0 13 22 13 28 13-31 13-19 14 90 13-23 13-10 13 7 13-41 13 52 14-62 13 118 14-50 14 6 13-15 13 4 13 30 14 54 14-61 13 6 13 1 11-4 13 2 13 4 14 6 13 3 13 8M1449 42l13 19 13 13 13 24 13-28 13-24 14 96 13 1 13-25 13-1 13-32 13 39 14-21 13 81 14-39 14 10 13-10 13 6 13 40 14 53 14-79 13 8 13-7 11 2 13-1 13 7 14 6 13-12 13-1M1449 65l13 2 13 22 13 24 13-27 13 3 14 84 13-21 13-23 13-1 13-47 13 61 14 13 13 47 14-51 14 9 13-6 13 5 13 38 14 61 14-81 13 13 13-2 11-5 13 1 13-2 14 0 13-4 13 7M1449 59l13 10 13 10 13 26 13-37 13-1 14 83 13-23 13-6 13 4 13-35 13 53 14-5 13 60 14-56 14 20 13-6 13-3 13 29 14 50 14-70 13 7 13 5 11-2 13 8 13-7 14 0 13 4 13-3M1449 69l13 21 13 7 13 32 13-28 13-19 14 74 13 3 13-35 13 7 13-18 13 24 14 7 13 66 14-47 14 11 13 8 13-8 13 38 14 61 14-92 13 9 13 4 11 1 13 2 13 0 14-7 13-3 13-6M1449 55l13 24 13 15 13 21 13-42 13 1 14 80 13-13 13-14 13 9 13-40 13 39 14-14 13 81 14-59 14 16 13 2 13-1 13 42 14 58 14-84 13 10 13-5 11-4 13 2 13-4 14-3 13-2 13-4M1449 89l13 0 13 1 13 23 13-20 13-23 14 89 13-18 13-14 13 6 13-24 13 38 14 27 13 43 14-56 14 12 13 2 13-10 13 28 14 62 14-85 13 4 13 7 11 0 13 4 13 3 14 2 13 9 13-7M1449 65l13-1 13 16 13 22 13-27 13-3 14 74 13-4 13-25 13-1 13-49 13 62 14-3 13 66 14-48 14 18 13-2 13-6 13 48 14 47 14-73 13 4 13 2 11-4 13-6 13-1 14-5 13 6 13-6M1449 49l13 23 13 14 13 29 13-38 13-2 14 78 13-15 13-12 13 13 13-30 13 36 14-10 13 54 14-31 14 15 13 0 13-1 13 60 14 25 14-71 13-1 13 3 11-8 13 2 13 2 14 3 13 0 13-2M1449 55l13 11 13 18 13 34 13-50 13-24 14 101 13-7 13-18 13-1 13-32 13 46 14-5 13 53 14-33 14 6 13-12 13-2 13 45 14 55 14-80 13 6 13-2 11 4 13 2 13 2 14-2 13-5 13 6M1449 86l13 6 13 20 13 26 13-50 13-2 14 76 13-13 13-15 13-3 13-37 13 44 14 0 13 61 14-52 14 22 13-9 13-8 13 38 14 72 14-75 13 8 13 3 11-11 13 6 13-7 14-2 13-1 13-4M1449 73l13 1 13 11 13 28 13-18 13-21 14 83 13-18 13-12 13 7 13-45 13 45 14-21 13 78 14-46 14 12 13-5 13 10 13 43 14 72 14-82 13 10 13-6 11-6 13-5 13 2 14 1 13-5 13-9M1449 67l13 6 13 11 13 43 13-35 13-19 14 82 13-17 13-15 13 10 13-49 13 61 14 15 13 48 14-48 14 6 13-2 13-2 13 35 14 56 14-67 13 10 13-7 11 10 13 0 13-7 14-3 13-1 13-1M1449 70l13-3 13 18 13 36 13-31 13-21 14 81 13-14 13-18 13 2 13-43 13 63 14 8 13 41 14-36 14 21 13 6 13-3 13 36 14 40 14-78 13 2 13 0 11 1 13-3 13 5 14 10 13-7 13-5M1449 55l13 6 13 15 13 24 13-39 13-6 14 84 13-7 13-15 13 5 13-34 13 47 14-32 13 95 14-56 14 18 13-8 13-7 13 40 14 54 14-71 13-1 13-3 11-4 13 4 13 2 14 5 13-3 13 1M1449 57l13 22 13 0 13 38 13-34 13-6 14 80 13-4 13-30 13 8 13-33 13 44 14-21 13 71 14-36 14 18 13-9 13 2 13 29 14 42 14-61 13 8 13 0 11 5 13 6 13 5 14-10 13-3 13-2M1449 66l13 8 13 15 13 15 13-34 13 1 14 72 13-7 13-7 13-3 13-31 13 38 14-24 13 74 14-37 14 19 13-12 13-12 13 29 14 63 14-76 13 16 13-1 11 5 13-1 13 0 14-1 13 1 13-4M1449 34l13 27 13 22 13 25 13-31 13-6 14 86 13-13 13-15 13-4 13-38 13 50 14 3 13 50 14-40 14 11 13-11 13 3 13 31 14 60 14-67 13 11 13-9 11 3 13 2 13-6 14 4 13 2 13 0M1449 64l13 0 13 22 13 27 13-33 13-7 14 73 13-6 13-10 13-1 13-41 13 52 14-4 13 81 14-58 14 17 13-6 13-17 13 34 14 54 14-68 13 19 13-5 11 3 13 5 13 3 14-4 13-2 13-5M1449 61l13 7 13 6 13 40 13-33 13-21 14 81 13-28 13-3 13 6 13-52 13 49 14-30 13 80 14-31 14 25 13-18 13 12 13 34 14 51 14-79 13 11 13-5 11-3 13 5 13 0 14-2 13 2 13 0M1449 45l13 20 13 22 13 34 13-39 13-9 14 77 13-9 13-17 13-1 13-38 13 55 14-21 13 63 14-45 14 13 13-12 13 8 13 22 14 69 14-68 13 5 13 1 11-2 13 8 13-3 14 0 13-2 13-3M1449 67l13 3 13 11 13 38 13-39 13-16 14 90 13-12 13-24 13 12 13-30 13 43 14-11 13 48 14-41 14 15 13 2 13-15 13 36 14 71 14-75 13 1 13-3 11-7 13 10 13-5 14-1 13 12 13-6M1449 71l13 4 13 8 13 32 13-33 13-27 14 85 13-18 13-8 13 5 13-31 13 40 14 2 13 55 14-46 14 24 13-7 13-14 13 29 14 61 14-66 13 2 13 1 11 3 13-3 13-2 14-3 13 0 13-4M1449 64l13 11 13 12 13 31 13-33 13-18 14 81 13-16 13-19 13 6 13-25 13 31 14-20 13 75 14-37 14 3 13-6 13 9 13 44 14 56 14-63 13 4 13-2 11-8 13 3 13 1 14 5 13 6 13-6M1449 93l13-9 13 14 13 32 13-44 13 12 14 58 13 7 13-29 13-7 13-28 13 55 14 16 13 29 14-45 14 18 13-4 13-9 13 45 14 52 14-81 13 3 13 1 11 3 13-2 13 6 14-3 13 5 13-5M1449 105l13 5 13 9 13 21 13-51 13-10 14 82 13-25 13-10 13 2 13-44 13 59 14-10 13 73 14-62 14 24 13-13 13 1 13 56 14 67 14-85 13 0 13-6 11 1 13-10 13-1 14-5 13 3 13 2M1449 75l13-3 13 19 13 13 13-29 13-5 14 77 13-20 13-9 13 8 13-37 13 44 14-37 13 92 14-39 14 21 13-11 13-17 13 38 14 50 14-60 13 2 13-2 11 7 13 5 13-1 14-3 13 0 13-7M1449 67l13-5 13 21 13 36 13-36 13-5 14 80 13-1 13-35 13 5 13-33 13 42 14-5 13 51 14-36 14 11 13 1 13-7 13 33 14 60 14-79 13 3 13 3 11 1 13-1 13 6 14-3 13 0 13 1M1449 67l13 3 13 17 13 22 13-27 13-8 14 79 13-20 13-14 13 14 13-41 13 55 14 35 13 17 14-43 14 23 13 4 13-26 13 39 14 62 14-80 13 3 13 3 11 7 13-7 13 4 14 2 13-4 13 10M1449 32l13 15 13 24 13 21 13-36 13-7 14 90 13-5 13-19 13 0 13-37 13 48 14-23 13 61 14-24 14 9 13-15 13 8 13 50 14 43 14-66 13 6 13-1 11-3 13-6 13 9 14-6 13-1 13 5M1449 55l13 15 13 11 13 33 13-33 13-11 14 79 13-6 13-27 13 8 13-44 13 57 14 5 13 45 14-35 14 17 13 0 13-13 13 52 14 44 14-88 13 13 13-1 11 7 13 2 13-5 14-4 13 7 13-2M1449 46l13 19 13 20 13 20 13-38 13-1 14 87 13-15 13-14 13 6 13-41 13 41 14 13 13 45 14-42 14 11 13 5 13-18 13 49 14 49 14-75 13-1 13-1 11-3 13 6 13 8 14-4 13 1 13-2M1449 88l13-10 13 12 13 41 13-28 13-32 14 85 13-16 13-13 13 5 13-39 13 49 14 37 13 30 14-53 14 15 13-13 13 5 13 51 14 46 14-70 13 1 13 4 11-4 13-3 13 6 14-8 13 5 13-3M1449 41l13 20 13 16 13 38 13-31 13-18 14 82 13-14 13-21 13 8 13-46 13 65 14-27 13 72 14-40 14 13 13-3 13 5 13 19 14 61 14-82 13 14 13 1 11 0 13 9 13-4 14 2 13-5 13 5M1449 72l13-4 13 13 13 42 13-47 13-18 14 87 13-7 13-23 13-3 13-34 13 58 14-12 13 73 14-47 14 16 13-21 13-6 13 41 14 54 14-62 13 1 13-3 11-1 13 1 13 4 14-7 13 4 13 7M1449 53l13 25 13 0 13 41 13-34 13-10 14 72 13-22 13-9 13-1 13-44 13 50 14-5 13 75 14-40 14 14 13-3 13-1 13 30 14 50 14-61 13 8 13 2 11-4 13-7 13-2 14 2 13-5 13 1M1449 97l13-13 13 20 13 24 13-44 13-6 14 78 13-17 13-11 13-2 13-38 13 60 14 24 13 29 14-40 14 8 13-16 13-3 13 34 14 67 14-82 13 8 13 6 11-5 13 3 13 7 14-3 13 9 13-2M1449 78l13 6 13 6 13 42 13-23 13-9 14 62 13 7 13-35 13-2 13-32 13 39 14 15 13 60 14-60 14 8 13-2 13-12 13 67 14 39 14-72 13 0 13 12 11-10 13 1 13-4 14 5 13 0 13 5M1449 58l13 8 13 16 13 32 13-36 13-10 14 76 13-9 13-22 13 6 13-42 13 48 14-15 13 82 14-44 14 16 13 2 13-19 13 36 14 59 14-79 13 2 13 2 11-4 13-4 13 13 14-13 13 2 13 7M1449 56l13 21 13 10 13 37 13-35 13-20 14 92 13-19 13-15 13 8 13-44 13 48 14-5 13 57 14-33 14 8 13 5 13-18 13 68 14 50 14-84 13 7 13-2 11-5 13-5 13 5 14 1 13-10 13 9M1449 54l13 11 13 28 13 30 13-40 13-15 14 81 13-18 13-20 13 8 13-33 13 50 14 0 13 59 14-53 14 12 13 6 13-14 13 45 14 43 14-52 13-3 13 2 11 3 13 1 13 0 14-1 13-7 13-5M1449 76l13-9 13 17 13 23 13-32 13-1 14 73 13-10 13-24 13-1 13-36 13 47 14-6 13 85 14-55 14 16 13-11 13-8 13 26 14 57 14-71 13 4 13-3 11 9 13 14 13-5 14-3 13-2 13 6M1449 73l13 6 13 26 13 34 13-35 13-31 14 75 13 2 13-22 13 12 13-29 13 32 14 4 13 48 14-51 14 26 13-6 13-10 13 34 14 65 14-74 13 2 13 4 11-1 13 0 13-2 14 3 13 1 13-6M1449 53l13 14 13 14 13 27 13-40 13 8 14 77 13 3 13-25 13 10 13-56 13 51 14 4 13 50 14-51 14 24 13 0 13-12 13 48 14 59 14-80 13 10 13 0 11-5 13-2 13 9 14-6 13-1 13-9M1449 63l13 23 13 12 13 28 13-29 13-23 14 75 13 1 13-21 13-1 13-27 13 41 14 24 13 39 14-48 14 11 13 2 13-1 13 36 14 57 14-84 13 5 13 1 11-5 13 3 13 4 14 8 13-11 13 4M1449 72l13 3 13 18 13 39 13-38 13-18 14 88 13-16 13-12 13-3 13-38 13 42 14-2 13 56 14-41 14 13 13-6 13 6 13 37 14 63 14-83 13 11 13-1 11-8 13-1 13-4 14 9 13 3 13 6M1449 34l13 22 13 11 13 43 13-46 13-25 14 105 13-18 13-15 13 2 13-37 13 58 14-17 13 73 14-39 14 5 13-5 13-1 13 43 14 50 14-77 13 8 13 3 11 5 13 0 13-8 14-9 13-2 13 4M1449 68l13 8 13 13 13 29 13-36 13-15 14 79 13-17 13-16 13 3 13-46 13 52 14-34 13 96 14-37 14 17 13-23 13 9 13 22 14 58 14-59 13 3 13-1 11-13 13 3 13-4 14 1 13 9 13 0M1449 74l13 20 13 5 13 44 13-56 13-8 14 71 13-23 13-12 13 6 13-42 13 58 14-16 13 66 14-42 14 15 13 0 13-1 13 56 14 26 14-69 13 11 13-7 11-1 13-1 13-5 14 0 13 2 13 5M1449 63l13 16 13 11 13 40 13-40 13-17 14 85 13-17 13-20 13 6 13-40 13 45 14 4 13 52 14-41 14 24 13 4 13-28 13 29 14 75 14-68 13 4 13-3 11-3 13 4 13-5 14 5 13-3 13 8M1449 54l13 5 13 30 13 25 13-33 13-4 14 76 13-15 13-14 13 9 13-44 13 43 14 9 13 62 14-48 14 3 13-10 13-2 13 49 14 69 14-97 13 2 13 11 11-1 13 1 13 7 14-8 13 3 13 7M1449 70l13-7 13 6 13 48 13-47 13-7 14 84 13-20 13-7 13 4 13-45 13 55 14-43 13 85 14-41 14 16 13 8 13-12 13 40 14 74 14-87 13 13 13 0 11-5 13-7 13 7 14-4 13-3 13 5M1449 70l13 2 13 13 13 30 13-39 13 1 14 81 13-9 13-28 13 11 13-29 13 39 14-6 13 54 14-44 14 26 13-10 13-7 13 36 14 63 14-67 13 4 13-4 11-7 13 0 13-1 14 5 13-2 13-5M1449 37l13 22 13 22 13 32 13-28 13-25 14 87 13-10 13-16 13 2 13-37 13 55 14-25 13 70 14-40 14 2 13-14 13-9 13 53 14 41 14-71 13 11 13 5 11 0 13 6 13-2 14-11 13-3 13 0M1449 59l13 17 13 5 13 49 13-38 13-8 14 71 13-4 13-26 13 1 13-38 13 45 14-1 13 58 14-43 14 10 13 9 13-19 13 63 14 29 14-58 13 1 13 7 11-7 13 3 13 5 14-6 13-2 13-6M1449 49l13 12 13 12 13 30 13-25 13-8 14 79 13-6 13-14 13-4 13-34 13 42 14-24 13 86 14-50 14 15 13-9 13 0 13 50 14 64 14-60 13 9 13 0 11-2 13 5 13-3 14-6 13 3 13 0M1449 78l13 21 13-11 13 48 13-36 13-16 14 86 13-23 13-9 13-7 13-43 13 50 14-11 13 66 14-65 14 14 13-20 13 2 13 70 14 47 14-73 13 7 13 8 11-6 13-1 13 4 14 0 13 7 13-9M1449 57l13 5 13 19 13 26 13-34 13-6 14 80 13-5 13-28 13 12 13-38 13 47 14-17 13 69 14-50 14 10 13-21 13 1 13 54 14 62 14-71 13 9 13-5 11-7 13 6 13 5 14-13 13 0 13-2M1449 82l13-9 13 12 13 26 13-29 13-15 14 89 13-19 13-16 13 3 13-34 13 45 14-4 13 53 14-46 14 23 13 4 13 0 13 52 14 36 14-77 13 10 13 2 11-5 13-4 13-10 14-3 13 14 13 2M1449 69l13-2 13 28 13 25 13-37 13-14 14 78 13-16 13-8 13 13 13-41 13 45 14 6 13 48 14-44 14 11 13 0 13 3 13 22 14 60 14-83 13 13 13-4 11 9 13-4 13 2 14 4 13 5 13-2M1449 71l13 4 13 8 13 24 13-27 13-14 14 83 13-25 13-8 13-2 13-37 13 61 14-14 13 60 14-38 14 9 13-12 13-1 13 50 14 40 14-66 13 14 13-4 11 6 13 2 13-9 14 1 13 2 13 1M1449 60l13-4 13 20 13 26 13-22 13-1 14 75 13-25 13-9 13-1 13-41 13 55 14-9 13 54 14-42 14 15 13-6 13-2 13 45 14 42 14-75 13 9 13-5 11 2 13-3 13-3 14 7 13 10 13-8M1449 60l13 19 13 8 13 36 13-23 13-15 14 68 13 9 13-33 13 3 13-39 13 39 14 1 13 63 14-54 14 15 13 9 13-10 13 44 14 59 14-69 13 6 13 1 11-12 13 2 13-3 14 6 13 0 13 3M1449 54l13 4 13 19 13 27 13-36 13-17 14 96 13-21 13-20 13 8 13-44 13 50 14-19 13 83 14-48 14 13 13-19 13 6 13 20 14 75 14-76 13 0 13 6 11 1 13 4 13 1 14 7 13-8 13 0M1449 61l13 8 13 23 13 28 13-48 13-1 14 82 13-5 13-26 13-4 13-36 13 47 14-32 13 78 14-34 14 17 13-13 13-13 13 43 14 64 14-76 13 4 13 5 11 6 13 0 13 1 14-8 13-3 13 0M1449 57l13 5 13 11 13 35 13-25 13-11 14 79 13-11 13-21 13 10 13-42 13 47 14-26 13 79 14-42 14 10 13-9 13-2 13 49 14 43 14-64 13 9 13-2 11-6 13-5 13 5 14-8 13 11 13 5M1449 65l13 8 13 13 13 25 13-41 13 11 14 73 13-17 13-6 13 3 13-41 13 53 14 2 13 45 14-44 14 26 13-1 13-7 13 60 14 33 14-79 13 5 13 0 11-6 13-3 13 7 14 0 13 1 13-4M1449 58l13-1 13 8 13 30 13-41 13 5 14 89 13-17 13-10 13 5 13-41 13 42 14-23 13 63 14-34 14 22 13 3 13-6 13 33 14 36 14-62 13 0 13-4 11 14 13-5 13-9 14 13 13-6 13 3M1449 68l13 0 13 20 13 33 13-46 13-17 14 89 13-14 13-17 13 16 13-52 13 61 14-34 13 80 14-45 14 15 13-9 13 4 13 22 14 67 14-63 13 2 13 4 11 1 13-8 13 6 14 2 13 2 13-4M1449 46l13 10 13 16 13 34 13-48 13-7 14 88 13-18 13-12 13 5 13-34 13 50 14 2 13 37 14-31 14 22 13-29 13 8 13 11 14 81 14-79 13 8 13 6 11-11 13-1 13 0 14 0 13 14 13-1M1449 52l13 11 13 20 13 26 13-27 13-12 14 80 13-27 13-6 13 0 13-37 13 51 14 4 13 36 14-31 14 11 13-14 13 6 13 43 14 31 14-57 13 14 13 2 11-1 13-2 13 1 14 0 13-6 13-5M1449 75l13 0 13 16 13 17 13-38 13 9 14 77 13-22 13-18 13 5 13-30 13 41 14-4 13 64 14-45 14 23 13-19 13 12 13 38 14 41 14-67 13 0 13-2 11-1 13 3 13 2 14 4 13 2 13 5M1449 81l13 5 13 13 13 26 13-25 13-19 14 81 13-16 13-16 13 9 13-42 13 48 14 27 13 40 14-60 14 18 13 2 13-20 13 47 14 52 14-77 13 8 13-3 11 6 13-6 13 6 14 4 13 6 13-11M1449 51l13 2 13 14 13 27 13-24 13-26 14 97 13-13 13-26 13 18 13-41 13 44 14-54 13 111 14-45 14 21 13-13 13-17 13 35 14 68 14-67 13 1 13 0 11 5 13 2 13-8 14-1 13 4 13 3M1449 64l13 1 13 21 13 33 13-47 13-30 14 100 13-12 13-14 13 4 13-46 13 59 14 1 13 53 14-45 14 25 13-3 13-9 13 26 14 52 14-77 13 9 13 5 11-10 13 2 13 1 14-8 13 11 13 10M1449 63l13 14 13 15 13 19 13-33 13 4 14 82 13-22 13-10 13 2 13-41 13 48 14-4 13 59 14-49 14 14 13-9 13 6 13 31 14 69 14-74 13-1 13-3 11 9 13-5 13-4 14 6 13 1 13-4M1449 72l13 13 13 2 13 48 13-39 13-5 14 69 13-7 13-30 13 7 13-26 13 47 14 9 13 56 14-68 14 14 13 5 13-1 13 36 14 67 14-90 13 13 13-3 11-2 13-3 13-7 14 3 13 5 13 2M1449 60l13 13 13 18 13 21 13-26 13-16 14 78 13-11 13-22 13 12 13-33 13 43 14 5 13 42 14-46 14 27 13-25 13 2 13 27 14 56 14-71 13 7 13-5 11 5 13-6 13 11 14-8 13 5 13 4M1449 64l13 4 13 20 13 37 13-38 13-6 14 87 13-17 13-18 13-6 13-44 13 62 14 11 13 41 14-46 14 15 13-3 13-5 13 45 14 51 14-77 13 13 13 1 11-8 13 4 13-3 14-4 13 6 13 5M1449 79l13 1 13 28 13 11 13-38 13-5 14 78 13-3 13-12 13 6 13-35 13 29 14 22 13 59 14-62 14 22 13 1 13-20 13 50 14 56 14-76 13 8 13-13 11-2 13-2 13 6 14 4 13-6 13-2M1449 67l13-7 13 16 13 30 13-35 13-25 14 95 13-23 13-13 13 17 13-39 13 47 14-14 13 79 14-46 14 13 13-25 13 9 13 25 14 66 14-73 13 12 13-9 11 5 13-5 13 0 14 3 13 1 13 2M1449 89l13-16 13 19 13 24 13-25 13-15 14 86 13 3 13-44 13 6 13-40 13 51 14 22 13 38 14-48 14 16 13-4 13-13 13 38 14 60 14-70 13 14 13 2 11-5 13-5 13-3 14-3 13-1 13 11M1449 56l13 12 13 19 13 20 13-36 13-19 14 89 13-15 13-11 13 12 13-44 13 49 14-25 13 64 14-47 14 20 13-1 13 2 13 42 14 56 14-80 13 8 13 0 11 6 13 1 13-7 14 4 13 1 13 9M1449 80l13-14 13 24 13 16 13-35 13-6 14 85 13-15 13-26 13 12 13-35 13 49 14 1 13 39 14-31 14 15 13 2 13-5 13 32 14 42 14-75 13 15 13 0 11 4 13-1 13 4 14-6 13-1 13 1M1449 59l13 11 13 22 13 34 13-28 13-6 14 66 13-13 13-19 13 3 13-31 13 48 14 9 13 37 14-47 14 23 13-3 13-16 13 59 14 59 14-87 13-3 13-1 11-4 13 9 13 9 14-8 13-5 13 10M1449 65l13 8 13 16 13 30 13-44 13 10 14 70 13 5 13-35 13-2 13-23 13 37 14 32 13 35 14-46 14 8 13-5 13 1 13 44 14 73 14-98 13 16 13 8 11-6 13-10 13 16 14-15 13-4 13-2M1449 36l13 13 13 29 13 26 13-34 13-15 14 91 13-22 13-7 13 13 13-55 13 49 14-23 13 81 14-31 14-3 13-1 13-7 13 42 14 62 14-77 13 5 13-7 11-3 13 1 13 1 14 3 13 3 13-3M1449 78l13-5 13 8 13 52 13-39 13 2 14 69 13-5 13-25 13 1 13-28 13 39 14 31 13 41 14-57 14 11 13-17 13 13 13 27 14 62 14-80 13 7 13 4 11-5 13 1 13 4 14 4 13-10 13-1M1449 79l13-16 13 14 13 26 13-35 13 0 14 75 13-10 13-14 13 6 13-40 13 44 14-33 13 92 14-44 14 10 13 5 13-7 13 42 14 47 14-73 13-1 13 9 11-3 13-6 13 0 14 11 13-11 13 8M1449 55l13 18 13 23 13 26 13-25 13-25 14 84 13-7 13-27 13 15 13-31 13 46 14 3 13 66 14-70 14 13 13-1 13 5 13 52 14 43 14-90 13 1 13 0 11 1 13 5 13-1 14-3 13 5 13 1M1449 53l13 14 13 24 13 36 13-43 13-18 14 82 13-11 13-6 13 12 13-53 13 51 14 3 13 54 14-52 14 11 13 2 13-5 13 48 14 43 14-68 13 3 13-2 11-4 13-3 13 5 14 7 13-3 13 4M1449 62l13 4 13 21 13 20 13-19 13-15 14 82 13-21 13-14 13 3 13-48 13 55 14 12 13 67 14-65 14 18 13-6 13-12 13 36 14 62 14-68 13 7 13 6 11 1 13 2 13-9 14 2 13-3 13 0M1449 50l13 23 13 18 13 23 13-34 13-3 14 73 13-9 13-22 13 16 13-50 13 56 14-27 13 93 14-56 14 23 13-11 13 4 13 30 14 54 14-75 13 4 13 2 11 3 13 4 13-3 14 3 13-3 13 3M1449 48l13 14 13 20 13 26 13-26 13-4 14 83 13-19 13-22 13 2 13-30 13 54 14-18 13 78 14-51 14 17 13-3 13-5 13 56 14 31 14-73 13 8 13 8 11-9 13-5 13-7 14 4 13 0 13-6M1449 58l13 20 13 7 13 29 13-41 13 10 14 68 13-2 13-22 13 9 13-36 13 40 14 7 13 46 14-50 14 14 13 3 13-16 13 51 14 63 14-78 13 1 13 2 11-3 13-1 13 8 14-2 13 0 13-1M1449 82l13-15 13 30 13 32 13-26 13-33 14 83 13-8 13-17 13 4 13-39 13 55 14 28 13 37 14-61 14 11 13-10 13 4 13 49 14 48 14-80 13 13 13-8 11 8 13-8 13 7 14-3 13 3 13-11M1449 83l13-1 13 9 13 23 13-27 13-14 14 88 13-15 13-25 13 10 13-39 13 42 14 2 13 61 14-46 14 19 13-4 13-2 13 20 14 69 14-72 13-2 13 2 11-3 13-3 13 1 14 1 13-2 13 2M1449 48l13 19 13 15 13 34 13-45 13-22 14 92 13-19 13-16 13 7 13-29 13 50 14-10 13 61 14-39 14 10 13-25 13 14 13 36 14 48 14-71 13 14 13 3 11-6 13 5 13 2 14-6 13 7 13 1M1449 66l13 8 13 11 13 32 13-24 13-4 14 71 13-11 13-29 13 9 13-46 13 54 14 17 13 44 14-53 14 8 13-3 13 5 13 23 14 63 14-52 13 13 13 8 11-5 13-3 13 5 14 0 13-9 13 3M1449 63l13 8 13 24 13 21 13-37 13-11 14 88 13-16 13-22 13 14 13-48 13 54 14 7 13 64 14-49 14 18 13-2 13-18 13 53 14 39 14-76 13 7 13 0 11 4 13-1 13-1 14 3 13-1 13-6M1449 58l13-3 13 19 13 31 13-34 13-28 14 97 13-22 13 0 13 3 13-48 13 60 14-23 13 58 14-39 14 17 13-5 13 6 13 26 14 65 14-87 13 9 13-5 11 11 13-4 13-5 14 3 13 6 13 7M1449 72l13-5 13 12 13 38 13-30 13-10 14 72 13-11 13-10 13 0 13-33 13 50 14 6 13 60 14-57 14 15 13-1 13-14 13 29 14 79 14-85 13 2 13 1 11 4 13-8 13 7 14-1 13 1 13-3M1449 49l13 22 13 11 13 34 13-39 13 2 14 64 13 0 13-26 13 1 13-38 13 54 14 1 13 72 14-59 14 22 13 2 13-4 13 29 14 38 14-76 13 12 13-7 11 6 13 8 13-1 14-5 13-5 13-3M1449 57l13 22 13 22 13 25 13-44 13-7 14 77 13 1 13-23 13 10 13-52 13 53 14 34 13 41 14-66 14 17 13 3 13-9 13 52 14 49 14-86 13 10 13 6 11 1 13-2 13 0 14-2 13 2 13 4M1449 37l13 26 13 23 13 26 13-42 13-20 14 87 13-20 13-2 13 8 13-46 13 51 14-13 13 74 14-50 14 16 13-20 13 8 13 48 14 52 14-43 13-4 13 4 11 4 13-11 13 15 14-2 13-1 13-15M1449 47l13 19 13 26 13 35 13-44 13 3 14 66 13-12 13-22 13 6 13-25 13 36 14 10 13 55 14-47 14 15 13-19 13-2 13 28 14 65 14-75 13 9 13 4 11 4 13-5 13-2 14 2 13 3 13-4M1449 73l13 17 13 7 13 25 13-41 13-1 14 83 13-20 13-20 13 14 13-39 13 44 14-4 13 52 14-46 14 15 13-14 13 13 13 35 14 55 14-64 13 5 13-10 11 11 13-10 13 7 14-6 13-3 13 4M1449 58l13 6 13 17 13 19 13-19 13-22 14 88 13-19 13-11 13 5 13-42 13 53 14-22 13 63 14-38 14 8 13-20 13 22 13 23 14 53 14-72 13 4 13 0 11 0 13 5 13 14 14-6 13-8 13 2M1449 43l13 21 13 12 13 29 13-32 13-9 14 92 13-19 13-19 13 4 13-40 13 45 14-40 13 105 14-39 14 9 13-16 13-4 13 35 14 50 14-61 13 8 13 3 11 0 13-8 13 3 14 7 13-4 13-3M1449 56l13 24 13 17 13 24 13-47 13 2 14 79 13-7 13-22 13-1 13-36 13 44 14 8 13 62 14-50 14 20 13-9 13-11 13 47 14 66 14-81 13 7 13-1 11-6 13-2 13 2 14-6 13-6 13-2M1449 68l13 10 13 7 13 27 13-25 13-21 14 94 13-3 13-35 13 15 13-36 13 46 14 12 13 51 14-55 14 10 13 15 13 1 13 24 14 61 14-90 13 3 13-1 11 6 13 4 13-3 14 8 13-1 13-2M1449 66l13 6 13 11 13 36 13-28 13-16 14 86 13-26 13-11 13 11 13-40 13 47 14 10 13 62 14-65 14 18 13-10 13-8 13 39 14 54 14-94 13 9 13-3 11-7 13 5 13 2 14 0 13-4 13 8M1449 36l13 18 13 12 13 26 13-39 13-15 14 111 13-19 13-21 13 8 13-40 13 53 14-8 13 50 14-30 14 14 13-5 13-15 13 43 14 43 14-61 13 16 13-10 11 3 13-4 13 1 14 2 13-8 13 7M1449 50l13 4 13 16 13 29 13-34 13-22 14 102 13-15 13-22 13 4 13-36 13 45 14-42 13 97 14-40 14 18 13-4 13-2 13 23 14 57 14-63 13 2 13-2 11-2 13-3 13 5 14-1 13-4 13 9M1449 54l13 15 13 9 13 32 13-34 13-20 14 89 13-2 13-21 13-2 13-49 13 56 14-16 13 90 14-64 14 9 13-5 13 8 13 24 14 61 14-67 13 10 13-7 11 2 13 5 13 5 14 0 13-5 13 2M1449 51l13 18 13 19 13 37 13-52 13-4 14 78 13-20 13-10 13 6 13-36 13 51 14 6 13 41 14-42 14 11 13-5 13 2 13 55 14 44 14-71 13 7 13-3 11-3 13-3 13-5 14 1 13 2 13-4M1449 95l13 0 13 11 13 12 13-36 13-15 14 79 13-17 13-16 13 3 13-46 13 52 14-34 13 96 14-37 14 17 13-23 13 9 13 22 14 58 14-59 13 3 13-1 11-13 13 3 13-4 14 1 13 9 13 0M1449 73l13-2 13 8 13 23 13-20 13-10 14 81 13-18 13-15 13 15 13-53 13 58 14-20 13 69 14-49 14 15 13-4 13-4 13 50 14 55 14-77 13 11 13 5 11-5 13 2 13 8 14-5 13-6 13 3M1449 43l13 12 13 16 13 34 13-28 13-16 14 88 13-24 13-1 13 2 13-40 13 48 14-36 13 77 14-42 14 15 13 6 13-13 13 33 14 54 14-64 13 11 13-1 11 2 13-5 13 6 14 4 13 4 13-1M1449 66l13 0 13 17 13 32 13-28 13-15 14 78 13-7 13-27 13 10 13-29 13 36 14 13 13 39 14-49 14 22 13-3 13 8 13 35 14 45 14-64 13 4 13 2 11-3 13-6 13 2 14-2 13 1 13-1M1449 42l13 25 13 16 13 32 13-49 13 5 14 81 13-16 13-12 13 5 13-35 13 49 14-39 13 88 14-50 14 14 13-24 13 12 13 33 14 57 14-73 13 1 13 4 11 7 13-4 13-2 14-3 13-3 13 3M1449 69l13 0 13 7 13 39 13-38 13-17 14 87 13-7 13-18 13 2 13-34 13 47 14-14 13 73 14-54 14 17 13 6 13-17 13 61 14 27 14-70 13 12 13 7 11 3 13-6 13-6 14 7 13-7 13 2M1449 68l13 11 13 6 13 41 13-35 13-14 14 89 13-21 13-15 13 7 13-33 13 46 14 30 13 35 14-63 14 20 13-15 13 14 13 28 14 51 14-78 13 12 13 0 11 2 13 7 13-1 14 0 13-2 13 4M1449 61l13 19 13 17 13 16 13-28 13-22 14 88 13-17 13-17 13 4 13-36 13 48 14 9 13 48 14-47 14 15 13-4 13-5 13 41 14 50 14-72 13 3 13-3 11 1 13-7 13 8 14 1 13-1 13 5M1449 44l13 12 13 14 13 35 13-38 13 1 14 87 13-15 13-27 13 10 13-48 13 56 14-25 13 66 14-42 14 20 13-5 13 8 13 29 14 52 14-68 13 3 13 8 11-9 13 0 13-3 14 9 13 0 13-4M1449 52l13 17 13 7 13 35 13-37 13-18 14 89 13-15 13-10 13 5 13-38 13 45 14-17 13 66 14-50 14 22 13-24 13 2 13 49 14 55 14-56 13 1 13-3 11 1 13-1 13 4 14-6 13 0 13 5M1449 66l13 8 13 11 13 32 13-24 13-4 14 71 13-11 13-29 13 9 13-46 13 54 14 17 13 44 14-53 14 8 13-3 13 5 13 23 14 63 14-64 13 12 13-2 11 4 13-5 13-8 14-1 13 0 13-1M1449 66l13 6 13 7 13 36 13-37 13-8 14 90 13-25 13-15 13 4 13-47 13 58 14-9 13 45 14-21 14 7 13-15 13 21 13 29 14 46 14-77 13 5 13-1 11 12 13-1 13 3 14-2 13 3 13-1M1449 56l13 18 13 14 13 31 13-35 13-10 14 81 13-19 13-5 13-8 13-31 13 41 14 0 13 64 14-49 14 20 13-12 13-7 13 47 14 46 14-78 13 4 13 7 11 0 13-1 13-3 14-4 13-5 13 13M1449 45l13 8 13 26 13 27 13-33 13-17 14 92 13-16 13-15 13 0 13-47 13 66 14-34 13 82 14-43 14 13 13-21 13 12 13 44 14 47 14-88 13 18 13 0 11 3 13-9 13 5 14 2 13-4 13 0M1449 50l13 19 13 8 13 33 13-38 13-9 14 88 13-18 13-23 13 6 13-39 13 49 14-32 13 92 14-52 14 19 13 1 13-8 13 39 14 60 14-79 13 2 13 1 11-11 13 2 13 5 14-8 13 12 13-1M1449 57l13-1 13 14 13 38 13-45 13-21 14 107 13-28 13-17 13 11 13-52 13 63 14-20 13 82 14-54 14 15 13-9 13-15 13 30 14 77 14-78 13 10 13 0 11 4 13 2 13-1 14-10 13 5 13 1M1449 77l13-5 13 11 13 45 13-41 13-15 14 87 13-9 13-17 13 5 13-37 13 51 14 25 13 34 14-43 14 1 13 10 13-7 13 34 14 49 14-78 13 16 13-8 11-1 13 4 13-5 14-4 13 8 13-3M1449 54l13 9 13 7 13 27 13-20 13-10 14 77 13-16 13-5 13 3 13-40 13 51 14 2 13 47 14-51 14 18 13-5 13-8 13 30 14 54 14-74 13 17 13-6 11 9 13 5 13-1 14 2 13 4 13-10M1449 80l13-13 13 26 13 38 13-56 13 0 14 79 13-25 13-4 13 7 13-43 13 44 14-15 13 73 14-44 14 27 13-5 13-19 13 51 14 44 14-63 13-2 13-6 11 0 13-7 13 3 14-4 13-8 13 17M1449 58l13 11 13 11 13 35 13-43 13-7 14 82 13-23 13-11 13 5 13-32 13 50 14-6 13 55 14-47 14 21 13-6 13 0 13 21 14 67 14-75 13 7 13 2 11 4 13-4 13 0 14-3 13-6 13-2M1449 62l13 4 13 28 13 20 13-27 13-26 14 90 13-6 13-17 13 3 13-32 13 40 14 9 13 46 14-53 14 11 13 2 13-8 13 48 14 58 14-77 13-1 13-1 11 4 13 6 13-3 14-1 13 0 13-1M1449 78l13 8 13 20 13 12 13-34 13 2 14 64 13-11 13-8 13-1 13-38 13 46 14 7 13 44 14-49 14 22 13-17 13 1 13 53 14 53 14-81 13 10 13 4 11 5 13 7 13-6 14-3 13 0 13 0M1449 31l13 27 13 24 13 23 13-26 13-24 14 91 13-14 13-19 13 6 13-33 13 44 14-48 13 101 14-47 14 20 13-9 13-5 13 33 14 44 14-50 13 5 13-7 11 5 13 6 13-4 14 4 13 3 13-6M1449 69l13 8 13 5 13 37 13-39 13-4 14 70 13-5 13-15 13-1 13-41 13 48 14 10 13 63 14-57 14 19 13-2 13-6 13 29 14 64 14-68 13-1 13-1 11-6 13-1 13 3 14-9 13 3 13-1M1449 74l13 6 13 8 13 26 13-20 13-12 14 75 13-9 13-19 13 11 13-36 13 50 14 12 13 54 14-61 14 10 13 6 13 5 13 53 14 47 14-88 13 3 13-3 11 1 13 9 13-12 14 9 13-2 13 8M1449 69l13 5 13 14 13 24 13-39 13-12 14 89 13-16 13-12 13-3 13-36 13 47 14-3 13 58 14-43 14 15 13-17 13-2 13 51 14 57 14-71 13 10 13-14 11 3 13 1 13-6 14 1 13 2 13 3M1449 42l13 20 13 22 13 19 13-25 13-14 14 79 13-5 13-24 13 12 13-31 13 41 14-23 13 80 14-55 14 18 13 3 13-6 13 25 14 74 14-73 13 9 13 2 11-3 13 0 13-8 14-4 13 0 13 4M1449 64l13-2 13 23 13 27 13-41 13-21 14 101 13-23 13-10 13 3 13-38 13 38 14-40 13 82 14-21 14 11 13-18 13-6 13 45 14 53 14-59 13 7 13-5 11-4 13-4 13 2 14 7 13 3 13 0M1449 58l13 9 13 5 13 48 13-41 13-16 14 89 13-11 13-15 13 7 13-34 13 45 14 18 13 48 14-62 14 6 13 1 13-6 13 36 14 62 14-81 13 10 13 4 11 6 13 1 13 2 14-3 13 4 13-10M1449 52l13 20 13 18 13 16 13-37 13 2 14 87 13-25 13-11 13 8 13-36 13 48 14-17 13 57 14-34 14 14 13 4 13-11 13 56 14 54 14-85 13 8 13 5 11-10 13-3 13 1 14-1 13 0 13 6M1449 57l13 12 13 24 13 32 13-46 13-9 14 80 13-2 13-19 13 9 13-32 13 40 14-9 13 55 14-44 14 20 13-16 13-1 13 45 14 62 14-90 13 1 13-2 11 5 13 0 13 5 14 3 13 5 13-6M1449 58l13 6 13 9 13 29 13-30 13-4 14 76 13-9 13-22 13 11 13-44 13 49 14-50 13 90 14-41 14 21 13-8 13-2 13 44 14 56 14-80 13 14 13 3 11 3 13 0 13-6 14-9 13 4 13 8M1449 68l13 10 13 7 13 27 13-25 13-21 14 94 13-3 13-35 13 15 13-36 13 46 14 12 13 51 14-55 14 10 13 15 13 1 13 24 14 61 14-116 13 3 13 3 11 0 13-8 13 9 14 2 13-4 13-7M1449 73l13 7 13 12 13 31 13-38 13-2 14 69 13-16 13-1 13 10 13-27 13 40 14 43 13 5 14-37 14 6 13 10 13-3 13 35 14 37 14-79 13 9 13-4 11 0 13 3 13 4 14 2 13-5 13-6M1449 58l13 24 13 13 13 21 13-42 13-5 14 84 13-15 13-17 13 3 13-27 13 36 14 7 13 50 14-51 14 24 13-9 13-7 13 46 14 41 14-65 13 7 13 5 11-1 13 6 13-8 14-6 13-1 13-8M1449 77l13-5 13 18 13 20 13-29 13-18 14 90 13-7 13-14 13-7 13-29 13 43 14-5 13 55 14-41 14 12 13 7 13-2 13 42 14 43 14-69 13 1 13 0 11 8 13-6 13 3 14 3 13-6 13 6M1449 52l13 11 13 26 13 32 13-32 13-20 14 82 13 8 13-36 13 4 13-31 13 43 14 24 13 24 14-47 14 23 13-14 13 1 13 42 14 57 14-83 13 10 13-3 11 7 13-9 13 9 14-7 13 4 13 1M1449 75l13 10 13 8 13 38 13-33 13-24 14 80 13-22 13-13 13 2 13-39 13 50 14-1 13 77 14-52 14 11 13-17 13-4 13 35 14 57 14-64 13 13 13-2 11-10 13 6 13-6 14-4 13 9 13 2M1449 58l13 20 13 16 13 27 13-39 13-11 14 79 13-13 13-19 13 10 13-30 13 41 14-6 13 55 14-34 14 12 13-11 13-11 13 48 14 49 14-59 13 2 13-2 11 0 13-1 13-7 14-1 13 7 13 2M1449 66l13 9 13 25 13 20 13-41 13 5 14 78 13-9 13-31 13 15 13-53 13 57 14 9 13 57 14-58 14 19 13 10 13-25 13 61 14 26 14-57 13-2 13 10 11-3 13 3 13-7 14-1 13-2 13 5M1449 54l13 2 13 21 13 35 13-42 13-12 14 86 13-14 13-10 13 6 13-40 13 51 14-23 13 55 14-25 14 8 13-10 13 1 13 40 14 67 14-73 13 6 13-7 11 3 13-1 13 0 14-5 13 6 13-5M1449 71l13 0 13 10 13 33 13-19 13-27 14 93 13-3 13-26 13 0 13-34 13 52 14-2 13 70 14-67 14 29 13-14 13-9 13 53 14 47 14-75 13-3 13 7 11 6 13 0 13 5 14-2 13-6 13 0M1449 45l13 13 13 19 13 25 13-36 13-21 14 100 13-19 13-14 13 7 13-47 13 55 14 5 13 47 14-37 14 11 13-9 13-3 13 48 14 44 14-79 13 11 13 6 11 1 13-3 13-2 14 8 13-6 13-4M1449 47l13 18 13 24 13 34 13-48 13 1 14 78 13-15 13-20 13-3 13-44 13 48 14-44 13 116 14-57 14 24 13 2 13-16 13 41 14 73 14-90 13 7 13-3 11 0 13-9 13-3 14 10 13 5 13-1M1449 53l13-1 13 26 13 32 13-41 13-10 14 87 13-14 13-18 13 7 13-37 13 44 14-31 13 84 14-42 14 12 13-16 13 4 13 22 14 77 14-78 13 3 13 10 11-3 13 5 13-7 14 2 13 6 13-6M1449 52l13 11 13 20 13 74 13-75 13-12 14 80 13-27 13-6 13 0 13-37 13 51 14 4 13 36 14-31 14 11 13-14 13 6 13 43 14 31 14-57 13 14 13 2 11-1 13-2 13 1 14 0 13-6 13-5M1449 69l13 7 13 0 13 21 13-30 13-9 14 81 13-12 13-13 13 3 13-39 13 54 14 0 13 46 14-32 14 4 13-19 13-1 13 58 14 44 14-63 13 2 13 1 11-1 13-1 13-8 14 3 13-1 13 7M1449 51l13 12 13 17 13 36 13-29 13-11 14 75 13-19 13-17 13 2 13-30 13 51 14 5 13 54 14-54 14 20 13-13 13 0 13 36 14 49 14-75 13 7 13 0 11-2 13-4 13 11 14 2 13-8 13-6M1449 47l13 16 13 21 13 26 13-30 13-14 14 85 13-7 13-31 13 12 13-34 13 34 14 6 13 52 14-43 14 15 13-21 13 6 13 26 14 62 14-58 13 5 13 1 11 3 13-7 13 4 14 1 13 2 13-6M1449 55l13 18 13 4 13 35 13-46 13-27 14 103 13-25 13-5 13 4 13-28 13 38 14-17 13 69 14-37 14 17 13-6 13-1 13 39 14 45 14-73 13 9 13 0 11 3 13-3 13 4 14 5 13-2 13 5M1449 38l13 19 13 24 13 35 13-38 13-2 14 77 13-13 13-26 13 7 13-32 13 38 14-26 13 87 14-50 14 21 13-4 13-22 13 40 14 69 14-86 13 5 13 0 11 9 13 3 13-3 14 6 13-2 13 2M1449 79l13-12 13 14 13 27 13-38 13 2 14 86 13-27 13-12 13 1 13-37 13 53 14 8 13 51 14-46 14 15 13 3 13-19 13 60 14 41 14-77 13 3 13-3 11 2 13 0 13-7 14 5 13-2 13-3M1449 65l13 2 13 6 13 43 13-26 13-22 14 82 13-2 13-23 13 9 13-48 13 49 14 2 13 46 14-37 14 11 13-7 13 2 13 38 14 62 14-82 13 10 13 3 11 3 13-5 13-5 14 1 13 9 13-5M1449 47l13 18 13 12 13 32 13-33 13-25 14 97 13-15 13-22 13 11 13-56 13 62 14-20 13 71 14-38 14 18 13-13 13-8 13 40 14 51 14-57 13 10 13-4 11-11 13 5 13 2 14 1 13-2 13-8M1449 82l13 2 13-1 13 41 13-31 13-18 14 82 13-16 13-17 13 1 13-40 13 48 14 17 13 65 14-65 14 25 13-15 13 12 13 45 14 58 14-94 13 4 13 10 11-2 13-9 13 11 14-10 13-2 13 7M1449 58l13 12 13 11 13 36 13-40 13 6 14 74 13-9 13-25 13 15 13-42 13 51 14 21 13 26 14-51 14 17 13-2 13-2 13 32 14 54 14-67 13 6 13 5 11-7 13-5 13 7 14-3 13 0 13-5M1449 62l13 13 13 4 13 28 13-40 13-5 14 88 13-16 13-12 13-1 13-45 13 55 14-4 13 54 14-43 14 13 13-13 13-8 13 47 14 57 14-68 13 3 13 4 11 8 13-7 13-4 14-1 13 7 13 4M1449 46l13 18 13 10 13 27 13-20 13-9 14 82 13-23 13-12 13 3 13-47 13 53 14-8 13 74 14-56 14 21 13-6 13 4 13 41 14 44 14-69 13 4 13-9 11 7 13 7 13-5 14-3 13-3 13-5M1449 76l13-6 13 18 13 49 13-49 13-2 14 81 13-16 13-21 13 4 13-39 13 41 14 17 13 39 14-49 14 13 13 6 13 2 13 52 14 45 14-73 13-4 13 7 11-2 13 0 13 5 14 1 13-10 13 7M1449 64l13 12 13 8 13 33 13-32 13-21 14 83 13-14 13-13 13 14 13-47 13 45 14-28 13 92 14-44 14 17 13 4 13-21 13 32 14 53 14-73 13 11 13 2 11 3 13-2 13-2 14 1 13-3 13 7M1449 60l13 10 13 15 13 31 13-30 13-28 14 96 13-9 13-20 13 3 13-31 13 42 14-39 13 97 14-56 14 12 13 1 13-5 13 28 14 68 14-65 13 7 13-1 11-2 13 4 13 0 14-4 13-7 13-2M1449 54l13 9 13 6 13 30 13-27 13 2 14 75 13-10 13-25 13 2 13-42 13 47 14-28 13 73 14-38 14 20 13-4 13-20 13 40 14 57 14-57 13 10 13 2 11 3 13-9 13 5 14 1 13-7 13 7M1449 85l13-11 13 12 13 39 13-36 13 4 14 70 13 10 13-50 13 10 13-24 13 47 14 39 13 32 14-67 14 7 13-10 13 0 13 62 14 49 14-69 13-7 13-3 11 6 13-4 13-10 14-8 13 4 13 8M1449 78l13 7 13 5 13 24 13-30 13-14 14 82 13-17 13-15 13 1 13-37 13 50 14-25 13 82 14-42 14 9 13-4 13-4 13 27 14 67 14-62 13 4 13-4 11-11 13-2 13 4 14 8 13-4 13 3M1449 91l13-12 13 15 13 29 13-44 13-26 14 101 13 5 13-23 13-3 13-44 13 54 14 6 13 60 14-55 14 10 13-12 13 10 13 30 14 55 14-71 13 0 13 6 11 10 13-5 13-4 14-1 13 5 13 15M1449 78l13 7 13 5 13 24 13-30 13-14 14 82 13-17 13-15 13 1 13-37 13 50 14-25 13 82 14-42 14 9 13-4 13-4 13 27 14 67 14-51 13 14 13 1 11-2 13 6 13-9 14 8 13-5 13-5M1449 56l13 21 13 12 13 14 13-23 13-8 14 86 13-6 13-30 13 3 13-35 13 38 14-9 13 55 14-27 14 12 13 1 13-12 13 32 14 53 14-62 13-3 13 7 11 6 13-4 13 5 14-9 13-4 13 8M1449 61l13 10 13 9 13 29 13-35 13-19 14 96 13-10 13-17 13 2 13-37 13 46 14 12 13 62 14-48 14 3 13-3 13 0 13 57 14 36 14-74 13 2 13 0 11-6 13 7 13-5 14 5 13 8 13 1M1449 72l13 3 13 14 13 33 13-51 13 0 14 77 13-5 13-15 13-9 13-35 13 58 14-16 13 57 14-33 14 13 13 5 13-18 13 32 14 51 14-76 13 7 13-2 11 10 13 2 13-8 14 7 13-5 13 0M1449 52l13 16 13 10 13 27 13-29 13-24 14 98 13-14 13-19 13 8 13-40 13 55 14 12 13 59 14-52 14 9 13-10 13-3 13 18 14 66 14-70 13 9 13-4 11 9 13-7 13 3 14 2 13-7 13-6M1449 39l13 18 13 17 13 39 13-35 13-3 14 74 13-5 13-26 13 0 13-45 13 58 14-43 13 97 14-51 14 16 13 9 13-5 13 58 14 35 14-76 13 5 13-2 11 4 13-8 13-4 14 4 13 0 13 1M1449 46l13 7 13 20 13 35 13-40 13-23 14 98 13-14 13-12 13 8 13-56 13 48 14 11 13 23 14-12 14 11 13 6 13-5 13 40 14 54 14-88 13 12 13 0 11-2 13 1 13 4 14-6 13-1 13-8M1449 50l13 14 13 23 13 40 13-44 13-4 14 76 13 1 13-36 13 10 13-49 13 54 14 17 13 60 14-64 14 15 13-1 13 2 13 32 14 49 14-75 13 15 13 0 11-10 13 0 13 7 14-1 13-8 13 8M1449 50l13 11 13 22 13 40 13-51 13-11 14 79 13-15 13-17 13 4 13-32 13 50 14-32 13 92 14-55 14 16 13 0 13-18 13 29 14 61 14-66 13 7 13-4 11 3 13 6 13-8 14 8 13 7 13-4M1449 64l13 19 13 5 13 22 13-28 13-11 14 79 13-26 13-10 13 9 13-29 13 52 14-17 13 69 14-45 14 15 13-22 13 1 13 37 14 49 14-62 13 10 13-7 11-1 13-5 13 7 14 5 13 2 13 3M1449 44l13 23 13 15 13 19 13-26 13-21 14 89 13-9 13-11 13 12 13-47 13 49 14-18 13 67 14-50 14 14 13-13 13 6 13 57 14 43 14-71 13 3 13-3 11-5 13 7 13 2 14-3 13 6 13 1M1449 56l13 4 13 19 13 26 13-36 13-21 14 96 13-21 13-15 13 19 13-42 13 53 14-1 13 53 14-50 14 15 13-18 13-5 13 35 14 50 14-54 13 12 13 4 11-3 13 0 13-1 14-1 13 0 13-1M1449 63l13 18 13 2 13 34 13-29 13-20 14 84 13-15 13-24 13 6 13-36 13 53 14-7 13 51 14-43 14 18 13-14 13-7 13 53 14 76 14-95 13 2 13 1 11 4 13 1 13 6 14-2 13-8 13 8M1449 65l13 17 13 5 13 24 13-22 13-21 14 83 13-20 13-5 13-3 13-32 13 45 14-14 13 82 14-57 14 19 13 11 13-18 13 30 14 67 14-81 13 1 13 0 11 0 13-6 13 4 14-6 13 8 13 5M1449 65l13 18 13 11 13 24 13-35 13-7 14 84 13-16 13-23 13 8 13-38 13 47 14 12 13 50 14-43 14 10 13-8 13-9 13 36 14 71 14-79 13 11 13-7 11 2 13 4 13 2 14 4 13-4 13-1M1449 78l13 5 13 14 13 44 13-42 13-21 14 84 13-16 13-9 13-5 13-31 13 39 14 4 13 64 14-60 14 19 13-10 13-3 13 56 14 49 14-81 13 2 13 0 11-1 13-1 13 11 14 2 13-2 13-2M1449 65l13 6 13 11 13 41 13-42 13 8 14 71 13-6 13-10 13-3 13-49 13 52 14 45 13 23 14-52 14 19 13 6 13-17 13 54 14 41 14-73 13 7 13-12 11 4 13 6 13-6 14-2 13 6 13-4M1449 46l13 7 13 20 13 35 13-40 13-23 14 98 13-14 13-12 13 8 13-56 13 48 14-54 13 117 14-39 14 9 13 6 13-5 13 40 14 54 14-88 13 12 13 0 11-2 13 1 13 4 14-6 13-1 13-8M1449 59l13 12 13 16 13 32 13-33 13 0 14 82 13-2 13-39 13-3 13-28 13 53 14 0 13 46 14-55 14 25 13-4 13-9 13 36 14 47 14-61 13 2 13 1 11 4 13-5 13 6 14-8 13 7 13-5M1449 68l13 2 13 21 13 29 13-46 13-14 14 92 13-19 13-12 13 7 13-43 13 46 14-35 13 90 14-40 14 9 13-21 13 14 13 30 14 61 14-76 13 5 13 2 11-3 13 2 13-2 14 2 13 4 13 0M1449 42l13 17 13 14 13 47 13-46 13-16 14 90 13-5 13-23 13 3 13-36 13 47 14-3 13 62 14-49 14 10 13-4 13 2 13 34 14 59 14-77 13 7 13 6 11-1 13-8 13 4 14 2 13 0 13-1M1449 43l13 7 13 31 13 28 13-40 13-10 14 91 13-25 13-4 13 2 13-44 13 56 14-20 13 74 14-44 14 7 13-7 13 0 13 28 14 59 14-56 13 0 13 6 11 4 13 4 13-10 14-4 13-5 13 0M1449 50l13 7 13 26 13 19 13-30 13-16 14 93 13-13 13-14 13 5 13-53 13 61 14 4 13 46 14-50 14 17 13-14 13-1 13 45 14 48 14-62 13 6 13-3 11-7 13 9 13-2 14 4 13-1 13-1M1449 52l13-1 13 25 13 27 13-32 13 0 14 74 13-25 13-8 13 9 13-40 13 58 14-22 13 70 14-40 14 20 13-25 13 1 13 44 14 53 14-81 13 14 13-5 11 3 13 6 13 6 14-11 13 3 13-3M1449 44l13 23 13 15 13 19 13-26 13-21 14 89 13-9 13-11 13 12 13-47 13 49 14-18 13 67 14-50 14 14 13-13 13 6 13 57 14 43 14-49 13 10 13-6 11 3 13-2 13-3 14 3 13 0 13-1M1449 67l13-4 13 19 13 24 13-29 13-18 14 88 13-19 13-8 13 2 13-37 13 45 14-7 13 58 14-47 14 24 13-16 13 1 13 40 14 53 14-74 13 2 13 8 11-5 13 3 13-6 14 9 13 1 13 6M1449 50l13 22 13 19 13 26 13-36 13-26 14 94 13-6 13-29 13 17 13-39 13 46 14-39 13 88 14-50 14 13 13-14 13-4 13 63 14 41 14-72 13 6 13 4 11 6 13-7 13-4 14 3 13 7 13-3M1449 48l13 12 13 27 13 35 13-27 13-14 14 79 13-8 13-33 13 13 13-43 13 52 14 14 13 33 14-35 14 18 13 4 13-5 13 49 14 57 14-91 13 7 13-5 11-9 13 2 13 1 14-4 13-1 13-3M1449 84l13 2 13 21 13 26 13-55 13 6 14 76 13-3 13-30 13-3 13-45 13 69 14-7 13 51 14-64 14 14 13-23 13 2 13 76 14 74 14-91 13 10 13-11 11 2 13 8 13-6 14 3 13-4 13-1M1449 60l13 6 13 15 13 23 13-33 13-6 14 83 13-18 13-14 13 14 13-43 13 42 14-22 13 56 14-21 14 11 13-5 13-3 13 17 14 74 14-67 13 10 13 0 11-7 13 8 13 2 14-8 13-3 13-2M1449 51l13 7 13 24 13 20 13-30 13-9 14 89 13-9 13-26 13 0 13-37 13 44 14-65 13 107 14-27 14 3 13 4 13-7 13 47 14 32 14-65 13 9 13-5 11 2 13 0 13 5 14-10 13 6 13-5M1449 59l13 6 13 19 13 24 13-36 13-4 14 83 13-16 13-18 13 3 13-39 13 59 14-30 13 62 14-43 14 19 13 2 13-1 13 43 14 58 14-73 13 8 13-8 11-2 13 6 13-1 14 5 13-1 13-5M1449 70l13-9 13 20 13 44 13-48 13-3 14 90 13-3 13-37 13 4 13-26 13 46 14-12 13 51 14-44 14 21 13-3 13 1 13 28 14 53 14-60 13 1 13-5 11-1 13-3 13 2 14-6 13 8 13-2M1449 74l13-1 13 25 13 36 13-45 13-2 14 76 13-17 13-17 13 9 13-32 13 41 14 22 13 28 14-34 14 13 13-12 13-12 13 57 14 52 14-78 13 4 13-1 11-4 13 3 13-6 14 5 13 0 13-4M1449 44l13 17 13 7 13 47 13-38 13-12 14 76 13-10 13-12 13 1 13-41 13 58 14-3 13 54 14-43 14 12 13 2 13-21 13 42 14 57 14-77 13 8 13-6 11 3 13-2 13 0 14 3 13 1 13 5M1449 65l13 11 13 16 13 28 13-35 13 4 14 69 13 0 13-33 13 4 13-46 13 58 14 23 13 34 14-54 14 17 13 3 13 10 13 37 14 45 14-77 13 9 13 2 11 4 13-9 13-1 14-2 13-2 13-1M1449 74l13 2 13 18 13 29 13-31 13-6 14 66 13-6 13-22 13 6 13-48 13 47 14 23 13 46 14-48 14 8 13 3 13-3 13 54 14 38 14-76 13 9 13-1 11-8 13-2 13 5 14 4 13 10 13-14M1449 69l13 6 13 16 13 19 13-37 13-14 14 90 13-21 13-12 13-1 13-35 13 54 14-30 13 80 14-44 14 12 13-1 13 7 13 33 14 34 14-58 13 13 13-6 11 5 13-6 13 6 14 8 13-5 13-6M1449 52l13 17 13 17 13 15 13-27 13-26 14 99 13-29 13-3 13 3 13-49 13 54 14-21 13 79 14-50 14 21 13-14 13-4 13 24 14 76 14-81 13 13 13-4 11 2 13 3 13 1 14-1 13 2 13-8M1449 90l13-14 13 6 13 26 13-35 13 6 14 87 13-14 13-19 13 6 13-36 13 41 14-17 13 70 14-43 14 19 13 1 13 2 13 30 14 42 14-83 13 10 13 5 11 3 13-1 13-1 14 9 13-12 13 7M1449 59l13 9 13 11 13 32 13-32 13 6 14 68 13-19 13-15 13 12 13-38 13 48 14 16 13 53 14-56 14 18 13-9 13 4 13 40 14 66 14-92 13 4 13 4 11 3 13 4 13-10 14-8 13 3 13-3M1449 37l13 26 13 23 13 26 13-42 13-20 14 87 13-20 13-2 13 8 13-46 13 51 14-13 13 74 14-50 14 16 13-20 13 8 13 48 14 52 14-82 13 4 13 8 11-1 13 5 13 4 14-10 13 5 13-6M1449 60l13 3 13 19 13 25 13-30 13-18 14 92 13-14 13-18 13 12 13-36 13 37 14-22 13 70 14-34 14 13 13-12 13-2 13 41 14 57 14-73 13-2 13 3 11 5 13 2 13 4 14 0 13 3 13-1M1449 65l13 3 13 16 13 27 13-44 13-3 14 79 13-13 13-13 13 1 13-25 13 45 14-12 13 74 14-41 14 12 13-18 13 6 13 39 14 40 14-70 13 10 13 5 11-6 13-6 13 6 14 2 13-4 13-1M1449 75l13-4 13 9 13 31 13-38 13 12 14 67 13 7 13-33 13 2 13-42 13 56 14 19 13 39 14-51 14 14 13-4 13 6 13 51 14 26 14-64 13 6 13-3 11-7 13 0 13 2 14 1 13 4 13-5M1449 70l13 1 13 9 13 42 13-36 13-26 14 97 13-22 13-17 13 20 13-46 13 59 14-5 13 48 14-48 14 13 13 1 13 0 13 35 14 51 14-72 13 2 13-4 11 2 13 9 13-2 14 2 13 4 13-7M1449 69l13 5 13 21 13 34 13-28 13-16 14 70 13 12 13-34 13 11 13-29 13 25 14-18 13 82 14-47 14 4 13 11 13-3 13 35 14 64 14-87 13 8 13 2 11 1 13 7 13-5 14-8 13-2 13-6M1449 63l13 6 13 26 13 45 13-51 13-10 14 82 13-25 13-10 13 2 13-44 13 59 14-10 13 73 14-62 14 24 13-13 13 1 13 56 14 67 14-85 13 0 13-6 11 1 13-10 13-1 14-5 13 3 13 2M1449 61l13-2 13 8 13 41 13-47 13-14 14 98 13-23 13-7 13-5 13-42 13 61 14-42 13 101 14-54 14 19 13 0 13-5 13 40 14 42 14-74 13 11 13 0 11 4 13 1 13 7 14 1 13-4 13 4M1449 74l13 1 13 16 13 37 13-44 13-4 14 80 13-25 13-22 13 8 13-31 13 45 14-19 13 89 14-52 14 12 13-12 13 4 13 49 14 34 14-62 13 2 13-2 11-3 13 0 13 1 14-6 13 3 13-4M1449 57l13-1 13 14 13 80 13-87 13-21 14 107 13-28 13-17 13 11 13-52 13 63 14-20 13 82 14-54 14 15 13-9 13-15 13 30 14 77 14-78 13 10 13 0 11 4 13 2 13-1 14-10 13 5 13 1M1449 71l13 7 13 18 13 19 13-30 13-4 14 86 13-12 13-26 13 5 13-44 13 55 14 47 13 22 14-59 14 21 13-11 13-7 13 32 14 55 14-66 13 5 13 4 11-1 13-6 13 2 14-6 13-5 13 1M1449 69l13 18 13 6 13 31 13-37 13-2 14 74 13-9 13-20 13 11 13-40 13 39 14-2 13 59 14-40 14 15 13-3 13-8 13 62 14 30 14-80 13 12 13-4 11 7 13 1 13 6 14 6 13-9 13-8M1449 59l13 5 13 8 13 37 13-38 13 3 14 73 13-15 13-13 13 4 13-37 13 55 14-27 13 80 14-52 14 9 13-8 13-12 13 41 14 76 14-75 13 10 13-8 11 6 13 3 13-6 14 6 13-10 13 1M1449 42l13 20 13 30 13 21 13-35 13-13 14 82 13-28 13-7 13 7 13-45 13 56 14-41 13 90 14-36 14 13 13-7 13-1 13 23 14 63 14-74 13 10 13 3 11 5 13-6 13-7 14-3 13 5 13-1M1449 63l13 20 13 7 13 35 13-34 13-18 14 82 13-18 13-19 13 15 13-37 13 46 14 3 13 46 14-34 14 28 13 0 13-17 13 23 14 61 14-63 13-2 13-8 11 7 13 2 13-3 14 2 13 3 13-2M1449 57l13 12 13 14 13 20 13-32 13-1 14 79 13-10 13-19 13 8 13-44 13 45 14 10 13 60 14-49 14 11 13-5 13-8 13 50 14 48 14-72 13 1 13-3 11-2 13-4 13 6 14 1 13 5 13 4M1449 49l13 15 13 8 13 32 13-34 13-4 14 83 13 1 13-28 13-1 13-39 13 49 14-15 13 63 14-33 14 15 13 1 13-6 13 19 14 63 14-77 13 2 13 6 11 3 13 4 13-2 14-8 13-4 13 1M1449 43l13 11 13 23 13 28 13-39 13 1 14 78 13-5 13-23 13 5 13-37 13 53 14 2 13 37 14-33 14 14 13-1 13-9 13 21 14 69 14-67 13 7 13-5 11 1 13-2 13-3 14-9 13 10 13-3M1449 57l13 5 13 26 13 21 13-45 13-13 14 92 13-14 13-3 13 1 13-40 13 45 14-1 13 67 14-53 14 18 13 2 13-22 13 32 14 46 14-53 13-3 13-1 11 2 13 3 13-2 14 3 13-1 13 5M1449 46l13 25 13 12 13 27 13-29 13-5 14 76 13 9 13-22 13-3 13-32 13 42 14 7 13 50 14-41 14-2 13 11 13-16 13 25 14 76 14-81 13 3 13 6 11-1 13 6 13-6 14 0 13 1 13 2M1449 53l13 4 13 12 13 30 13-35 13-3 14 96 13-28 13-18 13 13 13-42 13 43 14-4 13 72 14-48 14 20 13-21 13-7 13 52 14 50 14-76 13 9 13-7 11-3 13 8 13-8 14 9 13 6 13-3M1449 47l13 26 13 7 13 26 13-19 13-27 14 96 13-20 13-17 13 10 13-26 13 36 14 2 13 58 14-48 14 6 13-4 13-2 13 32 14 60 14-69 13 3 13 1 11 1 13 7 13-5 14-9 13 7 13-4M1449 62l13 7 13 8 13 27 13-20 13-4 14 76 13-24 13-24 13 13 13-32 13 48 14-18 13 67 14-38 14 11 13-20 13 15 13 47 14 38 14-74 13-3 13 10 11 2 13 0 13 1 14 3 13 2 13-10M1449 64l13 10 13 5 13 36 13-41 13-33 14 102 13-8 13-23 13 4 13-49 13 55 14-22 13 85 14-41 14 12 13-16 13-4 13 46 14 49 14-73 13 11 13 5 11-9 13-1 13 4 14 6 13-6 13 1M1449 49l13 22 13 10 13 29 13-37 13 2 14 76 13-23 13-17 13-4 13-27 13 59 14-34 13 68 14-28 14 15 13-4 13-6 13 32 14 57 14-63 13 3 13 0 11-7 13 0 13-9 14 3 13 1 13-12M1449 50l13 11 13 20 13 36 13-27 13-7 14 73 13-6 13-27 13 2 13-33 13 42 14 0 13 48 14-36 14 21 13-1 13-4 13 46 14 64 14-97 13 8 13-7 11-5 13-2 13 5 14 6 13-4 13-3M1449 59l13 9 13 17 13 39 13-45 13-20 14 94 13-8 13-21 13 10 13-32 13 40 14 11 13 40 14-47 14 15 13 5 13-19 13 24 14 62 14-73 13 18 13-5 11 5 13-1 13-9 14-5 13 8 13-2M1449 68l13 9 13 32 13 15 13-34 13-25 14 92 13-4 13-25 13-1 13-25 13 39 14 20 13 40 14-47 14 24 13 6 13-13 13 58 14 49 14-96 13 2 13 2 11 10 13-3 13-4 14 8 13-7 13-6M1449 64l13 14 13 16 13 27 13-41 13-7 14 88 13-12 13-28 13 4 13-28 13 49 14-6 13 67 14-43 14 0 13-1 13-13 13 51 14 63 14-91 13 12 13-1 11-3 13-5 13 4 14-1 13 3 13 8M1449 66l13 3 13 7 13 34 13-43 13-6 14 91 13-6 13-20 13-2 13-42 13 58 14-1 13 56 14-57 14 20 13-3 13-12 13 34 14 71 14-77 13-1 13-2 11 2 13-7 13 5 14 2 13 10 13-8M1449 70l13 2 13 3 13 25 13-42 13-15 14 107 13-4 13-30 13 3 13-50 13 55 14-35 13 81 14-33 14 12 13-6 13-6 13 20 14 67 14-64 13 13 13 4 11-5 13 5 13-1 14-6 13 4 13 5M1449 77l13 4 13 8 13 21 13-43 13-2 14 81 13-19 13-8 13 3 13-42 13 56 14-24 13 85 14-50 14 17 13-23 13-6 13 33 14 63 14-65 13 5 13-2 11 6 13-3 13-4 14 4 13 5 13 2M1449 52l13 6 13 24 13 22 13-39 13-27 14 96 13-20 13 0 13 5 13-37 13 47 14-45 13 88 14-46 14 19 13-16 13-1 13 26 14 84 14-83 13 9 13 5 11-4 13 0 13 8 14-5 13-4 13 9M1449 92l13-23 13 23 13 40 13-42 13-10 14 76 13 4 13-30 13 3 13-26 13 38 14 19 13 28 14-40 14 19 13 2 13-15 13 31 14 39 14-56 13 1 13 10 11-6 13-1 13 6 14-3 13 0 13 3M1449 51l13 16 13 11 13 25 13-43 13-20 14 102 13-13 13-15 13 12 13-43 13 44 14-15 13 63 14-40 14 25 13-16 13-6 13 27 14 53 14-57 13 4 13 6 11-7 13 4 13-2 14-1 13 8 13-8M1449 83l13-6 13 7 13 30 13-26 13-17 14 79 13-14 13-15 13 3 13-37 13 55 14-22 13 69 14-40 14 25 13 0 13-22 13 64 14 39 14-72 13 0 13 7 11-3 13 2 13-1 14 3 13-10 13-4M1449 72l13 5 13 19 13 31 13-38 13-16 14 78 13-16 13-12 13 2 13-37 13 50 14 28 13 32 14-48 14 20 13 7 13-1 13 25 14 50 14-79 13 6 13 7 11 1 13 5 13-4 14 10 13-13 13 5M1449 71l13-5 13 14 13 26 13-33 13-18 14 96 13-12 13-20 13 12 13-36 13 42 14-8 13 54 14-40 14 12 13 8 13-17 13 44 14 60 14-87 13 16 13 1 11-1 13 3 13-4 14-4 13 4 13-1M1449 76l13 4 13 15 13 23 13-33 13-8 14 81 13-4 13-21 13-4 13-43 13 50 14 23 13 36 14-50 14 24 13 2 13 2 13 12 14 50 14-75 13 17 13-4 11 6 13-3 13-1 14 2 13 6 13-5M1449 41l13 19 13 22 13 24 13-30 13-6 14 71 13-21 13-6 13 14 13-52 13 43 14-51 13 95 14-30 14 8 13-14 13 15 13 9 14 60 14-63 13 6 13 0 11 0 13 1 13 4 14 4 13-5 13 1M1449 74l13 10 13 20 13 24 13-45 13-6 14 85 13 4 13-39 13 12 13-41 13 46 14-7 13 65 14-49 14 8 13-5 13 5 13 42 14 40 14-73 13 10 13 10 11-7 13 3 13-3 14-9 13 2 13 1M1449 57l13 19 13 6 13 24 13-31 13-9 14 86 13-6 13-32 13 9 13-34 13 50 14-25 13 85 14-44 14 9 13-2 13-3 13 48 14 50 14-84 13 0 13 2 11 7 13-2 13 8 14-7 13 8 13-6M1449 95l13-7 13 8 13 25 13-32 13-1 14 58 13 6 13-31 13 7 13-37 13 52 14-14 13 70 14-43 14 10 13-3 13 0 13 42 14 44 14-64 13 9 13-10 11 7 13 3 13-7 14-4 13-5 13-3M1449 77l13 12 13-9 13 42 13-34 13-10 14 77 13-22 13-21 13 10 13-36 13 47 14-8 13 58 14-39 14 12 13-12 13 12 13 44 14 48 14-64 13 5 13-1 11-8 13-5 13 2 14 5 13-10 13 13M1449 53l13 17 13 10 13 38 13-36 13-25 14 89 13-18 13-17 13 2 13-42 13 54 14-54 13 115 14-41 14 22 13-16 13-17 13 30 14 71 14-76 13 3 13 0 11 0 13 6 13-5 14-1 13 10 13-8M1449 62l13-2 13 17 13 21 13-35 13-9 14 94 13-25 13-18 13 13 13-39 13 41 14-26 13 79 14-40 14 8 13-13 13 0 13 25 14 58 14-63 13 7 13 5 11-4 13 12 13-12 14 11 13 3 13 6M1449 51l13 8 13 147 13-108 13-37 13-14 14 29 13-7 13 8 13 7 13-22 13 27 14-28 13 235 14-200 14 12 13-25 13 2 13 65 14 79 14-116 13 8 13 2 11 3 13-1 13-2 14 0 13 0 13 0M1449 55l13 5 13 148 13-108 13-38 13-13 14 28 13-8 13 14 13 4 13-23 13 27 14-30 13 240 14-203 14 13 13-30 13 5 13 66 14 77 14-114 13 8 13 4 11-1 13-2 13 0 14 0 13 2 13 1M1449 48l13 10 13 145 13-108 13-35 13-10 14 23 13-5 13 8 13 8 13-24 13 31 14-37 13 244 14-203 14 11 13-24 13 2 13 65 14 79 14-113 13 5 13-3 11 4 13-1 13 1 14-3 13 1 13 1M1449 46l13 8 13 143 13-104 13-34 13-14 14 21 13-3 13 9 13 8 13-19 13 25 14-31 13 242 14-204 14 10 13-25 13 5 13 65 14 77 14-113 13 7 13-4 11 4 13-3 13 1 14 1 13 2 13-7M1449 60l13 1 13 147 13-108 13-38 13-11 14 26 13-4 13 11 13 4 13-24 13 27 14-31 13 242 14-205 14 14 13-29 13 7 13 65 14 74 14-110 13 8 13-3 11 4 13-1 13-1 14 0 13-1 13 4M1449 55l13 6 13 145 13-109 13-38 13-10 14 23 13-5 13 11 13 4 13-21 13 29 14-34 13 244 14-205 14 13 13-26 13 3 13 66 14 77 14-111 13 1 13 4 11 3 13-1 13-4 14 1 13 3 13-7M1449 63l13 3 13 148 13-109 13-39 13-9 14 28 13-8 13 11 13 0 13-22 13 32 14-34 13 242 14-207 14 15 13-25 13 0 13 70 14 77 14-110 13 4 13 1 11 2 13-1 13 1 14 0 13-5 13 1M1449 49l13 10 13 148 13-108 13-39 13-12 14 24 13-6 13 12 13 8 13-24 13 27 14-32 13 244 14-205 14 9 13-25 13 6 13 66 14 75 14-113 13 10 13-5 11 7 13-5 13 2 14 1 13 0 13-4M1449 47l13 11 13 145 13-105 13-37 13-15 14 27 13-7 13 9 13 6 13-22 13 30 14-32 13 240 14-204 14 11 13-27 13 8 13 61 14 80 14-111 13 5 13-2 11 7 13-7 13 2 14 1 13-5 13-1M1449 53l13 13 13 27 13 25 13-44 13-7 14 86 13-6 13-32 13 13 13-47 13 62 14-25 13 110 14-92 14 21 13-6 13-1 13 62 14 46 14-93 13 5 13-7 11 11 13-4 13 5 14 5 13-10 13 6M1449 49l13 19 13 21 13 28 13-48 13 0 14 90 13-18 13-25 13 8 13-46 13 64 14-14 13 101 14-90 14 30 13-17 13-2 13 56 14 54 14-94 13 0 13 11 11-8 13 9 13-12 14 3 13 6 13-13M1449 56l13 8 13 28 13 24 13-42 13-3 14 89 13-17 13-28 13 6 13-42 13 62 14-19 13 111 14-97 14 33 13-13 13-5 13 61 14 48 14-96 13 9 13-3 11 5 13-4 13 5 14 0 13-11 13-1M1449 55l13 11 13 27 13 22 13-43 13-4 14 86 13-10 13-22 13 3 13-38 13 46 14-6 13 102 14-90 14 20 13-4 13 3 13 47 14 57 14-90 13 0 13 4 11-8 13 5 13-7 14 10 13-6 13 1M1449 49l13 16 13 28 13 23 13-46 13-1 14 85 13-9 13-27 13 11 13-50 13 58 14-9 13 99 14-87 14 20 13-9 13 8 13 48 14 51 14-100 13 8 13 3 11 6 13 2 13-15 14 3 13 0 13 6M1449 50l13 17 13 24 13 23 13-42 13-3 14 91 13-17 13-26 13 8 13-44 13 59 14-23 13 109 14-91 14 21 13-9 13 5 13 59 14 46 14-91 13 9 13-3 11-2 13-3 13-7 14 13 13-13 13 1M1449 48l13 14 13 30 13 22 13-43 13-3 14 91 13-14 13-27 13 7 13-46 13 52 14-3 13 104 14-94 14 17 13-3 13 4 13 56 14 46 14-93 13 0 13-5 11 7 13 9 13-9 14-1 13 16 13-22M1449 51l13 7 13 31 13 27 13-48 13-2 14 82 13-19 13-17 13 14 13-45 13 49 14-11 13 108 14-91 14 19 13-2 13-3 13 52 14 57 14-105 13 15 13-12 11 11 13-10 13-1 14 3 13 4 13 0M1449 76l13-1 13 6 13 50 13-43 13-4 14 70 13-5 13-27 13 8 13-30 13 47 14-19 13 68 14-41 14 11 13-9 13 2 13 45 14 39 14-62 13 10 13-7 11 5 13-8 13 12 14-2 13-4 13-5M1449 79l13-4 13 8 13 48 13-38 13-4 14 67 13-11 13-20 13 7 13-32 13 44 14-13 13 75 14-53 14 15 13-6 13 0 13 43 14 42 14-62 13 8 13-4 11-4 13 6 13-4 14 4 13-2 13 5M1449 78l13-9 13 9 13 38 13-30 13 0 14 66 13-2 13-31 13 13 13-39 13 53 14-18 13 71 14-48 14 13 13-7 13 5 13 37 14 44 14-66 13 7 13-1 11 7 13 0 13 1 14-10 13 3 13 4M1449 72l13-2 13 6 13 42 13-35 13 2 14 72 13-16 13-22 13 11 13-36 13 47 14-20 13 70 14-38 14 7 13 1 13-3 13 44 14 34 14-53 13 4 13-1 11 3 13-3 13 1 14-3 13 4 13-1M1449 82l13-4 13 1 13 47 13-37 13-3 14 69 13-11 13-22 13 6 13-25 13 41 14-20 13 74 14-43 14 13 13-10 13 9 13 40 14 38 14-62 13 4 13 8 11-11 13 2 13 1 14-2 13 5 13 1M1449 76l13-5 13 7 13 44 13-32 13-2 14 65 13-5 13-22 13 7 13-39 13 52 14-18 13 75 14-51 14 15 13-6 13-2 13 46 14 39 14-67 13 6 13 0 11 7 13 0 13 3 14-11 13 12 13-1M1449 80l13-9 13 8 13 47 13-33 13-8 14 69 13-2 13-30 13 9 13-30 13 41 14-10 13 69 14-47 14 12 13-4 13 1 13 42 14 36 14-56 13 0 13 7 11 2 13-9 13 4 14-2 13 2 13-6M1449 70l13-5 13 6 13 43 13-35 13 5 14 67 13-10 13-20 13 8 13-38 13 51 14-30 13 72 14-31 14 9 13-10 13 0 13 45 14 39 14-64 13 10 13-5 11 6 13-3 13-5 14 6 13-3 13 1M1449 80l13-10 13 7 13 55 13-40 13-9 14 73 13-6 13-25 13 8 13-37 13 45 14-21 13 77 14-41 14 9 13-6 13-2 13 46 14 36 14-59 13 10 13-4 11-4 13 1 13 0 14 2 13 0 13 4M1449 71l13-1 13 2 13 52 13-37 13-6 14 76 13-15 13-18 13 4 13-37 13 49 14-17 13 70 14-41 14 10 13 0 13-7 13 47 14 34 14-58 13 8 13 0 11-1 13 3 13-9 14-1 13 5 13-1M1449 80l13-9 13 11 13 37 13-36 13 4 14 68 13-6 13-28 13 8 13-33 13 45 14-20 13 78 14-44 14 9 13 0 13-6 13 46 14 38 14-65 13 5 13 0 11 11 13-11 13 3 14 5 13-3 13-9M1449 68l13-4 13 12 13 36 13-27 13-3 14 71 13-9 13-30 13 14 13-38 13 49 14-26 13 79 14-40 14 5 13-3 13 0 13 41 14 37 14-61 13 6 13 7 11-4 13 0 13-2 14-3 13 0 13-3M1449 74l13 1 13 4 13 41 13-33 13-2 14 69 13-6 13-22 13 5 13-33 13 47 14-21 13 77 14-48 14 13 13-3 13-5 13 46 14 46 14-68 13 9 13 0 11 0 13-3 13-2 14-1 13 3 13-1M1449 79l13-6 13 3 13 46 13-39 13 3 14 70 13-10 13-23 13 3 13-27 13 45 14-22 13 78 14-49 14 10 13 0 13-4 13 40 14 50 14-69 13 12 13-9 11 4 13-1 13 3 14-4 13 7 13-1M1449 75l13 0 13 3 13 53 13-49 13 3 14 68 13-5 13-23 13 2 13-30 13 44 14-22 13 77 14-45 14 14 13-7 13 5 13 41 14 39 14-66 13 8 13 5 11-6 13-5 13 1 14 10 13-3 13-1M1449 73l13-4 13 11 13 39 13-36 13-2 14 74 13-7 13-27 13 6 13-27 13 44 14-25 13 76 14-39 14 4 13 0 13-2 13 42 14 47 14-67 13 7 13-3 11-2 13 2 13 2 14 3 13-5 13-7M1449 75l13-6 13 9 13 45 13-36 13-2 14 75 13-18 13-15 13 6 13-37 13 45 14-17 13 77 14-48 14 15 13-6 13-3 13 47 14 41 14-65 13 7 13-8 11 12 13-3 13-9 14 9 13-4 13-3M1449 67l13 2 13 3 13 45 13-36 13-3 14 71 13-10 13-23 13 7 13-34 13 50 14-18 13 63 14-32 14 8 13-3 13-4 13 43 14 47 14-66 13 6 13-6 11 4 13-5 13 0 14-1 13 7 13-1M1449 72l13-3 13 5 13 52 13-38 13-4 14 72 13-7 13-30 13 10 13-30 13 47 14-28 13 83 14-47 14 5 13 4 13-2 13 42 14 44 14-68 13 2 13 9 11-2 13-7 13 5 14 6 13-5 13-9M1449 84l13-1 13 3 13 35 13-29 13 5 14 52 13-6 13-25 13 11 13-34 13 42 14-16 13 44 14-28 14 14 13-19 13 2 13 41 14 34 14-48 13 2 13-2 11 3 13 4 13-2 14-5 13 4 13 6" fill="none" stroke="#bfc0c2" stroke-width="1.15" stroke-linejoin="round"/>
<path d="M1449 48l13 11 13 22 13 38 13-44 13-18 14 93 13-15 13-25 13 13 13-50 13 46 14-19 13 89 14-53 14 12 13 2 13-6 13 24 14 46 14-50 13 15 13-8 11 5 13 1 13-1 14-3 13-4 13 6M1449 48l13 19 13 29 13 13 13-25 13-6 14 71 13-2 13-15 13 2 13-38 13 44 14 1 13 59 14-45 14 3 13-9 13-1 13 45 14 50 14-73 13 8 13-3 11 1 13 3 13 1 14 0 13-6 13-6M1449 87l13-5 13 20 13 19 13-30 13-18 14 86 13-16 13-13 13 1 13-46 13 60 14 13 13 47 14-51 14 13 13-15 13 2 13 41 14 59 14-79 13 7 13 7 11-2 13 5 13 1 14-5 13 5 13-2M1449 81l13-3 13 20 13 23 13-25 13-17 14 75 13 1 13-24 13-1 13-44 13 50 14-18 13 83 14-49 14 10 13-5 13 0 13 47 14 48 14-82 13 3 13 6 11-3 13 3 13-3 14-5 13 2 13-2M1449 72l13 5 13 25 13 32 13-47 13-7 14 73 13-12 13-10 13 6 13-43 13 51 14 9 13 34 14-39 14 16 13-10 13 5 13 63 14 42 14-72 13-13 13-3 11 9 13-6 13 2 14 2 13 5 13-1M1449 77l13-3 13 12 13 26 13-43 13 7 14 83 13-17 13-15 13 7 13-34 13 37 14-8 13 53 14-38 14 16 13-7 13-8 13 65 14 33 14-68 13 7 13-4 11-2 13 3 13-10 14 9 13 11 13-1M1449 68l13 0 13 13 13 29 13-32 13-16 14 81 13-11 13-8 13 11 13-43 13 51 14 8 13 33 14-32 14 10 13 9 13-17 13 34 14 62 14-85 13 13 13 0 11 0 13 3 13-11 14 10 13 2 13-5M1449 57l13 18 13 18 13 37 13-53 13-15 14 83 13-16 13-15 13 11 13-32 13 35 14-53 13 103 14-41 14 10 13-4 13 10 13 28 14 42 14-69 13 9 13 8 11 5 13 4 13-6 14 0 13-1 13-5M1449 44l13 25 13 10 13 32 13-36 13-26 14 94 13-4 13-16 13 7 13-38 13 40 14-42 13 96 14-46 14 23 13-16 13-11 13 56 14 45 14-78 13 17 13 5 11 4 13-5 13 6 14-4 13-7 13 6M1449 53l13-1 13 12 13 31 13-35 13-6 14 86 13-25 13 4 13-3 13-35 13 44 14-12 13 72 14-41 14 15 13-13 13-11 13 47 14 44 14-75 13 16 13-2 11 8 13-6 13-10 14 12 13-9 13 5M1449 52l13 11 13 6 13 39 13-46 13 1 14 84 13-14 13-11 13-5 13-44 13 61 14-42 13 76 14-41 14 18 13 2 13-14 13 49 14 41 14-66 13 10 13-11 11 3 13 8 13 4 14 4 13-9 13 11M1449 67l13 5 13 17 13 25 13-25 13-13 14 80 13-18 13-5 13-1 13-34 13 37 14 22 13 51 14-63 14 18 13-20 13 10 13 37 14 54 14-59 13-5 13 4 11-8 13-4 13-1 14 3 13 0 13 4M1449 62l13 12 13 15 13 35 13-29 13-17 14 77 13-2 13-22 13 19 13-37 13 38 14 11 13 40 14-50 14 25 13 3 13-10 13 65 14 36 14-87 13 5 13 3 11 2 13-4 13-1 14 4 13 3 13 5M1449 40l13 20 13 14 13 33 13-33 13-2 14 76 13-12 13-25 13 9 13-39 13 56 14-14 13 73 14-47 14 12 13-13 13-5 13 20 14 49 14-50 13 3 13 3 11-9 13 5 13-2 14-1 13 6 13-3M1449 40l13 15 13 20 13 38 13-39 13-4 14 78 13-24 13-8 13 1 13-34 13 52 14-17 13 60 14-40 14 8 13 2 13 1 13 53 14 51 14-81 13 6 13 0 11-8 13-4 13-1 14-1 13-9 13 6M1449 70l13 9 13 17 13 32 13-43 13-17 14 74 13-16 13-14 13 15 13-39 13 56 14-21 13 71 14-54 14 19 13-16 13 5 13 38 14 50 14-72 13 13 13 6 11 6 13-5 13-10 14 6 13-8 13 2M1449 66l13-1 13 19 13 28 13-23 13-22 14 83 13-12 13-22 13 12 13-41 13 45 14-18 13 81 14-43 14 13 13-10 13-6 13 49 14 52 14-72 13 7 13-2 11-10 13 2 13 10 14 10 13-10 13 1M1449 74l13 1 13 0 13 43 13-46 13 0 14 77 13-19 13-14 13 8 13-42 13 49 14-47 13 90 14-38 14 22 13-22 13 9 13 18 14 52 14-47 13 6 13 0 11-3 13-7 13 10 14-6 13 1 13 4M1449 61l13 20 13-2 13 32 13-45 13-15 14 98 13-18 13-13 13 5 13-33 13 40 14-36 13 85 14-34 14 13 13-4 13-15 13 40 14 50 14-66 13 8 13-6 11 2 13 2 13 4 14 7 13-4 13 3M1449 84l13-8 13 8 13 25 13-26 13-13 14 85 13-1 13-28 13 16 13-36 13 33 14 0 13 57 14-46 14 18 13 3 13-4 13 40 14 53 14-83 13 6 13 0 11 0 13 3 13-5 14 7 13 3 13-5M1449 55l13 9 13 14 13 23 13-26 13-17 14 87 13-18 13-5 13 9 13-29 13 46 14 14 13 31 14-50 14 13 13-17 13 2 13 57 14 58 14-94 13 10 13-4 11 6 13-1 13 2 14-4 13 1 13 12M1449 58l13 18 13 25 13 25 13-48 13-7 14 73 13 2 13-30 13 13 13-38 13 48 14-8 13 77 14-50 14 26 13-22 13 0 13 25 14 69 14-74 13-6 13 0 11-2 13-3 13 5 14 6 13-3 13 3M1449 53l13 7 13 15 13 24 13-21 13-21 14 93 13 4 13-38 13-1 13-22 13 44 14-12 13 54 14-40 14 29 13-21 13-6 13 38 14 58 14-78 13 5 13-1 11 2 13-5 13 0 14 4 13 4 13 4M1449 53l13 4 13 13 13 37 13-27 13-33 14 99 13-14 13-21 13 9 13-42 13 39 14 0 13 76 14-45 14 17 13-21 13-8 13 26 14 73 14-72 13 6 13 6 11 2 13-9 13 1 14 2 13 0 13 1M1449 68l13 12 13 8 13 46 13-42 13 3 14 64 13-1 13-22 13 6 13-34 13 41 14-11 13 48 14-45 14 18 13-12 13 14 13 42 14 46 14-84 13 8 13 5 11 3 13 11 13-8 14-3 13 5 13 7M1449 55l13 14 13 14 13 41 13-40 13-10 14 84 13-13 13-13 13-1 13-28 13 32 14 10 13 46 14-45 14 15 13 0 13 0 13 41 14 52 14-81 13 10 13 0 11-2 13 2 13 2 14 0 13-2 13 2M1449 99l13 7 13 7 13 1 13-34 13-3 14 73 13-9 13-22 13 16 13-50 13 56 14-27 13 93 14-56 14 23 13-11 13 4 13 30 14 54 14-75 13 4 13 2 11 3 13 4 13-3 14 3 13-3 13 3M1449 85l13-8 13 17 13 19 13-29 13-2 14 77 13 4 13-36 13 9 13-45 13 52 14 27 13 35 14-57 14 21 13-2 13-3 13 58 14 32 14-75 13-3 13 2 11 5 13 2 13-1 14 4 13-4 13-3M1449 55l13 8 13 10 13 45 13-40 13 2 14 76 13-11 13-27 13 6 13-35 13 43 14 19 13 40 14-40 14 30 13-28 13-7 13 38 14 77 14-88 13 5 13 8 11-7 13-5 13-2 14-1 13 2 13 0M1449 56l13 4 13 11 13 29 13-23 13-8 14 82 13-10 13-24 13 5 13-27 13 44 14-18 13 57 14-31 14 13 13 7 13-8 13 45 14 36 14-69 13 7 13 4 11 3 13-8 13 7 14-1 13 0 13 5M1449 70l13 8 13 23 13 30 13-24 13-28 14 76 13-2 13-25 13 9 13-30 13 36 14 15 13 65 14-57 14 11 13-4 13-7 13 37 14 63 14-93 13 11 13-4 11 2 13 5 13 6 14-1 13 2 13 3M1449 63l13 1 13 21 13 20 13-21 13-31 14 92 13-12 13-15 13 2 13-26 13 36 14-25 13 66 14-39 14 15 13-7 13-3 13 50 14 40 14-62 13 7 13 0 11-4 13-6 13 8 14-1 13 2 13 3M1449 61l13 26 13 4 13 31 13-24 13-20 14 83 13 9 13-45 13 2 13-39 13 48 14 13 13 45 14-43 14 15 13 12 13-11 13 42 14 61 14-76 13 8 13 0 11 3 13-4 13-2 14 3 13-8 13 5M1449 45l13 30 13 15 13 25 13-40 13-22 14 96 13-11 13-20 13 11 13-33 13 37 14 14 13 71 14-63 14 7 13-4 13-2 13 41 14 51 14-81 13 5 13-2 11 11 13-7 13-5 14-1 13-1 13 10M1449 35l13 26 13 14 13 21 13-36 13-10 14 86 13-4 13-25 13 4 13-46 13 62 14-32 13 84 14-34 14 19 13-8 13-11 13 34 14 58 14-73 13 1 13 3 11-3 13 0 13-1 14 1 13 5 13-10M1449 100l13-12 13 15 13 34 13-48 13-11 14 77 13-11 13-22 13 14 13-44 13 44 14-15 13 68 14-34 14 18 13-1 13-10 13 41 14 64 14-79 13-2 13 1 11-6 13 5 13-1 14 2 13 8 13-10M1449 75l13-1 13 9 13 27 13-36 13-17 14 93 13-4 13-30 13 14 13-31 13 39 14 9 13 37 14-38 14 14 13 5 13-7 13 42 14 52 14-72 13 2 13-5 11 4 13-3 13 1 14-5 13 0 13-3M1449 58l13 16 13 23 13 23 13-34 13-23 14 85 13-14 13-19 13 9 13-46 13 49 14 10 13 62 14-57 14 25 13-15 13-13 13 42 14 66 14-77 13 3 13-1 11 5 13-8 13 7 14-1 13-5 13 0M1449 65l13 17 13 2 13 21 13-26 13-16 14 83 13-6 13-16 13 0 13-42 13 49 14 28 13 47 14-49 14 9 13-18 13 3 13 25 14 53 14-67 13 9 13-1 11-1 13 9 13 3 14-6 13 8 13-6M1449 49l13 21 13 20 13 18 13-44 13-4 14 79 13-5 13-24 13 14 13-41 13 52 14-35 13 91 14-54 14 18 13-6 13-3 13 37 14 64 14-73 13 1 13 3 11-7 13-2 13 2 14 5 13 2 13-2M1449 56l13 2 13 145 13-105 13-36 13-11 14 20 13 0 13 6 13 9 13-22 13 26 14-32 13 239 14-202 14 11 13-25 13 5 13 62 14 80 14-110 13 5 13 3 11 0 13-6 13 4 14-4 13 2 13 2M1449 49l13 12 13 143 13-105 13-36 13-15 14 27 13-8 13 13 13 5 13-25 13 29 14-30 13 241 14-204 14 9 13-25 13 6 13 62 14 81 14-113 13 3 13 0 11 2 13-3 13 4 14-1 13-1 13 0M1449 73l13-1 13 5 13 46 13-31 13-2 14 66 13-7 13-25 13 6 13-32 13 48 14-25 13 73 14-38 14 11 13-3 13-2 13 42 14 37 14-58 13 1 13 3 11 4 13-4 13 7 14-10 13 3 13-4M1449 68l13 0 13 12 13 47 13-43 13-4 14 71 13-10 13-22 13 9 13-32 13 45 14-25 13 81 14-42 14 6 13-7 13 4 13 42 14 39 14-63 13 11 13 2 11-5 13 4 13-6 14-2 13 2 13 4M1449 82l13-8 13 7 13 49 13-43 13 0 14 67 13-5 13-22 13 7 13-34 13 46 14-17 13 76 14-51 14 13 13-2 13 0 13 37 14 50 14-69 13 7 13-3 11-2 13 10 13-6 14-5 13 12 13-1" fill="none" stroke="#bfc0c2" stroke-width="1.15" stroke-linejoin="round" stroke-dasharray="5 3"/>
<path d="M1448.9 50.8l13 8 13.2 147.6 13.1-108.8 13.1-36.9 13.1-13.5 13.2 28.5 13.2-6.4 13.1 8.1 13.2 6.5 13.2-21.6 13.1 26.6 13.2-28.2 13.3 235.6 14.6-200.2 13 12 13.1-24.9 13.2 2.2 13.2 65 14.4 78.4 13.1-115.7 13.2 7.8 13.1 2.3 11.3 2.5 13.1-1 13.2-1.7 13.2 0.3 13.2 0.2 13.2-0.3M1448.9 61.5l13 2.2 13.2 143.4 13.1-106.2 13.1-37.4 13.1-12.5 13.2 25.2 13.2-5 13.1 9 13.2 6.9 13.2-22.5 13.1 27.2 13.2-27 13.3 235.1 14.6-203.4 13 13.6 13.1-26.9 13.2 3.8 13.2 66.6 14.4 79.5 13.1-113.8 13.2 8.3 13.1-0.8 11.3 5.4 13.1-5.4 13.2-2.9 13.2 0 13.2 1.4 13.2 4M1448.9 56.3l13 2 13.2 145 13.1-105.5 13.1-35.9 13.1-10.6 13.2 20.2 13.2-0.2 13.1 6.1 13.2 8.4 13.2-21.6 13.1 25.7 13.2-31.6 13.3 238.6 14.6-201.9 13 11.1 13.1-25.4 13.2 5.6 13.2 61.7 14.4 80 13.1-109.7 13.2 4.6 13.1 2.7 11.3 0.8 13.1-6.9 13.2 4.4 13.2-4.2 13.2 2.5 13.2 2M1448.9 55.5l13 4.1 13.2 147.9 13.1-107.8 13.1-38 13.1-12.4 13.2 27.8 13.2-8.6 13.1 14.1 13.2 4.8 13.2-23.4 13.1 26.8 13.2-30.1 13.3 239.8 14.6-202.3 13 12.5 13.1-29.7 13.2 4.9 13.2 66.3 14.4 77.1 13.1-114.3 13.2 7.5 13.1 4.9 11.3-1.4 13.1-2.4 13.2 0.8 13.2-0.5 13.2 1.7 13.2 1.6M1448.9 47.7l13 10.1 13.2 144.7 13.1-107.2 13.1-35.1 13.1-10.2 13.2 22.9 13.2-5.4 13.1 8.1 13.2 8 13.2-23.8 13.1 31.1 13.2-36.5 13.3 243.1 14.6-202.9 13 11.5 13.1-24.5 13.2 2.7 13.2 65.1 14.4 78.8 13.1-112.9 13.2 5 13.1-2.8 11.3 3.6 13.1-1.3 13.2 1.4 13.2-3.3 13.2 1.6 13.2 1M1448.9 61.5l13 1.1 13.2 146.2 13.1-106 13.1-39.3 13.1-10.8 13.2 23.9 13.2-0.6 13.1 8.8 13.2 1.8 13.2-19.6 13.1 28 13.2-33 13.3 242.4 14.6-204.6 13 11.6 13.1-25.4 13.2 3.8 13.2 65.9 14.4 75.9 13.1-113.1 13.2 9.8 13.1 2.6 11.3 1.8 13.1-2.6 13.2-0.8 13.2-4.2 13.2 0.9 13.2 2M1448.9 45.7l13 8.5 13.2 143.1 13.1-103.8 13.1-34.4 13.1-13.8 13.2 21 13.2-3.7 13.1 9.5 13.2 8 13.2-19.5 13.1 25.1 13.2-31.1 13.3 242.3 14.6-204.2 13 9.9 13.1-25.1 13.2 5.7 13.2 64.8 14.4 77.5 13.1-113.3 13.2 6.7 13.1-3.7 11.3 4 13.1-3 13.2 1.2 13.2 0.6 13.2 1.6 13.2-6.6M1448.9 60l13 1.3 13.2 147.2 13.1-108.7 13.1-37.4 13.1-11.7 13.2 26.5 13.2-4.5 13.1 11.6 13.2 4 13.2-24.7 13.1 27.1 13.2-30.3 13.3 241.5 14.6-204.8 13 14.2 13.1-29.2 13.2 6.7 13.2 65.2 14.4 74.3 13.1-109.8 13.2 7.1 13.1-2.4 11.3 3.9 13.1-0.8 13.2-1.8 13.2 0.7 13.2-1.2 13.2 3.8M1448.9 55.1l13 5.6 13.2 145.4 13.1-108.7 13.1-38.6 13.1-9.7 13.2 22.5 13.2-4.6 13.1 11 13.2 4 13.2-21 13.1 29.1 13.2-33.9 13.3 244.1 14.6-205.6 13 13.2 13.1-26.2 13.2 3.4 13.2 66 14.4 76.9 13.1-110.7 13.2 1.2 13.1 3.7 11.3 3 13.1-1.3 13.2-3.6 13.2 0.9 13.2 2.9 13.2-6.6M1448.9 63.8l13 2 13.2 144.3 13.1-108.7 13.1-37.8 13.1-9.5 13.2 26.5 13.2-2.7 13.1 7 13.2 2.4 13.2-22.1 13.1 28.6 13.2-28.1 13.3 239.5 14.6-206.1 13 12.2 13.1-24.6 13.2 0.6 13.2 68.9 14.4 78.1 13.1-112.5 13.2 9.8 13.1 0 11.3 0.4 13.1-4.6 13.2 0.6 13.2 1.9 13.2-0.7 13.2 0.6M1448.9 63.3l13 2.7 13.2 148.1 13.1-109.4 13.1-38.9 13.1-8.7 13.2 27.5 13.2-7.2 13.1 10.2 13.2 0.8 13.2-22.2 13.1 31.4 13.2-33.2 13.3 241.7 14.6-206.8 13 14.7 13.1-25.4 13.2 0.1 13.2 70.1 14.4 77.1 13.1-109.6 13.2 3.5 13.1 1.2 11.3 1.9 13.1-1.1 13.2 1.5 13.2-0.7 13.2-4.9 13.2 0.9M1448.9 49.3l13 9.3 13.2 148.6 13.1-107.9 13.1-39.3 13.1-12.2 13.2 24.1 13.2-6.2 13.1 12.5 13.2 7.3 13.2-23.5 13.1 27.2 13.2-32.2 13.3 243.6 14.6-204.1 13 8.8 13.1-25.5 13.2 6 13.2 65.9 14.4 75.8 13.1-113.6 13.2 9.9 13.1-5.2 11.3 7.7 13.1-5.5 13.2 1.9 13.2 1.2 13.2-0.1 13.2-3.5M1448.9 47l13 10.5 13.2 145.7 13.1-105.2 13.1-36.8 13.1-15.3 13.2 27.1 13.2-6.8 13.1 8.5 13.2 6.7 13.2-22.4 13.1 30.2 13.2-31.8 13.3 239.1 14.6-203.2 13 10.9 13.1-27.2 13.2 7.7 13.2 61.7 14.4 79.5 13.1-110.6 13.2 4.9 13.1-1.7 11.3 6.3 13.1-7 13.2 2.5 13.2 1.1 13.2-5.3 13.2-1.3M1448.9 57.9l13 4.5 13.2 144.5 13.1-104.1 13.1-39.8 13.1-11.1 13.2 25.5 13.2-3.9 13.1 9.3 13.2 5.8 13.2-24.9 13.1 29.6 13.2-31.5 13.3 239.2 14.6-203.6 13 12.8 13.1-25.2 13.2 3.1 13.2 65.6 14.4 77.2 13.1-113.5 13.2 5.3 13.1 1.9 11.3 1.6 13.1-2.8 13.2 0.5 13.2-1.2 13.2 4.3 13.2-1.4M1448.9 49.1l13 12.2 13.2 142.5 13.1-105.3 13.1-36 13.1-14.3 13.2 26.9 13.2-8.5 13.1 13.8 13.2 4.4 13.2-24.4 13.1 29 13.2-30.1 13.3 240.3 14.6-203.3 13 8.8 13.1-25.1 13.2 6.1 13.2 62.4 14.4 80.7 13.1-113.4 13.2 3.4 13.1-0.2 11.3 2.2 13.1-2.7 13.2 3 13.2-0.3 13.2-1.4 13.2-0.1" fill="none" stroke="#0bc4f2" stroke-width="2.3" stroke-linejoin="round"/>
<text x="1814.6" y="55.6" font-family="'Liberation Serif', serif" font-size="30.8" text-anchor="end" fill="#000">Tuhua</text>
<path d="M1437 386.0H1831M1437 458.9H1831M1437 531.8H1831" stroke="#8c8c8c" stroke-width="2.2" fill="none"/>
<path d="M1449 337l13 25 13 18 13 17 13-17 13-24 14 81 13-9 13-13 13 7 13-34 13 47 14-12 13 56 14-45 14 10 13-8 13-6 13 41 14 71 14-75 13 8 13 4 11-3 13-2 13-7 14-3 13 0 13 4M1449 373l13 7 13 4 13 25 13-30 13-14 14 82 13-17 13-16 13 2 13-38 13 50 14-25 13 82 14-42 14 10 13-5 13-4 13 28 14 67 14-38 13 7 13 10 11-6 13-12 13 11 14-3 13 9 13-6M1449 345l13 10 13 22 13 36 13-35 13-4 14 76 13-30 13-8 13 9 13-38 13 39 14 0 13 49 14-35 14 19 13-23 13 0 13 39 14 65 14-83 13 12 13-5 11 10 13 1 13-5 14-3 13 4 13-4M1449 353l13 24 13 22 13 20 13-35 13-8 14 72 13 2 13-29 13 6 13-41 13 55 14-2 13 42 14-44 14 15 13-11 13 1 13 50 14 46 14-62 13-2 13-6 11-7 13 14 13-3 14 4 13 3 13-1M1449 352l13 4 13 13 13 38 13-25 13-5 14 62 13-20 13-6 13-2 13-26 13 46 14-16 13 57 14-30 14 14 13-11 13 11 13 43 14 42 14-84 13 9 13-9 11 0 13-1 13 1 14-1 13 2 13-2M1449 362l13 10 13 12 13 32 13-36 13 6 14 70 13-9 13-32 13 21 13-37 13 42 14 2 13 74 14-59 14 15 13 0 13-13 13 59 14 48 14-90 13-1 13 3 11-3 13 1 13 2 14-6 13 3 13 1M1449 370l13 6 13 9 13 27 13-25 13 1 14 69 13-1 13-34 13 7 13-23 13 41 14 10 13 49 14-54 14 17 13-4 13-19 13 58 14 46 14-73 13 4 13-7 11 5 13-5 13-7 14 3 13 7 13-3M1449 352l13 14 13 6 13 34 13-38 13-3 14 87 13-16 13-17 13 15 13-47 13 45 14 5 13 60 14-55 14 21 13-13 13 9 13 34 14 58 14-79 13 11 13-1 11-8 13 8 13-2 14-1 13-3 13 2M1449 346l13 10 13 18 13 32 13-27 13-23 14 86 13-21 13-8 13 7 13-47 13 48 14-18 13 76 14-40 14 8 13-4 13 5 13 26 14 53 14-68 13 2 13 5 11 2 13 0 13 5 14 3 13 1 13-13M1449 388l13-19 13 25 13 18 13-33 13-1 14 75 13-7 13-24 13 5 13-39 13 41 14 17 13 50 14-53 14 15 13-6 13-8 13 52 14 56 14-84 13 0 13 5 11-5 13 8 13 1 14-5 13-1 13 9M1449 363l13 0 13 26 13 36 13-33 13-28 14 90 13-6 13-34 13 3 13-23 13 41 14 2 13 52 14-38 14 13 13 4 13 3 13 38 14 61 14-88 13 12 13 0 11 3 13-12 13 1 14 2 13-5 13 6M1449 360l13-2 13 8 13 25 13-28 13-3 14 87 13-29 13-15 13 9 13-44 13 58 14-29 13 80 14-34 14 11 13-9 13-12 13 39 14 46 14-75 13 15 13 2 11-4 13 3 13 6 14 4 13-9 13 0M1449 343l13 11 13 25 13 31 13-20 13-14 14 70 13-5 13-25 13 5 13-28 13 38 14 13 13 41 14-39 14 21 13-13 13-4 13 54 14 48 14-75 13 2 13-1 11-9 13 10 13-1 14-8 13 3 13-4M1449 340l13 20 13 16 13 26 13-37 13-12 14 92 13-20 13-14 13 1 13-30 13 53 14-24 13 75 14-50 14 15 13-2 13 5 13 18 14 84 14-97 13 2 13 6 11 6 13-7 13 1 14 6 13 2 13 0M1449 348l13 9 13 17 13 30 13-34 13-4 14 83 13-11 13-23 13 5 13-45 13 45 14-22 13 79 14-44 14 20 13-8 13-9 13 41 14 39 14-54 13-1 13 0 11-1 13 1 13-4 14 4 13 0 13 4M1449 355l13 10 13 8 13 42 13-28 13-9 14 73 13-18 13-12 13 5 13-46 13 56 14 30 13 36 14-80 14 15 13-22 13 2 13 72 14 74 14-75 13 0 13 3 11-5 13-4 13-4 14 8 13 6 13-5M1449 355l13 12 13 11 13 28 13-31 13-12 14 85 13-10 13-17 13 2 13-24 13 41 14 19 13 43 14-42 14 5 13-13 13-3 13 53 14 39 14-57 13-6 13 2 11 3 13-2 13-1 14 6 13 5 13-9M1449 377l13 8 13 5 13 17 13-39 13-1 14 87 13-8 13-17 13 13 13-50 13 46 14 25 13 48 14-61 14 10 13 19 13-23 13 64 14 34 14-83 13 9 13-1 11-1 13-4 13-3 14 9 13 0 13 2M1449 338l13 18 13 11 13 22 13-24 13-9 14 93 13-11 13-28 13 3 13-51 13 63 14-7 13 44 14-35 14 24 13-7 13-9 13 26 14 63 14-58 13-5 13-4 11 6 13-5 13 7 14 2 13 2 13 7M1449 341l13 23 13 16 13 26 13-47 13-24 14 96 13-17 13-11 13 16 13-37 13 51 14-26 13 76 14-43 14 16 13-5 13-19 13 54 14 60 14-92 13 5 13 2 11 0 13 5 13-3 14-6 13 2 13 8M1449 373l13 20 13-11 13 49 13-37 13-15 14 85 13-22 13-10 13-6 13-44 13 50 14-11 13 66 14-44 14 9 13-8 13 1 13 43 14 48 14-73 13 7 13 8 11-6 13-1 13 4 14 0 13 7 13-10M1449 349l13 16 13 8 13 32 13-35 13 2 14 70 13-14 13-16 13 0 13-34 13 43 14-4 13 74 14-43 14 19 13-4 13-12 13 28 14 83 14-96 13 8 13 3 11-5 13-2 13-5 14 6 13 2 13-2M1449 341l13 9 13 24 13 22 13-37 13-15 14 89 13-7 13-11 13-1 13-36 13 46 14-38 13 105 14-58 14 13 13-6 13 5 13 23 14 52 14-77 13 11 13 5 11 1 13 6 13 1 14-1 13 4 13 0M1449 365l13 23 13 5 13 28 13-53 13-5 14 88 13-11 13-24 13 9 13-31 13 48 14 20 13 33 14-50 14 9 13 13 13-19 13 52 14 41 14-76 13 10 13-5 11-1 13 2 13 5 14 2 13-2 13 6M1449 353l13 13 13 21 13 26 13-27 13-10 14 73 13-17 13-14 13 2 13-34 13 51 14-9 13 68 14-44 14 11 13 7 13-2 13 35 14 39 14-67 13 3 13 3 11 0 13-1 13-6 14 1 13 0 13-12M1449 352l13 8 13 6 13 45 13-41 13-9 14 83 13-15 13-15 13 7 13-33 13 43 14-26 13 90 14-56 14 17 13 6 13-1 13 41 14 56 14-75 13 2 13 2 11-8 13 7 13-5 14-5 13 11 13-3M1449 355l13 5 13 13 13 28 13-37 13-21 14 99 13-18 13-10 13 1 13-40 13 42 14 7 13 51 14-33 14 10 13-4 13 5 13 30 14 67 14-83 13 13 13-11 11 5 13 3 13-8 14-4 13-4 13 0M1449 351l13 12 13 19 13 32 13-33 13-21 14 87 13-19 13-14 13 11 13-56 13 55 14-22 13 68 14-39 14 18 13 4 13-7 13 45 14 63 14-95 13 5 13 2 11 6 13 1 13-8 14 8 13-12 13-8M1449 362l13 15 13 10 13 24 13-23 13-16 14 85 13-18 13-25 13 5 13-39 13 47 14 8 13 59 14-56 14 9 13 7 13 1 13 25 14 50 14-69 13 3 13 0 11-3 13 7 13 1 14-1 13 3 13 0M1449 327l13 26 13 17 13 25 13-26 13-20 14 96 13-21 13-11 13 5 13-38 13 41 14-28 13 76 14-35 14 23 13-23 13-2 13 23 14 53 14-59 13 16 13-4 11 5 13-3 13 1 14 0 13-12 13-1M1449 354l13-1 13 1 13 32 13-25 13-6 14 84 13-16 13-29 13 6 13-46 13 65 14-47 13 106 14-45 14 24 13-9 13-7 13 45 14 51 14-85 13 14 13 4 11-1 13-7 13-1 14-5 13-7 13 5M1449 348l13-4 13 27 13 21 13-29 13-8 14 86 13-8 13-25 13 13 13-55 13 52 14-19 13 91 14-43 14 0 13-4 13-5 13 32 14 69 14-75 13 3 13 4 11-3 13-8 13 5 14 4 13-3 13-1M1449 366l13-3 13 15 13 26 13-47 13-16 14 88 13-24 13 5 13 13 13-50 13 47 14-3 13 63 14-44 14 17 13-6 13-5 13 48 14 60 14-89 13 8 13-5 11 2 13-11 13 5 14-10 13 13 13-6M1449 361l13 7 13 10 13 44 13-35 13-20 14 82 13-16 13-16 13 11 13-49 13 80 14 51 13-22 14-33 14 6 13-2 13-2 13 35 14 56 14-67 13 10 13-7 11 10 13 0 13-7 14-4 13 0 13-1M1449 382l13-8 13 6 13 38 13-41 13-15 14 79 13-25 13-1 13 4 13-42 13 55 14-25 13 93 14-57 14 20 13-3 13-13 13 36 14 71 14-91 13 15 13-7 11-3 13 3 13 2 14-6 13 11 13 2M1449 367l13 18 13 6 13 26 13-42 13 0 14 83 13-20 13-20 13 13 13-39 13 44 14-4 13 53 14-46 14 15 13-15 13 13 13 36 14 55 14-109 13 3 13 4 11-6 13 12 13-5 14-6 13-4 13 10M1449 357l13 9 13 1 13 38 13-32 13-6 14 71 13-14 13-21 13 6 13-34 13 47 14-35 13 87 14-38 14 23 13-17 13-2 13 37 14 45 14-71 13 18 13-9 11 3 13 5 13 3 14-1 13-2 13-10M1449 357l13-5 13 22 13 34 13-44 13-4 14 86 13-30 13-5 13-6 13-37 13 50 14-18 13 87 14-50 14 11 13-5 13 2 13 44 14 54 14-78 13 7 13-3 11 5 13 1 13 2 14 1 13-1 13-7M1449 353l13 0 13 22 13 37 13-41 13 1 14 80 13-19 13-13 13-2 13-39 13 50 14 8 13 47 14-41 14 11 13-12 13 8 13 31 14 59 14-70 13 7 13 0 11-6 13-2 13 5 14-7 13-1 13-4M1449 362l13 5 13 7 13 27 13-39 13-19 14 89 13-15 13-14 13 1 13-31 13 56 14-9 13 53 14-35 14 10 13-5 13-11 13 37 14 50 14-73 13 10 13 0 11 4 13 8 13-6 14-5 13 0 13 2M1449 345l13 6 13 24 13 20 13-39 13-24 14 109 13-17 13-18 13 4 13-38 13 55 14-29 13 82 14-39 14 15 13-15 13-4 13 30 14 52 14-53 13-3 13-3 11-8 13-2 13 5 14 6 13-11 13 11M1449 339l13 14 13 23 13 23 13-29 13-14 14 94 13-26 13-14 13 7 13-33 13 41 14-3 13 69 14-46 14 14 13-15 13-6 13 37 14 61 14-79 13 8 13 3 11-3 13 3 13-3 14 3 13 1 13 0M1449 324l13 29 13 21 13 31 13-34 13-10 14 85 13-18 13-24 13 12 13-38 13 53 14-11 13 54 14-40 14 9 13-6 13 3 13 20 14 55 14-72 13 16 13 5 11-1 13-5 13 0 14-6 13 3 13-5M1449 353l13 11 13-6 13 42 13-25 13-22 14 88 13-15 13-12 13 6 13-29 13 41 14-18 13 71 14-48 14 8 13-10 13 8 13 27 14 63 14-71 13 8 13-3 11 2 13-3 13 3 14-4 13 5 13-2M1449 350l13 13 13 14 13 30 13-37 13-19 14 99 13-13 13-20 13-2 13-43 13 53 14-7 13 58 14-43 14 22 13-12 13-9 13 46 14 70 14-89 13 12 13-1 11-1 13-9 13 5 14 9 13-4 13-5M1449 360l13 15 13 6 13 40 13-32 13-4 14 81 13-7 13-24 13-1 13-32 13 34 14 6 13 58 14-51 14 9 13-5 13 2 13 45 14 58 14-87 13 2 13 5 11-4 13 4 13 9 14-7 13-8 13 8M1449 361l13 6 13 11 13 36 13-29 13-16 14 86 13-26 13-10 13 11 13-41 13 48 14 9 13 63 14-65 14 18 13-11 13-8 13 40 14 54 14-85 13 14 13-1 11 5 13 5 13 3 14 3 13 1 13-5M1449 359l13 3 13 20 13 23 13-20 13-4 14 79 13-11 13-27 13 7 13-23 13 33 14 43 13 19 14-47 14 16 13 8 13-13 13 36 14 62 14-71 13 3 13-7 11 5 13-3 13 7 14 3 13 0 13-6M1449 350l13 10 13 19 13 34 13-41 13-9 14 77 13-17 13-16 13 1 13-31 13 52 14 12 13 64 14-56 14 16 13-18 13-1 13 28 14 58 14-68 13 9 13-4 11 8 13-1 13-3 14 3 13-11 13 4M1449 351l13 6 13 25 13 26 13-38 13-1 14 82 13-14 13-9 13-6 13-34 13 41 14-24 13 76 14-36 14 12 13-11 13 4 13 44 14 53 14-81 13 12 13-12 11 6 13 1 13 10 14-1 13 1 13-7M1449 345l13 19 13 1 13 40 13-34 13-23 14 93 13-23 13-8 13 13 13-41 13 42 14-21 13 69 14-39 14 7 13 6 13-3 13 39 14 50 14-71 13 5 13 0 11-3 13-6 13 6 14 0 13-5 13 0M1449 379l13-7 13 21 13 27 13-33 13-18 14 91 13-17 13-18 13-1 13-37 13 44 14-18 13 85 14-47 14 16 13 2 13 0 13 30 14 73 14-86 13-1 13-5 11-5 13 3 13 7 14-7 13 1 13-2M1449 334l13 31 13 18 13 24 13-30 13-26 14 88 13-9 13-22 13 14 13-46 13 44 14-19 13 66 14-30 14 22 13-9 13-6 13 32 14 64 14-79 13 2 13 5 11-5 13-6 13-3 14 14 13 4 13 2M1449 333l13 23 13 26 13 17 13-28 13-1 14 77 13-16 13-15 13-4 13-40 13 49 14-36 13 80 14-31 14 16 13-9 13 1 13 20 14 58 14-62 13 13 13-7 11 1 13 2 13 10 14 2 13 0 13-1M1449 362l13-2 13 13 13 32 13-41 13-4 14 79 13-9 13-22 13 8 13-38 13 43 14-46 13 102 14-42 14 18 13-12 13 4 13 34 14 47 14-78 13 5 13 10 11 3 13 4 13-3 14-4 13-2 13 1M1449 347l13 0 13 22 13 28 13-30 13-19 14 89 13-23 13-9 13 7 13-42 13 52 14-62 13 118 14-50 14 7 13-16 13 4 13 31 14 53 14-60 13 5 13 1 11-4 13 3 13 3 14 7 13 2 13 9M1449 336l13 19 13 13 13 25 13-28 13-25 14 96 13 2 13-25 13-2 13-32 13 40 14-22 13 82 14-40 14 10 13-9 13 5 13 41 14 53 14-79 13 7 13-6 11 2 13-2 13 8 14 6 13-12 13-1M1449 359l13 3 13 21 13 24 13-26 13 3 14 84 13-22 13-22 13-1 13-48 13 61 14 14 13 46 14-51 14 10 13-6 13 4 13 39 14 61 14-81 13 12 13-1 11-5 13 0 13-1 14-1 13-3 13 6M1449 354l13 9 13 11 13 25 13-37 13 0 14 83 13-24 13-6 13 4 13-35 13 53 14-4 13 60 14-57 14 20 13-6 13-3 13 30 14 50 14-70 13 6 13 6 11-3 13 8 13-6 14-1 13 4 13-2M1449 363l13 21 13 8 13 32 13-28 13-20 14 74 13 3 13-35 13 7 13-17 13 24 14 7 13 65 14-46 14 10 13 9 13-9 13 39 14 61 14-92 13 9 13 4 11 1 13 2 13 0 14-7 13-3 13-6M1449 349l13 24 13 15 13 21 13-42 13 1 14 81 13-13 13-15 13 10 13-41 13 40 14-14 13 81 14-60 14 17 13 2 13-1 13 42 14 58 14-84 13 9 13-4 11-5 13 3 13-5 14-2 13-2 13-4M1449 383l13 1 13 1 13 22 13-19 13-23 14 88 13-18 13-13 13 5 13-24 13 39 14 27 13 43 14-57 14 13 13 2 13-10 13 28 14 62 14-86 13 5 13 7 11 0 13 4 13 3 14 1 13 9 13-6M1449 360l13-2 13 16 13 22 13-27 13-3 14 75 13-4 13-25 13-2 13-49 13 62 14-3 13 67 14-48 14 17 13-1 13-7 13 49 14 47 14-74 13 5 13 1 11-4 13-6 13 0 14-5 13 6 13-7M1449 343l13 23 13 14 13 29 13-37 13-3 14 79 13-15 13-12 13 13 13-30 13 36 14-10 13 54 14-31 14 14 13 1 13-1 13 60 14 25 14-72 13 0 13 3 11-9 13 3 13 2 14 2 13 1 13-3M1449 349l13 12 13 17 13 35 13-51 13-24 14 102 13-8 13-18 13 0 13-33 13 46 14-5 13 54 14-33 14 6 13-12 13-2 13 45 14 55 14-80 13 6 13-2 11 3 13 3 13 1 14-1 13-6 13 7M1449 380l13 6 13 21 13 26 13-51 13-1 14 76 13-13 13-15 13-4 13-37 13 45 14 0 13 61 14-52 14 22 13-10 13-7 13 38 14 72 14-75 13 8 13 3 11-11 13 6 13-8 14-1 13-1 13-4M1449 367l13 2 13 10 13 29 13-19 13-21 14 84 13-18 13-12 13 7 13-46 13 45 14-20 13 78 14-47 14 13 13-5 13 10 13 43 14 72 14-82 13 10 13-7 11-5 13-5 13 2 14 1 13-5 13-9M1449 361l13 7 13 10 13 44 13-35 13-20 14 82 13-16 13-16 13 11 13-49 13 60 14 15 13 49 14-48 14 6 13-2 13-2 13 35 14 56 14-67 13 10 13-7 11 10 13 0 13-7 14-4 13 0 13-1M1449 364l13-3 13 19 13 35 13-31 13-21 14 82 13-15 13-17 13 2 13-43 13 63 14 8 13 41 14-36 14 20 13 7 13-3 13 36 14 40 14-79 13 3 13-1 11 1 13-2 13 5 14 10 13-8 13-4M1449 349l13 6 13 16 13 23 13-39 13-6 14 84 13-7 13-14 13 5 13-34 13 47 14-33 13 96 14-56 14 18 13-8 13-7 13 40 14 54 14-72 13 0 13-3 11-5 13 5 13 2 14 5 13-3 13 1M1449 352l13 22 13-1 13 38 13-34 13-6 14 80 13-4 13-29 13 7 13-33 13 44 14-21 13 71 14-36 14 18 13-8 13 2 13 29 14 41 14-60 13 7 13 1 11 4 13 7 13 4 14-10 13-2 13-2M1449 361l13 7 13 15 13 15 13-34 13 2 14 72 13-7 13-7 13-3 13-31 13 38 14-25 13 75 14-38 14 19 13-12 13-12 13 30 14 63 14-76 13 15 13 0 11 5 13-1 13 0 14-1 13 0 13-4M1449 328l13 28 13 22 13 25 13-32 13-5 14 86 13-13 13-15 13-5 13-38 13 50 14 3 13 51 14-40 14 11 13-11 13 2 13 32 14 60 14-67 13 11 13-9 11 2 13 3 13-6 14 4 13 1 13 0M1449 358l13 0 13 23 13 27 13-34 13-7 14 74 13-6 13-10 13-1 13-41 13 51 14-3 13 81 14-58 14 17 13-6 13-18 13 35 14 54 14-68 13 19 13-6 11 4 13 5 13 3 14-4 13-2 13-6M1449 355l13 8 13 5 13 41 13-33 13-21 14 81 13-28 13-4 13 6 13-51 13 49 14-31 13 80 14-31 14 25 13-18 13 13 13 33 14 52 14-80 13 12 13-5 11-3 13 5 13 0 14-2 13 2 13 0M1449 339l13 20 13 22 13 34 13-39 13-9 14 77 13-9 13-16 13-2 13-37 13 54 14-20 13 63 14-45 14 12 13-11 13 8 13 21 14 70 14-69 13 6 13 1 11-2 13 8 13-4 14 1 13-3 13-3M1449 361l13 4 13 10 13 39 13-40 13-15 14 89 13-12 13-24 13 13 13-31 13 43 14-10 13 48 14-41 14 15 13 1 13-15 13 37 14 71 14-75 13 0 13-2 11-7 13 9 13-4 14-1 13 12 13-6M1449 365l13 4 13 8 13 32 13-33 13-27 14 86 13-18 13-9 13 6 13-32 13 41 14 2 13 55 14-46 14 23 13-6 13-14 13 29 14 60 14-65 13 1 13 1 11 3 13-2 13-3 14-2 13 0 13-4M1449 358l13 11 13 12 13 32 13-34 13-17 14 81 13-16 13-19 13 6 13-26 13 32 14-20 13 74 14-36 14 3 13-7 13 10 13 44 14 56 14-63 13 4 13-2 11-9 13 4 13 0 14 6 13 6 13-6M1449 387l13-8 13 13 13 32 13-43 13 11 14 58 13 7 13-28 13-8 13-27 13 55 14 16 13 28 14-45 14 19 13-5 13-8 13 45 14 52 14-81 13 2 13 2 11 3 13-2 13 6 14-3 13 4 13-4M1449 400l13 5 13 9 13 20 13-50 13-10 14 82 13-25 13-11 13 3 13-44 13 58 14-9 13 73 14-62 14 24 13-14 13 2 13 56 14 67 14-85 13 0 13-6 11 1 13-10 13-1 14-6 13 4 13 2M1449 370l13-3 13 19 13 12 13-29 13-5 14 78 13-21 13-8 13 8 13-38 13 45 14-38 13 92 14-38 14 20 13-11 13-17 13 39 14 50 14-61 13 3 13-2 11 7 13 4 13-1 14-2 13-1 13-6M1449 361l13-4 13 20 13 36 13-35 13-5 14 80 13-2 13-35 13 5 13-33 13 43 14-5 13 51 14-37 14 12 13 1 13-7 13 33 14 60 14-79 13 3 13 3 11 1 13-2 13 7 14-3 13 0 13 0M1449 361l13 3 13 17 13 22 13-27 13-7 14 79 13-20 13-15 13 15 13-42 13 56 14 35 13 17 14-43 14 23 13 4 13-26 13 38 14 63 14-80 13 3 13 3 11 7 13-7 13 4 14 2 13-4 13 10M1449 326l13 15 13 24 13 22 13-37 13-6 14 89 13-4 13-19 13 0 13-38 13 48 14-22 13 60 14-23 14 9 13-15 13 8 13 50 14 42 14-66 13 7 13-1 11-3 13-7 13 9 14-5 13-1 13 5M1449 350l13 15 13 10 13 33 13-33 13-10 14 78 13-5 13-27 13 7 13-43 13 56 14 6 13 45 14-36 14 18 13-1 13-12 13 52 14 44 14-88 13 12 13-1 11 8 13 1 13-4 14-4 13 7 13-2M1449 340l13 19 13 20 13 20 13-38 13 0 14 86 13-15 13-13 13 5 13-41 13 41 14 14 13 45 14-42 14 11 13 5 13-19 13 49 14 50 14-76 13 0 13-1 11-3 13 6 13 8 14-4 13 1 13-3M1449 382l13-10 13 13 13 41 13-29 13-32 14 86 13-17 13-13 13 5 13-39 13 50 14 37 13 30 14-53 14 15 13-14 13 6 13 51 14 46 14-71 13 1 13 5 11-4 13-4 13 7 14-8 13 5 13-3M1449 335l13 20 13 17 13 38 13-32 13-18 14 83 13-14 13-22 13 8 13-45 13 65 14-27 13 71 14-40 14 13 13-3 13 5 13 19 14 62 14-82 13 13 13 2 11-1 13 10 13-4 14 1 13-4 13 5M1449 366l13-4 13 14 13 41 13-47 13-17 14 87 13-8 13-22 13-4 13-34 13 58 14-11 13 73 14-48 14 17 13-22 13-6 13 42 14 54 14-62 13 0 13-2 11-1 13 0 13 5 14-8 13 4 13 7M1449 347l13 25 13 0 13 41 13-33 13-11 14 73 13-23 13-9 13-1 13-44 13 51 14-6 13 76 14-40 14 14 13-3 13-2 13 31 14 50 14-61 13 8 13 2 11-5 13-7 13-1 14 2 13-6 13 1M1449 391l13-12 13 19 13 25 13-45 13-6 14 78 13-17 13-10 13-3 13-38 13 61 14 24 13 29 14-41 14 8 13-15 13-3 13 33 14 68 14-82 13 8 13 6 11-5 13 3 13 7 14-3 13 8 13-1M1449 372l13 6 13 6 13 42 13-22 13-9 14 62 13 6 13-35 13-1 13-33 13 39 14 16 13 60 14-60 14 8 13-2 13-12 13 67 14 39 14-72 13 0 13 11 11-9 13 0 13-3 14 4 13 0 13 5M1449 352l13 9 13 15 13 32 13-35 13-11 14 76 13-8 13-23 13 6 13-42 13 49 14-16 13 83 14-45 14 17 13 2 13-19 13 35 14 60 14-80 13 3 13 1 11-4 13-4 13 14 14-13 13 2 13 7M1449 350l13 21 13 10 13 37 13-35 13-20 14 92 13-19 13-15 13 9 13-45 13 48 14-4 13 57 14-34 14 8 13 6 13-18 13 68 14 50 14-84 13 6 13-2 11-5 13-5 13 6 14 1 13-10 13 8M1449 349l13 10 13 28 13 30 13-40 13-15 14 82 13-18 13-20 13 7 13-32 13 49 14 0 13 59 14-52 14 12 13 6 13-15 13 45 14 44 14-52 13-3 13 1 11 3 13 2 13 0 14-1 13-7 13-5M1449 370l13-9 13 17 13 23 13-32 13-1 14 74 13-10 13-25 13-1 13-36 13 48 14-7 13 86 14-55 14 15 13-10 13-8 13 26 14 57 14-71 13 4 13-3 11 9 13 13 13-4 14-4 13-1 13 6M1449 367l13 7 13 26 13 33 13-34 13-31 14 74 13 3 13-22 13 11 13-29 13 33 14 4 13 48 14-51 14 26 13-6 13-10 13 34 14 65 14-74 13 2 13 4 11-1 13-1 13-1 14 3 13 1 13-6M1449 348l13 13 13 14 13 28 13-41 13 8 14 78 13 2 13-24 13 10 13-57 13 51 14 5 13 50 14-52 14 25 13 0 13-13 13 49 14 59 14-80 13 10 13 0 11-6 13-1 13 8 14-5 13-1 13-9M1449 357l13 23 13 12 13 28 13-29 13-22 14 75 13 0 13-20 13-1 13-28 13 42 14 24 13 39 14-49 14 12 13 1 13 0 13 36 14 57 14-84 13 5 13 1 11-5 13 2 13 5 14 8 13-11 13 3M1449 366l13 3 13 19 13 39 13-39 13-18 14 88 13-15 13-13 13-2 13-39 13 43 14-2 13 55 14-40 14 13 13-6 13 5 13 38 14 63 14-83 13 11 13-1 11-8 13-1 13-4 14 8 13 3 13 7M1449 329l13 22 13 11 13 43 13-47 13-25 14 105 13-17 13-16 13 2 13-36 13 58 14-17 13 73 14-39 14 5 13-5 13-1 13 43 14 50 14-77 13 8 13 2 11 5 13 1 13-8 14-9 13-3 13 5M1449 362l13 9 13 13 13 28 13-35 13-16 14 79 13-17 13-15 13 3 13-47 13 52 14-34 13 96 14-37 14 17 13-23 13 10 13 21 14 59 14-59 13 2 13 0 11-13 13 3 13-4 14 1 13 9 13 0M1449 369l13 20 13 5 13 43 13-56 13-8 14 71 13-22 13-13 13 7 13-42 13 58 14-16 13 65 14-41 14 15 13 0 13-1 13 56 14 25 14-68 13 10 13-6 11-1 13-1 13-5 14 0 13 2 13 4M1449 357l13 16 13 11 13 40 13-39 13-18 14 85 13-16 13-20 13 5 13-39 13 45 14 4 13 52 14-42 14 25 13 4 13-28 13 29 14 75 14-68 13 4 13-3 11-3 13 4 13-5 14 5 13-3 13 8M1449 348l13 6 13 29 13 26 13-33 13-5 14 77 13-16 13-14 13 10 13-45 13 44 14 9 13 62 14-48 14 3 13-10 13-3 13 50 14 69 14-97 13 2 13 11 11-2 13 2 13 7 14-8 13 3 13 7M1449 364l13-7 13 6 13 48 13-47 13-6 14 83 13-19 13-7 13 4 13-46 13 56 14-44 13 86 14-42 14 17 13 8 13-13 13 40 14 75 14-87 13 13 13 0 11-5 13-7 13 7 14-4 13-3 13 5M1449 364l13 3 13 12 13 31 13-39 13 0 14 82 13-9 13-28 13 10 13-29 13 40 14-7 13 55 14-44 14 25 13-9 13-7 13 36 14 63 14-68 13 5 13-4 11-7 13 0 13-1 14 5 13-2 13-5M1449 331l13 22 13 23 13 32 13-28 13-26 14 87 13-9 13-17 13 3 13-37 13 55 14-25 13 70 14-40 14 1 13-14 13-8 13 53 14 41 14-72 13 11 13 5 11 0 13 6 13-2 14-10 13-3 13 0M1449 353l13 17 13 5 13 50 13-39 13-7 14 70 13-4 13-25 13 0 13-37 13 45 14-1 13 58 14-43 14 10 13 9 13-20 13 64 14 29 14-59 13 2 13 7 11-7 13 3 13 4 14-6 13-1 13-7M1449 343l13 12 13 12 13 31 13-26 13-8 14 80 13-7 13-14 13-4 13-34 13 43 14-24 13 86 14-50 14 14 13-9 13 1 13 50 14 64 14-60 13 9 13-1 11-2 13 6 13-3 14-6 13 3 13-1M1449 373l13 20 13-11 13 49 13-37 13-15 14 85 13-22 13-10 13-6 13-44 13 50 14-11 13 66 14-65 14 15 13-20 13 1 13 70 14 48 14-73 13 7 13 8 11-6 13-1 13 4 14 0 13 7 13-10M1449 351l13 5 13 19 13 27 13-35 13-6 14 80 13-4 13-28 13 11 13-37 13 47 14-18 13 69 14-49 14 10 13-21 13 0 13 54 14 63 14-72 13 9 13-4 11-7 13 6 13 5 14-13 13 0 13-2M1449 376l13-9 13 13 13 26 13-30 13-15 14 90 13-19 13-17 13 3 13-34 13 46 14-4 13 53 14-46 14 23 13 4 13 0 13 52 14 36 14-77 13 10 13 2 11-6 13-4 13-9 14-3 13 14 13 2M1449 364l13-3 13 28 13 25 13-36 13-15 14 79 13-16 13-9 13 13 13-40 13 44 14 7 13 48 14-44 14 11 13 0 13 3 13 22 14 60 14-83 13 13 13-5 11 9 13-3 13 2 14 4 13 5 13-3M1449 366l13 3 13 9 13 23 13-27 13-14 14 83 13-25 13-8 13-2 13-37 13 62 14-14 13 60 14-38 14 9 13-13 13 0 13 50 14 40 14-66 13 14 13-5 11 7 13 2 13-9 14 1 13 1 13 1M1449 354l13-4 13 20 13 27 13-22 13-2 14 75 13-25 13-8 13-2 13-41 13 56 14-9 13 53 14-41 14 15 13-6 13-3 13 45 14 42 14-74 13 9 13-5 11 2 13-4 13-2 14 7 13 9 13-7M1449 355l13 19 13 8 13 35 13-22 13-16 14 68 13 10 13-34 13 4 13-40 13 40 14 0 13 64 14-55 14 16 13 9 13-10 13 44 14 59 14-69 13 6 13 1 11-12 13 1 13-2 14 6 13 0 13 3M1449 348l13 4 13 19 13 28 13-36 13-17 14 96 13-21 13-21 13 8 13-43 13 49 14-19 13 83 14-48 14 13 13-18 13 5 13 21 14 75 14-76 13-1 13 7 11 1 13 3 13 1 14 8 13-8 13 0M1449 355l13 8 13 23 13 29 13-48 13-2 14 82 13-4 13-27 13-4 13-36 13 47 14-32 13 79 14-35 14 18 13-14 13-13 13 44 14 64 14-76 13 4 13 5 11 6 13 0 13 1 14-9 13-3 13 1M1449 351l13 6 13 10 13 36 13-25 13-12 14 79 13-11 13-21 13 11 13-42 13 47 14-26 13 79 14-42 14 10 13-10 13-1 13 48 14 44 14-64 13 9 13-2 11-6 13-5 13 5 14-8 13 10 13 6M1449 359l13 8 13 13 13 26 13-41 13 10 14 74 13-18 13-6 13 4 13-41 13 52 14 2 13 46 14-44 14 25 13 0 13-7 13 60 14 33 14-79 13 5 13-1 11-5 13-3 13 6 14 1 13 0 13-3M1449 353l13-2 13 8 13 30 13-41 13 5 14 90 13-18 13-10 13 5 13-41 13 43 14-23 13 62 14-33 14 22 13 3 13-7 13 34 14 36 14-62 13 0 13-4 11 14 13-5 13-10 14 13 13-6 13 3M1449 363l13-1 13 21 13 33 13-46 13-18 14 89 13-13 13-17 13 16 13-53 13 61 14-33 13 80 14-45 14 15 13-10 13 5 13 22 14 67 14-63 13 1 13 5 11 1 13-8 13 6 14 2 13 1 13-4M1449 340l13 10 13 16 13 34 13-47 13-7 14 88 13-19 13-12 13 6 13-35 13 50 14 2 13 38 14-31 14 22 13-29 13 8 13 11 14 81 14-80 13 9 13 5 11-10 13-1 13 0 14 0 13 13 13 0M1449 347l13 11 13 19 13 27 13-28 13-12 14 81 13-28 13-6 13 0 13-37 13 52 14 3 13 37 14-31 14 11 13-15 13 7 13 42 14 31 14-56 13 14 13 2 11-1 13-2 13 0 14 1 13-6 13-5M1449 369l13 1 13 15 13 17 13-38 13 9 14 78 13-22 13-19 13 5 13-30 13 41 14-4 13 65 14-45 14 22 13-18 13 12 13 38 14 41 14-67 13 0 13-3 11 0 13 3 13 1 14 4 13 3 13 5M1449 376l13 4 13 14 13 25 13-25 13-19 14 82 13-16 13-17 13 9 13-42 13 49 14 26 13 41 14-60 14 18 13 2 13-20 13 47 14 52 14-77 13 8 13-3 11 6 13-7 13 7 14 3 13 7 13-11M1449 345l13 2 13 14 13 27 13-24 13-25 14 96 13-13 13-26 13 18 13-41 13 44 14-53 13 111 14-46 14 21 13-13 13-16 13 35 14 68 14-68 13 2 13 0 11 5 13 2 13-9 14-1 13 5 13 2M1449 358l13 1 13 21 13 33 13-47 13-30 14 101 13-13 13-14 13 4 13-46 13 60 14 0 13 54 14-45 14 25 13-3 13-10 13 27 14 52 14-77 13 8 13 6 11-10 13 2 13 1 14-9 13 12 13 9M1449 358l13 13 13 15 13 19 13-33 13 5 14 81 13-22 13-9 13 2 13-42 13 49 14-5 13 60 14-49 14 13 13-8 13 6 13 30 14 70 14-75 13 0 13-3 11 9 13-6 13-4 14 7 13 1 13-4M1449 367l13 12 13 3 13 47 13-39 13-4 14 68 13-7 13-29 13 6 13-26 13 48 14 9 13 55 14-67 14 14 13 5 13-1 13 35 14 68 14-91 13 14 13-4 11-2 13-2 13-7 14 3 13 5 13 2M1449 355l13 12 13 18 13 21 13-26 13-15 14 77 13-11 13-22 13 13 13-34 13 44 14 5 13 42 14-46 14 27 13-25 13 1 13 28 14 56 14-72 13 8 13-6 11 5 13-6 13 12 14-8 13 5 13 4M1449 358l13 4 13 20 13 37 13-37 13-6 14 87 13-17 13-19 13-5 13-44 13 62 14 10 13 42 14-46 14 14 13-2 13-6 13 46 14 51 14-77 13 12 13 2 11-8 13 4 13-3 14-5 13 7 13 5M1449 374l13 1 13 27 13 12 13-38 13-6 14 78 13-3 13-11 13 6 13-36 13 30 14 21 13 60 14-62 14 22 13 1 13-20 13 50 14 56 14-77 13 8 13-12 11-3 13-1 13 6 14 4 13-7 13-1M1449 361l13-6 13 15 13 30 13-35 13-25 14 96 13-24 13-12 13 17 13-40 13 47 14-13 13 79 14-46 14 12 13-25 13 9 13 25 14 67 14-73 13 11 13-8 11 5 13-5 13-1 14 3 13 2 13 2M1449 384l13-17 13 19 13 25 13-25 13-15 14 85 13 4 13-44 13 6 13-41 13 52 14 22 13 38 14-48 14 16 13-5 13-12 13 37 14 61 14-71 13 15 13 2 11-5 13-5 13-4 14-2 13-1 13 11M1449 350l13 12 13 19 13 20 13-36 13-19 14 89 13-15 13-10 13 11 13-44 13 50 14-25 13 63 14-46 14 20 13-1 13 2 13 42 14 56 14-81 13 8 13 1 11 5 13 1 13-6 14 4 13 1 13 9M1449 374l13-14 13 25 13 16 13-35 13-7 14 86 13-15 13-26 13 11 13-35 13 49 14 2 13 39 14-31 14 14 13 3 13-5 13 32 14 42 14-75 13 15 13-1 11 5 13-1 13 3 14-6 13-1 13 2M1449 353l13 12 13 21 13 35 13-28 13-6 14 66 13-13 13-20 13 3 13-30 13 47 14 9 13 38 14-47 14 23 13-3 13-17 13 60 14 59 14-87 13-4 13 0 11-4 13 8 13 10 14-9 13-5 13 11M1449 359l13 9 13 16 13 30 13-45 13 10 14 70 13 6 13-36 13-2 13-22 13 36 14 32 13 36 14-47 14 9 13-5 13 0 13 44 14 74 14-99 13 17 13 8 11-7 13-10 13 17 14-15 13-4 13-2M1449 330l13 13 13 29 13 26 13-33 13-16 14 92 13-22 13-7 13 13 13-56 13 49 14-23 13 82 14-31 14-3 13-1 13-7 13 42 14 62 14-77 13 5 13-8 11-2 13 1 13 1 14 3 13 2 13-3M1449 372l13-5 13 9 13 51 13-39 13 2 14 70 13-5 13-26 13 1 13-28 13 39 14 32 13 41 14-57 14 11 13-17 13 12 13 28 14 62 14-80 13 6 13 5 11-5 13 1 13 4 14 4 13-10 13-1M1449 373l13-15 13 14 13 25 13-34 13-1 14 75 13-9 13-15 13 6 13-40 13 45 14-33 13 91 14-44 14 10 13 5 13-6 13 42 14 47 14-73 13-1 13 9 11-3 13-6 13 0 14 10 13-10 13 8M1449 349l13 19 13 23 13 26 13-26 13-25 14 85 13-8 13-26 13 14 13-30 13 45 14 4 13 66 14-71 14 14 13-1 13 4 13 53 14 43 14-90 13 1 13 0 11 0 13 6 13-1 14-4 13 6 13 0M1449 347l13 15 13 23 13 37 13-44 13-18 14 83 13-12 13-6 13 12 13-52 13 51 14 2 13 55 14-53 14 12 13 2 13-5 13 48 14 42 14-68 13 3 13-2 11-3 13-3 13 4 14 8 13-3 13 4M1449 356l13 4 13 21 13 20 13-19 13-15 14 83 13-21 13-14 13 2 13-47 13 54 14 12 13 68 14-65 14 18 13-6 13-12 13 35 14 63 14-68 13 7 13 6 11 1 13 2 13-9 14 2 13-4 13 0M1449 344l13 24 13 17 13 24 13-34 13-4 14 73 13-9 13-22 13 17 13-51 13 56 14-27 13 94 14-56 14 23 13-12 13 4 13 31 14 54 14-75 13 3 13 2 11 4 13 4 13-3 14 3 13-3 13 3M1449 343l13 13 13 20 13 26 13-25 13-5 14 84 13-20 13-22 13 2 13-30 13 54 14-18 13 79 14-51 14 16 13-2 13-5 13 56 14 31 14-74 13 9 13 8 11-9 13-5 13-7 14 4 13-1 13-6M1449 352l13 21 13 6 13 29 13-41 13 11 14 67 13-1 13-22 13 9 13-37 13 40 14 8 13 46 14-50 14 14 13 3 13-16 13 51 14 63 14-79 13 2 13 2 11-3 13-1 13 7 14-2 13 0 13 0M1449 376l13-15 13 30 13 33 13-26 13-34 14 83 13-7 13-17 13 4 13-40 13 55 14 29 13 37 14-61 14 11 13-10 13 4 13 49 14 48 14-80 13 13 13-8 11 8 13-8 13 7 14-3 13 2 13-10M1449 378l13-1 13 8 13 24 13-27 13-15 14 88 13-15 13-25 13 11 13-39 13 41 14 2 13 62 14-47 14 20 13-5 13-1 13 20 14 69 14-72 13-2 13 2 11-3 13-4 13 2 14 0 13-1 13 1M1449 342l13 19 13 15 13 34 13-45 13-22 14 93 13-19 13-16 13 7 13-29 13 49 14-10 13 62 14-39 14 10 13-26 13 14 13 36 14 49 14-71 13 14 13 3 11-7 13 6 13 2 14-7 13 8 13 1M1449 360l13 8 13 12 13 32 13-25 13-4 14 72 13-12 13-28 13 9 13-46 13 53 14 18 13 44 14-53 14 8 13-4 13 6 13 22 14 64 14-53 13 14 13 8 11-5 13-3 13 5 14-1 13-8 13 3M1449 357l13 8 13 25 13 20 13-37 13-11 14 89 13-16 13-23 13 14 13-47 13 54 14 7 13 64 14-50 14 18 13-1 13-19 13 54 14 39 14-76 13 6 13 0 11 4 13 0 13-1 14 3 13-1 13-6M1449 352l13-3 13 19 13 31 13-33 13-28 14 96 13-21 13-1 13 4 13-49 13 60 14-23 13 58 14-38 14 16 13-5 13 7 13 26 14 65 14-87 13 8 13-5 11 12 13-5 13-4 14 3 13 6 13 6M1449 366l13-5 13 12 13 38 13-29 13-11 14 73 13-11 13-10 13 0 13-33 13 49 14 7 13 60 14-57 14 15 13-1 13-15 13 30 14 79 14-86 13 3 13 0 11 5 13-9 13 7 14 0 13 0 13-2M1449 343l13 22 13 11 13 34 13-38 13 2 14 63 13 0 13-25 13 1 13-39 13 54 14 2 13 71 14-59 14 23 13 2 13-5 13 30 14 38 14-76 13 12 13-8 11 6 13 8 13-1 14-5 13-4 13-3M1449 351l13 22 13 22 13 25 13-44 13-7 14 77 13 2 13-23 13 10 13-53 13 54 14 34 13 41 14-66 14 17 13 3 13-9 13 52 14 49 14-86 13 10 13 6 11 0 13-1 13 0 14-3 13 2 13 5M1449 331l13 27 13 22 13 26 13-41 13-21 14 88 13-21 13-1 13 7 13-46 13 51 14-12 13 74 14-51 14 17 13-20 13 8 13 47 14 53 14-43 13-4 13 4 11 4 13-11 13 15 14-2 13-1 13-15M1449 342l13 19 13 26 13 35 13-45 13 3 14 67 13-13 13-22 13 7 13-26 13 37 14 9 13 55 14-46 14 14 13-18 13-3 13 29 14 65 14-75 13 8 13 5 11 4 13-5 13-2 14 2 13 3 13-5M1449 367l13 18 13 6 13 26 13-42 13 0 14 83 13-20 13-20 13 13 13-39 13 44 14-4 13 53 14-46 14 15 13-15 13 13 13 36 14 55 14-64 13 5 13-10 11 10 13-9 13 7 14-6 13-3 13 3M1449 352l13 7 13 17 13 18 13-19 13-22 14 89 13-19 13-11 13 4 13-42 13 54 14-22 13 63 14-38 14 7 13-20 13 23 13 22 14 54 14-72 13 4 13 0 11 0 13 5 13 13 14-5 13-8 13 2M1449 337l13 22 13 12 13 29 13-32 13-10 14 92 13-19 13-19 13 5 13-41 13 45 14-40 13 106 14-40 14 10 13-17 13-3 13 34 14 51 14-62 13 9 13 3 11-1 13-8 13 4 14 7 13-4 13-3M1449 350l13 24 13 17 13 24 13-47 13 3 14 79 13-7 13-22 13-2 13-36 13 44 14 8 13 62 14-50 14 21 13-10 13-10 13 47 14 66 14-82 13 8 13-1 11-6 13-2 13 2 14-6 13-7 13-1M1449 363l13 10 13 6 13 27 13-25 13-21 14 95 13-4 13-35 13 16 13-37 13 47 14 11 13 52 14-55 14 10 13 15 13 0 13 24 14 62 14-90 13 3 13-1 11 6 13 4 13-4 14 9 13-1 13-2M1449 361l13 6 13 11 13 36 13-29 13-16 14 86 13-26 13-10 13 11 13-41 13 48 14 9 13 63 14-65 14 18 13-11 13-8 13 40 14 54 14-95 13 10 13-4 11-6 13 5 13 1 14 0 13-4 13 8M1449 330l13 18 13 12 13 26 13-39 13-14 14 111 13-19 13-22 13 9 13-41 13 54 14-8 13 49 14-29 14 13 13-4 13-16 13 43 14 44 14-61 13 16 13-10 11 2 13-3 13 1 14 2 13-9 13 7M1449 344l13 4 13 17 13 29 13-34 13-23 14 103 13-15 13-23 13 5 13-36 13 44 14-42 13 98 14-40 14 18 13-5 13-1 13 22 14 58 14-63 13 2 13-2 11-2 13-3 13 5 14-2 13-4 13 10M1449 349l13 14 13 10 13 31 13-33 13-21 14 89 13-2 13-20 13-3 13-49 13 56 14-15 13 90 14-65 14 10 13-5 13 8 13 24 14 60 14-66 13 9 13-7 11 3 13 5 13 5 14 0 13-5 13 1M1449 345l13 19 13 18 13 38 13-53 13-3 14 77 13-19 13-11 13 7 13-37 13 52 14 6 13 41 14-42 14 10 13-4 13 2 13 55 14 44 14-71 13 7 13-4 11-2 13-3 13-6 14 2 13 1 13-4M1449 389l13 1 13 11 13 11 13-35 13-16 14 79 13-17 13-15 13 3 13-47 13 52 14-34 13 96 14-37 14 17 13-23 13 10 13 21 14 59 14-59 13 2 13 0 11-13 13 3 13-4 14 1 13 9 13 0M1449 367l13-1 13 7 13 24 13-21 13-10 14 82 13-19 13-14 13 15 13-54 13 59 14-20 13 69 14-49 14 14 13-4 13-3 13 50 14 55 14-78 13 12 13 5 11-5 13 2 13 8 14-5 13-6 13 3M1449 337l13 12 13 16 13 34 13-28 13-16 14 89 13-24 13-1 13 1 13-40 13 48 14-36 13 78 14-42 14 14 13 6 13-12 13 32 14 55 14-64 13 11 13-1 11 2 13-5 13 5 14 5 13 4 13-1M1449 360l13 0 13 17 13 32 13-28 13-14 14 78 13-8 13-26 13 10 13-29 13 36 14 12 13 40 14-50 14 23 13-4 13 8 13 36 14 45 14-65 13 5 13 2 11-3 13-7 13 3 14-3 13 2 13-1M1449 336l13 25 13 16 13 33 13-50 13 6 14 80 13-15 13-12 13 5 13-35 13 49 14-39 13 88 14-50 14 13 13-24 13 12 13 33 14 58 14-73 13 1 13 4 11 7 13-4 13-2 14-3 13-3 13 3M1449 363l13 0 13 7 13 39 13-38 13-17 14 87 13-6 13-19 13 2 13-34 13 47 14-14 13 74 14-55 14 18 13 6 13-17 13 61 14 27 14-70 13 12 13 7 11 3 13-6 13-6 14 6 13-7 13 2M1449 362l13 12 13 6 13 41 13-35 13-14 14 89 13-22 13-15 13 8 13-34 13 46 14 31 13 35 14-64 14 21 13-15 13 14 13 28 14 51 14-78 13 11 13 1 11 1 13 8 13-2 14 1 13-2 13 4M1449 355l13 19 13 18 13 16 13-28 13-23 14 89 13-18 13-17 13 5 13-36 13 48 14 8 13 48 14-46 14 15 13-4 13-6 13 42 14 50 14-73 13 4 13-3 11 1 13-8 13 8 14 2 13-2 13 6M1449 338l13 12 13 14 13 35 13-38 13 1 14 88 13-16 13-26 13 10 13-49 13 57 14-26 13 67 14-42 14 20 13-5 13 8 13 29 14 52 14-69 13 4 13 7 11-9 13 1 13-4 14 10 13-1 13-3M1449 346l13 17 13 7 13 36 13-38 13-17 14 89 13-15 13-10 13 4 13-37 13 44 14-17 13 67 14-51 14 22 13-23 13 2 13 48 14 56 14-57 13 2 13-3 11 1 13-1 13 4 14-6 13 0 13 4M1449 360l13 8 13 12 13 32 13-25 13-4 14 72 13-12 13-28 13 9 13-46 13 53 14 18 13 44 14-53 14 8 13-4 13 6 13 22 14 64 14-65 13 13 13-3 11 5 13-5 13-9 14-1 13 0 13 0M1449 360l13 7 13 6 13 36 13-37 13-7 14 90 13-25 13-16 13 5 13-48 13 59 14-10 13 46 14-22 14 7 13-14 13 21 13 29 14 46 14-77 13 5 13-1 11 12 13-1 13 2 14-1 13 3 13-2M1449 350l13 19 13 14 13 31 13-36 13-9 14 81 13-19 13-6 13-8 13-31 13 41 14 0 13 65 14-49 14 20 13-12 13-7 13 47 14 46 14-78 13 4 13 7 11 0 13-2 13-2 14-4 13-5 13 12M1449 339l13 8 13 26 13 28 13-34 13-17 14 93 13-16 13-15 13-1 13-46 13 66 14-35 13 83 14-44 14 14 13-21 13 11 13 44 14 47 14-88 13 18 13 1 11 3 13-10 13 6 14 2 13-4 13 0M1449 345l13 19 13 7 13 34 13-39 13-9 14 88 13-18 13-22 13 5 13-39 13 49 14-32 13 92 14-51 14 19 13 1 13-8 13 39 14 60 14-80 13 3 13 1 11-11 13 2 13 4 14-7 13 11 13 0M1449 351l13-1 13 15 13 38 13-46 13-21 14 108 13-29 13-16 13 11 13-52 13 63 14-20 13 82 14-55 14 16 13-10 13-15 13 31 14 77 14-78 13 9 13 0 11 4 13 3 13-1 14-11 13 6 13 1M1449 371l13-5 13 11 13 45 13-41 13-14 14 86 13-8 13-18 13 6 13-37 13 51 14 25 13 34 14-44 14 2 13 10 13-7 13 34 14 49 14-78 13 16 13-9 11 0 13 4 13-6 14-3 13 8 13-3M1449 348l13 10 13 6 13 27 13-19 13-11 14 78 13-16 13-5 13 3 13-41 13 51 14 2 13 47 14-50 14 18 13-6 13-8 13 30 14 55 14-75 13 18 13-6 11 8 13 5 13 0 14 2 13 4 13-10M1449 374l13-13 13 26 13 38 13-56 13 1 14 79 13-26 13-4 13 8 13-43 13 43 14-14 13 73 14-44 14 27 13-5 13-20 13 52 14 44 14-63 13-3 13-6 11 1 13-8 13 4 14-5 13-8 13 18M1449 353l13 10 13 11 13 36 13-44 13-6 14 82 13-24 13-10 13 5 13-33 13 50 14-6 13 56 14-48 14 22 13-6 13-1 13 22 14 67 14-75 13 7 13 2 11 4 13-4 13 0 14-3 13-6 13-3M1449 357l13 3 13 29 13 20 13-28 13-26 14 91 13-7 13-17 13 3 13-31 13 40 14 8 13 46 14-53 14 12 13 2 13-8 13 48 14 58 14-77 13-1 13-2 11 5 13 5 13-2 14-2 13 1 13-1M1449 372l13 9 13 19 13 13 13-35 13 2 14 64 13-10 13-9 13 0 13-38 13 45 14 8 13 44 14-50 14 23 13-17 13 0 13 54 14 53 14-82 13 11 13 3 11 6 13 7 13-7 14-3 13 1 13 0M1449 325l13 28 13 23 13 24 13-26 13-25 14 91 13-13 13-19 13 6 13-34 13 45 14-49 13 102 14-47 14 20 13-10 13-4 13 32 14 45 14-50 13 5 13-7 11 5 13 5 13-3 14 4 13 2 13-5M1449 363l13 9 13 5 13 37 13-40 13-4 14 70 13-4 13-16 13 0 13-42 13 49 14 10 13 63 14-58 14 20 13-3 13-5 13 29 14 64 14-68 13-2 13 0 11-6 13-2 13 4 14-9 13 3 13-1M1449 368l13 6 13 9 13 25 13-19 13-12 14 75 13-10 13-18 13 11 13-37 13 50 14 12 13 55 14-62 14 11 13 6 13 4 13 54 14 47 14-88 13 3 13-3 11 1 13 9 13-12 14 8 13-1 13 8M1449 363l13 6 13 14 13 24 13-40 13-11 14 89 13-17 13-11 13-3 13-37 13 48 14-4 13 59 14-44 14 16 13-17 13-2 13 51 14 57 14-72 13 11 13-14 11 3 13 1 13-6 14 1 13 2 13 2M1449 336l13 20 13 22 13 20 13-25 13-15 14 80 13-6 13-23 13 12 13-32 13 42 14-24 13 81 14-56 14 19 13 3 13-6 13 25 14 74 14-73 13 9 13 2 11-3 13 0 13-9 14-4 13 0 13 5M1449 358l13-1 13 22 13 27 13-40 13-21 14 100 13-22 13-10 13 3 13-39 13 39 14-41 13 82 14-20 14 11 13-19 13-5 13 44 14 54 14-59 13 7 13-6 11-3 13-4 13 2 14 7 13 3 13 0M1449 352l13 9 13 5 13 48 13-41 13-16 14 90 13-11 13-15 13 6 13-34 13 45 14 18 13 49 14-62 14 6 13 0 13-6 13 36 14 63 14-82 13 10 13 5 11 6 13 1 13 2 14-3 13 4 13-10M1449 347l13 20 13 18 13 15 13-36 13 1 14 88 13-26 13-10 13 7 13-35 13 48 14-18 13 58 14-34 14 14 13 4 13-12 13 57 14 54 14-85 13 8 13 5 11-10 13-3 13 1 14-1 13 0 13 6M1449 351l13 13 13 23 13 33 13-47 13-9 14 81 13-2 13-20 13 9 13-32 13 41 14-10 13 55 14-43 14 19 13-15 13-1 13 45 14 62 14-90 13 1 13-3 11 5 13 1 13 5 14 3 13 5 13-6M1449 352l13 7 13 8 13 30 13-30 13-5 14 76 13-8 13-23 13 12 13-44 13 49 14-50 13 89 14-41 14 21 13-7 13-2 13 44 14 56 14-80 13 14 13 3 11 3 13 0 13-6 14-9 13 4 13 8M1449 363l13 10 13 6 13 27 13-25 13-21 14 95 13-4 13-35 13 16 13-37 13 47 14 11 13 52 14-55 14 10 13 15 13 0 13 24 14 62 14-117 13 3 13 4 11 0 13-9 13 9 14 3 13-5 13-6M1449 368l13 6 13 13 13 31 13-39 13-2 14 70 13-16 13-2 13 10 13-26 13 39 14 43 13 5 14-36 14 5 13 11 13-3 13 35 14 37 14-80 13 10 13-4 11-1 13 4 13 4 14 2 13-6 13-6M1449 352l13 25 13 12 13 21 13-42 13-4 14 84 13-15 13-17 13 2 13-27 13 37 14 7 13 49 14-51 14 25 13-9 13-7 13 46 14 41 14-65 13 7 13 5 11-1 13 5 13-8 14-5 13-1 13-8M1449 371l13-5 13 19 13 20 13-30 13-18 14 91 13-7 13-15 13-7 13-28 13 43 14-5 13 55 14-41 14 12 13 6 13-2 13 43 14 43 14-69 13 1 13 0 11 8 13-6 13 3 14 3 13-6 13 6M1449 346l13 11 13 26 13 32 13-32 13-19 14 82 13 8 13-37 13 5 13-32 13 44 14 24 13 24 14-48 14 24 13-14 13 1 13 42 14 57 14-83 13 10 13-4 11 7 13-9 13 10 14-7 13 4 13 1M1449 369l13 10 13 9 13 38 13-34 13-23 14 79 13-22 13-12 13 2 13-39 13 49 14 0 13 77 14-52 14 10 13-16 13-4 13 34 14 58 14-64 13 13 13-3 11-10 13 7 13-6 14-5 13 9 13 3M1449 352l13 20 13 16 13 28 13-40 13-10 14 79 13-13 13-19 13 10 13-30 13 40 14-5 13 55 14-34 14 11 13-10 13-11 13 47 14 50 14-60 13 3 13-2 11-1 13 0 13-7 14-2 13 7 13 3M1449 360l13 9 13 25 13 21 13-42 13 5 14 78 13-8 13-31 13 15 13-54 13 58 14 9 13 56 14-57 14 19 13 10 13-25 13 61 14 26 14-57 13-2 13 10 11-4 13 3 13-6 14-2 13-1 13 4M1449 348l13 2 13 21 13 36 13-43 13-12 14 87 13-14 13-10 13 6 13-41 13 52 14-23 13 55 14-26 14 8 13-10 13 1 13 40 14 68 14-73 13 6 13-7 11 3 13-1 13-1 14-4 13 6 13-5M1449 365l13 1 13 9 13 33 13-19 13-26 14 93 13-3 13-26 13-1 13-33 13 52 14-2 13 70 14-68 14 30 13-15 13-8 13 53 14 47 14-75 13-3 13 7 11 6 13 0 13 5 14-2 13-6 13 0M1449 339l13 13 13 19 13 26 13-37 13-20 14 100 13-20 13-14 13 7 13-47 13 56 14 5 13 47 14-37 14 11 13-10 13-3 13 49 14 44 14-79 13 11 13 6 11 1 13-4 13-2 14 9 13-6 13-4M1449 341l13 18 13 24 13 34 13-48 13 1 14 79 13-15 13-21 13-2 13-44 13 48 14-45 13 117 14-57 14 24 13 2 13-16 13 41 14 73 14-90 13 6 13-2 11-1 13-9 13-2 14 10 13 5 13-1M1449 347l13 0 13 25 13 32 13-41 13-10 14 88 13-14 13-18 13 7 13-38 13 45 14-32 13 85 14-42 14 11 13-16 13 4 13 22 14 78 14-79 13 4 13 10 11-3 13 4 13-6 14 2 13 6 13-6M1449 347l13 11 13 19 13 75 13-76 13-12 14 81 13-28 13-6 13 0 13-37 13 52 14 3 13 37 14-31 14 11 13-15 13 7 13 42 14 31 14-56 13 14 13 2 11-1 13-2 13 0 14 1 13-6 13-5M1449 364l13 6 13 0 13 21 13-30 13-9 14 82 13-13 13-12 13 2 13-38 13 54 14-1 13 46 14-32 14 4 13-18 13-1 13 58 14 44 14-63 13 2 13 1 11-2 13 0 13-8 14 2 13-1 13 8M1449 345l13 13 13 16 13 37 13-30 13-11 14 75 13-18 13-18 13 2 13-29 13 50 14 6 13 53 14-54 14 21 13-13 13-1 13 37 14 49 14-75 13 7 13 0 11-3 13-3 13 10 14 3 13-9 13-5M1449 342l13 15 13 22 13 26 13-31 13-13 14 85 13-7 13-32 13 13 13-34 13 33 14 6 13 53 14-43 14 15 13-21 13 5 13 26 14 63 14-58 13 5 13 1 11 3 13-7 13 4 14 1 13 1 13-5M1449 349l13 18 13 4 13 36 13-47 13-26 14 103 13-26 13-4 13 4 13-28 13 37 14-16 13 69 14-37 14 17 13-6 13-2 13 40 14 45 14-73 13 8 13 1 11 3 13-4 13 5 14 4 13-1 13 5M1449 332l13 19 13 24 13 36 13-39 13-2 14 77 13-12 13-27 13 8 13-33 13 39 14-26 13 86 14-49 14 20 13-3 13-22 13 40 14 69 14-87 13 5 13 0 11 10 13 3 13-4 14 7 13-2 13 2M1449 373l13-11 13 13 13 27 13-37 13 1 14 86 13-27 13-12 13 2 13-38 13 53 14 9 13 51 14-47 14 16 13 3 13-20 13 60 14 42 14-78 13 3 13-2 11 1 13 1 13-7 14 4 13-1 13-4M1449 359l13 3 13 5 13 44 13-27 13-21 14 82 13-2 13-23 13 9 13-48 13 48 14 3 13 46 14-38 14 12 13-7 13 1 13 38 14 63 14-82 13 10 13 3 11 3 13-5 13-6 14 2 13 9 13-5M1449 341l13 19 13 12 13 32 13-34 13-25 14 97 13-15 13-22 13 12 13-57 13 63 14-21 13 72 14-39 14 19 13-14 13-7 13 40 14 51 14-57 13 9 13-3 11-12 13 6 13 1 14 1 13-1 13-9M1449 376l13 3 13-2 13 41 13-30 13-19 14 83 13-16 13-17 13 1 13-41 13 48 14 18 13 65 14-66 14 26 13-15 13 11 13 46 14 58 14-94 13 4 13 10 11-2 13-9 13 11 14-10 13-2 13 7M1449 352l13 12 13 12 13 36 13-41 13 7 14 73 13-8 13-26 13 16 13-43 13 51 14 22 13 26 14-52 14 18 13-3 13-1 13 32 14 54 14-67 13 6 13 4 11-6 13-6 13 8 14-3 13 0 13-5M1449 356l13 13 13 4 13 28 13-39 13-6 14 88 13-15 13-12 13-2 13-45 13 55 14-4 13 55 14-44 14 14 13-13 13-9 13 48 14 57 14-68 13 2 13 5 11 8 13-7 13-5 14-1 13 8 13 3M1449 341l13 18 13 10 13 26 13-19 13-9 14 81 13-22 13-13 13 3 13-46 13 52 14-8 13 75 14-56 14 21 13-7 13 5 13 41 14 44 14-69 13 4 13-9 11 7 13 7 13-5 14-4 13-3 13-4M1449 370l13-6 13 18 13 49 13-49 13-2 14 82 13-17 13-21 13 4 13-38 13 40 14 18 13 39 14-49 14 13 13 6 13 2 13 52 14 45 14-73 13-4 13 7 11-2 13 0 13 5 14 1 13-11 13 8M1449 359l13 11 13 8 13 33 13-31 13-22 14 84 13-15 13-13 13 14 13-47 13 45 14-28 13 93 14-44 14 17 13 3 13-21 13 33 14 53 14-73 13 11 13 1 11 4 13-2 13-2 14 0 13-3 13 8M1449 355l13 9 13 15 13 32 13-30 13-29 14 97 13-10 13-19 13 3 13-31 13 41 14-39 13 98 14-56 14 12 13 1 13-5 13 28 14 68 14-65 13 7 13-2 11-1 13 4 13 0 14-5 13-6 13-2M1449 349l13 8 13 6 13 31 13-28 13 2 14 76 13-10 13-26 13 2 13-41 13 46 14-27 13 73 14-38 14 20 13-4 13-20 13 40 14 57 14-58 13 11 13 2 11 2 13-8 13 5 14 1 13-8 13 7M1449 380l13-12 13 12 13 39 13-35 13 3 14 71 13 10 13-51 13 11 13-25 13 47 14 40 13 32 14-67 14 7 13-10 13-1 13 63 14 49 14-70 13-6 13-3 11 6 13-4 13-10 14-8 13 4 13 8M1449 373l13 7 13 4 13 25 13-30 13-14 14 82 13-17 13-16 13 2 13-38 13 50 14-25 13 82 14-42 14 10 13-5 13-4 13 28 14 67 14-62 13 4 13-4 11-12 13-1 13 3 14 9 13-5 13 4M1449 385l13-12 13 15 13 30 13-44 13-26 14 101 13 5 13-24 13-3 13-43 13 53 14 7 13 59 14-55 14 10 13-12 13 11 13 30 14 55 14-72 13 1 13 6 11 9 13-4 13-4 14-2 13 5 13 16M1449 373l13 7 13 4 13 25 13-30 13-14 14 82 13-17 13-16 13 2 13-38 13 50 14-25 13 82 14-42 14 10 13-5 13-4 13 28 14 67 14-51 13 14 13 0 11-2 13 7 13-10 14 9 13-5 13-5M1449 350l13 21 13 12 13 14 13-22 13-8 14 85 13-5 13-30 13 3 13-35 13 38 14-9 13 54 14-27 14 12 13 1 13-11 13 32 14 53 14-63 13-3 13 8 11 5 13-3 13 5 14-9 13-4 13 7M1449 355l13 11 13 8 13 29 13-34 13-19 14 95 13-9 13-18 13 3 13-37 13 45 14 12 13 63 14-48 14 3 13-3 13 0 13 57 14 36 14-74 13 2 13 0 11-6 13 6 13-4 14 5 13 8 13 1M1449 367l13 2 13 14 13 33 13-51 13 0 14 77 13-4 13-16 13-9 13-35 13 58 14-16 13 58 14-34 14 14 13 5 13-19 13 32 14 52 14-76 13 7 13-3 11 11 13 2 13-9 14 7 13-5 13 1M1449 346l13 17 13 9 13 27 13-29 13-23 14 98 13-15 13-19 13 8 13-39 13 54 14 13 13 58 14-51 14 8 13-9 13-3 13 18 14 65 14-69 13 9 13-4 11 9 13-8 13 4 14 2 13-7 13-7M1449 333l13 19 13 17 13 39 13-36 13-2 14 73 13-4 13-27 13 1 13-45 13 57 14-43 13 97 14-50 14 16 13 8 13-4 13 58 14 35 14-76 13 5 13-2 11 4 13-8 13-4 14 4 13-1 13 2M1449 340l13 8 13 19 13 35 13-40 13-23 14 99 13-14 13-13 13 9 13-57 13 48 14 11 13 24 14-13 14 12 13 5 13-5 13 40 14 55 14-88 13 12 13 0 11-3 13 2 13 3 14-5 13-1 13-8M1449 344l13 14 13 24 13 39 13-44 13-4 14 76 13 2 13-37 13 11 13-49 13 53 14 18 13 59 14-64 14 16 13-1 13 1 13 32 14 50 14-76 13 16 13 0 11-10 13-1 13 8 14-2 13-7 13 7M1449 344l13 12 13 22 13 40 13-52 13-10 14 79 13-15 13-18 13 5 13-33 13 50 14-31 13 92 14-55 14 16 13-1 13-18 13 30 14 61 14-67 13 8 13-4 11 3 13 5 13-7 14 7 13 8 13-5M1449 359l13 19 13 5 13 21 13-27 13-12 14 80 13-26 13-10 13 8 13-29 13 53 14-18 13 70 14-46 14 15 13-21 13 1 13 37 14 49 14-62 13 10 13-8 11 0 13-6 13 8 14 5 13 2 13 3M1449 338l13 23 13 16 13 19 13-27 13-20 14 89 13-9 13-11 13 12 13-48 13 50 14-18 13 67 14-51 14 14 13-12 13 6 13 57 14 43 14-71 13 3 13-3 11-5 13 7 13 2 14-3 13 5 13 1M1449 351l13 3 13 20 13 26 13-37 13-21 14 97 13-22 13-14 13 19 13-42 13 53 14-1 13 53 14-50 14 15 13-18 13-5 13 35 14 50 14-55 13 13 13 3 11-3 13 1 13-1 14-2 13 1 13-1M1449 358l13 17 13 2 13 35 13-30 13-20 14 84 13-14 13-25 13 7 13-36 13 53 14-7 13 51 14-43 14 18 13-14 13-7 13 53 14 76 14-95 13 1 13 1 11 5 13 1 13 5 14-2 13-7 13 8M1449 359l13 18 13 4 13 25 13-23 13-20 14 83 13-20 13-6 13-2 13-32 13 44 14-14 13 83 14-58 14 20 13 10 13-17 13 30 14 67 14-81 13 1 13 0 11 0 13-6 13 4 14-7 13 9 13 5M1449 359l13 18 13 11 13 25 13-36 13-7 14 84 13-16 13-23 13 9 13-39 13 48 14 11 13 50 14-43 14 10 13-7 13-9 13 35 14 72 14-79 13 10 13-7 11 2 13 4 13 3 14 4 13-4 13-1M1449 372l13 5 13 14 13 45 13-42 13-21 14 84 13-17 13-8 13-5 13-32 13 40 14 3 13 65 14-60 14 18 13-10 13-3 13 57 14 49 14-82 13 3 13 0 11-2 13 0 13 11 14 2 13-2 13-2M1449 360l13 5 13 12 13 41 13-43 13 8 14 72 13-6 13-11 13-3 13-48 13 52 14 45 13 23 14-53 14 20 13 6 13-17 13 54 14 41 14-73 13 7 13-12 11 4 13 6 13-6 14-2 13 6 13-5M1449 340l13 8 13 19 13 35 13-40 13-23 14 99 13-14 13-13 13 9 13-57 13 48 14-54 13 118 14-39 14 9 13 5 13-5 13 40 14 55 14-88 13 12 13 0 11-3 13 2 13 3 14-5 13-1 13-8M1449 353l13 13 13 15 13 32 13-32 13 0 14 81 13-2 13-39 13-2 13-28 13 53 14-1 13 47 14-55 14 25 13-4 13-10 13 37 14 47 14-62 13 3 13 1 11 4 13-5 13 6 14-9 13 8 13-5M1449 362l13 2 13 21 13 30 13-47 13-14 14 92 13-18 13-12 13 6 13-43 13 46 14-34 13 90 14-40 14 8 13-21 13 14 13 31 14 61 14-76 13 5 13 2 11-3 13 1 13-1 14 2 13 3 13 1M1449 337l13 17 13 13 13 47 13-45 13-17 14 91 13-5 13-24 13 3 13-36 13 48 14-4 13 63 14-50 14 11 13-4 13 2 13 34 14 59 14-77 13 7 13 6 11-2 13-7 13 3 14 2 13 0 13-1M1449 337l13 8 13 30 13 29 13-41 13-9 14 90 13-24 13-5 13 3 13-45 13 57 14-20 13 73 14-43 14 7 13-8 13 1 13 27 14 60 14-57 13 0 13 6 11 4 13 5 13-10 14-4 13-5 13-1M1449 345l13 7 13 25 13 19 13-29 13-17 14 93 13-13 13-14 13 6 13-53 13 60 14 5 13 45 14-49 14 17 13-15 13 0 13 45 14 48 14-62 13 6 13-4 11-7 13 9 13-2 14 5 13-1 13-2M1449 346l13-1 13 25 13 28 13-32 13-1 14 75 13-26 13-7 13 9 13-41 13 59 14-23 13 71 14-40 14 19 13-24 13 1 13 44 14 53 14-81 13 14 13-5 11 2 13 7 13 6 14-11 13 2 13-2M1449 338l13 23 13 16 13 19 13-27 13-20 14 89 13-9 13-11 13 12 13-48 13 50 14-18 13 67 14-51 14 14 13-12 13 6 13 57 14 43 14-49 13 10 13-7 11 4 13-3 13-2 14 2 13 0 13 0M1449 361l13-4 13 19 13 24 13-28 13-19 14 89 13-20 13-8 13 2 13-36 13 45 14-8 13 59 14-48 14 25 13-16 13 1 13 40 14 53 14-75 13 2 13 9 11-5 13 3 13-6 14 8 13 1 13 6M1449 344l13 22 13 19 13 26 13-36 13-26 14 95 13-6 13-30 13 17 13-39 13 47 14-40 13 88 14-49 14 12 13-13 13-5 13 64 14 41 14-72 13 6 13 4 11 6 13-7 13-4 14 3 13 7 13-3M1449 342l13 12 13 28 13 35 13-27 13-15 14 79 13-8 13-32 13 13 13-44 13 52 14 14 13 34 14-36 14 19 13 3 13-4 13 48 14 58 14-91 13 6 13-4 11-9 13 2 13 1 14-5 13 0 13-3M1449 378l13 3 13 20 13 27 13-56 13 6 14 77 13-3 13-31 13-3 13-44 13 68 14-6 13 51 14-65 14 15 13-23 13 1 13 77 14 74 14-91 13 10 13-11 11 1 13 9 13-6 14 2 13-3 13-1M1449 354l13 7 13 14 13 24 13-34 13-6 14 84 13-19 13-13 13 14 13-43 13 41 14-22 13 57 14-21 14 10 13-4 13-4 13 17 14 75 14-67 13 9 13 0 11-6 13 7 13 3 14-8 13-4 13-1M1449 345l13 7 13 25 13 19 13-30 13-8 14 89 13-10 13-26 13 1 13-38 13 44 14-64 13 106 14-26 14 3 13 4 13-7 13 47 14 32 14-66 13 9 13-4 11 2 13 0 13 4 14-9 13 6 13-5M1449 354l13 5 13 20 13 24 13-37 13-4 14 84 13-16 13-18 13 2 13-39 13 59 14-29 13 62 14-44 14 19 13 3 13-1 13 43 14 58 14-73 13 8 13-8 11-2 13 6 13-1 14 4 13 0 13-5M1449 364l13-8 13 19 13 45 13-49 13-3 14 91 13-4 13-37 13 4 13-26 13 47 14-12 13 51 14-44 14 20 13-3 13 1 13 28 14 53 14-59 13 1 13-5 11-1 13-3 13 2 14-7 13 8 13-1M1449 369l13-1 13 24 13 37 13-46 13-2 14 77 13-18 13-16 13 8 13-32 13 42 14 22 13 28 14-35 14 13 13-12 13-11 13 57 14 52 14-78 13 3 13 0 11-4 13 3 13-6 14 4 13 0 13-3M1449 339l13 16 13 7 13 47 13-37 13-12 14 75 13-9 13-12 13 1 13-42 13 59 14-3 13 54 14-43 14 11 13 3 13-21 13 41 14 58 14-77 13 7 13-5 11 2 13-2 13 1 14 2 13 1 13 6M1449 359l13 11 13 17 13 28 13-35 13 3 14 70 13-1 13-32 13 3 13-45 13 58 14 23 13 34 14-55 14 17 13 4 13 10 13 37 14 45 14-77 13 8 13 3 11 4 13-9 13-2 14-1 13-3 13 0M1449 368l13 3 13 18 13 29 13-32 13-6 14 67 13-6 13-22 13 6 13-49 13 47 14 23 13 46 14-47 14 7 13 3 13-3 13 55 14 38 14-77 13 10 13-1 11-8 13-2 13 5 14 4 13 10 13-14M1449 364l13 6 13 16 13 18 13-36 13-14 14 90 13-21 13-12 13-2 13-35 13 54 14-30 13 81 14-45 14 12 13 0 13 7 13 33 14 33 14-57 13 13 13-6 11 5 13-6 13 5 14 9 13-5 13-7M1449 347l13 16 13 17 13 16 13-28 13-26 14 100 13-29 13-4 13 4 13-49 13 53 14-20 13 79 14-50 14 21 13-15 13-4 13 25 14 76 14-81 13 12 13-4 11 3 13 3 13 1 14-2 13 3 13-8M1449 384l13-14 13 6 13 26 13-35 13 6 14 87 13-13 13-20 13 6 13-35 13 41 14-17 13 69 14-42 14 18 13 2 13 2 13 30 14 42 14-84 13 10 13 5 11 4 13-1 13-2 14 9 13-11 13 7M1449 353l13 9 13 11 13 33 13-32 13 6 14 68 13-20 13-15 13 13 13-38 13 47 14 17 13 53 14-57 14 18 13-9 13 4 13 40 14 67 14-92 13 4 13 4 11 3 13 4 13-11 14-7 13 3 13-3M1449 331l13 27 13 22 13 26 13-41 13-21 14 88 13-21 13-1 13 7 13-46 13 51 14-12 13 74 14-51 14 17 13-20 13 8 13 47 14 53 14-82 13 4 13 7 11-1 13 5 13 4 14-9 13 5 13-6M1449 354l13 3 13 20 13 25 13-30 13-18 14 92 13-15 13-17 13 12 13-37 13 37 14-21 13 70 14-35 14 14 13-12 13-3 13 41 14 58 14-74 13-1 13 2 11 6 13 2 13 3 14 1 13 3 13-1M1449 359l13 3 13 16 13 27 13-44 13-2 14 79 13-14 13-12 13 0 13-25 13 46 14-12 13 74 14-41 14 12 13-18 13 6 13 39 14 40 14-70 13 9 13 6 11-7 13-6 13 7 14 2 13-4 13-2M1449 369l13-4 13 9 13 31 13-38 13 12 14 67 13 7 13-33 13 2 13-42 13 57 14 19 13 39 14-51 14 13 13-3 13 6 13 51 14 25 14-63 13 6 13-3 11-8 13 1 13 1 14 1 13 4 13-4M1449 365l13 0 13 10 13 41 13-36 13-26 14 98 13-23 13-16 13 20 13-46 13 58 14-4 13 48 14-48 14 13 13 1 13 0 13 34 14 52 14-72 13 2 13-4 11 2 13 9 13-2 14 2 13 4 13-7M1449 364l13 4 13 22 13 33 13-28 13-15 14 69 13 13 13-34 13 11 13-30 13 26 14-19 13 83 14-47 14 3 13 12 13-3 13 35 14 64 14-87 13 8 13 1 11 2 13 6 13-5 14-7 13-2 13-6M1449 358l13 6 13 25 13 45 13-50 13-10 14 82 13-25 13-11 13 3 13-44 13 58 14-9 13 73 14-62 14 24 13-14 13 2 13 56 14 67 14-85 13 0 13-6 11 1 13-10 13-1 14-6 13 4 13 2M1449 355l13-2 13 8 13 41 13-46 13-15 14 98 13-22 13-8 13-4 13-43 13 62 14-43 13 102 14-54 14 18 13 1 13-5 13 39 14 43 14-75 13 11 13 0 11 4 13 1 13 8 14 1 13-5 13 4M1449 369l13 1 13 15 13 37 13-44 13-3 14 80 13-26 13-21 13 7 13-30 13 45 14-20 13 89 14-51 14 12 13-12 13 3 13 50 14 34 14-62 13 2 13-2 11-3 13 0 13 1 14-6 13 3 13-4M1449 351l13-1 13 15 13 79 13-87 13-21 14 108 13-29 13-16 13 11 13-52 13 63 14-20 13 82 14-55 14 16 13-10 13-15 13 31 14 77 14-78 13 9 13 0 11 4 13 3 13-1 14-11 13 6 13 1M1449 365l13 8 13 18 13 19 13-31 13-4 14 86 13-12 13-26 13 5 13-44 13 56 14 46 13 23 14-59 14 20 13-11 13-7 13 32 14 56 14-66 13 5 13 3 11 0 13-6 13 2 14-6 13-5 13 1M1449 363l13 18 13 6 13 31 13-37 13-2 14 75 13-9 13-20 13 11 13-41 13 40 14-2 13 59 14-41 14 16 13-3 13-9 13 63 14 30 14-81 13 13 13-4 11 7 13 0 13 7 14 5 13-9 13-7M1449 353l13 5 13 8 13 37 13-38 13 3 14 74 13-15 13-13 13 4 13-38 13 55 14-27 13 80 14-51 14 8 13-7 13-12 13 41 14 76 14-76 13 10 13-8 11 6 13 4 13-7 14 7 13-10 13 1M1449 336l13 20 13 30 13 21 13-35 13-13 14 83 13-29 13-6 13 7 13-46 13 56 14-40 13 90 14-36 14 13 13-8 13 0 13 23 14 63 14-74 13 9 13 3 11 6 13-6 13-8 14-3 13 5 13 0M1449 357l13 21 13 6 13 36 13-35 13-18 14 83 13-18 13-20 13 15 13-37 13 47 14 3 13 46 14-34 14 28 13 0 13-17 13 23 14 61 14-63 13-2 13-9 11 7 13 3 13-3 14 2 13 2 13-1M1449 351l13 12 13 15 13 20 13-33 13-1 14 79 13-9 13-19 13 8 13-44 13 44 14 11 13 59 14-49 14 12 13-6 13-7 13 50 14 48 14-72 13 1 13-3 11-2 13-4 13 6 14 1 13 5 13 4M1449 343l13 15 13 9 13 31 13-34 13-3 14 83 13 1 13-29 13-1 13-39 13 50 14-16 13 63 14-32 14 15 13 0 13-6 13 19 14 64 14-77 13 2 13 6 11 2 13 4 13-1 14-8 13-5 13 1M1449 338l13 10 13 24 13 28 13-40 13 1 14 79 13-6 13-23 13 6 13-38 13 54 14 1 13 37 14-33 14 14 13-1 13-8 13 21 14 69 14-67 13 6 13-5 11 2 13-2 13-4 14-9 13 11 13-4M1449 352l13 4 13 26 13 22 13-45 13-14 14 93 13-14 13-3 13 0 13-40 13 45 14-1 13 68 14-54 14 19 13 2 13-22 13 32 14 46 14-54 13-2 13-1 11 2 13 3 13-2 14 3 13-1 13 5M1449 341l13 24 13 12 13 28 13-30 13-5 14 77 13 9 13-23 13-2 13-32 13 42 14 7 13 50 14-42 14-2 13 12 13-17 13 26 14 76 14-82 13 4 13 6 11-1 13 5 13-5 14-1 13 2 13 2M1449 347l13 4 13 13 13 29 13-35 13-3 14 97 13-29 13-17 13 13 13-43 13 44 14-5 13 72 14-47 14 19 13-20 13-8 13 53 14 50 14-76 13 8 13-7 11-3 13 8 13-7 14 9 13 6 13-3M1449 341l13 26 13 7 13 27 13-19 13-27 14 96 13-21 13-17 13 11 13-27 13 36 14 3 13 57 14-47 14 6 13-5 13-1 13 32 14 60 14-70 13 3 13 2 11 1 13 6 13-5 14-8 13 6 13-3M1449 356l13 8 13 8 13 27 13-20 13-5 14 77 13-24 13-25 13 14 13-32 13 48 14-19 13 68 14-38 14 10 13-20 13 16 13 46 14 39 14-74 13-4 13 10 11 2 13 1 13 0 14 3 13 2 13-10M1449 358l13 10 13 6 13 36 13-42 13-33 14 102 13-8 13-23 13 5 13-50 13 56 14-22 13 85 14-41 14 11 13-15 13-4 13 46 14 48 14-72 13 11 13 5 11-9 13-1 13 4 14 6 13-6 13 0M1449 343l13 22 13 10 13 29 13-36 13 1 14 76 13-23 13-16 13-4 13-27 13 59 14-34 13 68 14-29 14 16 13-4 13-7 13 33 14 56 14-62 13 2 13 1 11-7 13 0 13-10 14 3 13 2 13-13M1449 344l13 11 13 20 13 37 13-27 13-8 14 74 13-7 13-27 13 3 13-34 13 42 14 0 13 48 14-35 14 21 13-1 13-5 13 47 14 64 14-97 13 8 13-8 11-5 13-1 13 5 14 5 13-3 13-3M1449 353l13 9 13 17 13 40 13-45 13-21 14 94 13-7 13-21 13 9 13-31 13 40 14 11 13 40 14-47 14 15 13 4 13-18 13 24 14 61 14-72 13 18 13-5 11 5 13-2 13-8 14-5 13 7 13-1M1449 362l13 10 13 32 13 15 13-34 13-26 14 92 13-3 13-26 13-1 13-25 13 40 14 20 13 39 14-46 14 24 13 6 13-13 13 58 14 49 14-96 13 2 13 2 11 10 13-3 13-4 14 8 13-7 13-7M1449 359l13 13 13 16 13 27 13-41 13-7 14 89 13-12 13-28 13 3 13-28 13 50 14-7 13 68 14-44 14 1 13-1 13-13 13 50 14 64 14-91 13 12 13-1 11-3 13-5 13 4 14-2 13 3 13 9M1449 360l13 4 13 6 13 34 13-42 13-7 14 92 13-7 13-20 13-1 13-43 13 58 14 0 13 55 14-56 14 20 13-3 13-13 13 35 14 71 14-77 13-1 13-2 11 2 13-7 13 5 14 2 13 10 13-9M1449 365l13 1 13 4 13 24 13-42 13-15 14 107 13-3 13-31 13 3 13-50 13 56 14-36 13 82 14-33 14 12 13-6 13-7 13 21 14 67 14-64 13 13 13 4 11-5 13 5 13-2 14-5 13 4 13 4M1449 372l13 3 13 9 13 21 13-43 13-3 14 82 13-19 13-9 13 4 13-42 13 56 14-25 13 86 14-50 14 17 13-23 13-7 13 33 14 64 14-65 13 4 13-2 11 7 13-4 13-3 14 3 13 6 13 2M1449 346l13 6 13 24 13 22 13-39 13-27 14 96 13-19 13-1 13 5 13-37 13 48 14-45 13 88 14-47 14 19 13-16 13 0 13 25 14 85 14-84 13 9 13 6 11-5 13 1 13 8 14-5 13-4 13 9M1449 386l13-23 13 24 13 40 13-43 13-10 14 77 13 3 13-30 13 4 13-26 13 37 14 20 13 27 14-39 14 18 13 3 13-15 13 31 14 39 14-56 13 1 13 10 11-6 13-1 13 5 14-2 13 0 13 3M1449 345l13 16 13 11 13 25 13-42 13-21 14 103 13-14 13-15 13 12 13-43 13 45 14-16 13 63 14-40 14 26 13-17 13-5 13 27 14 53 14-58 13 5 13 5 11-6 13 4 13-3 14 0 13 8 13-8M1449 377l13-6 13 8 13 29 13-26 13-17 14 80 13-14 13-15 13 2 13-37 13 56 14-22 13 69 14-40 14 25 13 0 13-22 13 63 14 40 14-73 13 0 13 7 11-2 13 2 13-2 14 4 13-10 13-4M1449 366l13 5 13 19 13 31 13-38 13-15 14 77 13-15 13-13 13 3 13-37 13 49 14 29 13 32 14-49 14 21 13 7 13-2 13 26 14 50 14-79 13 6 13 7 11 1 13 5 13-4 14 10 13-13 13 4M1449 366l13-5 13 14 13 26 13-34 13-17 14 95 13-11 13-20 13 11 13-36 13 43 14-8 13 54 14-40 14 11 13 9 13-18 13 45 14 60 14-88 13 17 13 1 11-1 13 3 13-4 14-5 13 5 13-1M1449 371l13 4 13 15 13 23 13-34 13-8 14 82 13-4 13-21 13-5 13-42 13 49 14 24 13 35 14-50 14 24 13 3 13 2 13 12 14 50 14-76 13 17 13-3 11 5 13-2 13-2 14 3 13 6 13-6M1449 335l13 19 13 22 13 25 13-31 13-6 14 72 13-21 13-7 13 14 13-51 13 43 14-52 13 95 14-30 14 8 13-13 13 14 13 10 14 60 14-64 13 7 13 0 11 0 13 1 13 3 14 4 13-4 13 1M1449 368l13 10 13 21 13 24 13-46 13-5 14 85 13 4 13-39 13 12 13-42 13 47 14-7 13 65 14-50 14 9 13-6 13 5 13 43 14 40 14-73 13 10 13 9 11-7 13 4 13-3 14-9 13 2 13 1M1449 351l13 19 13 6 13 25 13-31 13-10 14 87 13-6 13-32 13 8 13-33 13 50 14-25 13 85 14-44 14 9 13-2 13-4 13 49 14 50 14-85 13 0 13 2 11 8 13-2 13 7 14-7 13 9 13-7M1449 390l13-8 13 8 13 25 13-32 13-1 14 59 13 5 13-30 13 6 13-37 13 53 14-14 13 70 14-43 14 10 13-3 13 0 13 42 14 44 14-64 13 9 13-11 11 8 13 3 13-7 14-4 13-6 13-2M1449 371l13 12 13-8 13 42 13-34 13-10 14 76 13-22 13-21 13 11 13-36 13 47 14-8 13 58 14-40 14 13 13-12 13 12 13 43 14 49 14-65 13 6 13-1 11-8 13-5 13 1 14 6 13-10 13 12M1449 347l13 18 13 9 13 39 13-37 13-25 14 89 13-18 13-17 13 2 13-41 13 53 14-54 13 116 14-42 14 22 13-15 13-18 13 30 14 72 14-77 13 4 13 0 11-1 13 7 13-5 14-1 13 10 13-9M1449 356l13-1 13 16 13 22 13-36 13-8 14 94 13-25 13-19 13 13 13-39 13 41 14-25 13 79 14-40 14 8 13-13 13-1 13 25 14 59 14-64 13 8 13 5 11-4 13 12 13-12 14 11 13 3 13 6M1449 345l13 8 13 148 13-109 13-37 13-14 14 29 13-6 13 8 13 6 13-21 13 26 14-28 13 236 14-200 14 12 13-25 13 2 13 65 14 79 14-116 13 7 13 3 11 2 13-1 13-2 14 1 13 0 13 0M1449 350l13 4 13 148 13-108 13-38 13-12 14 27 13-8 13 14 13 5 13-24 13 27 14-30 13 241 14-203 14 12 13-30 13 5 13 67 14 77 14-115 13 8 13 5 11-2 13-2 13 1 14-1 13 2 13 2M1449 342l13 10 13 145 13-107 13-36 13-10 14 23 13-5 13 8 13 8 13-24 13 31 14-36 13 244 14-204 14 12 13-25 13 3 13 65 14 79 14-113 13 5 13-3 11 4 13-2 13 2 14-4 13 2 13 1M1449 340l13 8 13 144 13-104 13-35 13-13 14 21 13-4 13 9 13 8 13-19 13 25 14-31 13 243 14-205 14 10 13-25 13 6 13 65 14 77 14-113 13 6 13-3 11 4 13-3 13 1 14 0 13 2 13-7M1449 354l13 2 13 147 13-109 13-37 13-12 14 27 13-5 13 12 13 4 13-25 13 27 14-30 13 242 14-206 14 15 13-29 13 6 13 66 14 74 14-110 13 7 13-2 11 4 13-1 13-2 14 1 13-1 13 3M1449 349l13 6 13 146 13-109 13-39 13-10 14 23 13-5 13 11 13 4 13-21 13 29 14-33 13 244 14-206 14 13 13-26 13 4 13 66 14 77 14-111 13 1 13 4 11 3 13-2 13-3 14 1 13 3 13-7M1449 358l13 2 13 149 13-110 13-39 13-9 14 28 13-7 13 10 13 1 13-22 13 31 14-33 13 242 14-207 14 14 13-25 13 0 13 70 14 78 14-110 13 3 13 2 11 1 13-1 13 2 14-1 13-5 13 1M1449 344l13 9 13 149 13-108 13-40 13-12 14 24 13-6 13 13 13 7 13-24 13 28 14-33 13 245 14-205 14 9 13-26 13 6 13 66 14 76 14-114 13 10 13-5 11 8 13-6 13 2 14 1 13 0 13-3M1449 341l13 11 13 146 13-106 13-37 13-15 14 27 13-7 13 9 13 7 13-23 13 31 14-32 13 240 14-204 14 11 13-28 13 8 13 62 14 80 14-111 13 5 13-2 11 6 13-7 13 3 14 1 13-5 13-2M1449 348l13 12 13 27 13 25 13-44 13-6 14 86 13-6 13-32 13 13 13-47 13 61 14-25 13 111 14-92 14 20 13-6 13 0 13 62 14 46 14-93 13 4 13-6 11 11 13-4 13 5 14 5 13-11 13 6M1449 343l13 20 13 21 13 28 13-48 13 0 14 89 13-18 13-24 13 7 13-45 13 64 14-14 13 101 14-90 14 30 13-18 13-1 13 55 14 55 14-94 13 0 13 11 11-9 13 10 13-12 14 3 13 6 13-13M1449 350l13 9 13 28 13 24 13-43 13-2 14 89 13-17 13-29 13 7 13-43 13 62 14-19 13 112 14-97 14 33 13-14 13-5 13 62 14 48 14-96 13 9 13-4 11 5 13-3 13 5 14 0 13-12 13 0M1449 349l13 12 13 27 13 21 13-42 13-4 14 85 13-9 13-22 13 3 13-38 13 46 14-6 13 102 14-91 14 21 13-4 13 3 13 47 14 57 14-90 13 0 13 4 11-9 13 6 13-7 14 10 13-7 13 1M1449 344l13 16 13 27 13 24 13-47 13-1 14 86 13-9 13-28 13 11 13-50 13 59 14-9 13 99 14-87 14 20 13-9 13 7 13 49 14 51 14-100 13 8 13 2 11 7 13 2 13-15 14 2 13 1 13 6M1449 344l13 17 13 25 13 22 13-42 13-3 14 92 13-18 13-26 13 9 13-45 13 59 14-22 13 109 14-91 14 21 13-9 13 4 13 60 14 46 14-91 13 9 13-4 11-1 13-3 13-7 14 12 13-12 13 1M1449 343l13 14 13 30 13 21 13-42 13-4 14 92 13-15 13-27 13 7 13-46 13 53 14-3 13 103 14-94 14 18 13-3 13 4 13 56 14 46 14-93 13 0 13-5 11 7 13 8 13-8 14-1 13 15 13-21M1449 345l13 7 13 32 13 26 13-48 13-2 14 83 13-20 13-17 13 15 13-45 13 49 14-12 13 108 14-90 14 19 13-2 13-4 13 53 14 56 14-104 13 15 13-13 11 11 13-9 13-2 14 3 13 5 13-1M1449 370l13 0 13 6 13 49 13-42 13-5 14 70 13-5 13-27 13 9 13-31 13 48 14-19 13 68 14-41 14 11 13-9 13 2 13 45 14 39 14-62 13 9 13-7 11 6 13-8 13 12 14-2 13-4 13-6M1449 374l13-5 13 9 13 48 13-38 13-5 14 67 13-11 13-20 13 7 13-31 13 43 14-13 13 76 14-53 14 14 13-6 13 1 13 43 14 42 14-63 13 8 13-3 11-5 13 7 13-4 14 4 13-3 13 5M1449 372l13-9 13 9 13 38 13-30 13 1 14 66 13-3 13-31 13 14 13-40 13 53 14-17 13 71 14-49 14 14 13-8 13 6 13 37 14 44 14-66 13 7 13-2 11 8 13 0 13 0 14-9 13 3 13 4M1449 367l13-2 13 5 13 42 13-34 13 1 14 72 13-15 13-23 13 12 13-37 13 47 14-19 13 70 14-38 14 7 13 1 13-4 13 45 14 34 14-54 13 5 13-2 11 4 13-3 13 1 14-3 13 4 13-1M1449 376l13-4 13 1 13 47 13-37 13-3 14 70 13-11 13-22 13 6 13-26 13 41 14-19 13 74 14-43 14 13 13-10 13 9 13 40 14 38 14-63 13 5 13 8 11-11 13 2 13 1 14-3 13 6 13 1M1449 371l13-6 13 7 13 45 13-33 13-1 14 65 13-6 13-21 13 7 13-39 13 52 14-18 13 74 14-50 14 14 13-5 13-2 13 46 14 39 14-67 13 6 13-1 11 8 13 0 13 2 14-10 13 11 13 0M1449 375l13-9 13 7 13 47 13-33 13-8 14 70 13-3 13-29 13 9 13-31 13 41 14-10 13 69 14-46 14 12 13-4 13 1 13 42 14 36 14-56 13 0 13 7 11 2 13-9 13 4 14-2 13 1 13-5M1449 365l13-6 13 7 13 42 13-35 13 6 14 67 13-11 13-19 13 7 13-37 13 50 14-29 13 72 14-32 14 10 13-10 13 0 13 45 14 38 14-63 13 9 13-5 11 7 13-3 13-6 14 7 13-3 13 0M1449 375l13-11 13 8 13 55 13-41 13-8 14 72 13-5 13-26 13 9 13-37 13 45 14-21 13 77 14-42 14 9 13-5 13-2 13 46 14 36 14-59 13 10 13-5 11-4 13 2 13 0 14 2 13-1 13 5M1449 366l13-1 13 1 13 53 13-38 13-6 14 76 13-14 13-19 13 4 13-37 13 49 14-17 13 71 14-41 14 9 13 0 13-7 13 48 14 34 14-58 13 8 13 0 11-1 13 2 13-8 14-1 13 5 13-1M1449 374l13-9 13 11 13 37 13-35 13 3 14 68 13-6 13-28 13 8 13-32 13 45 14-21 13 79 14-44 14 9 13-1 13-5 13 46 14 38 14-66 13 6 13 0 11 11 13-11 13 3 14 5 13-3 13-9M1449 362l13-4 13 12 13 37 13-27 13-3 14 70 13-9 13-29 13 13 13-38 13 50 14-26 13 79 14-41 14 6 13-4 13 0 13 42 14 37 14-61 13 6 13 7 11-5 13 1 13-2 14-4 13 1 13-4M1449 368l13 2 13 3 13 41 13-33 13-1 14 68 13-6 13-22 13 5 13-32 13 47 14-22 13 78 14-48 14 13 13-3 13-5 13 46 14 46 14-68 13 8 13 1 11 0 13-4 13-2 14 0 13 3 13-1M1449 373l13-6 13 4 13 46 13-40 13 3 14 71 13-11 13-23 13 3 13-27 13 46 14-22 13 77 14-48 14 10 13 0 13-5 13 41 14 50 14-70 13 12 13-8 11 4 13-1 13 3 14-4 13 7 13-1M1449 370l13 0 13 3 13 52 13-48 13 2 14 68 13-4 13-24 13 3 13-30 13 44 14-23 13 77 14-45 14 15 13-7 13 4 13 42 14 39 14-66 13 8 13 5 11-7 13-4 13 1 14 10 13-3 13-1M1449 367l13-4 13 12 13 38 13-36 13-2 14 74 13-6 13-28 13 6 13-27 13 44 14-24 13 76 14-39 14 3 13 1 13-2 13 42 14 47 14-67 13 7 13-3 11-3 13 3 13 1 14 4 13-5 13-7M1449 369l13-6 13 9 13 46 13-37 13-2 14 75 13-17 13-15 13 6 13-38 13 46 14-18 13 78 14-48 14 15 13-7 13-2 13 47 14 41 14-65 13 7 13-8 11 12 13-3 13-9 14 8 13-3 13-4M1449 361l13 2 13 4 13 45 13-37 13-3 14 72 13-11 13-22 13 7 13-35 13 51 14-18 13 63 14-33 14 9 13-3 13-5 13 44 14 47 14-67 13 7 13-6 11 4 13-6 13 1 14-1 13 7 13-2M1449 367l13-4 13 6 13 51 13-38 13-3 14 72 13-8 13-29 13 9 13-30 13 48 14-28 13 83 14-48 14 6 13 4 13-3 13 42 14 45 14-68 13 1 13 10 11-2 13-8 13 6 14 5 13-4 13-9M1449 379l13-2 13 3 13 36 13-29 13 4 14 53 13-6 13-25 13 10 13-34 13 42 14-15 13 44 14-28 14 14 13-20 13 3 13 41 14 34 14-49 13 2 13-2 11 4 13 4 13-3 14-5 13 5 13 5" fill="none" stroke="#bfc0c2" stroke-width="1.15" stroke-linejoin="round"/>
<path d="M1449 342l13 12 13 21 13 38 13-44 13-17 14 92 13-14 13-25 13 13 13-51 13 46 14-18 13 89 14-53 14 12 13 2 13-6 13 24 14 46 14-51 13 15 13-7 11 5 13 1 13-1 14-3 13-4 13 6M1449 342l13 20 13 29 13 12 13-25 13-6 14 71 13-1 13-16 13 2 13-38 13 44 14 1 13 60 14-46 14 4 13-9 13-2 13 46 14 50 14-73 13 8 13-3 11 1 13 3 13 0 14 1 13-6 13-6M1449 381l13-5 13 20 13 20 13-31 13-17 14 86 13-16 13-13 13 1 13-46 13 60 14 13 13 47 14-51 14 12 13-14 13 2 13 41 14 59 14-79 13 7 13 6 11-1 13 4 13 2 14-5 13 5 13-2M1449 375l13-3 13 21 13 22 13-25 13-16 14 74 13 2 13-24 13-1 13-44 13 49 14-18 13 84 14-49 14 10 13-5 13 0 13 46 14 49 14-82 13 2 13 7 11-3 13 3 13-3 14-6 13 3 13-2M1449 366l13 5 13 25 13 32 13-47 13-7 14 73 13-11 13-10 13 6 13-43 13 50 14 10 13 34 14-39 14 16 13-10 13 4 13 64 14 42 14-73 13-12 13-3 11 9 13-6 13 1 14 3 13 5 13-1M1449 372l13-4 13 13 13 25 13-43 13 8 14 83 13-18 13-15 13 8 13-35 13 37 14-7 13 52 14-38 14 17 13-7 13-8 13 64 14 34 14-69 13 8 13-4 11-2 13 2 13-9 14 9 13 11 13-2M1449 362l13 0 13 14 13 28 13-31 13-17 14 82 13-11 13-9 13 11 13-42 13 51 14 8 13 33 14-33 14 11 13 8 13-16 13 34 14 62 14-85 13 12 13 1 11-1 13 3 13-11 14 11 13 1 13-4M1449 352l13 17 13 19 13 37 13-54 13-14 14 82 13-15 13-15 13 11 13-32 13 35 14-54 13 104 14-41 14 9 13-3 13 9 13 29 14 42 14-69 13 8 13 9 11 4 13 4 13-6 14 1 13-2 13-4M1449 338l13 25 13 10 13 33 13-37 13-26 14 95 13-5 13-15 13 6 13-38 13 41 14-43 13 97 14-46 14 22 13-16 13-10 13 56 14 45 14-79 13 18 13 4 11 5 13-5 13 6 14-4 13-7 13 5M1449 347l13-1 13 13 13 31 13-36 13-6 14 87 13-26 13 5 13-4 13-35 13 44 14-11 13 72 14-42 14 16 13-14 13-10 13 46 14 45 14-76 13 17 13-2 11 8 13-6 13-10 14 12 13-9 13 5M1449 346l13 11 13 6 13 40 13-46 13 0 14 85 13-15 13-11 13-5 13-44 13 61 14-41 13 76 14-42 14 19 13 2 13-14 13 48 14 42 14-66 13 9 13-10 11 3 13 7 13 4 14 5 13-9 13 11M1449 362l13 4 13 17 13 25 13-24 13-13 14 80 13-19 13-4 13-2 13-34 13 38 14 22 13 51 14-63 14 17 13-19 13 10 13 37 14 54 14-60 13-5 13 4 11-7 13-4 13-1 14 3 13 0 13 4M1449 356l13 12 13 16 13 35 13-30 13-17 14 77 13-1 13-22 13 18 13-37 13 39 14 11 13 40 14-50 14 24 13 3 13-9 13 65 14 36 14-87 13 5 13 3 11 1 13-3 13-2 14 5 13 3 13 4M1449 334l13 20 13 14 13 34 13-34 13-2 14 77 13-12 13-25 13 8 13-39 13 57 14-15 13 73 14-47 14 12 13-13 13-5 13 21 14 49 14-50 13 3 13 3 11-10 13 6 13-3 14 0 13 6 13-3M1449 335l13 15 13 19 13 39 13-40 13-4 14 79 13-24 13-8 13 1 13-34 13 52 14-17 13 59 14-40 14 9 13 1 13 2 13 53 14 51 14-82 13 7 13-1 11-8 13-3 13-1 14-2 13-8 13 5M1449 364l13 9 13 17 13 32 13-43 13-16 14 74 13-17 13-14 13 16 13-40 13 56 14-20 13 71 14-54 14 19 13-17 13 6 13 38 14 50 14-72 13 13 13 5 11 6 13-4 13-10 14 6 13-8 13 2M1449 361l13-2 13 20 13 27 13-22 13-22 14 82 13-11 13-22 13 12 13-42 13 45 14-18 13 82 14-44 14 14 13-10 13-6 13 49 14 52 14-73 13 7 13-2 11-10 13 3 13 10 14 10 13-11 13 2M1449 368l13 1 13 0 13 43 13-46 13 0 14 77 13-19 13-14 13 9 13-42 13 49 14-48 13 91 14-39 14 23 13-23 13 9 13 19 14 52 14-47 13 6 13-1 11-2 13-8 13 11 14-6 13 0 13 5M1449 356l13 19 13-2 13 32 13-44 13-16 14 98 13-18 13-12 13 5 13-34 13 41 14-37 13 86 14-34 14 12 13-3 13-15 13 39 14 51 14-67 13 9 13-7 11 3 13 2 13 4 14 7 13-4 13 2M1449 379l13-8 13 7 13 25 13-26 13-13 14 86 13-2 13-27 13 16 13-37 13 34 14 0 13 57 14-46 14 18 13 2 13-3 13 40 14 53 14-83 13 6 13 0 11 0 13 3 13-5 14 6 13 4 13-5M1449 349l13 10 13 13 13 24 13-27 13-17 14 88 13-19 13-5 13 10 13-29 13 46 14 14 13 31 14-51 14 14 13-17 13 2 13 56 14 59 14-95 13 11 13-5 11 7 13-2 13 3 14-4 13 1 13 11M1449 353l13 17 13 26 13 25 13-48 13-8 14 74 13 2 13-30 13 12 13-37 13 48 14-9 13 77 14-50 14 26 13-22 13 1 13 25 14 69 14-75 13-5 13 0 11-2 13-3 13 4 14 7 13-3 13 3M1449 348l13 6 13 15 13 24 13-20 13-22 14 93 13 4 13-38 13 0 13-23 13 44 14-12 13 54 14-39 14 29 13-21 13-7 13 39 14 58 14-78 13 5 13-1 11 2 13-5 13 0 14 4 13 4 13 4M1449 347l13 4 13 13 13 37 13-27 13-32 14 99 13-15 13-21 13 10 13-42 13 39 14 0 13 75 14-45 14 17 13-20 13-8 13 26 14 72 14-71 13 6 13 5 11 3 13-10 13 2 14 2 13 0 13 1M1449 362l13 13 13 7 13 47 13-43 13 3 14 65 13-2 13-21 13 5 13-33 13 41 14-12 13 48 14-44 14 18 13-13 13 14 13 43 14 46 14-84 13 8 13 5 11 3 13 11 13-9 14-2 13 4 13 8M1449 349l13 14 13 15 13 41 13-40 13-11 14 84 13-12 13-14 13 0 13-29 13 33 14 10 13 46 14-45 14 14 13 0 13 1 13 40 14 53 14-81 13 10 13 0 11-2 13 2 13 2 14 0 13-2 13 2M1449 393l13 8 13 7 13 1 13-34 13-4 14 73 13-9 13-22 13 17 13-51 13 56 14-27 13 94 14-56 14 23 13-12 13 4 13 31 14 54 14-75 13 3 13 2 11 4 13 4 13-3 14 3 13-3 13 3M1449 379l13-8 13 18 13 18 13-28 13-3 14 77 13 5 13-36 13 8 13-45 13 53 14 27 13 35 14-58 14 22 13-2 13-4 13 59 14 31 14-74 13-3 13 2 11 4 13 2 13 0 14 4 13-5 13-3M1449 350l13 7 13 11 13 44 13-40 13 2 14 76 13-11 13-26 13 5 13-35 13 43 14 19 13 40 14-39 14 30 13-28 13-7 13 37 14 78 14-88 13 4 13 9 11-8 13-4 13-3 14 0 13 2 13-1M1449 350l13 5 13 10 13 30 13-24 13-8 14 82 13-9 13-25 13 5 13-27 13 45 14-18 13 57 14-32 14 14 13 6 13-7 13 45 14 36 14-70 13 7 13 5 11 3 13-8 13 7 14-1 13 0 13 4M1449 364l13 8 13 23 13 31 13-25 13-28 14 77 13-3 13-24 13 9 13-31 13 37 14 15 13 65 14-57 14 11 13-4 13-7 13 36 14 64 14-93 13 11 13-4 11 2 13 4 13 7 14-1 13 2 13 3M1449 357l13 1 13 22 13 20 13-22 13-31 14 92 13-11 13-15 13 1 13-25 13 36 14-26 13 67 14-39 14 15 13-7 13-4 13 51 14 40 14-62 13 7 13-1 11-4 13-5 13 8 14-1 13 2 13 2M1449 356l13 25 13 5 13 31 13-25 13-20 14 84 13 9 13-46 13 3 13-40 13 49 14 13 13 44 14-43 14 16 13 12 13-11 13 41 14 62 14-77 13 9 13 0 11 3 13-5 13-2 14 4 13-8 13 4M1449 339l13 31 13 14 13 25 13-39 13-23 14 97 13-11 13-21 13 12 13-34 13 37 14 15 13 71 14-64 14 7 13-4 13-2 13 42 14 51 14-81 13 4 13-1 11 10 13-6 13-5 14-1 13-1 13 10M1449 329l13 26 13 14 13 22 13-37 13-10 14 86 13-4 13-25 13 5 13-46 13 61 14-31 13 84 14-35 14 19 13-7 13-11 13 34 14 57 14-72 13 0 13 3 11-2 13 0 13-2 14 2 13 5 13-10M1449 394l13-12 13 16 13 34 13-49 13-11 14 78 13-11 13-23 13 15 13-45 13 45 14-16 13 68 14-34 14 19 13-2 13-9 13 41 14 64 14-80 13-2 13 2 11-6 13 5 13-2 14 3 13 8 13-11M1449 370l13-2 13 9 13 27 13-36 13-17 14 94 13-5 13-29 13 14 13-32 13 39 14 9 13 37 14-37 14 14 13 4 13-6 13 42 14 52 14-73 13 2 13-4 11 4 13-4 13 2 14-6 13 0 13-2M1449 352l13 16 13 24 13 22 13-34 13-23 14 85 13-13 13-19 13 8 13-45 13 48 14 10 13 63 14-57 14 25 13-16 13-13 13 43 14 66 14-77 13 3 13-1 11 4 13-7 13 7 14-2 13-4 13 0M1449 360l13 16 13 3 13 21 13-26 13-17 14 83 13-6 13-16 13 1 13-43 13 50 14 27 13 48 14-49 14 9 13-18 13 2 13 25 14 54 14-68 13 10 13-1 11-1 13 9 13 3 14-6 13 7 13-6M1449 343l13 21 13 20 13 18 13-43 13-5 14 80 13-5 13-25 13 15 13-41 13 51 14-35 13 92 14-55 14 18 13-6 13-2 13 36 14 65 14-74 13 1 13 4 11-7 13-2 13 2 14 5 13 1 13-1M1449 351l13 2 13 145 13-106 13-36 13-10 14 20 13 0 13 6 13 8 13-22 13 26 14-31 13 239 14-203 14 12 13-26 13 6 13 62 14 80 14-110 13 4 13 3 11 1 13-7 13 4 14-4 13 3 13 2M1449 343l13 13 13 143 13-106 13-36 13-15 14 27 13-8 13 14 13 4 13-24 13 29 14-30 13 241 14-204 14 9 13-26 13 6 13 63 14 81 14-114 13 4 13 0 11 2 13-3 13 3 14 0 13-2 13 0M1449 367l13-1 13 6 13 45 13-31 13-1 14 65 13-6 13-26 13 7 13-33 13 48 14-24 13 72 14-38 14 12 13-3 13-2 13 42 14 37 14-58 13 0 13 4 11 4 13-4 13 7 14-10 13 3 13-4M1449 362l13 1 13 11 13 47 13-43 13-4 14 72 13-10 13-23 13 10 13-33 13 46 14-26 13 82 14-43 14 6 13-6 13 4 13 41 14 40 14-63 13 11 13 2 11-6 13 5 13-6 14-3 13 2 13 5M1449 376l13-8 13 7 13 49 13-42 13-1 14 68 13-6 13-21 13 6 13-33 13 46 14-17 13 75 14-51 14 13 13-2 13 0 13 37 14 51 14-69 13 7 13-3 11-3 13 11 13-6 14-5 13 12 13-1" fill="none" stroke="#bfc0c2" stroke-width="1.15" stroke-linejoin="round" stroke-dasharray="5 3"/>
<path d="M1448.9 378.7l13-1.4 13.2 2.9 13.1 35.7 13.1-29.2 13.1 4.4 13.2 52.5 13.2-5.8 13.1-24.8 13.2 10.2 13.2-34.3 13.1 42.3 13.2-15.3 13.3 43.7 14.6-27.7 13 13.9 13.1-19.7 13.2 2.9 13.2 40.8 14.4 33.9 13.1-48.4 13.2 2.1 13.1-2.1 11.3 3.6 13.1 3.6 13.2-2.1 13.2-5.1 13.2 4.3 13.2 5.9" fill="none" stroke="#3560b8" stroke-width="3.0" stroke-linejoin="round"/>
<text x="1814.1" y="357.8" font-family="'Liberation Serif', serif" font-size="30.8" text-anchor="end" fill="#000">Maketu</text>
<path d="M1437 678.8H1831M1437 751.1H1831M1437 823.5H1831" stroke="#8c8c8c" stroke-width="2.2" fill="none"/>
<path d="M1449 630l13 25 13 18 13 17 13-17 13-24 14 81 13-9 13-14 13 8 13-35 13 47 14-12 13 56 14-44 14 9 13-7 13-7 13 41 14 70 14-74 13 8 13 4 11-2 13-3 13-6 14-4 13 0 13 4M1449 666l13 7 13 4 13 24 13-29 13-15 14 82 13-17 13-15 13 2 13-38 13 50 14-25 13 82 14-42 14 9 13-5 13-4 13 28 14 67 14-38 13 7 13 10 11-6 13-12 13 11 14-3 13 9 13-6M1449 638l13 10 13 22 13 36 13-36 13-3 14 76 13-30 13-9 13 10 13-38 13 39 14-1 13 49 14-35 14 19 13-23 13 1 13 38 14 64 14-81 13 11 13-5 11 10 13 1 13-5 14-3 13 4 13-4M1449 646l13 24 13 22 13 20 13-35 13-8 14 71 13 2 13-28 13 6 13-42 13 55 14-1 13 41 14-43 14 14 13-10 13 0 13 50 14 46 14-62 13-2 13-6 11-6 13 13 13-2 14 3 13 3 13-1M1449 645l13 4 13 13 13 37 13-24 13-5 14 62 13-20 13-7 13-2 13-25 13 45 14-16 13 57 14-30 14 14 13-10 13 10 13 43 14 41 14-83 13 9 13-8 11-1 13-1 13 1 14-1 13 3 13-3M1449 655l13 10 13 12 13 32 13-36 13 6 14 69 13-9 13-31 13 21 13-37 13 42 14 2 13 73 14-59 14 15 13 1 13-14 13 59 14 47 14-88 13-2 13 3 11-3 13 1 13 2 14-5 13 2 13 1M1449 663l13 6 13 9 13 26 13-24 13 0 14 70 13-1 13-34 13 7 13-24 13 42 14 10 13 48 14-54 14 17 13-4 13-19 13 58 14 46 14-73 13 4 13-7 11 5 13-5 13-6 14 2 13 7 13-3M1449 646l13 13 13 6 13 33 13-37 13-3 14 87 13-16 13-17 13 14 13-46 13 44 14 6 13 59 14-54 14 20 13-13 13 10 13 33 14 57 14-78 13 11 13-1 11-8 13 8 13-2 14-1 13-2 13 1M1449 640l13 9 13 18 13 32 13-27 13-23 14 85 13-20 13-8 13 6 13-46 13 47 14-17 13 75 14-40 14 9 13-4 13 4 13 26 14 53 14-67 13 1 13 5 11 2 13 0 13 5 14 3 13 1 13-13M1449 681l13-19 13 25 13 18 13-33 13-1 14 75 13-8 13-24 13 6 13-40 13 42 14 16 13 50 14-53 14 15 13-6 13-7 13 51 14 56 14-83 13-1 13 5 11-4 13 7 13 2 14-5 13-2 13 9M1449 656l13 0 13 26 13 36 13-34 13-27 14 89 13-5 13-34 13 2 13-22 13 40 14 2 13 52 14-38 14 13 13 4 13 4 13 37 14 61 14-88 13 12 13 0 11 3 13-12 13 1 14 2 13-5 13 6M1449 653l13-2 13 8 13 24 13-27 13-3 14 86 13-28 13-15 13 9 13-45 13 58 14-29 13 80 14-34 14 11 13-9 13-12 13 40 14 45 14-75 13 15 13 3 11-5 13 4 13 5 14 4 13-9 13 1M1449 636l13 11 13 25 13 31 13-20 13-14 14 69 13-4 13-26 13 6 13-28 13 37 14 14 13 40 14-39 14 21 13-13 13-4 13 54 14 47 14-74 13 2 13-1 11-9 13 10 13-1 14-8 13 3 13-4M1449 634l13 19 13 16 13 26 13-37 13-12 14 91 13-19 13-15 13 2 13-30 13 52 14-23 13 74 14-49 14 14 13-2 13 5 13 18 14 84 14-96 13 2 13 5 11 6 13-6 13 0 14 6 13 2 13 0M1449 641l13 9 13 17 13 29 13-33 13-4 14 82 13-11 13-22 13 4 13-44 13 44 14-22 13 80 14-44 14 20 13-9 13-9 13 41 14 39 14-54 13-1 13 0 11 0 13 0 13-4 14 4 13 0 13 5M1449 648l13 10 13 8 13 41 13-28 13-8 14 73 13-18 13-12 13 4 13-45 13 55 14 30 13 36 14-79 14 14 13-21 13 1 13 72 14 73 14-74 13 0 13 3 11-5 13-4 13-4 14 8 13 6 13-5M1449 649l13 11 13 11 13 27 13-30 13-12 14 85 13-10 13-17 13 2 13-24 13 40 14 20 13 42 14-42 14 5 13-13 13-3 13 53 14 38 14-56 13-6 13 2 11 3 13-2 13-1 14 6 13 5 13-9M1449 670l13 8 13 4 13 18 13-39 13-2 14 87 13-8 13-17 13 14 13-50 13 46 14 24 13 48 14-60 14 9 13 19 13-23 13 64 14 33 14-82 13 9 13-1 11-1 13-4 13-3 14 9 13 0 13 2M1449 632l13 17 13 11 13 22 13-24 13-9 14 92 13-10 13-29 13 3 13-50 13 63 14-7 13 43 14-34 14 23 13-7 13-9 13 26 14 62 14-57 13-5 13-4 11 7 13-6 13 7 14 2 13 2 13 7M1449 635l13 22 13 16 13 26 13-47 13-23 14 95 13-18 13-11 13 17 13-37 13 50 14-25 13 75 14-42 14 15 13-5 13-19 13 54 14 59 14-90 13 4 13 3 11-1 13 5 13-2 14-7 13 2 13 8M1449 666l13 20 13-11 13 48 13-36 13-15 14 85 13-23 13-9 13-7 13-43 13 50 14-11 13 65 14-43 14 9 13-9 13 2 13 42 14 48 14-73 13 7 13 8 11-6 13-1 13 4 14 0 13 7 13-10M1449 642l13 16 13 8 13 32 13-35 13 2 14 70 13-14 13-16 13 0 13-34 13 43 14-5 13 74 14-42 14 18 13-3 13-13 13 28 14 83 14-96 13 8 13 4 11-6 13-2 13-5 14 6 13 2 13-2M1449 634l13 9 13 24 13 22 13-37 13-15 14 88 13-6 13-11 13-1 13-36 13 45 14-37 13 104 14-57 14 12 13-5 13 4 13 23 14 52 14-77 13 11 13 5 11 1 13 6 13 1 14-1 13 4 13 0M1449 658l13 22 13 6 13 27 13-53 13-4 14 87 13-11 13-24 13 9 13-31 13 48 14 20 13 33 14-49 14 8 13 13 13-19 13 52 14 41 14-76 13 10 13-5 11 0 13 1 13 6 14 1 13-2 13 6M1449 646l13 13 13 21 13 26 13-27 13-11 14 73 13-17 13-13 13 1 13-33 13 51 14-9 13 67 14-44 14 12 13 7 13-3 13 34 14 40 14-67 13 3 13 3 11 0 13-1 13-5 14 0 13 0 13-11M1449 645l13 8 13 6 13 44 13-40 13-9 14 82 13-15 13-14 13 6 13-32 13 43 14-26 13 89 14-56 14 17 13 6 13-1 13 41 14 56 14-75 13 2 13 2 11-8 13 7 13-5 14-5 13 11 13-3M1449 648l13 5 13 13 13 28 13-37 13-21 14 99 13-19 13-10 13 2 13-40 13 42 14 7 13 50 14-33 14 11 13-4 13 4 13 30 14 67 14-82 13 12 13-10 11 4 13 3 13-8 14-4 13-3 13-1M1449 644l13 12 13 19 13 32 13-33 13-21 14 86 13-19 13-13 13 10 13-55 13 54 14-21 13 67 14-38 14 18 13 3 13-6 13 44 14 62 14-94 13 6 13 1 11 6 13 1 13-8 14 8 13-12 13-8M1449 655l13 15 13 9 13 24 13-23 13-15 14 84 13-17 13-26 13 5 13-38 13 47 14 7 13 59 14-55 14 9 13 7 13 0 13 25 14 50 14-68 13 2 13 0 11-2 13 6 13 1 14-1 13 3 13 0M1449 620l13 26 13 17 13 25 13-26 13-20 14 95 13-21 13-11 13 5 13-37 13 40 14-28 13 76 14-34 14 22 13-23 13-2 13 23 14 53 14-59 13 16 13-4 11 5 13-3 13 1 14 0 13-12 13-1M1449 647l13-1 13 1 13 32 13-25 13-6 14 83 13-16 13-28 13 6 13-46 13 64 14-46 13 105 14-45 14 24 13-9 13-6 13 44 14 50 14-83 13 14 13 3 11 0 13-8 13-1 14-5 13-6 13 5M1449 641l13-4 13 27 13 21 13-29 13-8 14 85 13-8 13-24 13 12 13-54 13 51 14-18 13 90 14-43 14 0 13-3 13-6 13 33 14 67 14-74 13 3 13 4 11-3 13-7 13 4 14 4 13-3 13-1M1449 659l13-3 13 15 13 25 13-46 13-16 14 88 13-25 13 5 13 14 13-50 13 47 14-4 13 64 14-45 14 17 13-6 13-5 13 48 14 60 14-89 13 8 13-4 11 1 13-10 13 4 14-9 13 12 13-5M1449 654l13 7 13 10 13 43 13-34 13-20 14 81 13-16 13-15 13 10 13-48 13 79 14 51 13-22 14-33 14 6 13-2 13-2 13 35 14 55 14-66 13 10 13-7 11 10 13 0 13-7 14-3 13-1 13-1M1449 675l13-8 13 6 13 38 13-42 13-14 14 78 13-24 13-2 13 4 13-41 13 55 14-26 13 93 14-56 14 20 13-4 13-13 13 36 14 71 14-91 13 16 13-8 11-3 13 4 13 1 14-6 13 11 13 2M1449 660l13 18 13 6 13 26 13-42 13 0 14 82 13-20 13-20 13 14 13-39 13 44 14-4 13 52 14-46 14 15 13-14 13 13 13 35 14 55 14-109 13 3 13 5 11-6 13 12 13-6 14-5 13-5 13 10M1449 650l13 9 13 1 13 37 13-31 13-6 14 71 13-14 13-22 13 6 13-34 13 47 14-34 13 86 14-38 14 23 13-17 13-1 13 36 14 45 14-70 13 18 13-10 11 3 13 6 13 2 14 0 13-3 13-10M1449 651l13-6 13 22 13 34 13-44 13-4 14 86 13-30 13-5 13-6 13-37 13 49 14-17 13 86 14-50 14 11 13-4 13 1 13 44 14 54 14-78 13 7 13-3 11 6 13 1 13 1 14 1 13-1 13-7M1449 646l13 0 13 21 13 38 13-41 13 1 14 79 13-19 13-13 13-1 13-39 13 49 14 9 13 46 14-41 14 11 13-12 13 8 13 32 14 57 14-68 13 6 13 0 11-6 13-1 13 4 14-7 13-1 13-4M1449 655l13 5 13 7 13 26 13-38 13-19 14 89 13-15 13-14 13 0 13-30 13 55 14-8 13 53 14-36 14 11 13-6 13-10 13 36 14 49 14-72 13 10 13 0 11 5 13 7 13-5 14-5 13-1 13 2M1449 638l13 6 13 24 13 19 13-38 13-24 14 108 13-17 13-17 13 3 13-38 13 55 14-28 13 81 14-38 14 15 13-16 13-4 13 30 14 52 14-53 13-3 13-3 11-7 13-2 13 4 14 7 13-11 13 10M1449 632l13 14 13 22 13 24 13-29 13-14 14 94 13-27 13-13 13 6 13-32 13 40 14-3 13 69 14-46 14 14 13-14 13-6 13 36 14 60 14-78 13 8 13 3 11-3 13 3 13-2 14 2 13 2 13 0M1449 618l13 28 13 21 13 30 13-33 13-10 14 85 13-19 13-23 13 12 13-38 13 52 14-11 13 54 14-40 14 10 13-7 13 3 13 20 14 55 14-71 13 15 13 5 11-1 13-4 13-1 14-5 13 2 13-4M1449 646l13 11 13-6 13 42 13-25 13-22 14 88 13-15 13-12 13 5 13-29 13 41 14-17 13 70 14-47 14 7 13-10 13 9 13 26 14 63 14-70 13 8 13-4 11 2 13-3 13 4 14-5 13 5 13-2M1449 643l13 13 13 14 13 29 13-36 13-18 14 97 13-13 13-20 13-2 13-42 13 53 14-7 13 57 14-43 14 22 13-12 13-9 13 46 14 69 14-87 13 11 13-1 11-1 13-8 13 5 14 8 13-4 13-5M1449 653l13 15 13 5 13 41 13-33 13-3 14 80 13-7 13-24 13 0 13-33 13 35 14 5 13 58 14-51 14 10 13-6 13 2 13 45 14 58 14-87 13 2 13 5 11-4 13 4 13 9 14-6 13-9 13 8M1449 654l13 6 13 10 13 36 13-28 13-16 14 86 13-26 13-11 13 11 13-40 13 47 14 10 13 62 14-65 14 18 13-10 13-8 13 39 14 53 14-83 13 13 13-1 11 5 13 5 13 3 14 3 13 1 13-5M1449 652l13 3 13 20 13 23 13-20 13-4 14 78 13-10 13-28 13 7 13-22 13 32 14 43 13 19 14-47 14 16 13 8 13-12 13 35 14 62 14-71 13 3 13-7 11 5 13-3 13 7 14 3 13 0 13-6M1449 643l13 10 13 19 13 33 13-40 13-9 14 76 13-17 13-16 13 1 13-31 13 53 14 11 13 64 14-55 14 16 13-19 13-1 13 28 14 57 14-66 13 8 13-4 11 8 13-1 13-3 14 3 13-10 13 3M1449 644l13 6 13 25 13 26 13-39 13 0 14 81 13-14 13-9 13-6 13-33 13 40 14-23 13 75 14-36 14 12 13-11 13 4 13 44 14 53 14-81 13 12 13-12 11 6 13 1 13 10 14-1 13 1 13-7M1449 638l13 19 13 1 13 40 13-34 13-23 14 92 13-23 13-8 13 13 13-40 13 41 14-21 13 69 14-38 14 6 13 6 13-3 13 39 14 50 14-71 13 5 13 0 11-3 13-6 13 7 14 0 13-6 13 1M1449 672l13-7 13 20 13 28 13-33 13-18 14 90 13-17 13-18 13 0 13-38 13 44 14-17 13 84 14-47 14 16 13 2 13 0 13 30 14 72 14-85 13-1 13-5 11-5 13 3 13 7 14-6 13 0 13-2M1449 628l13 30 13 18 13 23 13-29 13-26 14 88 13-10 13-22 13 15 13-46 13 43 14-18 13 66 14-30 14 21 13-9 13-6 13 32 14 63 14-78 13 2 13 5 11-5 13-5 13-3 14 13 13 4 13 2M1449 627l13 22 13 26 13 16 13-27 13-1 14 77 13-16 13-16 13-3 13-40 13 48 14-35 13 79 14-31 14 16 13-9 13 2 13 19 14 58 14-61 13 12 13-7 11 1 13 2 13 11 14 1 13 0 13-1M1449 655l13-2 13 13 13 32 13-41 13-4 14 78 13-8 13-22 13 8 13-38 13 42 14-45 13 101 14-42 14 19 13-12 13 3 13 34 14 47 14-78 13 5 13 10 11 3 13 5 13-4 14-4 13-1 13 0M1449 640l13 0 13 22 13 28 13-30 13-19 14 89 13-23 13-10 13 7 13-41 13 52 14-62 13 118 14-50 14 6 13-15 13 4 13 30 14 53 14-60 13 6 13 1 11-4 13 2 13 4 14 6 13 3 13 8M1449 629l13 19 13 13 13 25 13-29 13-24 14 96 13 1 13-25 13-1 13-32 13 39 14-21 13 81 14-39 14 10 13-10 13 6 13 40 14 53 14-79 13 7 13-6 11 2 13-2 13 8 14 6 13-12 13-1M1449 652l13 3 13 21 13 24 13-26 13 3 14 83 13-21 13-23 13-1 13-47 13 61 14 13 13 46 14-50 14 9 13-6 13 5 13 38 14 61 14-81 13 12 13-1 11-5 13 0 13-1 14 0 13-4 13 7M1449 647l13 9 13 10 13 26 13-37 13 0 14 82 13-23 13-6 13 4 13-35 13 53 14-5 13 60 14-56 14 19 13-5 13-3 13 29 14 49 14-69 13 7 13 5 11-2 13 7 13-6 14-1 13 4 13-2M1449 656l13 21 13 7 13 32 13-27 13-20 14 73 13 4 13-35 13 7 13-17 13 23 14 7 13 65 14-46 14 10 13 9 13-9 13 39 14 60 14-91 13 9 13 4 11 1 13 2 13 0 14-7 13-3 13-6M1449 642l13 24 13 15 13 21 13-42 13 1 14 80 13-13 13-14 13 9 13-40 13 39 14-14 13 81 14-59 14 16 13 2 13-1 13 42 14 57 14-83 13 9 13-4 11-5 13 3 13-4 14-3 13-2 13-4M1449 676l13 1 13 1 13 22 13-19 13-23 14 88 13-18 13-14 13 6 13-24 13 38 14 27 13 43 14-57 14 13 13 2 13-10 13 28 14 61 14-84 13 4 13 7 11 0 13 4 13 3 14 1 13 9 13-6M1449 653l13-2 13 16 13 22 13-27 13-3 14 74 13-4 13-24 13-2 13-49 13 62 14-3 13 66 14-48 14 17 13-1 13-6 13 48 14 46 14-73 13 5 13 2 11-4 13-7 13 0 14-5 13 6 13-7M1449 636l13 23 13 14 13 29 13-37 13-3 14 78 13-15 13-12 13 13 13-29 13 35 14-10 13 54 14-31 14 15 13 0 13-1 13 59 14 26 14-72 13 0 13 3 11-9 13 3 13 2 14 2 13 1 13-3M1449 642l13 12 13 17 13 34 13-50 13-24 14 101 13-7 13-18 13-1 13-32 13 46 14-5 13 53 14-33 14 6 13-12 13-2 13 45 14 54 14-79 13 6 13-2 11 4 13 2 13 2 14-2 13-5 13 6M1449 673l13 6 13 20 13 26 13-50 13-2 14 76 13-13 13-15 13-3 13-37 13 44 14 0 13 61 14-52 14 22 13-9 13-8 13 38 14 71 14-74 13 8 13 3 11-11 13 6 13-8 14-1 13-1 13-4M1449 660l13 2 13 10 13 28 13-18 13-21 14 83 13-18 13-12 13 7 13-45 13 45 14-21 13 78 14-46 14 12 13-5 13 10 13 43 14 72 14-82 13 10 13-7 11-5 13-5 13 2 14 1 13-5 13-9M1449 654l13 7 13 10 13 43 13-34 13-20 14 81 13-16 13-15 13 10 13-48 13 60 14 15 13 48 14-48 14 6 13-2 13-2 13 35 14 55 14-66 13 10 13-7 11 10 13 0 13-7 14-3 13-1 13-1M1449 657l13-3 13 19 13 35 13-31 13-21 14 81 13-14 13-18 13 2 13-42 13 62 14 8 13 41 14-36 14 21 13 6 13-3 13 36 14 40 14-79 13 3 13 0 11 0 13-2 13 5 14 10 13-8 13-4M1449 642l13 6 13 16 13 23 13-39 13-6 14 84 13-7 13-14 13 4 13-34 13 47 14-32 13 95 14-56 14 18 13-8 13-7 13 40 14 53 14-70 13-1 13-3 11-4 13 4 13 2 14 5 13-3 13 1M1449 645l13 22 13-1 13 38 13-34 13-6 14 80 13-5 13-29 13 8 13-33 13 44 14-21 13 71 14-36 14 18 13-9 13 2 13 29 14 41 14-60 13 7 13 1 11 4 13 7 13 4 14-10 13-2 13-2M1449 654l13 7 13 15 13 15 13-34 13 2 14 71 13-7 13-7 13-3 13-31 13 38 14-24 13 74 14-37 14 18 13-11 13-12 13 29 14 63 14-76 13 16 13-1 11 5 13-1 13 0 14-1 13 0 13-3M1449 621l13 28 13 22 13 24 13-31 13-5 14 85 13-13 13-15 13-4 13-38 13 50 14 3 13 50 14-40 14 11 13-11 13 3 13 31 14 59 14-66 13 11 13-9 11 3 13 2 13-6 14 4 13 1 13 0M1449 651l13 0 13 22 13 27 13-33 13-7 14 73 13-6 13-10 13-1 13-41 13 52 14-4 13 81 14-58 14 17 13-6 13-17 13 34 14 54 14-68 13 19 13-6 11 4 13 5 13 3 14-4 13-2 13-6M1449 648l13 8 13 5 13 40 13-32 13-21 14 80 13-28 13-3 13 6 13-51 13 48 14-30 13 80 14-31 14 24 13-17 13 12 13 33 14 51 14-79 13 12 13-5 11-3 13 5 13 0 14-2 13 2 13 0M1449 632l13 20 13 22 13 34 13-39 13-9 14 77 13-9 13-17 13-1 13-38 13 55 14-21 13 63 14-45 14 13 13-12 13 8 13 21 14 70 14-68 13 5 13 1 11-2 13 8 13-4 14 1 13-3 13-3M1449 654l13 4 13 10 13 38 13-39 13-15 14 89 13-12 13-24 13 12 13-30 13 43 14-11 13 48 14-41 14 15 13 2 13-15 13 36 14 71 14-75 13 0 13-2 11-7 13 9 13-4 14-1 13 12 13-6M1449 658l13 4 13 8 13 32 13-33 13-27 14 85 13-18 13-8 13 5 13-31 13 40 14 2 13 55 14-46 14 24 13-7 13-14 13 29 14 60 14-65 13 2 13 0 11 4 13-3 13-2 14-3 13 0 13-4M1449 651l13 11 13 12 13 32 13-34 13-17 14 80 13-16 13-19 13 7 13-26 13 31 14-19 13 74 14-37 14 3 13-6 13 9 13 44 14 56 14-63 13 4 13-2 11-9 13 4 13 0 14 6 13 6 13-6M1449 680l13-8 13 13 13 32 13-44 13 12 14 58 13 6 13-28 13-7 13-28 13 55 14 16 13 28 14-44 14 18 13-5 13-8 13 45 14 52 14-81 13 3 13 1 11 3 13-2 13 6 14-3 13 4 13-4M1449 693l13 5 13 8 13 21 13-51 13-9 14 81 13-25 13-10 13 2 13-44 13 59 14-10 13 73 14-62 14 24 13-13 13 1 13 56 14 66 14-84 13 0 13-6 11 1 13-10 13-1 14-5 13 3 13 2M1449 663l13-3 13 18 13 13 13-29 13-5 14 77 13-20 13-9 13 8 13-37 13 44 14-37 13 91 14-38 14 20 13-10 13-17 13 38 14 49 14-59 13 2 13-2 11 7 13 5 13-2 14-2 13-1 13-6M1449 654l13-4 13 20 13 36 13-35 13-5 14 79 13-1 13-35 13 5 13-33 13 42 14-4 13 50 14-36 14 11 13 1 13-7 13 33 14 59 14-78 13 3 13 3 11 1 13-2 13 7 14-3 13 0 13 0M1449 654l13 3 13 17 13 22 13-27 13-7 14 78 13-19 13-15 13 14 13-41 13 55 14 35 13 17 14-43 14 23 13 4 13-26 13 38 14 62 14-79 13 3 13 3 11 7 13-7 13 4 14 2 13-4 13 10M1449 619l13 16 13 23 13 22 13-36 13-7 14 89 13-5 13-19 13 0 13-37 13 48 14-23 13 61 14-24 14 9 13-15 13 8 13 50 14 42 14-65 13 6 13-1 11-3 13-6 13 8 14-5 13-1 13 5M1449 643l13 14 13 11 13 33 13-33 13-10 14 78 13-6 13-27 13 8 13-43 13 56 14 5 13 45 14-36 14 18 13 0 13-13 13 52 14 44 14-88 13 13 13-2 11 8 13 1 13-4 14-4 13 7 13-2M1449 633l13 19 13 20 13 20 13-38 13 0 14 86 13-15 13-14 13 6 13-41 13 41 14 13 13 45 14-42 14 11 13 5 13-18 13 49 14 49 14-75 13-1 13-1 11-3 13 6 13 8 14-4 13 1 13-3M1449 675l13-10 13 12 13 41 13-28 13-32 14 85 13-16 13-13 13 5 13-39 13 49 14 37 13 30 14-53 14 15 13-13 13 5 13 51 14 45 14-70 13 1 13 5 11-4 13-4 13 7 14-8 13 5 13-3M1449 629l13 19 13 17 13 37 13-31 13-18 14 82 13-14 13-21 13 8 13-46 13 65 14-27 13 71 14-39 14 13 13-3 13 5 13 19 14 61 14-82 13 13 13 2 11 0 13 9 13-4 14 1 13-4 13 5M1449 659l13-4 13 14 13 41 13-47 13-17 14 86 13-7 13-23 13-3 13-34 13 58 14-12 13 73 14-47 14 16 13-21 13-6 13 41 14 53 14-61 13 0 13-2 11-1 13 1 13 4 14-7 13 3 13 8M1449 640l13 25 13 0 13 41 13-33 13-11 14 72 13-22 13-9 13-1 13-44 13 50 14-5 13 75 14-40 14 14 13-3 13-1 13 30 14 50 14-61 13 8 13 2 11-5 13-6 13-2 14 2 13-6 13 2M1449 684l13-12 13 19 13 24 13-44 13-6 14 78 13-17 13-11 13-2 13-38 13 60 14 24 13 29 14-40 14 7 13-15 13-3 13 34 14 67 14-82 13 8 13 6 11-5 13 3 13 7 14-3 13 8 13-1M1449 665l13 6 13 6 13 42 13-22 13-10 14 62 13 7 13-35 13-2 13-32 13 39 14 15 13 60 14-60 14 8 13-2 13-12 13 67 14 38 14-71 13 0 13 11 11-9 13 0 13-3 14 4 13 0 13 5M1449 645l13 9 13 15 13 32 13-35 13-11 14 76 13-9 13-22 13 6 13-42 13 48 14-15 13 82 14-44 14 16 13 2 13-19 13 35 14 60 14-79 13 2 13 1 11-3 13-4 13 13 14-13 13 2 13 7M1449 643l13 21 13 10 13 37 13-35 13-20 14 92 13-19 13-15 13 8 13-44 13 48 14-5 13 57 14-33 14 8 13 5 13-18 13 68 14 50 14-84 13 6 13-2 11-4 13-5 13 5 14 1 13-10 13 9M1449 642l13 10 13 28 13 30 13-40 13-15 14 81 13-18 13-20 13 8 13-32 13 49 14 0 13 58 14-52 14 12 13 6 13-14 13 44 14 44 14-52 13-3 13 1 11 4 13 1 13 0 14-1 13-7 13-5M1449 663l13-9 13 17 13 23 13-32 13-1 14 73 13-10 13-24 13-1 13-36 13 47 14-6 13 84 14-54 14 16 13-11 13-8 13 26 14 57 14-71 13 4 13-3 11 9 13 13 13-4 14-3 13-2 13 6M1449 660l13 7 13 25 13 34 13-35 13-30 14 74 13 2 13-22 13 12 13-29 13 32 14 4 13 48 14-51 14 26 13-6 13-10 13 34 14 65 14-74 13 2 13 4 11-1 13-1 13-1 14 3 13 1 13-6M1449 641l13 13 13 14 13 27 13-40 13 8 14 77 13 3 13-25 13 10 13-56 13 51 14 4 13 50 14-51 14 24 13 0 13-12 13 48 14 59 14-80 13 10 13 0 11-6 13-1 13 8 14-5 13-1 13-9M1449 650l13 23 13 12 13 28 13-29 13-22 14 74 13 1 13-21 13-1 13-27 13 41 14 24 13 39 14-48 14 11 13 1 13 0 13 36 14 57 14-84 13 5 13 1 11-5 13 2 13 5 14 8 13-11 13 3M1449 659l13 3 13 19 13 38 13-38 13-18 14 88 13-16 13-12 13-3 13-38 13 42 14-2 13 55 14-40 14 13 13-6 13 6 13 37 14 63 14-83 13 11 13-1 11-8 13-1 13-4 14 8 13 4 13 6M1449 622l13 22 13 11 13 42 13-46 13-25 14 105 13-18 13-15 13 2 13-36 13 57 14-17 13 73 14-39 14 5 13-5 13-1 13 43 14 49 14-76 13 8 13 2 11 5 13 1 13-8 14-9 13-2 13 4M1449 655l13 9 13 12 13 29 13-35 13-16 14 79 13-17 13-16 13 4 13-47 13 52 14-34 13 96 14-37 14 17 13-23 13 9 13 22 14 57 14-58 13 2 13 0 11-13 13 3 13-4 14 1 13 9 13 0M1449 662l13 20 13 4 13 44 13-56 13-8 14 71 13-23 13-12 13 6 13-41 13 57 14-16 13 66 14-42 14 15 13 0 13-1 13 55 14 26 14-68 13 11 13-7 11-1 13-1 13-5 14 0 13 2 13 5M1449 650l13 16 13 11 13 40 13-40 13-17 14 85 13-17 13-20 13 6 13-39 13 44 14 4 13 52 14-41 14 24 13 4 13-28 13 29 14 75 14-68 13 4 13-3 11-3 13 4 13-5 14 5 13-3 13 8M1449 641l13 6 13 29 13 26 13-33 13-5 14 76 13-15 13-14 13 9 13-44 13 43 14 9 13 62 14-48 14 3 13-10 13-2 13 49 14 68 14-96 13 2 13 11 11-2 13 2 13 7 14-8 13 3 13 7M1449 657l13-6 13 5 13 48 13-47 13-6 14 83 13-20 13-7 13 4 13-45 13 55 14-43 13 85 14-41 14 16 13 8 13-12 13 39 14 75 14-87 13 13 13 0 11-5 13-7 13 7 14-4 13-3 13 5M1449 657l13 3 13 12 13 30 13-38 13 0 14 81 13-9 13-28 13 11 13-29 13 39 14-6 13 54 14-44 14 26 13-10 13-7 13 36 14 62 14-66 13 4 13-4 11-7 13 0 13-1 14 5 13-2 13-5M1449 624l13 23 13 22 13 31 13-27 13-26 14 87 13-10 13-16 13 2 13-37 13 55 14-25 13 70 14-40 14 2 13-14 13-9 13 53 14 40 14-70 13 11 13 5 11 0 13 6 13-2 14-11 13-3 13 0M1449 646l13 17 13 5 13 49 13-38 13-8 14 71 13-4 13-26 13 1 13-37 13 44 14-1 13 58 14-43 14 10 13 9 13-19 13 63 14 29 14-58 13 1 13 7 11-7 13 3 13 4 14-6 13-1 13-6M1449 636l13 13 13 11 13 30 13-25 13-8 14 79 13-6 13-14 13-4 13-34 13 42 14-24 13 86 14-50 14 15 13-9 13 0 13 50 14 64 14-60 13 9 13-1 11-2 13 6 13-3 14-6 13 3 13-1M1449 666l13 20 13-11 13 48 13-36 13-15 14 85 13-23 13-9 13-7 13-43 13 50 14-11 13 65 14-64 14 14 13-20 13 2 13 69 14 48 14-73 13 7 13 8 11-6 13-1 13 4 14 0 13 7 13-10M1449 645l13 4 13 19 13 26 13-34 13-6 14 80 13-5 13-28 13 12 13-37 13 46 14-17 13 68 14-49 14 10 13-21 13 1 13 54 14 61 14-71 13 9 13-4 11-7 13 6 13 5 14-13 13 0 13-2M1449 669l13-9 13 13 13 26 13-30 13-15 14 89 13-19 13-16 13 3 13-34 13 45 14-4 13 53 14-46 14 23 13 4 13 0 13 51 14 36 14-76 13 10 13 2 11-5 13-4 13-10 14-3 13 14 13 2M1449 657l13-3 13 28 13 25 13-36 13-15 14 78 13-16 13-8 13 13 13-41 13 45 14 6 13 48 14-44 14 11 13 0 13 3 13 22 14 60 14-83 13 13 13-4 11 8 13-3 13 2 14 4 13 5 13-2M1449 659l13 3 13 9 13 23 13-27 13-14 14 83 13-25 13-8 13-2 13-37 13 61 14-14 13 60 14-38 14 9 13-12 13-1 13 50 14 39 14-65 13 14 13-4 11 6 13 2 13-9 14 1 13 2 13 1M1449 647l13-4 13 20 13 26 13-22 13-1 14 75 13-25 13-9 13-1 13-41 13 55 14-8 13 53 14-42 14 15 13-6 13-2 13 44 14 42 14-74 13 9 13-5 11 2 13-3 13-3 14 7 13 10 13-8M1449 648l13 19 13 7 13 36 13-22 13-16 14 68 13 9 13-33 13 3 13-39 13 39 14 1 13 63 14-54 14 15 13 9 13-10 13 43 14 60 14-69 13 6 13 1 11-12 13 2 13-3 14 6 13 0 13 3M1449 641l13 4 13 19 13 28 13-36 13-17 14 95 13-21 13-20 13 8 13-43 13 49 14-19 13 82 14-47 14 13 13-19 13 6 13 20 14 75 14-76 13 0 13 6 11 1 13 3 13 2 14 7 13-8 13 0M1449 648l13 8 13 23 13 29 13-48 13-2 14 82 13-5 13-26 13-4 13-36 13 47 14-32 13 78 14-34 14 17 13-13 13-13 13 43 14 64 14-76 13 4 13 5 11 6 13 0 13 1 14-8 13-3 13 0M1449 644l13 6 13 10 13 35 13-24 13-12 14 79 13-11 13-21 13 10 13-42 13 47 14-26 13 79 14-42 14 10 13-9 13-2 13 48 14 43 14-63 13 9 13-2 11-6 13-5 13 5 14-8 13 11 13 5M1449 652l13 8 13 13 13 25 13-40 13 10 14 73 13-17 13-6 13 3 13-40 13 52 14 2 13 45 14-44 14 25 13 0 13-7 13 60 14 33 14-79 13 5 13 0 11-6 13-3 13 7 14 0 13 0 13-3M1449 646l13-2 13 8 13 30 13-40 13 4 14 89 13-17 13-10 13 5 13-41 13 42 14-22 13 62 14-34 14 22 13 3 13-6 13 33 14 36 14-62 13 0 13-4 11 14 13-5 13-9 14 13 13-7 13 4M1449 656l13-1 13 21 13 32 13-45 13-18 14 89 13-14 13-17 13 16 13-52 13 61 14-33 13 79 14-45 14 15 13-9 13 4 13 22 14 66 14-62 13 2 13 4 11 1 13-8 13 6 14 2 13 1 13-4M1449 633l13 10 13 16 13 34 13-47 13-7 14 87 13-18 13-12 13 5 13-34 13 50 14 2 13 37 14-31 14 22 13-29 13 8 13 11 14 80 14-78 13 8 13 6 11-11 13-1 13 0 14 0 13 14 13-1M1449 640l13 11 13 19 13 26 13-27 13-12 14 80 13-27 13-6 13 0 13-37 13 51 14 4 13 36 14-31 14 11 13-14 13 6 13 42 14 31 14-56 13 14 13 2 11-1 13-2 13 0 14 1 13-6 13-5M1449 662l13 1 13 15 13 17 13-38 13 9 14 77 13-22 13-18 13 5 13-30 13 41 14-4 13 64 14-45 14 23 13-19 13 12 13 38 14 41 14-67 13 0 13-2 11-1 13 3 13 1 14 5 13 2 13 5M1449 669l13 4 13 14 13 25 13-25 13-19 14 81 13-16 13-16 13 9 13-42 13 48 14 26 13 41 14-60 14 18 13 2 13-20 13 47 14 51 14-76 13 8 13-3 11 6 13-7 13 7 14 3 13 7 13-11M1449 638l13 3 13 13 13 27 13-24 13-25 14 96 13-13 13-26 13 18 13-41 13 44 14-53 13 110 14-45 14 21 13-13 13-17 13 35 14 68 14-67 13 1 13 0 11 5 13 2 13-8 14-1 13 4 13 3M1449 651l13 1 13 21 13 33 13-47 13-30 14 100 13-12 13-14 13 4 13-46 13 59 14 1 13 53 14-45 14 25 13-3 13-9 13 26 14 51 14-76 13 9 13 5 11-10 13 2 13 1 14-8 13 11 13 10M1449 651l13 13 13 15 13 19 13-33 13 5 14 81 13-22 13-10 13 2 13-41 13 48 14-4 13 59 14-49 14 14 13-9 13 6 13 31 14 68 14-74 13 0 13-3 11 9 13-5 13-5 14 7 13 1 13-4M1449 660l13 12 13 2 13 48 13-39 13-5 14 69 13-7 13-30 13 7 13-26 13 47 14 9 13 55 14-67 14 14 13 5 13-1 13 35 14 68 14-91 13 14 13-3 11-3 13-2 13-7 14 3 13 5 13 2M1449 648l13 12 13 18 13 21 13-26 13-15 14 77 13-11 13-22 13 12 13-33 13 43 14 5 13 42 14-46 14 27 13-25 13 2 13 27 14 56 14-71 13 7 13-5 11 5 13-6 13 11 14-8 13 5 13 4M1449 651l13 4 13 20 13 37 13-38 13-5 14 86 13-17 13-18 13-5 13-44 13 61 14 11 13 41 14-46 14 15 13-3 13-5 13 45 14 50 14-76 13 12 13 2 11-8 13 4 13-3 14-4 13 6 13 5M1449 667l13 1 13 27 13 11 13-38 13-5 14 78 13-4 13-11 13 6 13-35 13 29 14 22 13 59 14-62 14 22 13 1 13-20 13 50 14 55 14-75 13 7 13-12 11-3 13-1 13 6 14 4 13-7 13-1M1449 654l13-6 13 15 13 30 13-35 13-24 14 94 13-23 13-13 13 17 13-39 13 47 14-14 13 79 14-46 14 13 13-25 13 9 13 25 14 66 14-73 13 12 13-9 11 5 13-5 13-1 14 4 13 1 13 2M1449 676l13-16 13 19 13 24 13-24 13-15 14 84 13 4 13-44 13 6 13-40 13 51 14 22 13 38 14-48 14 16 13-4 13-13 13 37 14 60 14-69 13 14 13 2 11-5 13-5 13-4 14-2 13-1 13 11M1449 644l13 11 13 19 13 20 13-36 13-19 14 89 13-15 13-11 13 12 13-44 13 49 14-25 13 64 14-47 14 20 13-1 13 2 13 42 14 56 14-80 13 8 13 0 11 6 13 0 13-6 14 4 13 1 13 9M1449 667l13-14 13 24 13 17 13-35 13-7 14 85 13-15 13-25 13 11 13-35 13 49 14 1 13 39 14-31 14 15 13 2 13-5 13 32 14 42 14-75 13 15 13 0 11 4 13-1 13 4 14-7 13 0 13 1M1449 646l13 12 13 21 13 35 13-28 13-7 14 66 13-13 13-19 13 3 13-31 13 48 14 9 13 37 14-47 14 23 13-3 13-16 13 59 14 58 14-86 13-3 13-1 11-4 13 8 13 10 14-9 13-4 13 10M1449 652l13 9 13 16 13 29 13-44 13 10 14 70 13 5 13-35 13-2 13-23 13 37 14 32 13 34 14-45 14 8 13-5 13 1 13 43 14 74 14-99 13 17 13 8 11-7 13-10 13 17 14-15 13-4 13-2M1449 623l13 13 13 29 13 26 13-33 13-16 14 91 13-22 13-7 13 13 13-55 13 49 14-23 13 81 14-31 14-3 13-1 13-7 13 42 14 62 14-77 13 5 13-7 11-3 13 1 13 1 14 3 13 3 13-3M1449 665l13-5 13 9 13 51 13-39 13 2 14 69 13-5 13-25 13 1 13-28 13 39 14 31 13 41 14-57 14 11 13-17 13 13 13 27 14 62 14-80 13 6 13 5 11-5 13 1 13 4 14 4 13-10 13-1M1449 666l13-15 13 14 13 25 13-34 13-1 14 75 13-10 13-14 13 6 13-40 13 44 14-33 13 92 14-44 14 10 13 4 13-6 13 42 14 47 14-73 13-1 13 9 11-3 13-6 13 0 14 11 13-11 13 8M1449 642l13 19 13 22 13 26 13-25 13-25 14 84 13-7 13-26 13 14 13-31 13 46 14 3 13 66 14-70 14 13 13-1 13 4 13 53 14 42 14-89 13 1 13 0 11 1 13 5 13-1 14-4 13 6 13 1M1449 640l13 15 13 23 13 36 13-43 13-18 14 82 13-11 13-6 13 12 13-52 13 50 14 3 13 54 14-52 14 11 13 2 13-5 13 48 14 42 14-67 13 2 13-2 11-3 13-3 13 4 14 8 13-3 13 4M1449 649l13 4 13 21 13 20 13-19 13-15 14 82 13-21 13-14 13 3 13-47 13 54 14 12 13 67 14-65 14 18 13-6 13-12 13 35 14 63 14-68 13 7 13 6 11 1 13 2 13-9 14 2 13-4 13 1M1449 637l13 23 13 18 13 23 13-34 13-3 14 73 13-9 13-22 13 16 13-50 13 56 14-27 13 93 14-56 14 23 13-12 13 4 13 31 14 54 14-75 13 4 13 2 11 3 13 4 13-3 14 3 13-3 13 3M1449 636l13 13 13 20 13 26 13-25 13-5 14 83 13-19 13-22 13 2 13-30 13 54 14-18 13 78 14-51 14 17 13-3 13-5 13 55 14 32 14-74 13 9 13 8 11-9 13-5 13-7 14 4 13 0 13-7M1449 645l13 20 13 7 13 29 13-41 13 10 14 68 13-2 13-22 13 9 13-36 13 40 14 7 13 46 14-50 14 14 13 3 13-16 13 51 14 62 14-78 13 2 13 2 11-3 13-1 13 8 14-3 13 1 13-1M1449 669l13-15 13 30 13 32 13-25 13-34 14 83 13-8 13-17 13 4 13-39 13 55 14 28 13 37 14-61 14 11 13-10 13 4 13 48 14 49 14-80 13 13 13-8 11 8 13-8 13 7 14-3 13 2 13-10M1449 671l13-1 13 8 13 23 13-27 13-14 14 87 13-14 13-25 13 10 13-38 13 41 14 2 13 61 14-46 14 19 13-4 13-2 13 20 14 69 14-72 13-2 13 2 11-3 13-3 13 1 14 1 13-2 13 1M1449 635l13 19 13 15 13 34 13-45 13-22 14 92 13-19 13-15 13 7 13-29 13 49 14-10 13 61 14-39 14 10 13-25 13 14 13 35 14 49 14-71 13 14 13 3 11-7 13 6 13 2 14-7 13 8 13 1M1449 653l13 8 13 11 13 32 13-24 13-4 14 71 13-11 13-29 13 9 13-46 13 54 14 17 13 44 14-53 14 8 13-3 13 5 13 23 14 63 14-53 13 14 13 8 11-5 13-3 13 5 14-1 13-8 13 3M1449 650l13 8 13 25 13 20 13-37 13-11 14 88 13-16 13-22 13 14 13-48 13 54 14 7 13 64 14-49 14 17 13-1 13-18 13 53 14 38 14-75 13 6 13 1 11 3 13 0 13-1 14 3 13-1 13-6M1449 645l13-3 13 19 13 31 13-34 13-27 14 96 13-22 13 0 13 3 13-48 13 60 14-23 13 57 14-38 14 17 13-5 13 6 13 26 14 65 14-87 13 9 13-5 11 11 13-5 13-4 14 3 13 6 13 7M1449 659l13-5 13 12 13 38 13-29 13-11 14 72 13-11 13-10 13 0 13-32 13 49 14 6 13 60 14-57 14 15 13-1 13-14 13 29 14 78 14-85 13 3 13 0 11 5 13-8 13 6 14 0 13 1 13-3M1449 637l13 21 13 11 13 34 13-39 13 3 14 63 13 0 13-26 13 1 13-38 13 54 14 1 13 71 14-58 14 22 13 2 13-4 13 29 14 38 14-76 13 12 13-7 11 5 13 9 13-2 14-5 13-4 13-3M1449 644l13 22 13 22 13 25 13-44 13-7 14 77 13 1 13-23 13 10 13-52 13 53 14 34 13 41 14-66 14 17 13 3 13-9 13 51 14 50 14-86 13 10 13 6 11 0 13-1 13 0 14-3 13 2 13 5M1449 624l13 27 13 22 13 26 13-41 13-21 14 87 13-20 13-1 13 7 13-46 13 51 14-13 13 74 14-50 14 16 13-20 13 8 13 48 14 52 14-43 13-4 13 4 11 4 13-11 13 15 14-2 13-1 13-15M1449 635l13 19 13 25 13 35 13-44 13 3 14 66 13-12 13-22 13 6 13-25 13 36 14 10 13 54 14-46 14 15 13-19 13-2 13 28 14 65 14-75 13 9 13 4 11 4 13-5 13-2 14 2 13 3 13-5M1449 660l13 18 13 6 13 26 13-42 13 0 14 82 13-20 13-20 13 14 13-39 13 44 14-4 13 52 14-46 14 15 13-14 13 13 13 35 14 55 14-64 13 5 13-10 11 10 13-9 13 7 14-6 13-3 13 3M1449 645l13 7 13 17 13 18 13-19 13-22 14 88 13-19 13-11 13 5 13-42 13 53 14-22 13 63 14-38 14 8 13-20 13 22 13 22 14 54 14-72 13 4 13 0 11 0 13 5 13 13 14-5 13-8 13 2M1449 631l13 21 13 12 13 29 13-32 13-10 14 92 13-19 13-19 13 4 13-40 13 45 14-40 13 105 14-39 14 9 13-16 13-4 13 35 14 49 14-60 13 8 13 3 11-1 13-8 13 4 14 7 13-4 13-3M1449 643l13 24 13 17 13 24 13-47 13 2 14 79 13-7 13-22 13-1 13-36 13 44 14 8 13 61 14-50 14 21 13-9 13-11 13 47 14 65 14-81 13 8 13-1 11-6 13-2 13 2 14-6 13-6 13-2M1449 656l13 10 13 6 13 27 13-25 13-21 14 94 13-4 13-34 13 15 13-36 13 46 14 12 13 51 14-55 14 10 13 15 13 1 13 23 14 61 14-89 13 3 13-1 11 6 13 4 13-4 14 9 13-1 13-2M1449 654l13 6 13 10 13 36 13-28 13-16 14 86 13-26 13-11 13 11 13-40 13 47 14 10 13 62 14-65 14 18 13-10 13-8 13 39 14 53 14-93 13 9 13-3 11-7 13 5 13 2 14 0 13-4 13 8M1449 624l13 18 13 11 13 26 13-39 13-14 14 110 13-19 13-21 13 9 13-41 13 53 14-8 13 50 14-30 14 14 13-5 13-15 13 42 14 44 14-61 13 16 13-10 11 3 13-4 13 1 14 2 13-8 13 6M1449 637l13 4 13 17 13 29 13-34 13-23 14 102 13-15 13-22 13 4 13-35 13 44 14-42 13 97 14-40 14 18 13-4 13-2 13 22 14 58 14-63 13 2 13-2 11-2 13-3 13 5 14-2 13-3 13 9M1449 642l13 14 13 9 13 32 13-34 13-20 14 89 13-2 13-21 13-2 13-49 13 56 14-15 13 89 14-64 14 9 13-5 13 8 13 24 14 60 14-66 13 9 13-6 11 2 13 5 13 5 14 0 13-5 13 1M1449 638l13 19 13 18 13 37 13-52 13-3 14 77 13-20 13-10 13 6 13-36 13 51 14 6 13 41 14-42 14 11 13-5 13 2 13 55 14 44 14-71 13 7 13-3 11-3 13-3 13-5 14 1 13 2 13-4M1449 682l13 0 13 11 13 12 13-35 13-16 14 79 13-17 13-16 13 4 13-47 13 52 14-34 13 96 14-37 14 17 13-23 13 9 13 22 14 57 14-58 13 2 13 0 11-13 13 3 13-4 14 1 13 9 13 0M1449 660l13-2 13 8 13 24 13-21 13-10 14 81 13-18 13-14 13 14 13-53 13 58 14-19 13 68 14-49 14 14 13-3 13-4 13 50 14 54 14-76 13 11 13 5 11-5 13 2 13 8 14-5 13-6 13 3M1449 630l13 12 13 16 13 34 13-28 13-16 14 88 13-24 13-1 13 2 13-40 13 48 14-36 13 77 14-42 14 15 13 6 13-13 13 32 14 55 14-64 13 11 13-1 11 2 13-5 13 6 14 4 13 4 13-1M1449 653l13 0 13 17 13 32 13-28 13-14 14 77 13-7 13-27 13 10 13-29 13 36 14 13 13 39 14-49 14 22 13-3 13 7 13 36 14 45 14-64 13 4 13 2 11-3 13-7 13 3 14-3 13 2 13-1M1449 629l13 25 13 16 13 32 13-49 13 6 14 80 13-16 13-12 13 5 13-34 13 48 14-39 13 88 14-50 14 14 13-24 13 12 13 32 14 58 14-73 13 1 13 4 11 7 13-4 13-2 14-3 13-3 13 3M1449 656l13 0 13 7 13 39 13-38 13-17 14 87 13-7 13-18 13 2 13-34 13 47 14-14 13 73 14-54 14 17 13 6 13-17 13 61 14 26 14-69 13 12 13 7 11 3 13-6 13-6 14 6 13-7 13 3M1449 655l13 11 13 6 13 41 13-34 13-15 14 89 13-21 13-15 13 7 13-33 13 46 14 30 13 35 14-63 14 20 13-15 13 14 13 28 14 51 14-78 13 11 13 1 11 2 13 7 13-2 14 1 13-2 13 4M1449 648l13 19 13 17 13 16 13-27 13-23 14 88 13-17 13-17 13 4 13-35 13 47 14 9 13 47 14-46 14 15 13-4 13-5 13 41 14 49 14-71 13 3 13-3 11 1 13-7 13 8 14 1 13-2 13 6M1449 631l13 12 13 14 13 35 13-38 13 1 14 87 13-15 13-27 13 10 13-48 13 56 14-25 13 66 14-42 14 20 13-5 13 8 13 29 14 52 14-69 13 4 13 8 11-9 13 0 13-3 14 9 13 0 13-4M1449 639l13 17 13 7 13 35 13-37 13-17 14 88 13-15 13-9 13 4 13-38 13 45 14-17 13 66 14-50 14 22 13-24 13 2 13 48 14 55 14-56 13 2 13-3 11 1 13-1 13 4 14-6 13 0 13 5M1449 653l13 8 13 11 13 32 13-24 13-4 14 71 13-11 13-29 13 9 13-46 13 54 14 17 13 44 14-53 14 8 13-3 13 5 13 23 14 63 14-65 13 13 13-2 11 4 13-5 13-9 14-1 13 0 13 0M1449 653l13 7 13 6 13 36 13-37 13-7 14 89 13-25 13-15 13 4 13-47 13 58 14-9 13 45 14-21 14 7 13-15 13 21 13 29 14 46 14-77 13 5 13-1 11 12 13-1 13 3 14-2 13 3 13-2M1449 643l13 19 13 13 13 31 13-35 13-10 14 81 13-19 13-5 13-8 13-31 13 41 14 0 13 64 14-49 14 20 13-12 13-7 13 47 14 45 14-77 13 4 13 7 11 0 13-2 13-2 14-4 13-5 13 13M1449 632l13 8 13 26 13 28 13-34 13-17 14 92 13-16 13-15 13 0 13-46 13 65 14-34 13 82 14-43 14 13 13-21 13 12 13 43 14 47 14-87 13 18 13 0 11 3 13-9 13 5 14 2 13-4 13 0M1449 638l13 19 13 7 13 33 13-38 13-9 14 88 13-18 13-22 13 5 13-39 13 49 14-32 13 91 14-51 14 19 13 1 13-8 13 39 14 60 14-80 13 3 13 1 11-11 13 2 13 4 14-7 13 12 13-1M1449 644l13-1 13 15 13 38 13-46 13-21 14 107 13-28 13-16 13 11 13-52 13 62 14-20 13 82 14-54 14 15 13-9 13-15 13 30 14 77 14-78 13 10 13-1 11 4 13 3 13-1 14-10 13 5 13 1M1449 664l13-5 13 11 13 45 13-41 13-14 14 86 13-9 13-17 13 5 13-36 13 50 14 25 13 34 14-44 14 2 13 10 13-7 13 34 14 49 14-78 13 16 13-9 11 0 13 4 13-6 14-3 13 8 13-3M1449 641l13 10 13 6 13 27 13-19 13-11 14 77 13-16 13-5 13 3 13-40 13 51 14 2 13 46 14-50 14 18 13-5 13-8 13 29 14 55 14-74 13 17 13-6 11 8 13 6 13-1 14 2 13 4 13-10M1449 667l13-13 13 26 13 38 13-56 13 0 14 79 13-25 13-4 13 7 13-43 13 44 14-14 13 72 14-44 14 27 13-5 13-19 13 51 14 44 14-63 13-2 13-7 11 1 13-7 13 3 14-4 13-8 13 17M1449 646l13 10 13 11 13 35 13-43 13-6 14 81 13-23 13-10 13 4 13-32 13 50 14-6 13 55 14-47 14 21 13-6 13 0 13 21 14 66 14-74 13 7 13 2 11 4 13-4 13 0 14-3 13-6 13-2M1449 650l13 3 13 28 13 20 13-27 13-26 14 90 13-6 13-17 13 3 13-32 13 40 14 9 13 45 14-52 14 11 13 2 13-8 13 48 14 58 14-77 13-1 13-1 11 4 13 5 13-2 14-2 13 1 13-1M1449 665l13 9 13 19 13 12 13-34 13 2 14 64 13-11 13-8 13-1 13-38 13 46 14 7 13 44 14-49 14 22 13-17 13 1 13 53 14 53 14-81 13 10 13 4 11 5 13 7 13-7 14-3 13 1 13 0M1449 618l13 28 13 23 13 23 13-25 13-25 14 91 13-14 13-19 13 6 13-33 13 44 14-48 13 101 14-47 14 20 13-9 13-5 13 32 14 45 14-50 13 5 13-7 11 5 13 6 13-4 14 4 13 2 13-5M1449 656l13 9 13 4 13 38 13-40 13-4 14 70 13-5 13-15 13-1 13-41 13 48 14 10 13 63 14-57 14 19 13-2 13-6 13 29 14 63 14-67 13-1 13-1 11-6 13-2 13 4 14-9 13 3 13-1M1449 661l13 6 13 9 13 25 13-19 13-13 14 75 13-9 13-19 13 11 13-36 13 49 14 13 13 53 14-60 14 10 13 6 13 5 13 53 14 46 14-87 13 3 13-3 11 1 13 9 13-12 14 8 13-1 13 8M1449 656l13 5 13 15 13 23 13-39 13-11 14 88 13-16 13-12 13-3 13-36 13 47 14-3 13 58 14-43 14 15 13-17 13-2 13 51 14 56 14-70 13 10 13-14 11 3 13 1 13-6 14 1 13 2 13 3M1449 630l13 19 13 22 13 19 13-24 13-15 14 79 13-5 13-24 13 12 13-31 13 42 14-24 13 80 14-55 14 18 13 3 13-6 13 25 14 73 14-72 13 9 13 2 11-3 13 0 13-9 14-3 13-1 13 5M1449 651l13-1 13 22 13 27 13-40 13-21 14 100 13-23 13-9 13 2 13-38 13 38 14-40 13 82 14-21 14 11 13-18 13-6 13 45 14 53 14-59 13 7 13-6 11-3 13-4 13 2 14 7 13 3 13 0M1449 645l13 9 13 5 13 48 13-41 13-16 14 89 13-11 13-15 13 7 13-34 13 45 14 18 13 48 14-62 14 6 13 1 13-7 13 36 14 63 14-81 13 9 13 5 11 6 13 1 13 2 14-3 13 4 13-10M1449 640l13 20 13 17 13 16 13-36 13 1 14 87 13-25 13-11 13 8 13-36 13 48 14-17 13 57 14-34 14 14 13 4 13-11 13 56 14 53 14-84 13 8 13 5 11-10 13-3 13 1 14-1 13 0 13 6M1449 644l13 13 13 23 13 33 13-47 13-9 14 80 13-2 13-19 13 9 13-32 13 40 14-9 13 54 14-43 14 20 13-16 13-1 13 45 14 61 14-89 13 1 13-2 11 4 13 1 13 5 14 3 13 5 13-6M1449 645l13 7 13 8 13 29 13-30 13-4 14 76 13-9 13-22 13 11 13-43 13 48 14-49 13 89 14-41 14 21 13-8 13-2 13 44 14 56 14-80 13 14 13 3 11 3 13 0 13-6 14-9 13 4 13 8M1449 656l13 10 13 6 13 27 13-25 13-21 14 94 13-4 13-34 13 15 13-36 13 46 14 12 13 51 14-55 14 10 13 15 13 1 13 23 14 61 14-115 13 3 13 3 11 0 13-9 13 10 14 2 13-4 13-7M1449 661l13 6 13 13 13 30 13-38 13-2 14 69 13-16 13-1 13 10 13-27 13 40 14 42 13 5 14-36 14 6 13 10 13-3 13 35 14 37 14-80 13 10 13-4 11 0 13 3 13 4 14 2 13-6 13-5M1449 645l13 25 13 12 13 21 13-42 13-4 14 83 13-15 13-17 13 3 13-27 13 36 14 7 13 50 14-51 14 24 13-9 13-7 13 46 14 41 14-65 13 7 13 5 11-1 13 6 13-8 14-6 13-1 13-8M1449 664l13-5 13 19 13 19 13-29 13-18 14 90 13-7 13-14 13-7 13-28 13 42 14-4 13 54 14-41 14 12 13 7 13-2 13 42 14 43 14-69 13 1 13 0 11 8 13-6 13 3 14 3 13-6 13 6M1449 639l13 11 13 26 13 32 13-32 13-19 14 81 13 8 13-36 13 4 13-31 13 43 14 24 13 24 14-47 14 23 13-14 13 1 13 42 14 57 14-83 13 10 13-4 11 7 13-8 13 9 14-7 13 4 13 1M1449 662l13 10 13 8 13 38 13-33 13-23 14 79 13-22 13-13 13 3 13-39 13 49 14-1 13 77 14-52 14 11 13-17 13-4 13 34 14 57 14-63 13 13 13-3 11-9 13 6 13-6 14-5 13 10 13 2M1449 645l13 20 13 16 13 28 13-40 13-11 14 79 13-13 13-19 13 10 13-29 13 40 14-6 13 55 14-34 14 11 13-10 13-11 13 47 14 50 14-59 13 2 13-2 11-1 13 0 13-7 14-2 13 7 13 3M1449 653l13 9 13 25 13 20 13-41 13 5 14 78 13-9 13-31 13 15 13-53 13 57 14 9 13 56 14-57 14 19 13 10 13-25 13 61 14 26 14-57 13-2 13 10 11-4 13 3 13-6 14-1 13-2 13 4M1449 641l13 2 13 21 13 35 13-42 13-12 14 86 13-14 13-10 13 6 13-40 13 51 14-23 13 55 14-25 14 7 13-9 13 1 13 40 14 67 14-73 13 6 13-7 11 3 13-1 13 0 14-5 13 6 13-5M1449 658l13 1 13 9 13 33 13-19 13-26 14 92 13-3 13-26 13 0 13-34 13 52 14-2 13 70 14-67 14 29 13-14 13-9 13 53 14 47 14-75 13-3 13 7 11 6 13 0 13 5 14-2 13-6 13 0M1449 632l13 14 13 18 13 25 13-36 13-20 14 99 13-19 13-14 13 7 13-47 13 55 14 6 13 46 14-37 14 11 13-9 13-3 13 48 14 43 14-78 13 11 13 6 11 1 13-3 13-2 14 8 13-6 13-4M1449 634l13 18 13 24 13 34 13-48 13 1 14 78 13-15 13-20 13-3 13-43 13 47 14-44 13 116 14-57 14 24 13 2 13-16 13 41 14 73 14-90 13 6 13-2 11-1 13-9 13-2 14 10 13 5 13-1M1449 641l13-1 13 25 13 32 13-41 13-10 14 87 13-14 13-18 13 7 13-37 13 44 14-31 13 84 14-42 14 12 13-16 13 4 13 21 14 77 14-77 13 3 13 10 11-3 13 4 13-6 14 2 13 6 13-6M1449 640l13 11 13 19 13 74 13-75 13-12 14 80 13-27 13-6 13 0 13-37 13 51 14 4 13 36 14-31 14 11 13-14 13 6 13 42 14 31 14-56 13 14 13 2 11-1 13-2 13 0 14 1 13-6 13-5M1449 656l13 7 13 0 13 21 13-30 13-9 14 81 13-12 13-12 13 2 13-38 13 53 14 0 13 46 14-32 14 3 13-18 13-1 13 58 14 44 14-63 13 2 13 1 11-1 13-1 13-8 14 3 13-1 13 7M1449 639l13 12 13 16 13 36 13-29 13-11 14 74 13-18 13-17 13 2 13-30 13 51 14 5 13 53 14-53 14 20 13-13 13 0 13 36 14 48 14-74 13 7 13 0 11-3 13-3 13 10 14 3 13-8 13-6M1449 635l13 15 13 22 13 25 13-30 13-13 14 84 13-7 13-31 13 13 13-34 13 33 14 6 13 52 14-43 14 15 13-21 13 6 13 26 14 61 14-57 13 5 13 1 11 3 13-7 13 4 14 1 13 2 13-6M1449 643l13 17 13 4 13 35 13-46 13-26 14 102 13-25 13-4 13 3 13-28 13 38 14-17 13 69 14-37 14 17 13-6 13-1 13 39 14 45 14-73 13 9 13 0 11 3 13-3 13 4 14 5 13-2 13 5M1449 625l13 19 13 24 13 36 13-39 13-2 14 77 13-13 13-26 13 7 13-32 13 38 14-26 13 86 14-49 14 21 13-4 13-22 13 40 14 69 14-86 13 5 13 0 11 9 13 3 13-4 14 7 13-2 13 2M1449 666l13-11 13 13 13 27 13-37 13 1 14 86 13-27 13-12 13 1 13-37 13 53 14 8 13 51 14-46 14 15 13 3 13-19 13 59 14 42 14-77 13 3 13-3 11 2 13 0 13-7 14 4 13-1 13-4M1449 652l13 3 13 5 13 44 13-27 13-21 14 81 13-2 13-23 13 9 13-48 13 49 14 2 13 46 14-37 14 11 13-7 13 2 13 38 14 61 14-81 13 10 13 3 11 3 13-5 13-6 14 2 13 9 13-5M1449 634l13 19 13 11 13 33 13-34 13-25 14 97 13-15 13-22 13 11 13-56 13 62 14-20 13 71 14-38 14 18 13-13 13-8 13 40 14 51 14-57 13 9 13-3 11-12 13 6 13 1 14 2 13-2 13-9M1449 669l13 2 13-1 13 41 13-31 13-18 14 82 13-16 13-17 13 2 13-41 13 48 14 17 13 65 14-66 14 26 13-15 13 12 13 45 14 57 14-93 13 4 13 10 11-2 13-9 13 11 14-10 13-2 13 7M1449 645l13 12 13 12 13 36 13-41 13 7 14 73 13-9 13-25 13 15 13-42 13 51 14 21 13 26 14-51 14 17 13-2 13-2 13 32 14 54 14-67 13 6 13 4 11-6 13-5 13 7 14-3 13 0 13-5M1449 649l13 13 13 4 13 28 13-39 13-6 14 88 13-16 13-12 13-1 13-45 13 55 14-4 13 54 14-43 14 13 13-13 13-8 13 47 14 57 14-68 13 3 13 4 11 8 13-7 13-4 14-1 13 7 13 4M1449 634l13 18 13 10 13 26 13-20 13-8 14 81 13-23 13-12 13 3 13-46 13 52 14-8 13 74 14-56 14 21 13-6 13 4 13 41 14 44 14-69 13 4 13-9 11 7 13 7 13-5 14-4 13-3 13-4M1449 663l13-6 13 18 13 49 13-49 13-2 14 81 13-16 13-21 13 4 13-38 13 40 14 17 13 39 14-49 14 13 13 6 13 2 13 52 14 45 14-73 13-4 13 7 11-2 13 0 13 5 14 1 13-11 13 8M1449 652l13 11 13 8 13 33 13-32 13-21 14 83 13-14 13-13 13 14 13-47 13 45 14-28 13 92 14-44 14 17 13 4 13-21 13 32 14 53 14-73 13 11 13 1 11 4 13-2 13-2 14 1 13-3 13 7M1449 648l13 9 13 15 13 31 13-29 13-28 14 95 13-9 13-20 13 3 13-31 13 42 14-39 13 97 14-56 14 12 13 1 13-5 13 28 14 68 14-65 13 7 13-2 11-1 13 4 13 0 14-5 13-6 13-2M1449 642l13 8 13 6 13 30 13-27 13 2 14 75 13-10 13-25 13 2 13-41 13 46 14-28 13 73 14-38 14 20 13-4 13-20 13 40 14 57 14-57 13 10 13 2 11 2 13-8 13 5 14 1 13-7 13 6M1449 673l13-12 13 12 13 39 13-36 13 4 14 70 13 10 13-50 13 10 13-24 13 46 14 40 13 31 14-66 14 7 13-10 13 0 13 62 14 49 14-70 13-6 13-3 11 6 13-4 13-10 14-8 13 4 13 8M1449 666l13 7 13 4 13 24 13-29 13-15 14 82 13-17 13-15 13 2 13-38 13 50 14-25 13 82 14-42 14 9 13-5 13-4 13 28 14 67 14-62 13 4 13-4 11-11 13-2 13 3 14 9 13-4 13 3M1449 678l13-12 13 15 13 29 13-43 13-26 14 100 13 5 13-23 13-3 13-43 13 53 14 6 13 59 14-54 14 10 13-12 13 10 13 30 14 55 14-72 13 1 13 6 11 9 13-4 13-4 14-1 13 4 13 16M1449 666l13 7 13 4 13 24 13-29 13-15 14 82 13-17 13-15 13 2 13-38 13 50 14-25 13 82 14-42 14 9 13-5 13-4 13 28 14 67 14-51 13 14 13 0 11-2 13 7 13-10 14 9 13-5 13-5M1449 643l13 21 13 12 13 14 13-22 13-8 14 85 13-6 13-30 13 3 13-35 13 38 14-9 13 55 14-27 14 11 13 1 13-11 13 32 14 53 14-62 13-3 13 7 11 6 13-4 13 5 14-9 13-4 13 8M1449 648l13 11 13 8 13 29 13-34 13-19 14 95 13-10 13-17 13 2 13-37 13 46 14 12 13 62 14-48 14 3 13-3 13 0 13 56 14 37 14-74 13 2 13 0 11-6 13 7 13-5 14 5 13 8 13 1M1449 659l13 3 13 14 13 33 13-51 13 0 14 77 13-5 13-15 13-9 13-35 13 58 14-16 13 57 14-33 14 13 13 5 13-18 13 31 14 52 14-76 13 7 13-3 11 11 13 2 13-8 14 7 13-6 13 1M1449 639l13 17 13 9 13 27 13-29 13-23 14 97 13-14 13-19 13 8 13-39 13 54 14 12 13 58 14-51 14 9 13-10 13-3 13 18 14 65 14-69 13 9 13-4 11 9 13-8 13 4 14 2 13-7 13-6M1449 626l13 19 13 17 13 38 13-35 13-2 14 73 13-5 13-26 13 0 13-44 13 57 14-43 13 96 14-50 14 16 13 9 13-5 13 58 14 35 14-76 13 5 13-2 11 4 13-8 13-4 14 4 13-1 13 2M1449 633l13 8 13 19 13 35 13-40 13-23 14 98 13-14 13-12 13 8 13-56 13 48 14 11 13 23 14-12 14 11 13 6 13-5 13 39 14 55 14-88 13 12 13 0 11-2 13 1 13 3 14-5 13-1 13-8M1449 637l13 14 13 23 13 40 13-44 13-4 14 75 13 2 13-36 13 10 13-48 13 53 14 17 13 59 14-64 14 16 13-1 13 2 13 31 14 50 14-75 13 15 13 0 11-10 13 0 13 7 14-1 13-8 13 7M1449 637l13 12 13 21 13 40 13-51 13-10 14 78 13-15 13-17 13 5 13-33 13 50 14-31 13 91 14-55 14 16 13 0 13-18 13 29 14 60 14-65 13 7 13-4 11 3 13 6 13-8 14 8 13 7 13-4M1449 652l13 19 13 4 13 22 13-27 13-12 14 79 13-26 13-9 13 8 13-29 13 52 14-17 13 69 14-45 14 14 13-21 13 1 13 37 14 49 14-62 13 10 13-7 11-1 13-5 13 7 14 5 13 2 13 3M1449 631l13 23 13 16 13 18 13-26 13-20 14 88 13-9 13-10 13 11 13-47 13 49 14-17 13 66 14-50 14 14 13-13 13 6 13 57 14 42 14-70 13 3 13-3 11-5 13 7 13 2 14-3 13 5 13 1M1449 644l13 3 13 20 13 25 13-36 13-21 14 96 13-21 13-14 13 18 13-41 13 52 14-1 13 53 14-50 14 15 13-18 13-4 13 34 14 50 14-54 13 12 13 4 11-4 13 1 13-1 14-1 13 0 13-1M1449 651l13 17 13 2 13 34 13-29 13-20 14 83 13-14 13-24 13 6 13-36 13 53 14-7 13 51 14-43 14 18 13-14 13-7 13 53 14 75 14-94 13 2 13 1 11 4 13 1 13 6 14-2 13-8 13 8M1449 652l13 17 13 5 13 24 13-22 13-20 14 82 13-20 13-5 13-3 13-32 13 45 14-14 13 82 14-57 14 19 13 10 13-17 13 30 14 66 14-80 13 1 13 0 11 0 13-6 13 4 14-6 13 8 13 5M1449 652l13 18 13 11 13 24 13-35 13-7 14 84 13-16 13-23 13 8 13-38 13 47 14 12 13 49 14-43 14 11 13-8 13-9 13 35 14 71 14-78 13 10 13-7 11 2 13 4 13 3 14 4 13-4 13-1M1449 665l13 5 13 14 13 44 13-42 13-21 14 84 13-16 13-9 13-5 13-31 13 39 14 4 13 64 14-60 14 18 13-9 13-3 13 56 14 48 14-80 13 2 13 0 11-2 13 0 13 11 14 2 13-2 13-2M1449 653l13 5 13 12 13 40 13-42 13 8 14 71 13-6 13-10 13-3 13-48 13 51 14 45 13 23 14-52 14 19 13 6 13-17 13 54 14 40 14-72 13 7 13-12 11 4 13 6 13-6 14-2 13 6 13-4M1449 633l13 8 13 19 13 35 13-40 13-23 14 98 13-14 13-12 13 8 13-56 13 48 14-54 13 117 14-39 14 9 13 6 13-5 13 39 14 55 14-88 13 12 13 0 11-2 13 1 13 3 14-5 13-1 13-8M1449 646l13 13 13 15 13 32 13-33 13 1 14 81 13-2 13-39 13-3 13-28 13 53 14 0 13 46 14-55 14 25 13-4 13-9 13 36 14 47 14-62 13 3 13 1 11 4 13-5 13 6 14-8 13 7 13-5M1449 655l13 2 13 21 13 29 13-46 13-14 14 92 13-19 13-11 13 6 13-43 13 46 14-34 13 89 14-40 14 9 13-21 13 14 13 30 14 60 14-75 13 5 13 2 11-3 13 2 13-2 14 2 13 3 13 1M1449 630l13 17 13 13 13 47 13-45 13-17 14 90 13-5 13-23 13 3 13-36 13 47 14-3 13 62 14-49 14 10 13-4 13 2 13 34 14 59 14-77 13 7 13 6 11-1 13-8 13 3 14 2 13 0 13 0M1449 630l13 8 13 30 13 29 13-41 13-9 14 90 13-25 13-4 13 2 13-44 13 56 14-20 13 73 14-43 14 7 13-8 13 1 13 28 14 59 14-56 13 0 13 5 11 4 13 5 13-10 14-4 13-5 13-1M1449 638l13 7 13 25 13 19 13-29 13-17 14 93 13-13 13-14 13 5 13-52 13 60 14 4 13 46 14-50 14 17 13-14 13-1 13 45 14 48 14-62 13 6 13-4 11-7 13 9 13-1 14 4 13-1 13-1M1449 639l13 0 13 24 13 27 13-31 13-1 14 74 13-25 13-8 13 9 13-40 13 58 14-22 13 70 14-40 14 20 13-25 13 1 13 44 14 52 14-80 13 14 13-5 11 3 13 6 13 6 14-11 13 3 13-3M1449 631l13 23 13 16 13 18 13-26 13-20 14 88 13-9 13-10 13 11 13-47 13 49 14-17 13 66 14-50 14 14 13-13 13 6 13 57 14 42 14-48 13 10 13-7 11 4 13-3 13-2 14 2 13 0 13 0M1449 654l13-4 13 19 13 24 13-28 13-19 14 88 13-19 13-8 13 2 13-37 13 45 14-7 13 58 14-47 14 24 13-16 13 1 13 40 14 53 14-74 13 2 13 8 11-5 13 3 13-6 14 8 13 1 13 6M1449 637l13 22 13 19 13 26 13-36 13-25 14 93 13-6 13-29 13 17 13-39 13 46 14-39 13 87 14-49 14 13 13-14 13-4 13 63 14 41 14-72 13 6 13 4 11 6 13-7 13-4 14 3 13 7 13-3M1449 636l13 11 13 28 13 34 13-27 13-14 14 78 13-7 13-33 13 13 13-43 13 52 14 14 13 33 14-35 14 18 13 4 13-5 13 48 14 57 14-90 13 6 13-4 11-9 13 2 13 1 14-5 13 0 13-3M1449 671l13 2 13 21 13 26 13-55 13 6 14 76 13-3 13-30 13-3 13-44 13 68 14-7 13 51 14-64 14 14 13-23 13 2 13 76 14 73 14-90 13 10 13-11 11 1 13 9 13-6 14 2 13-3 13-1M1449 647l13 7 13 14 13 23 13-33 13-6 14 83 13-18 13-14 13 14 13-42 13 41 14-22 13 56 14-21 14 11 13-5 13-3 13 16 14 75 14-67 13 10 13-1 11-6 13 8 13 2 14-8 13-3 13-2M1449 638l13 7 13 25 13 19 13-30 13-8 14 88 13-9 13-26 13 0 13-37 13 44 14-64 13 105 14-26 14 3 13 4 13-7 13 47 14 32 14-65 13 8 13-4 11 2 13 0 13 5 14-10 13 6 13-5M1449 647l13 5 13 20 13 23 13-36 13-4 14 83 13-16 13-18 13 3 13-39 13 59 14-30 13 62 14-43 14 19 13 2 13-1 13 43 14 57 14-72 13 8 13-8 11-2 13 6 13-1 14 5 13-1 13-5M1449 657l13-8 13 19 13 44 13-48 13-3 14 90 13-3 13-37 13 4 13-26 13 46 14-12 13 51 14-44 14 21 13-3 13 1 13 27 14 53 14-59 13 1 13-5 11-1 13-3 13 2 14-6 13 8 13-2M1449 661l13 0 13 24 13 36 13-45 13-2 14 76 13-18 13-16 13 9 13-32 13 41 14 22 13 28 14-35 14 13 13-11 13-12 13 56 14 52 14-77 13 4 13-1 11-4 13 3 13-6 14 4 13 0 13-3M1449 632l13 16 13 7 13 47 13-37 13-12 14 75 13-10 13-12 13 1 13-41 13 59 14-4 13 54 14-43 14 12 13 2 13-21 13 42 14 57 14-77 13 7 13-5 11 3 13-2 13 0 14 3 13 1 13 5M1449 652l13 11 13 16 13 28 13-34 13 3 14 69 13 0 13-33 13 4 13-45 13 57 14 23 13 34 14-54 14 17 13 3 13 10 13 37 14 45 14-77 13 8 13 3 11 4 13-9 13-2 14-1 13-2 13-1M1449 661l13 3 13 18 13 28 13-31 13-6 14 66 13-6 13-22 13 6 13-48 13 47 14 23 13 45 14-47 14 8 13 2 13-3 13 55 14 37 14-75 13 9 13-1 11-8 13-2 13 5 14 4 13 10 13-14M1449 657l13 6 13 15 13 19 13-36 13-14 14 89 13-21 13-12 13-1 13-35 13 54 14-30 13 80 14-44 14 12 13-1 13 7 13 33 14 33 14-57 13 13 13-6 11 5 13-6 13 6 14 8 13-5 13-7M1449 640l13 16 13 17 13 16 13-28 13-26 14 99 13-28 13-4 13 3 13-48 13 53 14-20 13 78 14-50 14 21 13-14 13-4 13 24 14 75 14-80 13 12 13-3 11 2 13 3 13 1 14-1 13 2 13-8M1449 677l13-14 13 6 13 26 13-35 13 6 14 87 13-14 13-19 13 6 13-35 13 40 14-17 13 69 14-42 14 18 13 2 13 2 13 30 14 41 14-83 13 10 13 5 11 4 13-1 13-1 14 8 13-11 13 7M1449 647l13 8 13 11 13 33 13-32 13 6 14 67 13-19 13-15 13 12 13-38 13 48 14 16 13 53 14-57 14 18 13-8 13 4 13 39 14 67 14-92 13 4 13 4 11 3 13 4 13-10 14-8 13 3 13-3M1449 624l13 27 13 22 13 26 13-41 13-21 14 87 13-20 13-1 13 7 13-46 13 51 14-13 13 74 14-50 14 16 13-20 13 8 13 48 14 52 14-82 13 4 13 8 11-1 13 4 13 5 14-10 13 5 13-6M1449 647l13 3 13 19 13 25 13-29 13-18 14 91 13-14 13-18 13 13 13-37 13 37 14-22 13 70 14-35 14 14 13-12 13-2 13 41 14 56 14-73 13-1 13 3 11 5 13 2 13 3 14 1 13 3 13-1M1449 652l13 3 13 16 13 27 13-44 13-2 14 78 13-13 13-13 13 1 13-25 13 45 14-12 13 74 14-41 14 12 13-18 13 6 13 39 14 40 14-70 13 9 13 6 11-6 13-6 13 6 14 2 13-4 13-1M1449 662l13-4 13 9 13 31 13-38 13 12 14 67 13 7 13-33 13 2 13-42 13 56 14 19 13 38 14-50 14 14 13-4 13 6 13 51 14 25 14-63 13 6 13-3 11-8 13 1 13 2 14 0 13 5 13-5M1449 657l13 1 13 9 13 42 13-36 13-26 14 97 13-22 13-17 13 20 13-46 13 59 14-5 13 48 14-48 14 13 13 1 13 0 13 34 14 52 14-72 13 2 13-4 11 2 13 9 13-2 14 2 13 4 13-7M1449 657l13 4 13 21 13 34 13-28 13-16 14 70 13 12 13-34 13 11 13-29 13 25 14-18 13 82 14-47 14 4 13 11 13-3 13 35 14 63 14-86 13 8 13 1 11 2 13 6 13-5 14-7 13-2 13-6M1449 651l13 6 13 25 13 45 13-51 13-9 14 81 13-25 13-10 13 2 13-44 13 59 14-10 13 73 14-62 14 24 13-13 13 1 13 56 14 66 14-84 13 0 13-6 11 1 13-10 13-1 14-5 13 3 13 2M1449 648l13-2 13 8 13 41 13-46 13-14 14 97 13-23 13-7 13-5 13-42 13 61 14-42 13 101 14-54 14 18 13 1 13-5 13 39 14 43 14-74 13 11 13 0 11 3 13 2 13 7 14 1 13-4 13 3M1449 662l13 1 13 15 13 37 13-44 13-4 14 80 13-25 13-22 13 8 13-30 13 44 14-19 13 88 14-51 14 12 13-12 13 4 13 49 14 34 14-62 13 2 13-2 11-3 13 0 13 1 14-6 13 3 13-4M1449 644l13-1 13 15 13 79 13-87 13-21 14 107 13-28 13-16 13 11 13-52 13 62 14-20 13 82 14-54 14 15 13-9 13-15 13 30 14 77 14-78 13 10 13-1 11 4 13 3 13-1 14-10 13 5 13 1M1449 658l13 8 13 18 13 19 13-31 13-4 14 86 13-13 13-25 13 5 13-44 13 55 14 46 13 23 14-59 14 21 13-12 13-6 13 31 14 55 14-65 13 5 13 3 11 0 13-6 13 2 14-6 13-5 13 1M1449 656l13 18 13 6 13 31 13-37 13-2 14 74 13-9 13-20 13 11 13-40 13 39 14-2 13 59 14-40 14 15 13-3 13-9 13 62 14 30 14-79 13 12 13-4 11 7 13 0 13 7 14 5 13-9 13-7M1449 646l13 5 13 8 13 37 13-38 13 3 14 73 13-15 13-12 13 4 13-38 13 55 14-27 13 79 14-51 14 9 13-8 13-12 13 41 14 75 14-74 13 9 13-7 11 6 13 3 13-7 14 7 13-10 13 1M1449 629l13 20 13 30 13 21 13-35 13-13 14 82 13-28 13-7 13 8 13-46 13 56 14-40 13 89 14-36 14 13 13-7 13-1 13 23 14 63 14-74 13 9 13 3 11 6 13-6 13-7 14-4 13 5 13 0M1449 650l13 20 13 7 13 35 13-34 13-18 14 82 13-18 13-19 13 15 13-37 13 46 14 3 13 46 14-34 14 28 13 0 13-17 13 23 14 60 14-62 13-2 13-9 11 7 13 3 13-3 14 2 13 2 13-1M1449 644l13 12 13 14 13 20 13-32 13-1 14 79 13-10 13-19 13 9 13-45 13 45 14 10 13 59 14-48 14 11 13-6 13-7 13 50 14 47 14-71 13 1 13-3 11-2 13-4 13 6 14 1 13 5 13 4M1449 636l13 15 13 8 13 32 13-34 13-3 14 82 13 1 13-28 13-1 13-39 13 49 14-15 13 62 14-32 14 15 13 0 13-5 13 19 14 62 14-76 13 2 13 6 11 2 13 5 13-2 14-8 13-4 13 1M1449 631l13 10 13 24 13 28 13-40 13 1 14 78 13-5 13-23 13 5 13-37 13 53 14 2 13 36 14-32 14 14 13-1 13-9 13 21 14 69 14-67 13 7 13-6 11 2 13-2 13-3 14-9 13 10 13-3M1449 645l13 4 13 26 13 21 13-44 13-14 14 92 13-14 13-3 13 1 13-40 13 45 14-1 13 67 14-53 14 18 13 2 13-22 13 32 14 45 14-53 13-2 13-1 11 2 13 3 13-2 14 3 13-1 13 5M1449 634l13 24 13 12 13 27 13-29 13-5 14 76 13 9 13-22 13-3 13-31 13 41 14 7 13 50 14-42 14-1 13 11 13-17 13 26 14 75 14-80 13 3 13 6 11-1 13 6 13-6 14-1 13 2 13 2M1449 640l13 4 13 13 13 29 13-35 13-3 14 96 13-28 13-17 13 13 13-43 13 43 14-4 13 71 14-47 14 20 13-21 13-7 13 52 14 50 14-76 13 9 13-8 11-2 13 8 13-8 14 9 13 6 13-3M1449 635l13 25 13 7 13 26 13-18 13-27 14 95 13-20 13-17 13 10 13-26 13 36 14 2 13 57 14-47 14 6 13-5 13-1 13 32 14 59 14-68 13 2 13 2 11 1 13 6 13-5 14-8 13 6 13-3M1449 649l13 8 13 7 13 28 13-21 13-4 14 76 13-24 13-24 13 13 13-31 13 47 14-18 13 67 14-38 14 10 13-19 13 15 13 46 14 38 14-73 13-3 13 9 11 3 13 0 13 1 14 3 13 1 13-9M1449 651l13 10 13 5 13 36 13-41 13-33 14 102 13-8 13-23 13 4 13-49 13 55 14-21 13 84 14-41 14 11 13-15 13-4 13 46 14 48 14-72 13 11 13 5 11-9 13-1 13 4 14 6 13-6 13 1M1449 636l13 22 13 10 13 29 13-36 13 1 14 76 13-23 13-17 13-3 13-28 13 59 14-34 13 68 14-28 14 15 13-4 13-6 13 32 14 56 14-62 13 2 13 1 11-7 13 0 13-9 14 2 13 2 13-12M1449 637l13 11 13 20 13 36 13-26 13-8 14 73 13-6 13-27 13 2 13-33 13 42 14 0 13 48 14-36 14 21 13-1 13-4 13 46 14 64 14-97 13 8 13-8 11-5 13-1 13 5 14 5 13-3 13-3M1449 646l13 9 13 17 13 39 13-44 13-21 14 94 13-8 13-21 13 10 13-32 13 40 14 11 13 40 14-47 14 15 13 4 13-18 13 24 14 61 14-72 13 18 13-5 11 5 13-1 13-9 14-5 13 8 13-2M1449 655l13 10 13 32 13 14 13-34 13-25 14 92 13-4 13-25 13-1 13-25 13 39 14 20 13 39 14-46 14 24 13 6 13-13 13 58 14 48 14-95 13 2 13 2 11 10 13-3 13-4 14 8 13-7 13-7M1449 652l13 13 13 16 13 27 13-41 13-7 14 88 13-12 13-28 13 4 13-28 13 49 14-6 13 67 14-43 14 0 13-1 13-13 13 50 14 64 14-91 13 12 13-1 11-3 13-5 13 4 14-1 13 3 13 8M1449 653l13 3 13 7 13 34 13-42 13-7 14 91 13-6 13-20 13-1 13-43 13 58 14-1 13 55 14-56 14 20 13-3 13-12 13 34 14 70 14-76 13-1 13-2 11 2 13-7 13 5 14 2 13 10 13-8M1449 658l13 1 13 4 13 24 13-42 13-15 14 106 13-3 13-30 13 3 13-50 13 55 14-35 13 81 14-33 14 12 13-6 13-6 13 20 14 67 14-64 13 13 13 4 11-5 13 5 13-1 14-6 13 4 13 5M1449 665l13 3 13 8 13 21 13-42 13-3 14 81 13-19 13-8 13 3 13-41 13 55 14-24 13 85 14-50 14 17 13-23 13-6 13 33 14 62 14-64 13 5 13-2 11 6 13-3 13-4 14 3 13 6 13 2M1449 639l13 6 13 24 13 22 13-39 13-27 14 96 13-20 13 0 13 5 13-37 13 47 14-44 13 87 14-46 14 19 13-16 13-1 13 26 14 83 14-82 13 8 13 6 11-4 13 0 13 8 14-5 13-4 13 9M1449 679l13-23 13 24 13 39 13-42 13-10 14 76 13 4 13-30 13 3 13-25 13 37 14 19 13 27 14-39 14 18 13 3 13-15 13 31 14 38 14-55 13 1 13 10 11-6 13-1 13 5 14-2 13 0 13 3M1449 638l13 16 13 11 13 25 13-42 13-21 14 102 13-13 13-15 13 12 13-43 13 44 14-15 13 62 14-39 14 25 13-16 13-6 13 27 14 52 14-56 13 4 13 5 11-6 13 4 13-3 14 0 13 8 13-8M1449 670l13-6 13 8 13 29 13-26 13-17 14 79 13-14 13-15 13 3 13-37 13 55 14-22 13 69 14-40 14 25 13 0 13-22 13 63 14 39 14-72 13 0 13 7 11-2 13 2 13-2 14 4 13-10 13-4M1449 659l13 5 13 19 13 31 13-38 13-15 14 77 13-16 13-12 13 2 13-36 13 49 14 28 13 32 14-48 14 20 13 7 13-2 13 26 14 50 14-79 13 6 13 7 11 1 13 5 13-4 14 10 13-13 13 4M1449 658l13-4 13 14 13 25 13-33 13-17 14 95 13-12 13-20 13 12 13-36 13 42 14-8 13 54 14-40 14 12 13 8 13-17 13 44 14 59 14-87 13 17 13 1 11-1 13 3 13-4 14-5 13 5 13-1M1449 664l13 4 13 15 13 22 13-33 13-8 14 81 13-4 13-21 13-4 13-43 13 50 14 23 13 35 14-50 14 25 13 2 13 2 13 12 14 50 14-75 13 17 13-4 11 6 13-3 13-2 14 3 13 6 13-6M1449 628l13 19 13 22 13 25 13-31 13-6 14 71 13-21 13-6 13 14 13-52 13 43 14-51 13 95 14-30 14 8 13-14 13 15 13 9 14 60 14-63 13 6 13 0 11 0 13 1 13 4 14 4 13-5 13 1M1449 661l13 10 13 20 13 24 13-45 13-5 14 84 13 4 13-39 13 12 13-41 13 46 14-7 13 65 14-49 14 8 13-5 13 5 13 42 14 40 14-73 13 10 13 9 11-7 13 4 13-3 14-9 13 2 13 1M1449 644l13 19 13 6 13 24 13-30 13-10 14 86 13-6 13-32 13 9 13-34 13 50 14-24 13 84 14-44 14 9 13-2 13-3 13 48 14 50 14-85 13 1 13 2 11 7 13-2 13 7 14-7 13 9 13-7M1449 682l13-7 13 8 13 25 13-32 13-1 14 58 13 6 13-30 13 6 13-37 13 52 14-14 13 70 14-43 14 10 13-3 13 0 13 42 14 44 14-64 13 9 13-11 11 8 13 3 13-7 14-4 13-5 13-3M1449 664l13 12 13-8 13 41 13-34 13-9 14 76 13-22 13-21 13 10 13-35 13 47 14-9 13 58 14-39 14 12 13-12 13 12 13 43 14 48 14-63 13 5 13-1 11-8 13-5 13 2 14 5 13-10 13 12M1449 640l13 18 13 9 13 38 13-36 13-25 14 88 13-17 13-17 13 2 13-42 13 54 14-54 13 115 14-41 14 22 13-16 13-17 13 30 14 70 14-76 13 4 13 0 11-1 13 7 13-5 14-1 13 10 13-9M1449 649l13-1 13 16 13 21 13-35 13-8 14 93 13-24 13-19 13 13 13-39 13 41 14-26 13 79 14-40 14 8 13-13 13 0 13 24 14 59 14-63 13 7 13 5 11-4 13 12 13-12 14 11 13 3 13 6M1449 638l13 8 13 147 13-108 13-37 13-13 14 28 13-6 13 8 13 6 13-21 13 26 14-28 13 235 14-200 14 12 13-25 13 3 13 64 14 78 14-115 13 8 13 2 11 3 13-1 13-2 14 0 13 1 13-1M1449 643l13 4 13 147 13-107 13-38 13-12 14 27 13-8 13 14 13 5 13-24 13 27 14-30 13 239 14-202 14 13 13-30 13 5 13 66 14 77 14-114 13 8 13 4 11-1 13-2 13 0 14 0 13 2 13 1M1449 635l13 10 13 144 13-106 13-36 13-10 14 23 13-5 13 8 13 8 13-24 13 31 14-36 13 242 14-202 14 11 13-24 13 2 13 65 14 79 14-113 13 5 13-2 11 3 13-1 13 1 14-3 13 2 13 1M1449 633l13 9 13 142 13-103 13-35 13-13 14 21 13-4 13 9 13 8 13-19 13 25 14-31 13 241 14-203 14 10 13-25 13 5 13 65 14 77 14-113 13 7 13-4 11 4 13-3 13 1 14 1 13 2 13-7M1449 647l13 2 13 146 13-108 13-37 13-12 14 26 13-4 13 11 13 4 13-24 13 27 14-30 13 240 14-204 14 14 13-29 13 7 13 65 14 74 14-109 13 7 13-3 11 4 13-1 13-1 14 0 13-1 13 4M1449 642l13 6 13 145 13-108 13-39 13-10 14 23 13-5 13 11 13 4 13-21 13 29 14-33 13 243 14-205 14 13 13-26 13 3 13 66 14 77 14-111 13 2 13 3 11 3 13-1 13-4 14 1 13 3 13-6M1449 651l13 2 13 148 13-109 13-39 13-9 14 28 13-7 13 10 13 1 13-22 13 31 14-33 13 240 14-206 14 15 13-25 13 0 13 70 14 77 14-110 13 4 13 1 11 2 13-1 13 1 14 0 13-5 13 1M1449 637l13 9 13 148 13-107 13-40 13-12 14 24 13-6 13 12 13 8 13-24 13 27 14-32 13 243 14-203 14 8 13-25 13 6 13 66 14 75 14-113 13 10 13-5 11 7 13-5 13 2 14 1 13 0 13-4M1449 634l13 11 13 145 13-105 13-36 13-16 14 27 13-7 13 9 13 7 13-23 13 30 14-31 13 238 14-202 14 10 13-27 13 8 13 61 14 80 14-111 13 5 13-1 11 6 13-7 13 2 14 1 13-5 13-1M1449 641l13 12 13 27 13 25 13-44 13-6 14 85 13-6 13-32 13 13 13-46 13 61 14-25 13 109 14-91 14 21 13-6 13-1 13 62 14 46 14-93 13 4 13-6 11 11 13-4 13 5 14 5 13-10 13 5M1449 636l13 20 13 21 13 27 13-47 13 0 14 89 13-18 13-25 13 8 13-46 13 64 14-14 13 100 14-89 14 30 13-17 13-2 13 55 14 55 14-94 13 0 13 11 11-9 13 10 13-12 14 3 13 6 13-13M1449 643l13 9 13 27 13 24 13-42 13-2 14 88 13-17 13-28 13 7 13-43 13 62 14-19 13 110 14-96 14 33 13-13 13-5 13 61 14 48 14-96 13 9 13-3 11 4 13-3 13 5 14 0 13-11 13-1M1449 642l13 12 13 26 13 22 13-42 13-4 14 85 13-10 13-22 13 3 13-38 13 46 14-6 13 102 14-90 14 20 13-4 13 3 13 47 14 56 14-89 13 0 13 4 11-8 13 5 13-7 14 10 13-6 13 0M1449 637l13 16 13 27 13 23 13-46 13-1 14 85 13-9 13-27 13 11 13-50 13 58 14-8 13 97 14-86 14 20 13-9 13 8 13 48 14 51 14-100 13 8 13 3 11 6 13 2 13-15 14 3 13 0 13 6M1449 637l13 17 13 24 13 23 13-42 13-3 14 91 13-17 13-26 13 8 13-44 13 59 14-23 13 109 14-91 14 21 13-9 13 5 13 59 14 45 14-90 13 9 13-3 11-2 13-3 13-7 14 13 13-13 13 1M1449 636l13 14 13 30 13 21 13-42 13-4 14 91 13-14 13-27 13 7 13-46 13 52 14-3 13 103 14-93 14 17 13-3 13 4 13 56 14 45 14-92 13 0 13-5 11 7 13 9 13-9 14-1 13 15 13-21M1449 638l13 7 13 31 13 27 13-48 13-2 14 82 13-19 13-17 13 14 13-44 13 48 14-11 13 107 14-90 14 19 13-2 13-3 13 52 14 56 14-104 13 15 13-13 11 11 13-9 13-1 14 3 13 4 13 0M1449 663l13-1 13 7 13 49 13-43 13-4 14 70 13-5 13-27 13 8 13-30 13 47 14-19 13 68 14-41 14 11 13-9 13 2 13 45 14 38 14-61 13 9 13-7 11 6 13-8 13 12 14-2 13-4 13-6M1449 667l13-5 13 8 13 48 13-38 13-4 14 66 13-10 13-20 13 7 13-32 13 44 14-13 13 75 14-53 14 14 13-6 13 1 13 43 14 41 14-62 13 8 13-3 11-5 13 7 13-4 14 4 13-3 13 5M1449 665l13-9 13 9 13 38 13-30 13 0 14 66 13-2 13-31 13 13 13-39 13 53 14-18 13 71 14-48 14 13 13-7 13 5 13 37 14 43 14-65 13 7 13-2 11 8 13 0 13 0 14-9 13 3 13 4M1449 660l13-2 13 5 13 42 13-35 13 2 14 72 13-16 13-22 13 11 13-36 13 47 14-20 13 70 14-38 14 7 13 1 13-4 13 45 14 34 14-54 13 5 13-2 11 4 13-3 13 1 14-3 13 4 13-1M1449 669l13-4 13 1 13 47 13-37 13-3 14 69 13-11 13-22 13 6 13-25 13 41 14-20 13 74 14-43 14 13 13-10 13 9 13 40 14 38 14-62 13 4 13 8 11-11 13 2 13 1 14-3 13 6 13 1M1449 664l13-6 13 7 13 44 13-32 13-2 14 65 13-5 13-22 13 7 13-38 13 51 14-18 13 74 14-50 14 15 13-6 13-2 13 46 14 39 14-67 13 6 13-1 11 8 13 0 13 2 14-10 13 11 13 0M1449 667l13-8 13 7 13 47 13-33 13-8 14 69 13-2 13-29 13 9 13-31 13 41 14-10 13 68 14-46 14 12 13-4 13 1 13 42 14 35 14-55 13 0 13 7 11 2 13-9 13 4 14-2 13 1 13-5M1449 658l13-6 13 7 13 42 13-35 13 5 14 67 13-10 13-19 13 7 13-37 13 50 14-29 13 71 14-31 14 9 13-10 13 0 13 45 14 38 14-63 13 10 13-6 11 7 13-3 13-6 14 7 13-3 13 0M1449 668l13-11 13 8 13 54 13-40 13-8 14 72 13-6 13-25 13 8 13-37 13 45 14-20 13 76 14-42 14 10 13-6 13-2 13 46 14 36 14-59 13 10 13-5 11-4 13 2 13 0 14 2 13 0 13 4M1449 659l13-1 13 1 13 52 13-37 13-6 14 76 13-15 13-18 13 4 13-37 13 49 14-17 13 70 14-41 14 10 13-1 13-6 13 47 14 34 14-58 13 8 13 0 11-1 13 2 13-8 14-1 13 5 13-1M1449 667l13-9 13 11 13 37 13-35 13 3 14 68 13-7 13-27 13 8 13-32 13 44 14-20 13 78 14-44 14 9 13-1 13-5 13 46 14 38 14-66 13 6 13 0 11 11 13-11 13 3 14 5 13-3 13-9M1449 655l13-4 13 12 13 36 13-26 13-3 14 70 13-9 13-30 13 14 13-38 13 49 14-26 13 79 14-40 14 5 13-3 13 0 13 41 14 37 14-61 13 6 13 7 11-5 13 1 13-2 14-4 13 1 13-3M1449 661l13 2 13 3 13 41 13-33 13-1 14 67 13-5 13-22 13 5 13-32 13 46 14-21 13 77 14-48 14 13 13-3 13-5 13 46 14 45 14-67 13 8 13 1 11 0 13-4 13-1 14-1 13 3 13-1M1449 666l13-6 13 3 13 46 13-39 13 3 14 70 13-11 13-22 13 3 13-27 13 45 14-22 13 77 14-48 14 10 13 0 13-4 13 40 14 50 14-69 13 11 13-8 11 4 13-1 13 3 14-4 13 7 13-1M1449 663l13 0 13 2 13 53 13-48 13 2 14 68 13-5 13-23 13 2 13-29 13 43 14-22 13 76 14-45 14 15 13-7 13 5 13 41 14 39 14-66 13 8 13 5 11-6 13-5 13 1 14 10 13-3 13-1M1449 660l13-4 13 11 13 39 13-36 13-2 14 74 13-7 13-27 13 6 13-27 13 44 14-25 13 76 14-39 14 3 13 1 13-2 13 42 14 46 14-66 13 7 13-3 11-3 13 3 13 1 14 4 13-5 13-7M1449 662l13-6 13 9 13 45 13-36 13-2 14 75 13-18 13-15 13 6 13-37 13 45 14-17 13 77 14-48 14 15 13-6 13-3 13 47 14 40 14-64 13 7 13-8 11 12 13-3 13-9 14 8 13-3 13-3M1449 654l13 2 13 4 13 44 13-36 13-3 14 71 13-10 13-22 13 7 13-35 13 50 14-18 13 63 14-32 14 8 13-3 13-4 13 43 14 46 14-65 13 6 13-6 11 4 13-5 13 0 14-1 13 7 13-1M1449 660l13-4 13 6 13 51 13-38 13-4 14 72 13-7 13-29 13 9 13-30 13 47 14-28 13 83 14-47 14 5 13 4 13-2 13 41 14 44 14-67 13 2 13 9 11-2 13-7 13 5 14 5 13-4 13-9M1449 672l13-2 13 3 13 35 13-28 13 4 14 52 13-6 13-24 13 10 13-34 13 42 14-16 13 44 14-28 14 14 13-19 13 2 13 41 14 34 14-48 13 2 13-2 11 3 13 4 13-2 14-5 13 4 13 6" fill="none" stroke="#bfc0c2" stroke-width="1.15" stroke-linejoin="round"/>
<path d="M1449 635l13 12 13 21 13 38 13-44 13-17 14 92 13-15 13-25 13 13 13-50 13 46 14-19 13 89 14-53 14 12 13 2 13-6 13 24 14 46 14-50 13 15 13-8 11 5 13 1 13-1 14-3 13-4 13 6M1449 635l13 20 13 28 13 13 13-25 13-6 14 71 13-2 13-15 13 2 13-38 13 44 14 1 13 59 14-46 14 4 13-9 13-1 13 45 14 50 14-73 13 8 13-3 11 1 13 3 13 1 14 0 13-6 13-6M1449 674l13-5 13 20 13 19 13-30 13-17 14 85 13-16 13-13 13 1 13-46 13 60 14 13 13 47 14-51 14 12 13-14 13 2 13 41 14 58 14-78 13 7 13 6 11-1 13 4 13 2 14-5 13 5 13-2M1449 668l13-3 13 20 13 23 13-25 13-17 14 75 13 1 13-24 13-1 13-43 13 49 14-18 13 83 14-49 14 10 13-5 13 0 13 46 14 49 14-82 13 3 13 6 11-3 13 3 13-3 14-5 13 2 13-2M1449 659l13 5 13 25 13 32 13-47 13-7 14 72 13-11 13-10 13 6 13-43 13 51 14 9 13 34 14-39 14 16 13-10 13 5 13 63 14 42 14-73 13-12 13-3 11 9 13-6 13 1 14 3 13 5 13-1M1449 664l13-3 13 13 13 25 13-43 13 8 14 82 13-17 13-15 13 7 13-34 13 37 14-8 13 52 14-37 14 16 13-7 13-8 13 64 14 34 14-69 13 8 13-4 11-2 13 2 13-9 14 9 13 11 13-2M1449 655l13 0 13 13 13 29 13-31 13-17 14 81 13-10 13-9 13 11 13-42 13 50 14 8 13 33 14-32 14 10 13 8 13-16 13 34 14 62 14-85 13 12 13 1 11 0 13 3 13-11 14 10 13 1 13-4M1449 645l13 17 13 19 13 36 13-53 13-14 14 82 13-16 13-15 13 11 13-31 13 34 14-53 13 103 14-41 14 10 13-4 13 10 13 28 14 42 14-69 13 9 13 8 11 4 13 5 13-6 14 0 13-1 13-5M1449 631l13 25 13 10 13 32 13-36 13-26 14 94 13-4 13-15 13 6 13-38 13 40 14-42 13 96 14-46 14 23 13-16 13-11 13 56 14 44 14-77 13 17 13 5 11 4 13-5 13 6 14-4 13-7 13 5M1449 640l13-1 13 13 13 31 13-36 13-6 14 86 13-25 13 4 13-3 13-35 13 44 14-11 13 71 14-41 14 15 13-13 13-11 13 46 14 45 14-75 13 16 13-2 11 8 13-6 13-10 14 12 13-9 13 5M1449 639l13 11 13 6 13 39 13-45 13 0 14 84 13-14 13-11 13-5 13-44 13 61 14-42 13 76 14-41 14 18 13 2 13-14 13 49 14 41 14-66 13 9 13-10 11 3 13 8 13 3 14 5 13-9 13 11M1449 654l13 5 13 17 13 25 13-24 13-13 14 79 13-18 13-5 13-1 13-34 13 37 14 22 13 51 14-63 14 17 13-19 13 10 13 37 14 53 14-58 13-6 13 5 11-8 13-4 13-1 14 3 13 0 13 4M1449 649l13 12 13 15 13 36 13-30 13-17 14 77 13-2 13-22 13 19 13-37 13 38 14 11 13 40 14-50 14 25 13 2 13-9 13 65 14 35 14-86 13 5 13 3 11 1 13-3 13-2 14 5 13 3 13 4M1449 627l13 20 13 14 13 33 13-33 13-2 14 76 13-12 13-24 13 8 13-39 13 56 14-14 13 72 14-46 14 11 13-12 13-5 13 20 14 48 14-49 13 3 13 3 11-9 13 5 13-3 14 0 13 6 13-3M1449 628l13 15 13 19 13 38 13-39 13-4 14 78 13-24 13-8 13 1 13-33 13 51 14-17 13 59 14-39 14 8 13 2 13 1 13 53 14 51 14-81 13 6 13 0 11-8 13-4 13-1 14-1 13-9 13 6M1449 657l13 9 13 17 13 32 13-43 13-16 14 73 13-16 13-14 13 15 13-39 13 56 14-21 13 71 14-54 14 19 13-16 13 5 13 38 14 50 14-72 13 13 13 5 11 6 13-4 13-10 14 6 13-8 13 2M1449 654l13-2 13 20 13 27 13-22 13-22 14 82 13-11 13-23 13 12 13-41 13 45 14-18 13 81 14-43 14 13 13-10 13-6 13 49 14 51 14-71 13 7 13-3 11-9 13 2 13 10 14 10 13-11 13 2M1449 661l13 1 13 0 13 43 13-46 13 0 14 77 13-19 13-14 13 8 13-41 13 48 14-47 13 90 14-38 14 22 13-22 13 9 13 18 14 52 14-47 13 6 13-1 11-2 13-7 13 10 14-6 13 1 13 4M1449 649l13 19 13-2 13 32 13-44 13-16 14 98 13-18 13-12 13 4 13-33 13 40 14-36 13 85 14-34 14 13 13-4 13-15 13 40 14 50 14-66 13 8 13-6 11 2 13 2 13 4 14 7 13-4 13 2M1449 672l13-9 13 8 13 25 13-26 13-13 14 85 13-1 13-28 13 16 13-36 13 33 14 0 13 57 14-46 14 18 13 3 13-4 13 40 14 53 14-83 13 6 13 0 11 0 13 3 13-5 14 6 13 4 13-5M1449 642l13 10 13 13 13 23 13-26 13-17 14 87 13-18 13-5 13 9 13-28 13 45 14 14 13 31 14-50 14 13 13-17 13 2 13 56 14 59 14-95 13 11 13-5 11 7 13-1 13 2 14-4 13 1 13 11M1449 646l13 17 13 25 13 25 13-47 13-8 14 73 13 2 13-30 13 13 13-38 13 48 14-8 13 76 14-49 14 25 13-21 13 0 13 25 14 68 14-74 13-5 13 0 11-2 13-3 13 5 14 6 13-3 13 3M1449 641l13 6 13 15 13 24 13-21 13-21 14 93 13 4 13-38 13-1 13-22 13 44 14-12 13 54 14-40 14 29 13-21 13-6 13 38 14 58 14-78 13 5 13-1 11 2 13-5 13 0 14 4 13 4 13 4M1449 640l13 4 13 13 13 37 13-27 13-32 14 98 13-14 13-21 13 9 13-42 13 39 14 0 13 75 14-44 14 17 13-21 13-8 13 26 14 72 14-71 13 6 13 5 11 3 13-10 13 2 14 2 13 0 13 1M1449 655l13 13 13 7 13 47 13-43 13 3 14 64 13-1 13-22 13 6 13-34 13 41 14-11 13 47 14-44 14 18 13-12 13 14 13 42 14 45 14-83 13 8 13 5 11 3 13 11 13-9 14-2 13 5 13 7M1449 642l13 14 13 15 13 40 13-39 13-11 14 84 13-13 13-13 13-1 13-28 13 32 14 10 13 46 14-45 14 15 13 0 13 0 13 40 14 53 14-81 13 10 13 0 11-2 13 2 13 2 14 0 13-2 13 2M1449 686l13 7 13 8 13 0 13-34 13-3 14 73 13-9 13-22 13 16 13-50 13 56 14-27 13 93 14-56 14 23 13-12 13 4 13 31 14 54 14-75 13 4 13 2 11 3 13 4 13-3 14 3 13-3 13 3M1449 672l13-8 13 18 13 18 13-28 13-3 14 76 13 5 13-36 13 9 13-45 13 52 14 27 13 35 14-57 14 21 13-2 13-3 13 57 14 32 14-74 13-3 13 2 11 5 13 2 13-1 14 4 13-4 13-3M1449 643l13 7 13 11 13 44 13-40 13 2 14 76 13-11 13-27 13 6 13-35 13 43 14 19 13 39 14-39 14 30 13-28 13-7 13 37 14 78 14-88 13 4 13 9 11-7 13-5 13-2 14-1 13 2 13-1M1449 643l13 5 13 10 13 29 13-23 13-8 14 82 13-10 13-24 13 5 13-27 13 44 14-18 13 57 14-31 14 13 13 6 13-7 13 45 14 36 14-69 13 7 13 4 11 3 13-8 13 7 14-1 13 0 13 4M1449 657l13 8 13 23 13 30 13-24 13-28 14 76 13-2 13-25 13 9 13-30 13 36 14 15 13 65 14-57 14 11 13-4 13-7 13 36 14 64 14-93 13 11 13-4 11 2 13 4 13 7 14-1 13 2 13 3M1449 650l13 1 13 21 13 21 13-22 13-31 14 91 13-11 13-15 13 2 13-26 13 36 14-25 13 66 14-39 14 15 13-7 13-3 13 50 14 39 14-61 13 7 13 0 11-4 13-6 13 8 14-1 13 2 13 3M1449 649l13 25 13 5 13 30 13-24 13-20 14 83 13 9 13-45 13 2 13-39 13 48 14 13 13 44 14-42 14 15 13 12 13-11 13 41 14 62 14-76 13 8 13 0 11 3 13-5 13-2 14 4 13-8 13 4M1449 633l13 29 13 15 13 25 13-39 13-23 14 96 13-11 13-20 13 11 13-33 13 37 14 14 13 71 14-63 14 7 13-4 13-3 13 42 14 50 14-80 13 5 13-2 11 10 13-6 13-5 14-1 13-1 13 10M1449 622l13 26 13 14 13 22 13-37 13-9 14 85 13-4 13-25 13 4 13-45 13 61 14-32 13 84 14-34 14 19 13-8 13-11 13 34 14 57 14-72 13 1 13 3 11-3 13 0 13-1 14 1 13 5 13-10M1449 687l13-12 13 15 13 34 13-48 13-11 14 77 13-11 13-22 13 14 13-44 13 44 14-15 13 67 14-33 14 18 13-1 13-10 13 41 14 64 14-80 13-1 13 1 11-6 13 5 13-1 14 2 13 8 13-11M1449 662l13-1 13 9 13 27 13-36 13-17 14 93 13-4 13-29 13 13 13-31 13 39 14 9 13 36 14-37 14 14 13 5 13-7 13 42 14 52 14-72 13 2 13-5 11 4 13-4 13 2 14-5 13-1 13-2M1449 645l13 16 13 24 13 22 13-34 13-23 14 85 13-14 13-19 13 9 13-46 13 49 14 10 13 62 14-57 14 25 13-16 13-12 13 42 14 66 14-77 13 3 13-1 11 5 13-8 13 7 14-2 13-4 13 0M1449 653l13 16 13 2 13 21 13-25 13-17 14 83 13-6 13-16 13 0 13-42 13 49 14 27 13 48 14-49 14 9 13-18 13 3 13 25 14 52 14-66 13 9 13-1 11-1 13 9 13 3 14-6 13 8 13-7M1449 637l13 20 13 20 13 18 13-43 13-5 14 79 13-5 13-24 13 14 13-41 13 52 14-35 13 91 14-54 14 18 13-6 13-3 13 36 14 64 14-73 13 2 13 3 11-7 13-2 13 2 14 5 13 2 13-2M1449 644l13 2 13 144 13-105 13-36 13-10 14 20 13 0 13 6 13 8 13-22 13 26 14-31 13 237 14-201 14 11 13-25 13 6 13 61 14 80 14-110 13 5 13 3 11 0 13-6 13 4 14-4 13 2 13 2M1449 636l13 13 13 142 13-105 13-36 13-14 14 26 13-8 13 14 13 4 13-24 13 29 14-30 13 239 14-203 14 9 13-25 13 6 13 62 14 81 14-113 13 3 13 0 11 2 13-2 13 3 14-1 13-1 13 0M1449 660l13-1 13 6 13 45 13-31 13-2 14 65 13-6 13-25 13 6 13-32 13 48 14-25 13 72 14-38 14 12 13-3 13-2 13 42 14 37 14-58 13 1 13 3 11 4 13-4 13 7 14-10 13 3 13-4M1449 655l13 0 13 12 13 47 13-43 13-4 14 71 13-10 13-22 13 9 13-32 13 45 14-25 13 81 14-42 14 6 13-7 13 4 13 41 14 40 14-63 13 11 13 2 11-5 13 4 13-6 14-3 13 3 13 4M1449 669l13-8 13 7 13 49 13-43 13 0 14 67 13-5 13-22 13 7 13-34 13 46 14-17 13 75 14-50 14 13 13-2 13 0 13 36 14 51 14-69 13 7 13-3 11-2 13 10 13-6 14-5 13 12 13-1" fill="none" stroke="#bfc0c2" stroke-width="1.15" stroke-linejoin="round" stroke-dasharray="5 3"/>
<path d="M1448.9 640.7l13 12.7 13.2 26.7 13.1 24.7 13.1-43.4 13.1-6.8 13.2 85.7 13.2-6.3 13.1-31.7 13.2 12.8 13.2-46.4 13.1 61.1 13.2-24.8 13.3 109.5 14.6-91.3 13 20.6 13.1-6.3 13.2-0.3 13.2 61.4 14.4 46.4 13.1-92.7 13.2 4.1 13.1-6.5 11.3 11.1 13.1-4.2 13.2 5.5 13.2 4.7 13.2-10.4 13.2 5.8M1448.9 636.3l13 19.3 13.2 21 13.1 27.6 13.1-47.6 13.1-0.1 13.2 89.1 13.2-17.8 13.1-24.4 13.2 7.5 13.2-45.4 13.1 63.8 13.2-14.1 13.3 100.3 14.6-89.2 13 29.5 13.1-17.2 13.2-1.4 13.2 55.2 14.4 54.6 13.1-94.1 13.2 0.2 13.1 11 11.3-8.7 13.1 9.5 13.2-12.1 13.2 3.3 13.2 6 13.2-12.9M1448.9 641l13 12.4 13.2 27.3 13.1 24 13.1-46.9 13.1-2.7 13.2 82.9 13.2-16.4 13.1-16 13.2 9.2 13.2-44 13.1 53.8 13.2-8.9 13.3 99 14.6-94.7 13 32.3 13.1-11.9 13.2-2.3 13.2 56.5 14.4 50.6 13.1-98.5 13.2 7.9 13.1 3.8 11.3 6.3 13.1-2.2 13.2-4.4 13.2 2.3 13.2-11.2 13.2 9.2M1448.9 643.1l13 8.7 13.2 27.6 13.1 23.9 13.1-42.2 13.1-2.4 13.2 88.2 13.2-16.6 13.1-28.2 13.2 6.5 13.2-42.5 13.1 61.7 13.2-18.8 13.3 110.3 14.6-95.9 13 33 13.1-13.7 13.2-5 13.2 61.3 14.4 47.7 13.1-95.8 13.2 8.8 13.1-3.1 11.3 4.9 13.1-3.8 13.2 5.1 13.2 0.1 13.2-11.3 13.2-0.6M1448.9 642.2l13 11.4 13.2 26.8 13.1 21.6 13.1-42.3 13.1-4 13.2 84.9 13.2-9.3 13.1-21.9 13.2 2.8 13.2-37.8 13.1 45.7 13.2-5.7 13.3 101.6 14.6-90.1 13 20.2 13.1-3.9 13.2 2.8 13.2 47.2 14.4 56 13.1-89.3 13.2 0.2 13.1 3.7 11.3-8.2 13.1 5.1 13.2-6.7 13.2 10 13.2-6.5 13.2 1M1448.9 636.9l13 15.8 13.2 27.3 13.1 23.5 13.1-46.3 13.1-1.2 13.2 84.9 13.2-8.5 13.1-27.6 13.2 10.9 13.2-49.9 13.1 58.3 13.2-8.6 13.3 97.9 14.6-86.4 13 20 13.1-9 13.2 7.6 13.2 48.4 14.4 51 13.1-100 13.2 8 13.1 2.6 11.3 6.7 13.1 1.5 13.2-14.7 13.2 2.4 13.2 0.3 13.2 6.2M1448.9 640.3l13 15 13.2 25.9 13.1 20.2 13.1-41.6 13.1-2.4 13.2 81.1 13.2-18.1 13.1-16.2 13.2 8.2 13.2-42.7 13.1 47.9 13.2-9.9 13.3 107.3 14.6-91.3 13 16.7 13.1-5.9 13.2 0.9 13.2 64.7 14.4 45.1 13.1-91.2 13.2 4.2 13.1-11 11.3 5.7 13.1-6.7 13.2 10.6 13.2 12 13.2-6 13.2-3.1M1448.9 637.3l13 16.9 13.2 24.2 13.1 22.6 13.1-42 13.1-2.9 13.2 90.9 13.2-17.1 13.1-26.1 13.2 8.6 13.2-44.1 13.1 58.3 13.2-22.4 13.3 108.5 14.6-90.6 13 21.2 13.1-8.9 13.2 4.4 13.2 59.2 14.4 45.4 13.1-90.1 13.2 8.7 13.1-3.4 11.3-1.6 13.1-3 13.2-6.7 13.2 12.2 13.2-12.1 13.2 0.9M1448.9 635.8l13 13.8 13.2 30 13.1 21.1 13.1-42.1 13.1-3.3 13.2 91 13.2-14.4 13.1-27 13.2 7 13.2-45.8 13.1 52.1 13.2-2.9 13.3 102.8 14.6-93.5 13 17.5 13.1-2.8 13.2 4.1 13.2 55.7 14.4 45.3 13.1-92.6 13.2 0.6 13.1-5 11.3 6.6 13.1 8.6 13.2-8.6 13.2-1.2 13.2 15.6 13.2-21.1M1448.9 638.1l13 7.1 13.2 31.2 13.1 26.6 13.1-47.6 13.1-2.4 13.2 82.3 13.2-19.7 13.1-16.7 13.2 14.3 13.2-44.6 13.1 48.7 13.2-11.5 13.3 107.5 14.6-90.3 13 19.3 13.1-2.3 13.2-3.4 13.2 52.1 14.4 56.3 13.1-103.7 13.2 14.7 13.1-12.6 11.3 11 13.1-9.6 13.2-1.1 13.2 3 13.2 4.6 13.2-0.7" fill="none" stroke="#3560b8" stroke-width="2.3" stroke-linejoin="round"/>
<text x="1813.4" y="637.8" font-family="'Liberation Serif', serif" font-size="30.8" text-anchor="end" fill="#000">Te Rere</text>
<path d="M1437 969.8H1831M1437 1042.6H1831M1437 1115.4H1831" stroke="#8c8c8c" stroke-width="2.2" fill="none"/>
<path d="M1449 921l13 25 13 18 13 17 13-17 13-24 14 81 13-9 13-13 13 7 13-35 13 47 14-11 13 55 14-44 14 9 13-7 13-6 13 40 14 71 14-74 13 7 13 5 11-3 13-3 13-6 14-3 13-1 13 5M1449 957l13 6 13 5 13 24 13-30 13-14 14 83 13-17 13-16 13 2 13-38 13 50 14-25 13 82 14-42 14 9 13-4 13-4 13 27 14 68 14-39 13 8 13 10 11-6 13-12 13 11 14-4 13 10 13-6M1449 928l13 11 13 22 13 36 13-36 13-3 14 76 13-30 13-9 13 10 13-38 13 39 14 0 13 49 14-36 14 19 13-23 13 1 13 38 14 65 14-82 13 12 13-5 11 10 13 0 13-5 14-2 13 4 13-4M1449 937l13 24 13 22 13 20 13-35 13-8 14 72 13 1 13-28 13 6 13-42 13 55 14-1 13 42 14-44 14 14 13-10 13 0 13 51 14 46 14-63 13-2 13-6 11-6 13 14 13-3 14 4 13 2 13 0M1449 936l13 4 13 12 13 38 13-24 13-5 14 62 13-20 13-7 13-2 13-25 13 45 14-16 13 57 14-29 14 13 13-10 13 10 13 44 14 41 14-83 13 9 13-9 11 0 13-2 13 2 14-2 13 3 13-2M1449 946l13 10 13 12 13 32 13-36 13 6 14 69 13-8 13-32 13 21 13-37 13 42 14 2 13 74 14-59 14 14 13 1 13-13 13 59 14 47 14-89 13-2 13 4 11-3 13 1 13 2 14-6 13 3 13 0M1449 953l13 7 13 9 13 26 13-24 13 0 14 70 13-1 13-34 13 7 13-24 13 42 14 10 13 49 14-54 14 16 13-3 13-19 13 58 14 46 14-73 13 4 13-7 11 5 13-6 13-6 14 3 13 7 13-4M1449 936l13 14 13 6 13 33 13-37 13-3 14 87 13-16 13-17 13 14 13-46 13 45 14 5 13 60 14-55 14 21 13-13 13 9 13 34 14 57 14-79 13 12 13-1 11-9 13 9 13-2 14-1 13-3 13 1M1449 930l13 10 13 18 13 32 13-27 13-23 14 86 13-21 13-8 13 7 13-47 13 47 14-17 13 75 14-40 14 9 13-4 13 5 13 26 14 53 14-68 13 1 13 6 11 1 13 1 13 5 14 3 13 0 13-12M1449 972l13-19 13 25 13 18 13-33 13-1 14 75 13-7 13-25 13 6 13-40 13 42 14 17 13 50 14-53 14 15 13-7 13-7 13 51 14 57 14-84 13-1 13 6 11-5 13 7 13 2 14-5 13-1 13 9M1449 946l13 1 13 26 13 36 13-34 13-27 14 90 13-6 13-34 13 3 13-23 13 41 14 2 13 51 14-38 14 14 13 4 13 3 13 38 14 61 14-88 13 12 13 0 11 3 13-13 13 1 14 3 13-5 13 6M1449 944l13-2 13 8 13 24 13-27 13-3 14 87 13-29 13-15 13 9 13-45 13 58 14-29 13 81 14-34 14 11 13-9 13-13 13 40 14 46 14-75 13 14 13 3 11-5 13 4 13 5 14 5 13-10 13 1M1449 926l13 12 13 25 13 31 13-20 13-14 14 69 13-4 13-26 13 6 13-28 13 38 14 13 13 41 14-39 14 20 13-13 13-3 13 54 14 47 14-74 13 1 13 0 11-9 13 10 13-1 14-8 13 2 13-3M1449 924l13 20 13 16 13 26 13-37 13-12 14 91 13-19 13-15 13 2 13-30 13 53 14-24 13 74 14-49 14 15 13-2 13 5 13 17 14 85 14-97 13 2 13 5 11 7 13-7 13 0 14 6 13 3 13 0M1449 932l13 9 13 16 13 30 13-33 13-4 14 82 13-11 13-22 13 4 13-44 13 45 14-22 13 79 14-44 14 20 13-8 13-9 13 41 14 39 14-54 13-1 13-1 11 0 13 1 13-5 14 5 13 0 13 4M1449 939l13 10 13 7 13 43 13-29 13-8 14 73 13-18 13-12 13 4 13-45 13 55 14 30 13 37 14-80 14 15 13-22 13 1 13 73 14 73 14-74 13-1 13 3 11-4 13-5 13-3 14 8 13 6 13-5M1449 939l13 12 13 11 13 27 13-30 13-12 14 85 13-10 13-17 13 2 13-24 13 40 14 20 13 42 14-42 14 6 13-13 13-4 13 53 14 39 14-56 13-6 13 2 11 2 13-1 13-1 14 6 13 5 13-10M1449 961l13 8 13 4 13 18 13-39 13-2 14 88 13-8 13-18 13 14 13-50 13 46 14 24 13 49 14-61 14 10 13 19 13-23 13 64 14 33 14-83 13 10 13-1 11-1 13-4 13-3 14 9 13 0 13 2M1449 922l13 18 13 11 13 22 13-24 13-9 14 92 13-10 13-29 13 3 13-50 13 63 14-7 13 43 14-34 14 24 13-8 13-8 13 26 14 62 14-57 13-6 13-3 11 6 13-6 13 7 14 3 13 2 13 6M1449 925l13 23 13 16 13 26 13-47 13-24 14 96 13-17 13-12 13 17 13-37 13 50 14-25 13 75 14-42 14 16 13-6 13-18 13 54 14 59 14-91 13 5 13 2 11-1 13 6 13-3 14-6 13 2 13 7M1449 956l13 21 13-11 13 49 13-37 13-15 14 85 13-23 13-9 13-7 13-43 13 50 14-11 13 66 14-44 14 9 13-8 13 1 13 43 14 48 14-73 13 7 13 8 11-6 13-1 13 4 14 0 13 7 13-10M1449 933l13 16 13 8 13 32 13-35 13 2 14 70 13-14 13-16 13 0 13-34 13 43 14-5 13 74 14-42 14 18 13-3 13-13 13 29 14 83 14-97 13 9 13 3 11-6 13-2 13-4 14 5 13 3 13-2M1449 925l13 8 13 25 13 22 13-37 13-15 14 89 13-7 13-11 13-1 13-36 13 45 14-37 13 104 14-57 14 13 13-6 13 5 13 23 14 52 14-78 13 11 13 5 11 1 13 6 13 2 14-2 13 4 13 1M1449 949l13 22 13 6 13 27 13-53 13-4 14 88 13-12 13-23 13 8 13-31 13 49 14 19 13 34 14-50 14 9 13 13 13-19 13 52 14 41 14-76 13 9 13-5 11 0 13 1 13 6 14 1 13-2 13 6M1449 937l13 13 13 21 13 26 13-27 13-11 14 73 13-16 13-14 13 1 13-33 13 51 14-9 13 67 14-43 14 11 13 7 13-2 13 34 14 40 14-67 13 2 13 4 11-1 13-1 13-5 14 1 13-1 13-11M1449 936l13 8 13 6 13 44 13-40 13-9 14 83 13-16 13-14 13 6 13-32 13 43 14-26 13 90 14-56 14 16 13 6 13 0 13 41 14 56 14-75 13 2 13 2 11-9 13 8 13-5 14-5 13 10 13-2M1449 939l13 5 13 13 13 28 13-37 13-21 14 99 13-19 13-9 13 1 13-40 13 42 14 7 13 51 14-34 14 11 13-4 13 5 13 30 14 67 14-83 13 13 13-11 11 5 13 3 13-9 14-3 13-4 13 0M1449 935l13 11 13 20 13 32 13-34 13-20 14 86 13-18 13-14 13 10 13-55 13 54 14-21 13 67 14-38 14 18 13 4 13-7 13 45 14 62 14-95 13 6 13 2 11 6 13 0 13-7 14 8 13-12 13-8M1449 946l13 15 13 9 13 24 13-22 13-16 14 85 13-18 13-26 13 5 13-38 13 47 14 7 13 59 14-55 14 9 13 7 13 1 13 25 14 50 14-69 13 3 13 0 11-3 13 7 13 1 14-1 13 3 13 0M1449 911l13 26 13 17 13 25 13-27 13-19 14 96 13-22 13-10 13 5 13-38 13 41 14-29 13 76 14-34 14 22 13-23 13-2 13 23 14 54 14-59 13 15 13-4 11 6 13-3 13 1 14 0 13-13 13 0M1449 938l13-1 13 1 13 32 13-26 13-5 14 84 13-17 13-28 13 6 13-46 13 65 14-47 13 106 14-46 14 24 13-8 13-7 13 45 14 50 14-84 13 14 13 3 11 0 13-7 13-2 14-4 13-7 13 5M1449 932l13-4 13 27 13 21 13-29 13-8 14 85 13-7 13-25 13 12 13-54 13 51 14-18 13 91 14-43 14-1 13-3 13-5 13 32 14 68 14-74 13 3 13 4 11-3 13-8 13 4 14 4 13-2 13-1M1449 950l13-3 13 15 13 26 13-47 13-16 14 88 13-24 13 5 13 13 13-50 13 47 14-4 13 64 14-44 14 16 13-5 13-6 13 49 14 60 14-89 13 8 13-5 11 1 13-10 13 5 14-10 13 13 13-6M1449 945l13 6 13 11 13 44 13-35 13-20 14 82 13-17 13-15 13 11 13-50 13 81 14 51 13-22 14-34 14 6 13-2 13-2 13 35 14 56 14-67 13 11 13-8 11 11 13 0 13-8 14-3 13 0 13-1M1449 966l13-8 13 5 13 39 13-42 13-14 14 78 13-24 13-2 13 4 13-41 13 55 14-26 13 94 14-57 14 20 13-3 13-14 13 37 14 71 14-91 13 15 13-8 11-3 13 4 13 1 14-6 13 12 13 1M1449 951l13 18 13 6 13 26 13-42 13-1 14 84 13-21 13-19 13 13 13-39 13 44 14-4 13 53 14-47 14 16 13-15 13 13 13 35 14 56 14-109 13 2 13 5 11-6 13 12 13-5 14-6 13-4 13 9M1449 941l13 9 13 0 13 39 13-32 13-6 14 71 13-14 13-22 13 7 13-35 13 48 14-35 13 87 14-38 14 22 13-16 13-2 13 37 14 45 14-71 13 18 13-10 11 4 13 5 13 2 14 0 13-2 13-10M1449 941l13-5 13 22 13 34 13-44 13-4 14 86 13-30 13-5 13-6 13-37 13 50 14-18 13 86 14-49 14 10 13-4 13 1 13 44 14 55 14-79 13 7 13-2 11 5 13 1 13 1 14 1 13 0 13-8M1449 937l13 0 13 21 13 38 13-41 13 1 14 80 13-20 13-12 13-2 13-39 13 50 14 8 13 47 14-41 14 11 13-12 13 7 13 32 14 58 14-69 13 7 13-1 11-6 13-1 13 5 14-8 13 0 13-4M1449 945l13 6 13 7 13 26 13-38 13-19 14 89 13-15 13-14 13 0 13-30 13 56 14-9 13 53 14-36 14 11 13-6 13-10 13 36 14 50 14-73 13 10 13 0 11 5 13 7 13-5 14-5 13 0 13 1M1449 929l13 6 13 24 13 19 13-38 13-25 14 109 13-16 13-18 13 4 13-39 13 55 14-28 13 81 14-38 14 15 13-16 13-3 13 30 14 52 14-53 13-3 13-3 11-8 13-2 13 4 14 7 13-11 13 11M1449 923l13 13 13 23 13 24 13-30 13-13 14 94 13-26 13-14 13 6 13-32 13 41 14-3 13 68 14-45 14 14 13-15 13-6 13 36 14 61 14-79 13 9 13 2 11-2 13 2 13-2 14 3 13 1 13 0M1449 908l13 29 13 21 13 31 13-34 13-10 14 85 13-19 13-23 13 12 13-38 13 52 14-11 13 54 14-40 14 10 13-7 13 3 13 21 14 55 14-72 13 16 13 5 11-1 13-5 13 0 14-6 13 2 13-4M1449 937l13 11 13-6 13 42 13-25 13-22 14 88 13-15 13-12 13 6 13-30 13 41 14-17 13 71 14-48 14 8 13-10 13 8 13 27 14 62 14-70 13 8 13-3 11 2 13-4 13 4 14-4 13 5 13-2M1449 933l13 14 13 13 13 30 13-36 13-19 14 98 13-12 13-20 13-3 13-42 13 53 14-7 13 58 14-44 14 22 13-11 13-9 13 46 14 69 14-88 13 12 13-2 11 0 13-9 13 5 14 9 13-4 13-5M1449 944l13 15 13 5 13 41 13-33 13-3 14 80 13-6 13-24 13-1 13-33 13 35 14 5 13 58 14-51 14 10 13-6 13 3 13 44 14 59 14-87 13 2 13 4 11-3 13 4 13 9 14-7 13-8 13 8M1449 945l13 6 13 10 13 36 13-28 13-16 14 86 13-26 13-11 13 12 13-41 13 47 14 10 13 63 14-65 14 18 13-11 13-8 13 40 14 53 14-84 13 13 13 0 11 5 13 5 13 2 14 4 13 1 13-6M1449 943l13 3 13 20 13 23 13-20 13-4 14 79 13-11 13-28 13 8 13-23 13 33 14 42 13 19 14-47 14 16 13 9 13-13 13 36 14 62 14-71 13 3 13-7 11 4 13-2 13 7 14 2 13 0 13-5M1449 934l13 9 13 20 13 33 13-40 13-9 14 76 13-16 13-16 13 0 13-31 13 53 14 12 13 64 14-56 14 16 13-19 13-1 13 29 14 57 14-67 13 9 13-5 11 8 13 0 13-3 14 3 13-11 13 4M1449 935l13 5 13 26 13 26 13-39 13-1 14 83 13-14 13-9 13-6 13-34 13 41 14-24 13 75 14-36 14 13 13-12 13 5 13 43 14 54 14-81 13 11 13-11 11 6 13 1 13 10 14-2 13 1 13-6M1449 929l13 19 13 1 13 40 13-34 13-23 14 93 13-24 13-8 13 14 13-41 13 42 14-21 13 68 14-38 14 6 13 6 13-2 13 39 14 50 14-71 13 4 13 1 11-4 13-6 13 7 14 0 13-6 13 1M1449 963l13-7 13 20 13 28 13-33 13-18 14 90 13-16 13-18 13-1 13-38 13 45 14-18 13 84 14-46 14 16 13 2 13 0 13 29 14 73 14-85 13-1 13-5 11-5 13 3 13 6 14-6 13 1 13-2M1449 918l13 30 13 19 13 24 13-30 13-26 14 88 13-10 13-22 13 15 13-46 13 43 14-18 13 66 14-30 14 22 13-9 13-7 13 32 14 64 14-78 13 2 13 5 11-6 13-5 13-3 14 14 13 4 13 2M1449 917l13 22 13 27 13 16 13-27 13-2 14 78 13-16 13-15 13-4 13-40 13 48 14-35 13 80 14-31 14 16 13-9 13 1 13 20 14 58 14-62 13 13 13-8 11 1 13 3 13 10 14 2 13 0 13-1M1449 946l13-2 13 13 13 32 13-42 13-3 14 79 13-9 13-22 13 8 13-38 13 43 14-47 13 103 14-42 14 18 13-12 13 4 13 33 14 48 14-78 13 5 13 10 11 3 13 4 13-3 14-4 13-2 13 1M1449 931l13 0 13 22 13 28 13-31 13-19 14 90 13-23 13-9 13 7 13-42 13 52 14-62 13 118 14-50 14 7 13-16 13 4 13 31 14 53 14-61 13 6 13 1 11-4 13 2 13 4 14 6 13 3 13 9M1449 920l13 19 13 13 13 25 13-29 13-24 14 96 13 2 13-25 13-2 13-32 13 40 14-22 13 82 14-40 14 10 13-9 13 5 13 41 14 53 14-79 13 7 13-6 11 2 13-2 13 7 14 6 13-12 13-1M1449 943l13 2 13 22 13 24 13-26 13 3 14 83 13-21 13-23 13-1 13-47 13 61 14 13 13 47 14-51 14 9 13-5 13 4 13 38 14 62 14-81 13 12 13-2 11-5 13 1 13-1 14-1 13-4 13 7M1449 938l13 9 13 10 13 26 13-37 13-1 14 83 13-23 13-6 13 4 13-35 13 53 14-5 13 60 14-56 14 20 13-6 13-3 13 29 14 50 14-70 13 7 13 6 11-3 13 8 13-6 14-1 13 4 13-2M1449 947l13 21 13 7 13 32 13-27 13-20 14 74 13 3 13-35 13 7 13-17 13 23 14 7 13 66 14-47 14 11 13 8 13-8 13 39 14 60 14-91 13 9 13 3 11 2 13 2 13-1 14-6 13-3 13-6M1449 933l13 24 13 15 13 21 13-42 13 1 14 81 13-14 13-14 13 10 13-41 13 39 14-14 13 82 14-60 14 16 13 3 13-1 13 42 14 57 14-83 13 9 13-4 11-5 13 2 13-4 14-2 13-2 13-5M1449 967l13 1 13 1 13 22 13-19 13-23 14 88 13-18 13-13 13 5 13-24 13 38 14 27 13 43 14-56 14 13 13 2 13-11 13 28 14 62 14-85 13 4 13 8 11-1 13 4 13 3 14 2 13 9 13-6M1449 943l13-1 13 16 13 22 13-27 13-3 14 75 13-5 13-24 13-2 13-49 13 62 14-3 13 66 14-48 14 18 13-2 13-6 13 48 14 47 14-73 13 5 13 1 11-4 13-6 13 0 14-6 13 7 13-7M1449 927l13 23 13 14 13 29 13-37 13-3 14 79 13-15 13-12 13 13 13-30 13 35 14-9 13 53 14-30 14 14 13 1 13-2 13 60 14 26 14-72 13 0 13 3 11-9 13 2 13 2 14 3 13 1 13-3M1449 933l13 12 13 17 13 35 13-51 13-24 14 102 13-8 13-18 13 0 13-33 13 46 14-5 13 53 14-33 14 6 13-11 13-3 13 45 14 55 14-80 13 7 13-2 11 3 13 3 13 1 14-1 13-6 13 7M1449 964l13 6 13 21 13 25 13-50 13-2 14 77 13-14 13-14 13-4 13-37 13 44 14 1 13 61 14-52 14 22 13-10 13-7 13 38 14 71 14-75 13 9 13 2 11-10 13 6 13-8 14-2 13-1 13-3M1449 951l13 2 13 10 13 29 13-19 13-21 14 84 13-18 13-12 13 6 13-45 13 45 14-20 13 77 14-46 14 13 13-6 13 11 13 43 14 72 14-82 13 9 13-6 11-5 13-6 13 3 14 0 13-4 13-9M1449 945l13 6 13 11 13 44 13-35 13-20 14 82 13-17 13-15 13 11 13-50 13 61 14 15 13 48 14-48 14 6 13-2 13-2 13 35 14 56 14-67 13 11 13-8 11 11 13 0 13-8 14-3 13 0 13-1M1449 948l13-3 13 19 13 35 13-31 13-21 14 82 13-15 13-17 13 2 13-43 13 63 14 7 13 42 14-37 14 21 13 7 13-3 13 36 14 40 14-79 13 2 13 0 11 1 13-2 13 5 14 9 13-7 13-4M1449 933l13 6 13 16 13 23 13-39 13-6 14 84 13-7 13-14 13 5 13-35 13 47 14-32 13 96 14-57 14 19 13-9 13-6 13 40 14 53 14-71 13 0 13-4 11-4 13 4 13 3 14 4 13-2 13 0M1449 936l13 22 13-1 13 38 13-34 13-6 14 80 13-4 13-30 13 8 13-33 13 44 14-21 13 71 14-36 14 18 13-9 13 2 13 30 14 41 14-61 13 8 13 0 11 5 13 7 13 4 14-10 13-2 13-2M1449 944l13 8 13 15 13 15 13-34 13 2 14 71 13-6 13-8 13-2 13-31 13 37 14-24 13 75 14-38 14 19 13-12 13-12 13 30 14 63 14-76 13 15 13 0 11 4 13 0 13 0 14-1 13 0 13-4M1449 912l13 28 13 22 13 25 13-32 13-5 14 85 13-12 13-15 13-5 13-38 13 50 14 3 13 50 14-39 14 11 13-12 13 3 13 32 14 59 14-66 13 10 13-9 11 3 13 3 13-6 14 4 13 1 13 0M1449 942l13 0 13 22 13 27 13-33 13-7 14 74 13-7 13-9 13-1 13-42 13 52 14-4 13 82 14-58 14 16 13-6 13-17 13 35 14 54 14-69 13 19 13-5 11 4 13 5 13 2 14-4 13-1 13-6M1449 939l13 7 13 6 13 40 13-32 13-22 14 82 13-29 13-3 13 6 13-51 13 48 14-30 13 80 14-31 14 25 13-18 13 13 13 33 14 51 14-79 13 11 13-4 11-4 13 5 13 0 14-1 13 1 13 0M1449 923l13 20 13 22 13 34 13-39 13-9 14 77 13-9 13-16 13-2 13-38 13 55 14-21 13 63 14-44 14 12 13-11 13 8 13 21 14 70 14-69 13 6 13 1 11-2 13 8 13-4 14 1 13-3 13-3M1449 945l13 3 13 11 13 39 13-40 13-16 14 90 13-12 13-24 13 13 13-31 13 43 14-11 13 49 14-42 14 15 13 2 13-15 13 36 14 72 14-75 13 0 13-3 11-7 13 10 13-5 14 0 13 12 13-6M1449 949l13 4 13 8 13 32 13-33 13-27 14 86 13-19 13-8 13 5 13-31 13 41 14 2 13 55 14-46 14 23 13-7 13-13 13 29 14 60 14-65 13 1 13 1 11 3 13-2 13-3 14-2 13-1 13-4M1449 942l13 11 13 12 13 32 13-34 13-17 14 81 13-16 13-20 13 7 13-26 13 31 14-19 13 74 14-36 14 2 13-6 13 9 13 45 14 56 14-63 13 3 13-2 11-8 13 4 13 0 14 5 13 6 13-5M1449 971l13-8 13 13 13 32 13-44 13 12 14 58 13 7 13-28 13-8 13-27 13 55 14 15 13 29 14-45 14 18 13-4 13-9 13 46 14 52 14-82 13 3 13 2 11 2 13-1 13 5 14-2 13 4 13-4M1449 984l13 5 13 8 13 21 13-51 13-10 14 82 13-25 13-10 13 3 13-45 13 59 14-9 13 73 14-63 14 25 13-14 13 1 13 57 14 66 14-84 13 0 13-7 11 1 13-9 13-1 14-6 13 3 13 2M1449 954l13-4 13 19 13 13 13-29 13-5 14 78 13-21 13-9 13 9 13-38 13 44 14-37 13 92 14-38 14 20 13-11 13-17 13 38 14 50 14-60 13 3 13-3 11 8 13 4 13-1 14-3 13 0 13-7M1449 945l13-5 13 21 13 36 13-35 13-6 14 81 13-2 13-35 13 5 13-33 13 42 14-4 13 51 14-37 14 12 13 0 13-6 13 33 14 59 14-79 13 3 13 4 11 0 13-1 13 7 14-3 13 0 13 0M1449 945l13 3 13 17 13 22 13-27 13-7 14 79 13-20 13-15 13 14 13-41 13 56 14 35 13 17 14-43 14 22 13 4 13-25 13 38 14 62 14-80 13 4 13 3 11 7 13-8 13 5 14 1 13-3 13 10M1449 910l13 15 13 24 13 22 13-37 13-7 14 90 13-4 13-19 13 0 13-38 13 48 14-23 13 61 14-23 14 8 13-14 13 7 13 51 14 42 14-66 13 6 13-1 11-2 13-7 13 9 14-6 13 0 13 4M1449 934l13 14 13 11 13 33 13-33 13-10 14 78 13-5 13-27 13 7 13-43 13 56 14 5 13 46 14-36 14 18 13-1 13-12 13 51 14 45 14-89 13 13 13-1 11 7 13 2 13-4 14-4 13 7 13-3M1449 924l13 19 13 20 13 20 13-38 13-1 14 87 13-15 13-14 13 6 13-41 13 41 14 14 13 45 14-42 14 11 13 4 13-18 13 49 14 50 14-76 13 0 13-1 11-3 13 6 13 7 14-3 13 0 13-2M1449 966l13-10 13 12 13 42 13-29 13-32 14 86 13-17 13-13 13 5 13-39 13 49 14 37 13 31 14-54 14 15 13-13 13 6 13 50 14 47 14-71 13 1 13 5 11-5 13-3 13 7 14-8 13 5 13-3M1449 919l13 20 13 17 13 38 13-32 13-18 14 83 13-15 13-21 13 8 13-46 13 66 14-28 13 72 14-40 14 13 13-3 13 5 13 19 14 62 14-82 13 13 13 1 11 0 13 10 13-4 14 1 13-5 13 6M1449 950l13-4 13 14 13 41 13-47 13-18 14 88 13-8 13-23 13-3 13-34 13 58 14-12 13 74 14-48 14 16 13-21 13-6 13 42 14 53 14-62 13 1 13-3 11-1 13 1 13 4 14-7 13 4 13 7M1449 931l13 25 13 0 13 41 13-33 13-11 14 72 13-22 13-9 13-1 13-44 13 50 14-5 13 76 14-41 14 15 13-3 13-2 13 31 14 50 14-62 13 9 13 1 11-4 13-7 13-2 14 2 13-5 13 1M1449 975l13-13 13 20 13 24 13-44 13-6 14 78 13-17 13-11 13-2 13-38 13 60 14 24 13 29 14-40 14 8 13-15 13-3 13 33 14 68 14-82 13 8 13 5 11-4 13 2 13 7 14-2 13 8 13-2M1449 956l13 6 13 6 13 42 13-22 13-10 14 63 13 6 13-35 13-1 13-33 13 39 14 15 13 60 14-60 14 9 13-3 13-11 13 67 14 38 14-71 13-1 13 12 11-10 13 1 13-3 14 4 13 0 13 5M1449 936l13 9 13 15 13 32 13-36 13-10 14 76 13-9 13-22 13 6 13-42 13 48 14-15 13 82 14-44 14 16 13 2 13-18 13 35 14 60 14-80 13 2 13 2 11-4 13-4 13 13 14-12 13 1 13 7M1449 934l13 21 13 10 13 37 13-35 13-20 14 92 13-19 13-15 13 9 13-45 13 48 14-5 13 58 14-34 14 8 13 5 13-17 13 68 14 50 14-84 13 6 13-2 11-5 13-5 13 6 14 1 13-11 13 9M1449 933l13 10 13 28 13 30 13-40 13-15 14 82 13-19 13-20 13 8 13-33 13 50 14 0 13 59 14-53 14 13 13 5 13-14 13 45 14 44 14-53 13-3 13 2 11 3 13 2 13-1 14 0 13-8 13-4M1449 954l13-9 13 17 13 23 13-32 13-1 14 74 13-10 13-25 13-1 13-36 13 47 14-6 13 85 14-54 14 15 13-11 13-7 13 25 14 57 14-70 13 3 13-3 11 10 13 13 13-5 14-3 13-1 13 6M1449 951l13 6 13 26 13 34 13-34 13-31 14 74 13 3 13-23 13 12 13-29 13 32 14 5 13 48 14-51 14 25 13-6 13-9 13 33 14 66 14-74 13 2 13 4 11-1 13-1 13-2 14 3 13 2 13-6M1449 932l13 13 13 14 13 28 13-41 13 8 14 77 13 3 13-24 13 10 13-57 13 51 14 4 13 51 14-52 14 25 13-1 13-12 13 49 14 59 14-80 13 9 13 1 11-6 13-2 13 9 14-6 13-1 13-9M1449 941l13 23 13 12 13 28 13-29 13-22 14 75 13 0 13-21 13-1 13-27 13 41 14 25 13 38 14-48 14 12 13 1 13 0 13 35 14 58 14-85 13 5 13 1 11-5 13 3 13 5 14 8 13-12 13 4M1449 950l13 3 13 19 13 39 13-39 13-18 14 88 13-15 13-13 13-2 13-39 13 43 14-3 13 56 14-41 14 13 13-5 13 5 13 38 14 63 14-83 13 11 13-2 11-7 13-1 13-4 14 8 13 3 13 7M1449 912l13 23 13 11 13 42 13-46 13-25 14 105 13-18 13-15 13 2 13-36 13 58 14-17 13 73 14-39 14 5 13-5 13-1 13 43 14 49 14-76 13 7 13 3 11 5 13 0 13-8 14-9 13-2 13 5M1449 946l13 9 13 12 13 29 13-35 13-16 14 79 13-17 13-15 13 3 13-47 13 52 14-34 13 96 14-37 14 17 13-23 13 10 13 21 14 58 14-58 13 2 13 0 11-14 13 4 13-5 14 1 13 10 13 0M1449 953l13 20 13 4 13 44 13-56 13-8 14 71 13-23 13-12 13 7 13-43 13 59 14-16 13 65 14-41 14 14 13 1 13-2 13 56 14 26 14-68 13 10 13-7 11 0 13-2 13-4 14 0 13 1 13 5M1449 941l13 16 13 11 13 40 13-40 13-17 14 85 13-16 13-21 13 6 13-39 13 44 14 5 13 51 14-41 14 25 13 3 13-27 13 29 14 75 14-68 13 4 13-3 11-4 13 5 13-5 14 4 13-3 13 8M1449 932l13 5 13 30 13 26 13-34 13-4 14 77 13-16 13-14 13 9 13-44 13 43 14 9 13 62 14-47 14 3 13-11 13-2 13 50 14 68 14-96 13 1 13 11 11-1 13 2 13 6 14-7 13 3 13 7M1449 948l13-7 13 6 13 48 13-47 13-6 14 83 13-20 13-6 13 4 13-46 13 55 14-43 13 86 14-42 14 17 13 8 13-13 13 40 14 75 14-87 13 12 13 0 11-5 13-6 13 7 14-4 13-3 13 4M1449 948l13 2 13 13 13 31 13-39 13 0 14 81 13-8 13-28 13 10 13-29 13 39 14-6 13 54 14-44 14 26 13-9 13-7 13 36 14 62 14-67 13 5 13-5 11-7 13 0 13 0 14 4 13-1 13-5M1449 915l13 22 13 23 13 32 13-28 13-26 14 87 13-10 13-16 13 2 13-37 13 56 14-25 13 70 14-41 14 2 13-14 13-9 13 53 14 41 14-71 13 11 13 5 11 0 13 6 13-2 14-11 13-2 13-1M1449 937l13 17 13 5 13 50 13-39 13-8 14 71 13-4 13-25 13 0 13-37 13 44 14-1 13 58 14-42 14 9 13 10 13-20 13 63 14 30 14-59 13 2 13 7 11-7 13 3 13 4 14-6 13-1 13-7M1449 927l13 12 13 12 13 31 13-26 13-8 14 79 13-6 13-14 13-4 13-34 13 42 14-23 13 86 14-50 14 14 13-9 13 1 13 49 14 65 14-60 13 9 13-1 11-2 13 6 13-3 14-6 13 3 13-1M1449 956l13 21 13-11 13 49 13-37 13-15 14 85 13-23 13-9 13-7 13-43 13 50 14-11 13 66 14-65 14 15 13-21 13 2 13 70 14 48 14-73 13 7 13 8 11-6 13-1 13 4 14 0 13 7 13-10M1449 935l13 5 13 19 13 26 13-34 13-6 14 80 13-5 13-28 13 12 13-37 13 47 14-18 13 69 14-50 14 10 13-21 13 1 13 54 14 62 14-71 13 9 13-4 11-7 13 5 13 5 14-12 13-1 13-2M1449 960l13-9 13 13 13 26 13-30 13-15 14 89 13-18 13-17 13 3 13-34 13 46 14-5 13 54 14-46 14 23 13 4 13 0 13 51 14 36 14-77 13 10 13 2 11-5 13-4 13-9 14-3 13 14 13 1M1449 948l13-3 13 28 13 25 13-37 13-14 14 79 13-17 13-8 13 13 13-41 13 45 14 7 13 48 14-45 14 12 13 0 13 2 13 22 14 61 14-83 13 13 13-5 11 9 13-4 13 2 14 5 13 5 13-3M1449 950l13 3 13 9 13 23 13-27 13-14 14 83 13-25 13-8 13-2 13-37 13 62 14-15 13 61 14-39 14 9 13-12 13-1 13 51 14 39 14-66 13 15 13-5 11 6 13 3 13-9 14 1 13 1 13 1M1449 938l13-4 13 20 13 26 13-22 13-1 14 75 13-25 13-9 13-1 13-41 13 56 14-9 13 53 14-41 14 14 13-6 13-2 13 45 14 42 14-74 13 8 13-4 11 2 13-4 13-2 14 6 13 10 13-7M1449 938l13 20 13 7 13 36 13-22 13-16 14 68 13 9 13-33 13 4 13-40 13 39 14 1 13 64 14-55 14 16 13 8 13-9 13 43 14 60 14-70 13 6 13 1 11-11 13 1 13-2 14 5 13 1 13 3M1449 932l13 4 13 19 13 28 13-36 13-18 14 97 13-22 13-20 13 8 13-44 13 50 14-19 13 83 14-48 14 13 13-19 13 6 13 20 14 76 14-77 13 0 13 6 11 1 13 4 13 1 14 7 13-7 13 0M1449 939l13 8 13 23 13 29 13-48 13-2 14 82 13-5 13-26 13-4 13-36 13 47 14-32 13 78 14-34 14 17 13-13 13-13 13 43 14 65 14-76 13 4 13 4 11 6 13 1 13 1 14-9 13-3 13 1M1449 935l13 5 13 11 13 35 13-24 13-12 14 79 13-11 13-21 13 10 13-42 13 47 14-26 13 80 14-42 14 9 13-9 13-1 13 48 14 43 14-63 13 8 13-2 11-6 13-5 13 5 14-7 13 10 13 6M1449 943l13 8 13 13 13 26 13-41 13 10 14 74 13-18 13-6 13 3 13-40 13 52 14 2 13 45 14-44 14 26 13-1 13-6 13 60 14 33 14-80 13 5 13 0 11-6 13-3 13 7 14 0 13 1 13-4M1449 936l13-1 13 8 13 30 13-41 13 5 14 90 13-18 13-10 13 5 13-41 13 43 14-23 13 62 14-34 14 22 13 4 13-7 13 34 14 35 14-61 13 0 13-4 11 13 13-5 13-9 14 13 13-6 13 3M1449 946l13 0 13 21 13 33 13-46 13-18 14 89 13-14 13-17 13 16 13-52 13 61 14-33 13 80 14-45 14 14 13-9 13 5 13 22 14 66 14-63 13 2 13 5 11 0 13-7 13 6 14 1 13 2 13-4M1449 924l13 10 13 16 13 34 13-48 13-6 14 88 13-19 13-12 13 5 13-34 13 50 14 2 13 37 14-30 14 22 13-29 13 8 13 10 14 81 14-79 13 8 13 6 11-10 13-1 13 0 14-1 13 14 13 0M1449 930l13 12 13 19 13 27 13-28 13-12 14 80 13-27 13-6 13 0 13-37 13 52 14 3 13 37 14-32 14 12 13-15 13 6 13 43 14 31 14-56 13 14 13 1 11-1 13-1 13 0 14 0 13-6 13-5M1449 953l13 1 13 15 13 17 13-38 13 9 14 78 13-22 13-19 13 5 13-30 13 41 14-4 13 65 14-46 14 23 13-18 13 11 13 39 14 41 14-68 13 1 13-3 11 0 13 2 13 2 14 4 13 2 13 6M1449 960l13 4 13 14 13 25 13-25 13-19 14 81 13-15 13-17 13 9 13-42 13 49 14 26 13 41 14-61 14 18 13 3 13-21 13 48 14 51 14-77 13 9 13-3 11 5 13-6 13 6 14 4 13 7 13-12M1449 929l13 2 13 14 13 27 13-24 13-26 14 97 13-13 13-26 13 18 13-41 13 44 14-53 13 110 14-45 14 21 13-13 13-17 13 35 14 68 14-67 13 2 13-1 11 5 13 3 13-9 14-1 13 5 13 2M1449 942l13 1 13 21 13 33 13-47 13-30 14 100 13-12 13-14 13 4 13-46 13 59 14 1 13 54 14-46 14 26 13-3 13-10 13 27 14 51 14-77 13 9 13 5 11-9 13 2 13 0 14-8 13 11 13 10M1449 941l13 14 13 15 13 19 13-33 13 5 14 81 13-22 13-9 13 2 13-42 13 48 14-4 13 59 14-48 14 13 13-8 13 6 13 30 14 69 14-74 13 0 13-3 11 9 13-6 13-4 14 7 13 0 13-3M1449 950l13 13 13 2 13 48 13-39 13-5 14 69 13-7 13-29 13 6 13-26 13 48 14 8 13 56 14-68 14 14 13 6 13-2 13 36 14 68 14-91 13 14 13-4 11-2 13-3 13-6 14 2 13 5 13 2M1449 939l13 12 13 18 13 21 13-26 13-15 14 77 13-11 13-22 13 12 13-33 13 44 14 5 13 42 14-47 14 27 13-25 13 2 13 28 14 56 14-72 13 7 13-5 11 5 13-6 13 11 14-7 13 5 13 3M1449 942l13 4 13 20 13 37 13-38 13-5 14 87 13-18 13-18 13-5 13-44 13 61 14 11 13 42 14-47 14 15 13-2 13-6 13 45 14 51 14-76 13 12 13 2 11-8 13 4 13-3 14-5 13 6 13 6M1449 958l13 1 13 27 13 11 13-38 13-5 14 78 13-3 13-11 13 6 13-36 13 29 14 22 13 60 14-63 14 22 13 2 13-20 13 49 14 56 14-76 13 8 13-12 11-3 13-1 13 6 14 3 13-6 13-2M1449 945l13-7 13 16 13 30 13-35 13-25 14 95 13-23 13-13 13 17 13-39 13 47 14-14 13 79 14-46 14 13 13-25 13 9 13 25 14 66 14-73 13 12 13-9 11 5 13-5 13 0 14 3 13 1 13 3M1449 967l13-16 13 19 13 25 13-25 13-15 14 85 13 3 13-43 13 6 13-41 13 52 14 22 13 37 14-48 14 17 13-5 13-12 13 37 14 60 14-70 13 14 13 3 11-6 13-4 13-4 14-2 13-1 13 11M1449 934l13 12 13 19 13 20 13-36 13-19 14 89 13-15 13-10 13 11 13-44 13 49 14-25 13 64 14-47 14 21 13-2 13 2 13 42 14 57 14-81 13 8 13 0 11 6 13 1 13-6 14 3 13 2 13 9M1449 958l13-14 13 24 13 17 13-35 13-7 14 86 13-15 13-26 13 11 13-35 13 49 14 1 13 40 14-32 14 15 13 2 13-4 13 31 14 42 14-75 13 15 13 0 11 5 13-2 13 4 14-6 13-1 13 2M1449 937l13 12 13 21 13 35 13-28 13-7 14 66 13-12 13-20 13 3 13-31 13 48 14 9 13 38 14-47 14 22 13-2 13-17 13 60 14 58 14-86 13-4 13 0 11-4 13 8 13 10 14-9 13-5 13 10M1449 943l13 9 13 16 13 29 13-44 13 10 14 70 13 6 13-36 13-2 13-23 13 37 14 32 13 35 14-46 14 9 13-6 13 1 13 44 14 74 14-99 13 16 13 8 11-6 13-10 13 16 14-14 13-4 13-2M1449 914l13 13 13 29 13 26 13-34 13-15 14 91 13-21 13-7 13 13 13-56 13 49 14-23 13 81 14-30 14-3 13-1 13-8 13 43 14 62 14-78 13 5 13-7 11-3 13 1 13 2 14 2 13 3 13-3M1449 956l13-5 13 8 13 52 13-39 13 2 14 70 13-6 13-25 13 1 13-28 13 39 14 32 13 41 14-57 14 11 13-18 13 13 13 28 14 62 14-80 13 6 13 5 11-5 13 0 13 4 14 5 13-10 13-1M1449 957l13-15 13 13 13 26 13-35 13 0 14 75 13-10 13-14 13 6 13-40 13 44 14-33 13 92 14-44 14 10 13 5 13-7 13 42 14 48 14-74 13-1 13 9 11-2 13-6 13-1 14 11 13-10 13 7M1449 933l13 19 13 23 13 25 13-25 13-25 14 85 13-8 13-26 13 14 13-30 13 45 14 4 13 66 14-71 14 14 13-2 13 5 13 53 14 42 14-90 13 2 13-1 11 1 13 6 13-2 14-3 13 5 13 1M1449 931l13 14 13 24 13 36 13-43 13-18 14 82 13-11 13-6 13 12 13-52 13 51 14 2 13 55 14-53 14 12 13 2 13-6 13 48 14 43 14-68 13 3 13-2 11-3 13-4 13 5 14 7 13-3 13 5M1449 940l13 4 13 21 13 20 13-19 13-15 14 82 13-20 13-15 13 3 13-47 13 54 14 12 13 67 14-64 14 18 13-6 13-12 13 35 14 63 14-68 13 7 13 6 11 0 13 3 13-9 14 2 13-4 13 0M1449 928l13 23 13 18 13 23 13-34 13-3 14 73 13-9 13-22 13 16 13-50 13 56 14-27 13 93 14-56 14 24 13-12 13 4 13 30 14 55 14-75 13 3 13 2 11 4 13 4 13-4 14 4 13-4 13 3M1449 927l13 13 13 20 13 26 13-25 13-5 14 83 13-19 13-22 13 2 13-30 13 54 14-18 13 78 14-51 14 17 13-3 13-5 13 56 14 32 14-74 13 9 13 8 11-9 13-6 13-6 14 3 13 0 13-6M1449 936l13 20 13 7 13 29 13-41 13 10 14 68 13-2 13-22 13 10 13-37 13 40 14 8 13 46 14-51 14 14 13 4 13-17 13 51 14 63 14-78 13 1 13 2 11-2 13-1 13 7 14-2 13 0 13-1M1449 960l13-15 13 30 13 32 13-25 13-34 14 83 13-7 13-17 13 4 13-40 13 55 14 29 13 36 14-60 14 10 13-9 13 4 13 48 14 49 14-81 13 14 13-8 11 7 13-7 13 6 14-2 13 2 13-10M1449 962l13-2 13 9 13 24 13-28 13-14 14 88 13-15 13-25 13 11 13-39 13 41 14 2 13 61 14-46 14 19 13-4 13-1 13 19 14 70 14-73 13-2 13 2 11-2 13-4 13 1 14 1 13-1 13 1M1449 926l13 19 13 15 13 34 13-45 13-22 14 93 13-20 13-15 13 7 13-29 13 49 14-10 13 61 14-39 14 10 13-25 13 14 13 36 14 49 14-71 13 13 13 4 11-7 13 6 13 2 14-7 13 8 13 1M1449 944l13 8 13 11 13 33 13-25 13-4 14 71 13-11 13-29 13 9 13-46 13 54 14 18 13 43 14-52 14 8 13-4 13 6 13 22 14 64 14-53 13 13 13 9 11-6 13-2 13 4 14 0 13-9 13 4M1449 941l13 8 13 25 13 20 13-37 13-11 14 89 13-17 13-22 13 14 13-48 13 55 14 6 13 65 14-50 14 18 13-1 13-19 13 54 14 38 14-75 13 6 13 0 11 4 13-1 13-1 14 3 13-1 13-5M1449 936l13-3 13 19 13 31 13-34 13-28 14 97 13-22 13 0 13 3 13-48 13 60 14-23 13 58 14-38 14 16 13-5 13 7 13 26 14 65 14-87 13 8 13-5 11 11 13-4 13-5 14 4 13 6 13 6M1449 950l13-5 13 12 13 38 13-29 13-11 14 73 13-12 13-10 13 0 13-32 13 49 14 6 13 60 14-56 14 14 13-1 13-14 13 29 14 79 14-85 13 2 13 1 11 4 13-8 13 7 14 0 13 0 13-2M1449 927l13 22 13 11 13 34 13-39 13 3 14 63 13 0 13-26 13 2 13-39 13 54 14 2 13 71 14-59 14 23 13 1 13-4 13 30 14 38 14-76 13 11 13-7 11 6 13 8 13-1 14-5 13-5 13-2M1449 935l13 22 13 22 13 25 13-44 13-7 14 77 13 1 13-23 13 10 13-52 13 53 14 34 13 41 14-66 14 17 13 4 13-10 13 52 14 50 14-87 13 11 13 6 11 0 13-1 13 0 14-3 13 2 13 4M1449 915l13 27 13 22 13 26 13-42 13-20 14 88 13-21 13-1 13 7 13-46 13 51 14-13 13 75 14-51 14 17 13-20 13 8 13 47 14 53 14-43 13-5 13 5 11 4 13-12 13 15 14-1 13-1 13-16M1449 926l13 19 13 25 13 35 13-44 13 3 14 67 13-13 13-22 13 7 13-26 13 36 14 10 13 55 14-47 14 15 13-19 13-2 13 28 14 65 14-75 13 9 13 5 11 4 13-6 13-2 14 3 13 3 13-5M1449 951l13 18 13 6 13 26 13-42 13-1 14 84 13-21 13-19 13 13 13-39 13 44 14-4 13 53 14-47 14 16 13-15 13 13 13 35 14 56 14-65 13 5 13-9 11 10 13-10 13 8 14-7 13-3 13 4M1449 936l13 6 13 17 13 19 13-19 13-22 14 89 13-20 13-10 13 4 13-42 13 54 14-23 13 64 14-39 14 8 13-20 13 22 13 23 14 53 14-71 13 4 13 0 11-1 13 6 13 13 14-5 13-9 13 3M1449 921l13 22 13 11 13 30 13-33 13-9 14 92 13-19 13-19 13 4 13-40 13 45 14-40 13 105 14-39 14 9 13-16 13-3 13 34 14 50 14-61 13 9 13 3 11-1 13-8 13 4 14 6 13-4 13-2M1449 934l13 24 13 17 13 24 13-47 13 2 14 80 13-7 13-22 13-2 13-36 13 44 14 8 13 62 14-50 14 20 13-9 13-10 13 46 14 66 14-81 13 8 13-2 11-5 13-3 13 3 14-7 13-6 13-1M1449 947l13 10 13 6 13 27 13-25 13-21 14 94 13-3 13-35 13 16 13-37 13 47 14 11 13 51 14-54 14 10 13 14 13 1 13 24 14 62 14-90 13 3 13-2 11 6 13 4 13-3 14 8 13-1 13-1M1449 945l13 6 13 10 13 36 13-28 13-16 14 86 13-26 13-11 13 12 13-41 13 47 14 10 13 63 14-65 14 18 13-11 13-8 13 40 14 53 14-94 13 10 13-4 11-6 13 5 13 1 14 0 13-4 13 8M1449 914l13 18 13 12 13 26 13-39 13-14 14 111 13-20 13-21 13 9 13-41 13 53 14-7 13 49 14-29 14 13 13-4 13-16 13 43 14 44 14-61 13 16 13-10 11 2 13-4 13 2 14 2 13-9 13 7M1449 928l13 4 13 17 13 29 13-35 13-22 14 103 13-15 13-23 13 4 13-36 13 45 14-42 13 97 14-39 14 18 13-5 13-2 13 23 14 58 14-63 13 2 13-2 11-2 13-4 13 6 14-2 13-4 13 9M1449 932l13 15 13 9 13 32 13-34 13-20 14 89 13-2 13-20 13-3 13-49 13 56 14-15 13 90 14-65 14 10 13-6 13 9 13 24 14 60 14-67 13 10 13-7 11 3 13 4 13 6 14 0 13-5 13 1M1449 929l13 19 13 18 13 38 13-53 13-4 14 78 13-19 13-11 13 7 13-37 13 52 14 6 13 40 14-42 14 11 13-4 13 1 13 56 14 44 14-72 13 8 13-4 11-2 13-4 13-5 14 1 13 2 13-4M1449 973l13 0 13 11 13 12 13-35 13-16 14 79 13-17 13-15 13 3 13-47 13 52 14-34 13 96 14-37 14 17 13-23 13 10 13 21 14 58 14-58 13 2 13 0 11-14 13 4 13-5 14 1 13 10 13 0M1449 951l13-2 13 8 13 24 13-21 13-10 14 81 13-18 13-14 13 15 13-54 13 58 14-19 13 68 14-48 14 14 13-4 13-4 13 51 14 54 14-77 13 11 13 6 11-6 13 2 13 8 14-4 13-6 13 3M1449 921l13 12 13 16 13 34 13-28 13-16 14 88 13-24 13-1 13 2 13-40 13 48 14-36 13 78 14-43 14 15 13 6 13-12 13 32 14 54 14-63 13 11 13-2 11 3 13-5 13 5 14 4 13 5 13-2M1449 944l13 0 13 17 13 32 13-28 13-14 14 78 13-8 13-26 13 10 13-30 13 36 14 13 13 40 14-50 14 23 13-4 13 8 13 36 14 45 14-65 13 5 13 1 11-2 13-7 13 2 14-2 13 2 13-2M1449 920l13 25 13 16 13 32 13-49 13 5 14 81 13-15 13-12 13 5 13-35 13 49 14-40 13 89 14-51 14 14 13-24 13 12 13 33 14 57 14-72 13 0 13 5 11 7 13-5 13-1 14-3 13-3 13 2M1449 947l13 0 13 7 13 39 13-38 13-17 14 87 13-7 13-18 13 2 13-34 13 47 14-14 13 74 14-55 14 18 13 5 13-17 13 61 14 27 14-70 13 13 13 7 11 2 13-6 13-5 14 6 13-7 13 2M1449 946l13 11 13 6 13 42 13-35 13-15 14 89 13-21 13-15 13 7 13-33 13 46 14 31 13 35 14-64 14 21 13-15 13 14 13 28 14 51 14-78 13 11 13 0 11 2 13 8 13-2 14 1 13-3 13 4M1449 939l13 19 13 18 13 15 13-27 13-23 14 88 13-17 13-17 13 4 13-35 13 48 14 8 13 48 14-46 14 15 13-4 13-6 13 42 14 49 14-72 13 3 13-3 11 2 13-8 13 8 14 1 13-1 13 6M1449 922l13 12 13 14 13 35 13-38 13 1 14 88 13-16 13-26 13 9 13-48 13 57 14-26 13 66 14-42 14 20 13-4 13 7 13 29 14 53 14-69 13 3 13 8 11-9 13 0 13-3 14 10 13-1 13-4M1449 930l13 17 13 7 13 35 13-37 13-18 14 90 13-15 13-10 13 4 13-38 13 45 14-17 13 67 14-51 14 22 13-23 13 1 13 49 14 55 14-56 13 2 13-4 11 2 13-2 13 5 14-7 13 1 13 4M1449 944l13 8 13 11 13 33 13-25 13-4 14 71 13-11 13-29 13 9 13-46 13 54 14 18 13 43 14-52 14 8 13-4 13 6 13 22 14 64 14-65 13 13 13-3 11 4 13-4 13-9 14-1 13 0 13 0M1449 944l13 7 13 6 13 36 13-37 13-8 14 90 13-24 13-16 13 5 13-48 13 59 14-10 13 46 14-22 14 7 13-14 13 20 13 29 14 47 14-78 13 5 13-1 11 12 13-1 13 3 14-2 13 4 13-2M1449 934l13 19 13 13 13 31 13-35 13-10 14 82 13-20 13-5 13-8 13-31 13 41 14 0 13 64 14-49 14 20 13-11 13-7 13 46 14 46 14-78 13 5 13 6 11 1 13-2 13-3 14-3 13-6 13 13M1449 923l13 8 13 26 13 28 13-34 13-17 14 92 13-16 13-14 13-1 13-46 13 66 14-35 13 82 14-43 14 14 13-21 13 11 13 44 14 47 14-88 13 18 13 1 11 2 13-9 13 5 14 2 13-3 13 0M1449 928l13 20 13 7 13 33 13-38 13-9 14 88 13-18 13-22 13 5 13-39 13 49 14-32 13 92 14-52 14 20 13 0 13-7 13 39 14 60 14-80 13 3 13 1 11-11 13 1 13 5 14-7 13 11 13 0M1449 935l13-1 13 14 13 39 13-46 13-21 14 107 13-28 13-16 13 11 13-53 13 64 14-21 13 83 14-55 14 16 13-10 13-15 13 30 14 78 14-79 13 10 13 0 11 4 13 2 13-1 14-10 13 5 13 2M1449 955l13-5 13 11 13 45 13-41 13-14 14 86 13-9 13-17 13 6 13-37 13 51 14 25 13 34 14-44 14 1 13 11 13-7 13 33 14 50 14-79 13 17 13-9 11 0 13 3 13-5 14-3 13 7 13-2M1449 932l13 9 13 7 13 27 13-19 13-11 14 78 13-17 13-5 13 3 13-40 13 51 14 2 13 47 14-50 14 18 13-6 13-8 13 30 14 54 14-74 13 17 13-5 11 8 13 5 13-1 14 3 13 3 13-10M1449 958l13-13 13 26 13 38 13-56 13 0 14 80 13-26 13-4 13 7 13-43 13 44 14-14 13 73 14-45 14 28 13-5 13-20 13 52 14 44 14-63 13-3 13-6 11 0 13-7 13 4 14-5 13-8 13 17M1449 936l13 11 13 11 13 35 13-43 13-6 14 81 13-23 13-10 13 5 13-33 13 50 14-6 13 56 14-48 14 22 13-7 13 0 13 22 14 66 14-75 13 8 13 1 11 4 13-3 13 0 14-3 13-7 13-2M1449 941l13 3 13 28 13 20 13-27 13-26 14 91 13-7 13-17 13 3 13-32 13 40 14 9 13 46 14-53 14 11 13 2 13-8 13 49 14 58 14-77 13-1 13-2 11 4 13 6 13-3 14-1 13 0 13-1M1449 956l13 9 13 19 13 13 13-35 13 2 14 64 13-11 13-8 13-1 13-38 13 46 14 8 13 44 14-50 14 23 13-17 13 0 13 54 14 53 14-82 13 11 13 3 11 6 13 6 13-6 14-3 13 0 13 0M1449 909l13 28 13 23 13 23 13-25 13-25 14 91 13-13 13-19 13 5 13-33 13 45 14-49 13 102 14-47 14 20 13-10 13-5 13 33 14 45 14-51 13 5 13-6 11 4 13 6 13-3 14 3 13 3 13-5M1449 947l13 8 13 5 13 38 13-40 13-4 14 70 13-5 13-15 13-1 13-41 13 49 14 9 13 64 14-58 14 20 13-3 13-5 13 29 14 63 14-67 13-2 13 0 11-7 13-1 13 3 14-9 13 4 13-1M1449 952l13 6 13 9 13 25 13-19 13-13 14 76 13-10 13-18 13 11 13-37 13 50 14 12 13 54 14-61 14 10 13 7 13 4 13 54 14 46 14-88 13 4 13-4 11 2 13 9 13-13 14 9 13-2 13 8M1449 947l13 5 13 15 13 23 13-39 13-12 14 90 13-17 13-12 13-2 13-37 13 48 14-4 13 59 14-44 14 15 13-17 13-1 13 51 14 56 14-71 13 10 13-14 11 4 13 1 13-6 14 0 13 3 13 2M1449 920l13 20 13 22 13 19 13-24 13-15 14 80 13-6 13-23 13 11 13-31 13 42 14-24 13 80 14-55 14 18 13 3 13-6 13 26 14 73 14-73 13 9 13 3 11-4 13 0 13-8 14-4 13 0 13 5M1449 942l13-1 13 22 13 27 13-40 13-22 14 101 13-22 13-10 13 2 13-38 13 39 14-41 13 82 14-21 14 12 13-19 13-5 13 44 14 54 14-60 13 7 13-5 11-3 13-4 13 2 14 7 13 2 13 1M1449 936l13 9 13 5 13 48 13-41 13-16 14 89 13-11 13-15 13 7 13-34 13 45 14 18 13 48 14-61 14 5 13 1 13-6 13 36 14 63 14-82 13 10 13 5 11 6 13 0 13 3 14-3 13 4 13-10M1449 931l13 20 13 17 13 16 13-37 13 2 14 88 13-26 13-11 13 8 13-35 13 48 14-18 13 57 14-33 14 13 13 5 13-12 13 57 14 53 14-85 13 9 13 4 11-10 13-3 13 1 14-1 13 1 13 6M1449 935l13 13 13 23 13 33 13-47 13-9 14 80 13-2 13-19 13 9 13-32 13 40 14-9 13 55 14-43 14 19 13-16 13-1 13 46 14 61 14-90 13 2 13-3 11 5 13 0 13 5 14 4 13 4 13-5M1449 936l13 6 13 9 13 30 13-31 13-4 14 76 13-9 13-22 13 11 13-43 13 49 14-50 13 89 14-41 14 21 13-8 13-2 13 44 14 57 14-81 13 14 13 4 11 2 13 0 13-5 14-10 13 4 13 9M1449 947l13 10 13 6 13 27 13-25 13-21 14 94 13-3 13-35 13 16 13-37 13 47 14 11 13 51 14-54 14 10 13 14 13 1 13 24 14 62 14-117 13 3 13 3 11 0 13-8 13 9 14 2 13-4 13-6M1449 952l13 6 13 13 13 31 13-39 13-2 14 70 13-17 13-1 13 10 13-26 13 39 14 43 13 5 14-36 14 5 13 11 13-4 13 36 14 37 14-80 13 10 13-4 11-1 13 4 13 3 14 3 13-6 13-6M1449 936l13 25 13 12 13 21 13-42 13-4 14 84 13-15 13-18 13 3 13-27 13 37 14 7 13 49 14-51 14 24 13-9 13-7 13 47 14 41 14-66 13 8 13 5 11-1 13 5 13-8 14-5 13-1 13-9M1449 955l13-5 13 19 13 19 13-29 13-18 14 91 13-7 13-15 13-7 13-28 13 42 14-4 13 54 14-41 14 12 13 7 13-2 13 43 14 43 14-69 13 1 13 0 11 7 13-5 13 2 14 4 13-7 13 6M1449 930l13 11 13 26 13 32 13-32 13-20 14 83 13 8 13-37 13 5 13-32 13 44 14 23 13 25 14-48 14 24 13-14 13 1 13 41 14 58 14-84 13 10 13-3 11 7 13-9 13 9 14-7 13 5 13 0M1449 953l13 10 13 8 13 39 13-34 13-23 14 79 13-22 13-13 13 3 13-40 13 50 14 0 13 77 14-53 14 11 13-16 13-4 13 34 14 57 14-64 13 14 13-3 11-10 13 6 13-5 14-5 13 9 13 3M1449 936l13 20 13 16 13 28 13-40 13-11 14 80 13-13 13-20 13 11 13-30 13 40 14-6 13 56 14-34 14 11 13-10 13-12 13 48 14 49 14-59 13 2 13-1 11-1 13 0 13-7 14-2 13 7 13 3M1449 944l13 9 13 25 13 21 13-42 13 5 14 78 13-8 13-31 13 15 13-54 13 57 14 10 13 56 14-57 14 18 13 10 13-24 13 61 14 26 14-58 13-2 13 11 11-4 13 3 13-7 14-1 13-1 13 4M1449 932l13 2 13 21 13 35 13-42 13-12 14 86 13-14 13-9 13 6 13-41 13 51 14-23 13 56 14-26 14 8 13-10 13 1 13 40 14 68 14-74 13 7 13-7 11 2 13 0 13-1 14-4 13 5 13-4M1449 949l13 1 13 9 13 33 13-19 13-27 14 94 13-3 13-26 13-1 13-34 13 53 14-2 13 70 14-68 14 30 13-15 13-8 13 53 14 47 14-76 13-2 13 6 11 7 13 0 13 5 14-3 13-5 13-1M1449 923l13 13 13 19 13 25 13-36 13-21 14 101 13-20 13-14 13 7 13-47 13 55 14 6 13 47 14-37 14 10 13-9 13-3 13 49 14 43 14-78 13 11 13 6 11 1 13-4 13-2 14 9 13-7 13-3M1449 925l13 18 13 24 13 34 13-48 13 1 14 79 13-16 13-20 13-3 13-43 13 48 14-45 13 117 14-57 14 23 13 2 13-15 13 40 14 74 14-91 13 7 13-2 11-1 13-9 13-3 14 11 13 5 13-2M1449 931l13 0 13 25 13 32 13-41 13-10 14 87 13-14 13-18 13 7 13-37 13 44 14-31 13 85 14-43 14 12 13-16 13 4 13 22 14 77 14-78 13 4 13 10 11-4 13 5 13-6 14 1 13 6 13-6M1449 930l13 12 13 19 13 74 13-75 13-12 14 80 13-27 13-6 13 0 13-37 13 52 14 3 13 37 14-32 14 12 13-15 13 6 13 43 14 31 14-56 13 14 13 1 11-1 13-1 13 0 14 0 13-6 13-5M1449 947l13 7 13 0 13 21 13-30 13-9 14 81 13-12 13-12 13 2 13-39 13 55 14-1 13 46 14-32 14 4 13-19 13 0 13 57 14 45 14-64 13 3 13 1 11-2 13-1 13-7 14 2 13-1 13 7M1449 929l13 12 13 17 13 36 13-29 13-11 14 75 13-18 13-18 13 2 13-30 13 51 14 6 13 53 14-54 14 21 13-13 13-1 13 36 14 49 14-75 13 8 13 0 11-3 13-4 13 11 14 2 13-8 13-5M1449 925l13 16 13 22 13 26 13-31 13-13 14 85 13-7 13-32 13 13 13-34 13 33 14 6 13 52 14-42 14 15 13-22 13 6 13 26 14 62 14-58 13 5 13 2 11 3 13-8 13 4 14 2 13 1 13-5M1449 933l13 18 13 4 13 36 13-47 13-26 14 103 13-26 13-4 13 4 13-29 13 38 14-17 13 69 14-37 14 17 13-5 13-2 13 40 14 45 14-74 13 9 13 0 11 3 13-3 13 5 14 4 13-1 13 4M1449 916l13 19 13 24 13 36 13-39 13-2 14 77 13-12 13-27 13 7 13-32 13 38 14-26 13 87 14-49 14 20 13-4 13-21 13 39 14 70 14-87 13 5 13 0 11 9 13 3 13-3 14 6 13-2 13 2M1449 957l13-11 13 13 13 27 13-37 13 1 14 86 13-27 13-12 13 2 13-38 13 53 14 8 13 51 14-46 14 16 13 2 13-19 13 60 14 41 14-77 13 3 13-2 11 1 13 1 13-7 14 4 13-2 13-3M1449 943l13 3 13 5 13 44 13-27 13-21 14 82 13-2 13-24 13 9 13-48 13 49 14 2 13 46 14-37 14 12 13-7 13 1 13 38 14 62 14-81 13 9 13 4 11 2 13-4 13-6 14 1 13 9 13-5M1449 925l13 19 13 11 13 33 13-34 13-25 14 97 13-15 13-22 13 11 13-56 13 62 14-20 13 71 14-38 14 18 13-13 13-8 13 41 14 51 14-58 13 10 13-4 11-11 13 6 13 1 14 1 13-2 13-8M1449 960l13 2 13-1 13 41 13-31 13-18 14 82 13-15 13-17 13 1 13-41 13 48 14 18 13 64 14-65 14 26 13-15 13 11 13 46 14 57 14-94 13 4 13 11 11-3 13-8 13 11 14-11 13-1 13 7M1449 936l13 12 13 12 13 36 13-41 13 7 14 73 13-9 13-25 13 15 13-42 13 51 14 22 13 25 14-51 14 18 13-3 13-2 13 32 14 55 14-67 13 6 13 4 11-6 13-6 13 8 14-3 13 0 13-6M1449 940l13 13 13 4 13 28 13-39 13-6 14 88 13-16 13-12 13-1 13-45 13 55 14-4 13 55 14-44 14 13 13-12 13-9 13 48 14 57 14-69 13 3 13 5 11 8 13-7 13-5 14-1 13 7 13 4M1449 924l13 19 13 9 13 27 13-20 13-9 14 82 13-22 13-13 13 3 13-47 13 53 14-8 13 74 14-55 14 21 13-7 13 4 13 41 14 44 14-69 13 4 13-9 11 7 13 8 13-6 14-3 13-3 13-4M1449 954l13-6 13 18 13 49 13-49 13-2 14 82 13-17 13-21 13 4 13-38 13 40 14 17 13 40 14-49 14 12 13 6 13 3 13 52 14 45 14-74 13-3 13 6 11-2 13 1 13 5 14 1 13-11 13 7M1449 942l13 12 13 8 13 33 13-32 13-21 14 83 13-14 13-13 13 14 13-47 13 45 14-28 13 92 14-43 14 17 13 3 13-21 13 32 14 54 14-73 13 11 13 1 11 4 13-3 13-1 14 0 13-3 13 7M1449 939l13 9 13 15 13 31 13-29 13-29 14 96 13-9 13-19 13 2 13-31 13 42 14-39 13 98 14-57 14 12 13 2 13-6 13 29 14 68 14-65 13 6 13-1 11-1 13 4 13-1 14-4 13-7 13-1M1449 933l13 8 13 6 13 30 13-27 13 2 14 76 13-11 13-25 13 2 13-42 13 47 14-28 13 74 14-38 14 20 13-5 13-19 13 39 14 58 14-58 13 11 13 1 11 3 13-9 13 6 14 0 13-7 13 7M1449 964l13-12 13 12 13 39 13-36 13 4 14 71 13 9 13-50 13 11 13-25 13 47 14 39 13 32 14-66 14 6 13-10 13 0 13 63 14 49 14-70 13-7 13-2 11 5 13-3 13-10 14-8 13 4 13 7M1449 957l13 6 13 5 13 24 13-30 13-14 14 83 13-17 13-16 13 2 13-38 13 50 14-25 13 82 14-42 14 9 13-4 13-4 13 27 14 68 14-63 13 4 13-3 11-12 13-2 13 4 14 9 13-5 13 3M1449 969l13-12 13 15 13 30 13-44 13-26 14 101 13 4 13-23 13-3 13-43 13 53 14 7 13 59 14-55 14 10 13-12 13 11 13 30 14 55 14-72 13 0 13 6 11 10 13-5 13-3 14-2 13 5 13 16M1449 957l13 6 13 5 13 24 13-30 13-14 14 83 13-17 13-16 13 2 13-38 13 50 14-25 13 82 14-42 14 9 13-4 13-4 13 27 14 68 14-51 13 14 13 0 11-2 13 7 13-10 14 9 13-6 13-5M1449 934l13 21 13 12 13 14 13-23 13-7 14 85 13-6 13-29 13 2 13-35 13 39 14-9 13 54 14-27 14 12 13 1 13-11 13 31 14 53 14-62 13-3 13 8 11 5 13-3 13 4 14-8 13-4 13 7M1449 939l13 11 13 8 13 29 13-34 13-20 14 96 13-10 13-17 13 3 13-38 13 46 14 12 13 62 14-48 14 4 13-3 13 0 13 56 14 37 14-74 13 1 13 1 11-6 13 6 13-5 14 6 13 8 13 1M1449 950l13 3 13 14 13 33 13-51 13 0 14 77 13-5 13-15 13-9 13-35 13 58 14-16 13 58 14-34 14 14 13 5 13-19 13 32 14 52 14-76 13 7 13-3 11 11 13 2 13-9 14 7 13-5 13 0M1449 930l13 17 13 9 13 27 13-29 13-23 14 97 13-14 13-19 13 8 13-39 13 54 14 12 13 59 14-52 14 9 13-9 13-4 13 18 14 66 14-69 13 8 13-3 11 9 13-8 13 3 14 3 13-7 13-7M1449 917l13 19 13 17 13 38 13-35 13-3 14 74 13-5 13-26 13 1 13-46 13 58 14-43 13 97 14-50 14 16 13 8 13-5 13 59 14 35 14-77 13 5 13-1 11 4 13-9 13-3 14 3 13 0 13 1M1449 924l13 8 13 19 13 35 13-40 13-23 14 98 13-13 13-13 13 8 13-56 13 48 14 11 13 23 14-12 14 11 13 6 13-5 13 40 14 55 14-89 13 12 13 0 11-2 13 2 13 3 14-5 13-1 13-9M1449 928l13 14 13 23 13 40 13-44 13-4 14 76 13 1 13-36 13 11 13-49 13 53 14 18 13 59 14-64 14 16 13-2 13 2 13 32 14 50 14-76 13 16 13 0 11-10 13-1 13 8 14-2 13-7 13 7M1449 928l13 11 13 22 13 40 13-51 13-11 14 79 13-14 13-18 13 5 13-33 13 50 14-31 13 91 14-54 14 16 13-1 13-18 13 30 14 60 14-66 13 7 13-4 11 4 13 5 13-8 14 8 13 7 13-4M1449 943l13 19 13 4 13 22 13-27 13-12 14 79 13-26 13-9 13 8 13-29 13 53 14-18 13 70 14-46 14 15 13-21 13 1 13 37 14 49 14-62 13 9 13-7 11-1 13-5 13 8 14 5 13 1 13 3M1449 922l13 23 13 16 13 18 13-26 13-21 14 90 13-9 13-11 13 11 13-47 13 49 14-17 13 66 14-50 14 14 13-12 13 5 13 58 14 42 14-70 13 2 13-3 11-5 13 7 13 3 14-4 13 6 13 1M1449 935l13 3 13 20 13 25 13-36 13-21 14 96 13-21 13-14 13 18 13-41 13 52 14 0 13 52 14-50 14 16 13-18 13-5 13 34 14 51 14-55 13 12 13 4 11-3 13 1 13-1 14-2 13 1 13-2M1449 942l13 17 13 2 13 34 13-29 13-20 14 84 13-15 13-24 13 7 13-37 13 54 14-7 13 50 14-43 14 18 13-13 13-8 13 54 14 75 14-95 13 2 13 1 11 5 13 1 13 5 14-2 13-8 13 8M1449 943l13 17 13 5 13 24 13-22 13-21 14 84 13-20 13-6 13-2 13-33 13 45 14-14 13 83 14-58 14 19 13 11 13-17 13 29 14 67 14-81 13 2 13 0 11-1 13-6 13 5 14-7 13 8 13 6M1449 943l13 18 13 11 13 24 13-35 13-7 14 84 13-16 13-23 13 8 13-38 13 47 14 12 13 50 14-43 14 10 13-8 13-9 13 36 14 71 14-78 13 10 13-7 11 2 13 4 13 2 14 5 13-5 13 0M1449 956l13 5 13 14 13 44 13-42 13-21 14 84 13-16 13-8 13-6 13-31 13 39 14 4 13 65 14-60 14 18 13-10 13-3 13 56 14 49 14-81 13 2 13 1 11-2 13 0 13 11 14 1 13-1 13-2M1449 943l13 6 13 12 13 40 13-42 13 8 14 72 13-7 13-10 13-3 13-48 13 51 14 46 13 23 14-53 14 20 13 6 13-18 13 55 14 40 14-72 13 7 13-13 11 5 13 5 13-5 14-3 13 6 13-4M1449 924l13 8 13 19 13 35 13-40 13-23 14 98 13-13 13-13 13 8 13-56 13 48 14-54 13 117 14-38 14 8 13 6 13-5 13 40 14 55 14-89 13 12 13 0 11-2 13 2 13 3 14-5 13-1 13-9M1449 937l13 12 13 16 13 32 13-33 13 1 14 81 13-2 13-39 13-3 13-28 13 54 14-1 13 47 14-55 14 24 13-4 13-9 13 36 14 48 14-62 13 3 13 0 11 4 13-4 13 6 14-9 13 7 13-4M1449 946l13 2 13 21 13 29 13-46 13-14 14 92 13-19 13-11 13 6 13-43 13 46 14-34 13 90 14-40 14 8 13-21 13 14 13 31 14 60 14-75 13 5 13 1 11-2 13 1 13-1 14 1 13 4 13 0M1449 920l13 18 13 13 13 47 13-45 13-17 14 91 13-5 13-24 13 3 13-36 13 48 14-4 13 63 14-50 14 10 13-3 13 1 13 35 14 59 14-77 13 7 13 6 11-2 13-7 13 3 14 2 13 0 13-1M1449 921l13 8 13 30 13 29 13-41 13-10 14 91 13-25 13-4 13 2 13-44 13 57 14-21 13 74 14-44 14 8 13-8 13 0 13 28 14 59 14-56 13 0 13 6 11 4 13 5 13-10 14-5 13-4 13-1M1449 929l13 6 13 26 13 19 13-30 13-16 14 93 13-13 13-14 13 6 13-53 13 60 14 5 13 45 14-50 14 17 13-14 13 0 13 44 14 49 14-62 13 5 13-3 11-7 13 9 13-2 14 4 13-1 13-1M1449 930l13-1 13 25 13 27 13-32 13 0 14 74 13-25 13-8 13 10 13-41 13 59 14-23 13 70 14-40 14 20 13-24 13 1 13 43 14 53 14-81 13 14 13-5 11 3 13 7 13 5 14-11 13 3 13-2M1449 922l13 23 13 16 13 18 13-26 13-21 14 90 13-9 13-11 13 11 13-47 13 49 14-17 13 66 14-50 14 14 13-12 13 5 13 58 14 42 14-48 13 9 13-6 11 3 13-2 13-2 14 2 13 0 13-1M1449 945l13-4 13 19 13 24 13-28 13-19 14 89 13-20 13-8 13 2 13-37 13 46 14-8 13 58 14-47 14 25 13-17 13 1 13 41 14 53 14-75 13 2 13 9 11-5 13 3 13-6 14 8 13 1 13 6M1449 928l13 22 13 19 13 26 13-36 13-26 14 95 13-6 13-30 13 17 13-39 13 47 14-40 13 88 14-50 14 13 13-14 13-4 13 64 14 41 14-72 13 6 13 4 11 5 13-6 13-5 14 3 13 8 13-4M1449 926l13 12 13 28 13 35 13-28 13-14 14 79 13-8 13-32 13 12 13-43 13 52 14 14 13 34 14-36 14 19 13 3 13-5 13 49 14 57 14-91 13 7 13-4 11-10 13 2 13 1 14-4 13 0 13-3M1449 962l13 2 13 21 13 26 13-55 13 6 14 77 13-3 13-31 13-3 13-44 13 68 14-7 13 52 14-65 14 15 13-24 13 2 13 77 14 74 14-92 13 10 13-11 11 2 13 8 13-5 14 2 13-4 13 0M1449 938l13 6 13 15 13 24 13-34 13-6 14 83 13-18 13-14 13 15 13-44 13 42 14-22 13 56 14-21 14 11 13-4 13-4 13 17 14 75 14-67 13 9 13 0 11-6 13 7 13 3 14-8 13-4 13-1M1449 929l13 7 13 25 13 19 13-30 13-9 14 90 13-10 13-26 13 0 13-37 13 44 14-64 13 106 14-27 14 3 13 4 13-7 13 48 14 32 14-66 13 9 13-4 11 2 13-1 13 5 14-9 13 6 13-5M1449 937l13 6 13 20 13 23 13-36 13-4 14 84 13-16 13-19 13 3 13-39 13 59 14-30 13 62 14-43 14 19 13 2 13 0 13 42 14 58 14-73 13 9 13-9 11-2 13 6 13 0 14 4 13 0 13-5M1449 948l13-8 13 19 13 45 13-49 13-3 14 91 13-4 13-37 13 4 13-26 13 46 14-11 13 50 14-43 14 20 13-3 13 1 13 28 14 53 14-59 13 0 13-5 11-1 13-3 13 2 14-6 13 8 13-1M1449 952l13 0 13 24 13 36 13-45 13-2 14 76 13-17 13-16 13 8 13-32 13 41 14 23 13 27 14-34 14 13 13-12 13-11 13 56 14 52 14-78 13 4 13 0 11-4 13 2 13-6 14 5 13 0 13-4M1449 922l13 17 13 7 13 47 13-37 13-13 14 76 13-9 13-12 13 0 13-41 13 59 14-4 13 54 14-43 14 12 13 3 13-21 13 41 14 58 14-78 13 8 13-6 11 3 13-2 13 0 14 3 13 1 13 5M1449 943l13 11 13 16 13 28 13-35 13 4 14 69 13 0 13-33 13 4 13-45 13 58 14 22 13 34 14-54 14 17 13 4 13 9 13 37 14 46 14-78 13 9 13 3 11 4 13-9 13-2 14-2 13-2 13-1M1449 952l13 3 13 18 13 28 13-31 13-6 14 66 13-6 13-21 13 5 13-48 13 47 14 23 13 46 14-47 14 7 13 3 13-3 13 54 14 38 14-76 13 9 13 0 11-8 13-3 13 6 14 3 13 10 13-14M1449 947l13 6 13 16 13 19 13-36 13-15 14 90 13-20 13-12 13-2 13-35 13 54 14-30 13 80 14-44 14 12 13-1 13 8 13 32 14 34 14-57 13 13 13-7 11 6 13-6 13 5 14 9 13-5 13-7M1449 931l13 16 13 17 13 16 13-28 13-26 14 99 13-28 13-4 13 3 13-48 13 53 14-20 13 79 14-50 14 21 13-15 13-4 13 24 14 76 14-80 13 12 13-4 11 2 13 4 13 1 14-2 13 2 13-8M1449 968l13-14 13 6 13 26 13-35 13 6 14 87 13-14 13-19 13 6 13-35 13 41 14-18 13 70 14-43 14 19 13 2 13 1 13 31 14 41 14-83 13 10 13 5 11 3 13 0 13-2 14 9 13-11 13 6M1449 937l13 9 13 11 13 33 13-33 13 7 14 67 13-19 13-15 13 12 13-38 13 48 14 17 13 53 14-57 14 18 13-9 13 4 13 40 14 67 14-92 13 4 13 3 11 3 13 4 13-10 14-7 13 3 13-3M1449 915l13 27 13 22 13 26 13-42 13-20 14 88 13-21 13-1 13 7 13-46 13 51 14-13 13 75 14-51 14 17 13-20 13 8 13 47 14 53 14-83 13 5 13 7 11-1 13 5 13 4 14-10 13 5 13-5M1449 938l13 3 13 19 13 26 13-31 13-17 14 91 13-14 13-18 13 13 13-37 13 37 14-21 13 70 14-35 14 13 13-12 13-2 13 41 14 57 14-73 13-2 13 3 11 5 13 2 13 4 14 1 13 3 13-1M1449 943l13 3 13 16 13 27 13-44 13-3 14 80 13-14 13-13 13 1 13-25 13 46 14-13 13 75 14-41 14 11 13-17 13 5 13 40 14 40 14-70 13 9 13 5 11-6 13-6 13 6 14 3 13-4 13-2M1449 953l13-4 13 9 13 31 13-38 13 12 14 67 13 7 13-33 13 2 13-42 13 56 14 19 13 39 14-51 14 14 13-3 13 6 13 51 14 25 14-63 13 5 13-3 11-7 13 1 13 1 14 1 13 4 13-5M1449 948l13 1 13 9 13 42 13-36 13-26 14 98 13-23 13-17 13 20 13-46 13 59 14-5 13 49 14-49 14 13 13 2 13-1 13 35 14 52 14-72 13 1 13-4 11 2 13 9 13-2 14 3 13 3 13-7M1449 948l13 4 13 21 13 34 13-28 13-16 14 70 13 12 13-34 13 12 13-30 13 26 14-19 13 83 14-48 14 4 13 11 13-3 13 36 14 63 14-86 13 8 13 1 11 2 13 6 13-5 14-8 13-2 13-6M1449 941l13 6 13 26 13 45 13-51 13-10 14 82 13-25 13-10 13 3 13-45 13 59 14-9 13 73 14-63 14 25 13-14 13 1 13 57 14 66 14-84 13 0 13-7 11 1 13-9 13-1 14-6 13 3 13 2M1449 939l13-2 13 8 13 41 13-47 13-14 14 98 13-22 13-8 13-5 13-42 13 62 14-43 13 101 14-54 14 19 13 0 13-5 13 40 14 43 14-75 13 11 13 0 11 4 13 1 13 7 14 2 13-5 13 4M1449 952l13 2 13 15 13 37 13-44 13-4 14 80 13-25 13-22 13 8 13-30 13 45 14-20 13 89 14-51 14 11 13-12 13 4 13 49 14 35 14-63 13 2 13-1 11-4 13 0 13 2 14-6 13 3 13-5M1449 935l13-1 13 14 13 80 13-87 13-21 14 107 13-28 13-16 13 11 13-53 13 64 14-21 13 83 14-55 14 16 13-10 13-15 13 30 14 78 14-79 13 10 13 0 11 4 13 2 13-1 14-10 13 5 13 2M1449 949l13 7 13 19 13 19 13-31 13-4 14 86 13-12 13-26 13 5 13-44 13 55 14 47 13 23 14-60 14 21 13-11 13-7 13 32 14 55 14-65 13 5 13 3 11 0 13-6 13 1 14-5 13-6 13 2M1449 947l13 18 13 6 13 31 13-37 13-2 14 74 13-9 13-19 13 10 13-40 13 40 14-3 13 59 14-40 14 16 13-3 13-9 13 62 14 30 14-80 13 13 13-5 11 8 13 0 13 7 14 5 13-9 13-7M1449 937l13 5 13 8 13 37 13-38 13 3 14 74 13-15 13-13 13 4 13-38 13 55 14-27 13 80 14-52 14 9 13-7 13-12 13 41 14 75 14-75 13 10 13-8 11 6 13 3 13-6 14 7 13-10 13 1M1449 920l13 20 13 30 13 21 13-35 13-13 14 82 13-28 13-7 13 8 13-46 13 56 14-40 13 90 14-37 14 13 13-7 13 0 13 22 14 64 14-74 13 9 13 3 11 5 13-5 13-8 14-3 13 5 13-1M1449 941l13 20 13 7 13 35 13-34 13-18 14 83 13-19 13-19 13 15 13-37 13 47 14 3 13 46 14-35 14 29 13-1 13-16 13 22 14 61 14-63 13-2 13-8 11 7 13 3 13-3 14 2 13 2 13-2M1449 935l13 12 13 14 13 20 13-32 13-1 14 79 13-9 13-20 13 9 13-45 13 45 14 10 13 60 14-49 14 11 13-5 13-8 13 50 14 48 14-71 13 0 13-2 11-2 13-5 13 7 14 1 13 5 13 3M1449 927l13 15 13 8 13 32 13-34 13-4 14 84 13 1 13-29 13-1 13-39 13 50 14-16 13 63 14-32 14 14 13 1 13-6 13 19 14 63 14-76 13 1 13 6 11 3 13 4 13-1 14-9 13-4 13 1M1449 922l13 10 13 24 13 28 13-40 13 1 14 78 13-5 13-23 13 6 13-38 13 53 14 2 13 37 14-33 14 14 13-1 13-9 13 21 14 70 14-68 13 7 13-5 11 2 13-2 13-4 14-9 13 11 13-4M1449 935l13 5 13 26 13 21 13-44 13-14 14 92 13-13 13-4 13 1 13-40 13 45 14-1 13 68 14-54 14 18 13 2 13-21 13 32 14 45 14-53 13-3 13 0 11 1 13 4 13-3 14 3 13-1 13 5M1449 925l13 24 13 12 13 27 13-29 13-5 14 77 13 8 13-22 13-3 13-31 13 42 14 7 13 50 14-42 14-2 13 12 13-17 13 26 14 75 14-81 13 4 13 5 11-1 13 6 13-5 14-1 13 2 13 2M1449 931l13 4 13 13 13 29 13-35 13-3 14 96 13-28 13-17 13 13 13-43 13 44 14-5 13 72 14-48 14 20 13-20 13-8 13 52 14 51 14-77 13 9 13-7 11-3 13 8 13-8 14 10 13 5 13-3M1449 925l13 26 13 7 13 26 13-18 13-28 14 96 13-20 13-17 13 11 13-27 13 36 14 3 13 57 14-47 14 5 13-4 13-1 13 31 14 60 14-69 13 3 13 2 11 0 13 7 13-5 14-8 13 6 13-3M1449 940l13 7 13 8 13 28 13-21 13-4 14 76 13-24 13-24 13 13 13-31 13 48 14-19 13 67 14-37 14 10 13-20 13 16 13 46 14 38 14-73 13-4 13 10 11 2 13 0 13 1 14 3 13 2 13-10M1449 942l13 10 13 5 13 37 13-42 13-33 14 102 13-8 13-23 13 5 13-50 13 55 14-21 13 84 14-40 14 11 13-15 13-5 13 47 14 48 14-73 13 12 13 4 11-9 13 0 13 4 14 6 13-6 13 0M1449 927l13 22 13 10 13 29 13-37 13 2 14 76 13-23 13-17 13-3 13-28 13 59 14-34 13 69 14-29 14 16 13-4 13-7 13 33 14 56 14-62 13 2 13 1 11-8 13 0 13-9 14 3 13 1 13-12M1449 928l13 11 13 20 13 37 13-27 13-8 14 74 13-7 13-27 13 2 13-33 13 42 14 0 13 48 14-36 14 22 13-2 13-4 13 47 14 64 14-97 13 7 13-7 11-5 13-2 13 6 14 5 13-3 13-4M1449 937l13 9 13 17 13 40 13-45 13-21 14 94 13-7 13-22 13 10 13-32 13 41 14 11 13 40 14-47 14 15 13 4 13-19 13 24 14 62 14-72 13 17 13-5 11 6 13-2 13-9 14-4 13 7 13-2M1449 946l13 10 13 32 13 15 13-35 13-25 14 92 13-3 13-26 13-1 13-25 13 40 14 20 13 39 14-46 14 24 13 6 13-14 13 59 14 48 14-95 13 1 13 3 11 10 13-4 13-4 14 8 13-6 13-7M1449 942l13 14 13 16 13 27 13-41 13-7 14 89 13-12 13-29 13 4 13-28 13 49 14-6 13 68 14-44 14 0 13 0 13-14 13 51 14 64 14-91 13 11 13-1 11-3 13-5 13 4 14-1 13 3 13 9M1449 944l13 3 13 7 13 34 13-43 13-6 14 91 13-6 13-20 13-1 13-43 13 58 14 0 13 55 14-57 14 20 13-2 13-13 13 35 14 70 14-77 13-1 13-2 11 2 13-6 13 5 14 1 13 10 13-8M1449 949l13 1 13 3 13 25 13-42 13-15 14 107 13-3 13-31 13 3 13-50 13 55 14-35 13 82 14-33 14 12 13-6 13-7 13 20 14 68 14-64 13 12 13 5 11-5 13 5 13-2 14-5 13 4 13 4M1449 956l13 3 13 8 13 21 13-42 13-3 14 82 13-19 13-9 13 4 13-43 13 57 14-25 13 86 14-50 14 17 13-23 13-7 13 33 14 63 14-64 13 4 13-2 11 6 13-3 13-4 14 4 13 5 13 2M1449 930l13 6 13 24 13 22 13-39 13-27 14 96 13-20 13 0 13 5 13-37 13 48 14-45 13 88 14-47 14 19 13-16 13 0 13 25 14 84 14-83 13 9 13 5 11-4 13 1 13 8 14-5 13-4 13 9M1449 970l13-23 13 24 13 39 13-42 13-10 14 76 13 4 13-30 13 4 13-26 13 37 14 20 13 27 14-39 14 18 13 2 13-15 13 31 14 39 14-55 13 1 13 10 11-7 13-1 13 6 14-3 13 0 13 3M1449 929l13 16 13 11 13 25 13-42 13-21 14 103 13-14 13-15 13 12 13-43 13 44 14-15 13 63 14-40 14 26 13-17 13-6 13 27 14 53 14-57 13 4 13 6 11-6 13 4 13-3 14 0 13 8 13-9M1449 961l13-6 13 8 13 29 13-26 13-17 14 79 13-13 13-16 13 3 13-37 13 56 14-23 13 70 14-40 14 24 13 0 13-21 13 63 14 39 14-72 13 0 13 7 11-2 13 1 13-1 14 4 13-10 13-5M1449 950l13 5 13 19 13 31 13-38 13-16 14 78 13-15 13-13 13 3 13-37 13 49 14 28 13 33 14-49 14 21 13 7 13-2 13 25 14 51 14-80 13 6 13 7 11 2 13 4 13-4 14 11 13-14 13 5M1449 949l13-5 13 15 13 25 13-33 13-17 14 95 13-11 13-21 13 12 13-36 13 42 14-8 13 55 14-40 14 11 13 8 13-17 13 44 14 60 14-87 13 16 13 2 11-1 13 2 13-3 14-5 13 5 13-1M1449 955l13 4 13 15 13 22 13-33 13-8 14 81 13-3 13-22 13-4 13-43 13 50 14 23 13 36 14-50 14 24 13 2 13 2 13 12 14 51 14-76 13 17 13-3 11 5 13-2 13-2 14 2 13 7 13-6M1449 919l13 19 13 22 13 25 13-31 13-6 14 71 13-20 13-7 13 14 13-52 13 43 14-51 13 95 14-30 14 8 13-14 13 15 13 10 14 60 14-64 13 6 13 0 11 1 13 1 13 3 14 4 13-4 13 1M1449 952l13 10 13 20 13 24 13-45 13-5 14 84 13 5 13-39 13 12 13-42 13 46 14-6 13 65 14-50 14 9 13-6 13 5 13 42 14 40 14-73 13 11 13 9 11-7 13 3 13-3 14-9 13 3 13 0M1449 935l13 19 13 6 13 25 13-31 13-10 14 87 13-7 13-31 13 8 13-34 13 51 14-25 13 84 14-43 14 8 13-2 13-3 13 48 14 51 14-85 13 0 13 2 11 8 13-2 13 7 14-7 13 8 13-6M1449 973l13-7 13 8 13 25 13-32 13-1 14 58 13 6 13-30 13 6 13-37 13 52 14-14 13 71 14-43 14 10 13-3 13-1 13 42 14 45 14-64 13 9 13-11 11 8 13 3 13-7 14-5 13-5 13-2M1449 955l13 12 13-9 13 42 13-34 13-9 14 76 13-22 13-21 13 11 13-36 13 47 14-9 13 58 14-39 14 13 13-13 13 12 13 44 14 48 14-64 13 5 13 0 11-9 13-4 13 1 14 5 13-10 13 13M1449 931l13 18 13 9 13 38 13-36 13-25 14 89 13-18 13-17 13 2 13-42 13 54 14-54 13 115 14-41 14 22 13-15 13-18 13 30 14 71 14-76 13 4 13-1 11 0 13 6 13-4 14-2 13 10 13-8M1449 940l13-2 13 17 13 21 13-35 13-8 14 94 13-25 13-19 13 13 13-39 13 41 14-26 13 79 14-39 14 8 13-14 13 0 13 25 14 58 14-63 13 8 13 4 11-3 13 11 13-11 14 11 13 2 13 7M1449 929l13 8 13 148 13-109 13-37 13-14 14 29 13-7 13 9 13 6 13-22 13 27 14-28 13 236 14-201 14 12 13-25 13 3 13 65 14 78 14-116 13 8 13 2 11 3 13-1 13-2 14 1 13 0 13 0M1449 934l13 4 13 148 13-108 13-38 13-13 14 28 13-8 13 14 13 5 13-24 13 27 14-30 13 240 14-203 14 13 13-30 13 5 13 67 14 77 14-115 13 8 13 5 11-2 13-2 13 1 14-1 13 2 13 2M1449 926l13 10 13 145 13-107 13-36 13-10 14 23 13-5 13 8 13 8 13-24 13 31 14-36 13 243 14-203 14 11 13-24 13 2 13 66 14 79 14-113 13 5 13-3 11 3 13-1 13 1 14-3 13 2 13 1M1449 924l13 8 13 144 13-104 13-35 13-14 14 21 13-3 13 9 13 8 13-19 13 25 14-31 13 243 14-205 14 10 13-25 13 5 13 65 14 78 14-114 13 7 13-4 11 4 13-3 13 2 14 0 13 2 13-7M1449 938l13 1 13 148 13-109 13-37 13-12 14 26 13-4 13 11 13 4 13-24 13 27 14-30 13 242 14-206 14 15 13-30 13 7 13 65 14 75 14-110 13 7 13-3 11 4 13 0 13-2 14 1 13-2 13 4M1449 933l13 6 13 146 13-109 13-39 13-10 14 23 13-5 13 11 13 4 13-21 13 29 14-34 13 245 14-206 14 13 13-26 13 3 13 66 14 77 14-110 13 1 13 3 11 3 13-1 13-3 14 0 13 3 13-6M1449 941l13 3 13 149 13-110 13-39 13-9 14 28 13-7 13 10 13 1 13-23 13 32 14-33 13 242 14-208 14 15 13-25 13 0 13 70 14 77 14-109 13 3 13 1 11 2 13-1 13 2 14-1 13-5 13 1M1449 927l13 10 13 149 13-108 13-40 13-12 14 24 13-6 13 12 13 8 13-24 13 27 14-32 13 244 14-204 14 9 13-26 13 6 13 66 14 76 14-114 13 10 13-5 11 8 13-6 13 2 14 1 13 0 13-3M1449 925l13 11 13 146 13-106 13-37 13-15 14 27 13-7 13 9 13 7 13-23 13 30 14-31 13 239 14-203 14 10 13-27 13 8 13 62 14 79 14-110 13 4 13-1 11 6 13-7 13 3 14 1 13-6 13-1M1449 931l13 13 13 27 13 25 13-44 13-7 14 87 13-7 13-32 13 13 13-46 13 61 14-25 13 110 14-92 14 21 13-6 13 0 13 61 14 47 14-93 13 4 13-7 11 11 13-4 13 6 14 5 13-11 13 6M1449 927l13 19 13 22 13 27 13-48 13 0 14 90 13-18 13-24 13 7 13-46 13 65 14-15 13 101 14-89 14 29 13-17 13-1 13 55 14 55 14-95 13 1 13 11 11-9 13 9 13-12 14 4 13 6 13-13M1449 934l13 9 13 27 13 24 13-42 13-2 14 88 13-16 13-29 13 7 13-43 13 62 14-19 13 111 14-96 14 33 13-14 13-5 13 62 14 48 14-97 13 9 13-3 11 5 13-4 13 5 14 0 13-11 13-1M1449 933l13 11 13 27 13 22 13-42 13-4 14 85 13-9 13-22 13 2 13-38 13 46 14-5 13 102 14-91 14 21 13-4 13 2 13 48 14 56 14-90 13 1 13 3 11-8 13 5 13-7 14 10 13-6 13 1M1449 928l13 16 13 27 13 24 13-47 13-1 14 85 13-8 13-28 13 11 13-50 13 58 14-8 13 98 14-87 14 20 13-9 13 8 13 49 14 51 14-101 13 8 13 3 11 7 13 1 13-14 14 2 13 0 13 6M1449 928l13 17 13 24 13 23 13-42 13-3 14 91 13-17 13-26 13 9 13-45 13 59 14-23 13 109 14-91 14 22 13-9 13 4 13 60 14 45 14-90 13 8 13-3 11-2 13-3 13-6 14 12 13-12 13 1M1449 927l13 13 13 31 13 21 13-43 13-3 14 92 13-15 13-27 13 7 13-46 13 52 14-3 13 104 14-94 14 18 13-3 13 4 13 56 14 45 14-93 13 1 13-5 11 7 13 8 13-9 14-1 13 16 13-21M1449 929l13 7 13 31 13 27 13-48 13-2 14 83 13-20 13-17 13 14 13-44 13 49 14-12 13 108 14-91 14 20 13-3 13-3 13 52 14 57 14-104 13 14 13-12 11 11 13-10 13-1 14 3 13 5 13-1M1449 954l13-1 13 6 13 50 13-43 13-4 14 70 13-5 13-27 13 9 13-31 13 47 14-19 13 68 14-41 14 12 13-9 13 1 13 45 14 39 14-61 13 9 13-7 11 6 13-9 13 12 14-1 13-4 13-6M1449 957l13-4 13 8 13 48 13-38 13-4 14 67 13-11 13-20 13 7 13-32 13 44 14-13 13 75 14-53 14 15 13-6 13 0 13 43 14 42 14-62 13 8 13-4 11-4 13 7 13-5 14 4 13-2 13 5M1449 956l13-9 13 9 13 38 13-30 13 0 14 67 13-3 13-31 13 14 13-40 13 53 14-18 13 72 14-49 14 14 13-8 13 5 13 38 14 43 14-66 13 7 13-1 11 7 13 1 13 0 14-10 13 3 13 5M1449 950l13-1 13 5 13 42 13-35 13 2 14 72 13-16 13-22 13 12 13-37 13 47 14-20 13 71 14-39 14 8 13 0 13-3 13 44 14 35 14-54 13 4 13-1 11 3 13-3 13 2 14-3 13 3 13 0M1449 960l13-4 13 1 13 47 13-37 13-3 14 70 13-11 13-23 13 7 13-26 13 41 14-19 13 73 14-43 14 14 13-10 13 8 13 40 14 39 14-63 13 4 13 8 11-10 13 1 13 1 14-2 13 6 13 1M1449 955l13-6 13 7 13 45 13-33 13-2 14 66 13-6 13-21 13 7 13-39 13 52 14-19 13 75 14-51 14 15 13-5 13-3 13 47 14 39 14-67 13 6 13-1 11 8 13-1 13 3 14-10 13 11 13 0M1449 958l13-9 13 8 13 47 13-33 13-8 14 69 13-2 13-29 13 9 13-31 13 41 14-10 13 69 14-47 14 12 13-3 13 0 13 42 14 36 14-56 13 0 13 7 11 3 13-9 13 3 14-2 13 2 13-5M1449 949l13-6 13 7 13 42 13-35 13 5 14 68 13-11 13-19 13 7 13-37 13 50 14-29 13 72 14-32 14 9 13-9 13 0 13 45 14 38 14-63 13 9 13-5 11 7 13-3 13-6 14 6 13-3 13 1M1449 958l13-10 13 8 13 55 13-41 13-8 14 72 13-6 13-25 13 8 13-37 13 45 14-20 13 77 14-42 14 9 13-6 13-1 13 46 14 36 14-60 13 11 13-5 11-4 13 1 13 1 14 2 13-1 13 4M1449 950l13-2 13 2 13 52 13-37 13-6 14 76 13-15 13-18 13 4 13-37 13 49 14-17 13 70 14-41 14 10 13 0 13-7 13 47 14 35 14-58 13 7 13 0 11-1 13 3 13-8 14-2 13 6 13-2M1449 958l13-9 13 11 13 37 13-36 13 4 14 68 13-6 13-28 13 8 13-32 13 45 14-21 13 78 14-43 14 8 13 0 13-6 13 46 14 39 14-66 13 5 13 0 11 11 13-11 13 3 14 5 13-3 13-9M1449 946l13-4 13 12 13 36 13-26 13-4 14 71 13-9 13-29 13 13 13-38 13 50 14-26 13 79 14-41 14 5 13-3 13 0 13 41 14 38 14-62 13 6 13 8 11-5 13 0 13-2 14-3 13 1 13-4M1449 952l13 2 13 3 13 41 13-33 13-2 14 69 13-6 13-22 13 5 13-32 13 46 14-21 13 77 14-48 14 14 13-4 13-5 13 47 14 45 14-67 13 8 13 1 11 0 13-4 13-2 14 0 13 3 13-2M1449 957l13-6 13 3 13 47 13-40 13 3 14 70 13-10 13-23 13 3 13-27 13 46 14-23 13 78 14-49 14 10 13 1 13-5 13 41 14 50 14-70 13 12 13-9 11 5 13-1 13 2 14-4 13 7 13-1M1449 954l13 0 13 2 13 53 13-48 13 2 14 68 13-5 13-23 13 3 13-30 13 43 14-22 13 77 14-45 14 14 13-6 13 4 13 41 14 40 14-66 13 8 13 4 11-6 13-4 13 0 14 10 13-3 13 0M1449 951l13-4 13 11 13 39 13-36 13-2 14 74 13-6 13-28 13 6 13-27 13 44 14-25 13 76 14-39 14 4 13 0 13-1 13 42 14 46 14-67 13 8 13-3 11-3 13 3 13 1 14 3 13-5 13-7M1449 953l13-6 13 9 13 45 13-36 13-2 14 75 13-17 13-15 13 6 13-38 13 46 14-18 13 77 14-47 14 14 13-6 13-3 13 47 14 41 14-65 13 7 13-7 11 12 13-4 13-9 14 9 13-3 13-4M1449 945l13 2 13 3 13 45 13-36 13-3 14 71 13-10 13-22 13 7 13-35 13 51 14-19 13 64 14-33 14 9 13-4 13-4 13 44 14 46 14-66 13 7 13-7 11 5 13-6 13 1 14-1 13 7 13-2M1449 951l13-4 13 5 13 52 13-38 13-4 14 73 13-8 13-29 13 9 13-30 13 47 14-27 13 82 14-47 14 6 13 4 13-3 13 42 14 44 14-68 13 2 13 10 11-2 13-8 13 6 14 5 13-4 13-10M1449 963l13-2 13 3 13 36 13-29 13 4 14 52 13-6 13-24 13 10 13-34 13 42 14-15 13 43 14-27 14 13 13-19 13 3 13 41 14 33 14-48 13 2 13-2 11 4 13 3 13-2 14-5 13 4 13 6" fill="none" stroke="#bfc0c2" stroke-width="1.15" stroke-linejoin="round"/>
<path d="M1449 926l13 11 13 22 13 38 13-44 13-18 14 93 13-15 13-25 13 14 13-51 13 46 14-19 13 89 14-53 14 12 13 2 13-5 13 23 14 47 14-51 13 15 13-7 11 5 13 1 13-2 14-2 13-4 13 5M1449 926l13 20 13 28 13 13 13-25 13-6 14 71 13-2 13-15 13 2 13-38 13 44 14 1 13 60 14-46 14 4 13-10 13-1 13 46 14 50 14-73 13 7 13-3 11 2 13 3 13 0 14 0 13-6 13-6M1449 965l13-5 13 20 13 20 13-31 13-17 14 85 13-16 13-13 13 1 13-46 13 61 14 12 13 48 14-52 14 13 13-14 13 2 13 40 14 59 14-79 13 8 13 6 11-1 13 4 13 2 14-6 13 6 13-3M1449 959l13-3 13 20 13 23 13-25 13-17 14 75 13 2 13-25 13 0 13-44 13 49 14-18 13 84 14-50 14 11 13-5 13-1 13 47 14 49 14-82 13 2 13 7 11-3 13 2 13-2 14-6 13 2 13-2M1449 950l13 5 13 25 13 32 13-47 13-7 14 73 13-11 13-11 13 6 13-43 13 51 14 9 13 34 14-39 14 17 13-11 13 5 13 64 14 42 14-73 13-12 13-3 11 8 13-6 13 2 14 2 13 6 13-2M1449 955l13-3 13 13 13 25 13-43 13 8 14 82 13-17 13-15 13 7 13-34 13 37 14-7 13 52 14-38 14 17 13-8 13-7 13 64 14 34 14-69 13 7 13-4 11-2 13 3 13-9 14 9 13 10 13-1M1449 946l13 0 13 13 13 29 13-31 13-17 14 82 13-11 13-9 13 11 13-42 13 51 14 8 13 33 14-33 14 10 13 9 13-17 13 35 14 62 14-85 13 12 13 1 11-1 13 3 13-11 14 11 13 1 13-4M1449 935l13 18 13 19 13 36 13-53 13-14 14 82 13-16 13-15 13 12 13-32 13 34 14-53 13 104 14-41 14 9 13-4 13 10 13 28 14 42 14-69 13 9 13 9 11 4 13 4 13-6 14 1 13-2 13-4M1449 922l13 25 13 10 13 33 13-37 13-26 14 95 13-5 13-15 13 6 13-38 13 41 14-43 13 97 14-47 14 23 13-16 13-10 13 55 14 45 14-78 13 17 13 5 11 5 13-5 13 5 14-3 13-8 13 6M1449 931l13-1 13 13 13 31 13-36 13-6 14 86 13-25 13 4 13-3 13-35 13 44 14-11 13 71 14-41 14 15 13-13 13-11 13 47 14 45 14-76 13 17 13-3 11 9 13-7 13-9 14 11 13-9 13 6M1449 930l13 11 13 6 13 39 13-46 13 1 14 84 13-14 13-11 13-5 13-44 13 61 14-42 13 76 14-41 14 19 13 1 13-13 13 48 14 42 14-67 13 10 13-10 11 2 13 8 13 4 14 5 13-10 13 11M1449 945l13 5 13 17 13 25 13-24 13-14 14 80 13-18 13-4 13-2 13-34 13 37 14 22 13 51 14-63 14 18 13-19 13 9 13 38 14 53 14-59 13-5 13 4 11-7 13-4 13-1 14 3 13 0 13 4M1449 940l13 12 13 15 13 36 13-30 13-17 14 77 13-2 13-22 13 19 13-37 13 38 14 12 13 39 14-49 14 24 13 3 13-9 13 65 14 35 14-86 13 5 13 3 11 1 13-3 13-2 14 5 13 2 13 5M1449 918l13 20 13 14 13 34 13-34 13-2 14 77 13-12 13-25 13 8 13-39 13 56 14-14 13 73 14-47 14 12 13-13 13-5 13 21 14 48 14-49 13 3 13 3 11-10 13 6 13-3 14-1 13 7 13-3M1449 919l13 15 13 19 13 39 13-40 13-4 14 79 13-24 13-8 13 0 13-33 13 51 14-16 13 59 14-40 14 8 13 2 13 1 13 54 14 51 14-82 13 6 13 0 11-8 13-3 13-1 14-2 13-8 13 5M1449 948l13 9 13 17 13 32 13-43 13-16 14 73 13-16 13-14 13 15 13-39 13 56 14-21 13 71 14-54 14 20 13-17 13 6 13 38 14 50 14-72 13 12 13 6 11 6 13-5 13-9 14 5 13-7 13 2M1449 945l13-2 13 20 13 27 13-22 13-23 14 83 13-11 13-23 13 13 13-42 13 45 14-18 13 82 14-44 14 14 13-11 13-6 13 49 14 52 14-72 13 7 13-2 11-10 13 2 13 10 14 11 13-11 13 1M1449 952l13 1 13 0 13 43 13-46 13 0 14 77 13-19 13-14 13 9 13-42 13 49 14-48 13 91 14-39 14 23 13-23 13 9 13 18 14 53 14-48 13 6 13 0 11-3 13-7 13 10 14-6 13 1 13 5M1449 940l13 19 13-2 13 32 13-44 13-16 14 98 13-18 13-12 13 4 13-33 13 40 14-36 13 86 14-35 14 13 13-3 13-16 13 40 14 51 14-67 13 8 13-6 11 2 13 3 13 4 14 7 13-4 13 2M1449 963l13-9 13 8 13 25 13-26 13-13 14 86 13-2 13-27 13 16 13-37 13 34 14-1 13 58 14-47 14 19 13 2 13-4 13 41 14 53 14-83 13 6 13-1 11 1 13 3 13-5 14 6 13 3 13-5M1449 933l13 9 13 14 13 23 13-26 13-17 14 87 13-18 13-5 13 10 13-29 13 46 14 13 13 31 14-50 14 13 13-17 13 2 13 57 14 59 14-95 13 10 13-4 11 7 13-2 13 2 14-4 13 1 13 12M1449 937l13 17 13 25 13 25 13-47 13-8 14 73 13 3 13-31 13 13 13-38 13 49 14-9 13 77 14-50 14 26 13-22 13 1 13 25 14 68 14-74 13-5 13 0 11-2 13-3 13 4 14 7 13-3 13 3M1449 931l13 7 13 15 13 24 13-21 13-21 14 93 13 4 13-38 13-1 13-22 13 44 14-12 13 54 14-39 14 28 13-21 13-6 13 38 14 59 14-78 13 5 13-1 11 2 13-5 13 0 14 4 13 3 13 4M1449 931l13 4 13 13 13 37 13-27 13-32 14 99 13-15 13-21 13 9 13-42 13 40 14-1 13 76 14-45 14 17 13-20 13-9 13 26 14 73 14-71 13 6 13 5 11 3 13-10 13 2 14 2 13-1 13 2M1449 946l13 12 13 8 13 47 13-43 13 3 14 65 13-2 13-21 13 5 13-34 13 42 14-12 13 48 14-44 14 18 13-13 13 14 13 42 14 46 14-84 13 9 13 5 11 3 13 10 13-8 14-2 13 4 13 7M1449 933l13 14 13 15 13 40 13-39 13-11 14 84 13-13 13-13 13 0 13-29 13 32 14 10 13 47 14-45 14 14 13 0 13 0 13 41 14 53 14-81 13 10 13 0 11-2 13 1 13 2 14 1 13-2 13 2M1449 977l13 7 13 8 13 0 13-34 13-3 14 73 13-9 13-22 13 16 13-50 13 56 14-27 13 93 14-56 14 24 13-12 13 4 13 30 14 55 14-75 13 3 13 2 11 4 13 4 13-4 14 4 13-4 13 3M1449 963l13-8 13 18 13 18 13-28 13-3 14 77 13 5 13-36 13 8 13-45 13 53 14 27 13 35 14-58 14 21 13-1 13-4 13 58 14 32 14-74 13-3 13 1 11 5 13 2 13 0 14 3 13-4 13-3M1449 934l13 7 13 11 13 44 13-40 13 2 14 76 13-11 13-27 13 6 13-35 13 43 14 19 13 40 14-39 14 29 13-27 13-7 13 37 14 78 14-88 13 4 13 8 11-7 13-4 13-3 14 0 13 2 13-1M1449 934l13 5 13 10 13 29 13-23 13-8 14 82 13-9 13-25 13 5 13-27 13 45 14-19 13 58 14-32 14 13 13 7 13-7 13 45 14 36 14-70 13 7 13 4 11 3 13-7 13 6 14-1 13 0 13 5M1449 948l13 8 13 23 13 30 13-24 13-28 14 76 13-2 13-24 13 9 13-31 13 36 14 16 13 64 14-56 14 11 13-4 13-8 13 37 14 64 14-94 13 12 13-5 11 2 13 5 13 7 14-2 13 3 13 2M1449 941l13 1 13 21 13 21 13-22 13-31 14 92 13-11 13-15 13 1 13-26 13 37 14-26 13 66 14-39 14 16 13-8 13-3 13 51 14 39 14-61 13 7 13-1 11-4 13-6 13 8 14-1 13 2 13 3M1449 939l13 26 13 5 13 31 13-25 13-20 14 84 13 8 13-45 13 2 13-39 13 48 14 13 13 45 14-43 14 16 13 12 13-11 13 41 14 62 14-77 13 9 13 0 11 2 13-4 13-2 14 4 13-9 13 5M1449 923l13 30 13 15 13 25 13-40 13-22 14 96 13-10 13-21 13 11 13-33 13 37 14 14 13 71 14-63 14 7 13-4 13-2 13 41 14 51 14-80 13 4 13-1 11 10 13-7 13-5 14-1 13 0 13 10M1449 913l13 26 13 14 13 22 13-37 13-10 14 86 13-4 13-25 13 5 13-47 13 62 14-32 13 84 14-34 14 19 13-8 13-11 13 34 14 58 14-72 13 0 13 3 11-2 13-1 13-1 14 1 13 5 13-10M1449 978l13-12 13 15 13 35 13-49 13-11 14 77 13-10 13-23 13 14 13-44 13 44 14-15 13 68 14-34 14 18 13-1 13-10 13 42 14 64 14-80 13-2 13 1 11-6 13 5 13-1 14 2 13 9 13-11M1449 953l13-1 13 9 13 27 13-36 13-17 14 93 13-4 13-29 13 13 13-31 13 39 14 9 13 37 14-37 14 13 13 5 13-7 13 43 14 52 14-73 13 2 13-4 11 4 13-4 13 1 14-5 13 0 13-3M1449 936l13 16 13 24 13 22 13-34 13-23 14 85 13-14 13-19 13 9 13-46 13 49 14 10 13 63 14-57 14 25 13-16 13-13 13 43 14 66 14-77 13 3 13-2 11 5 13-8 13 8 14-2 13-5 13 0M1449 944l13 16 13 2 13 21 13-26 13-16 14 83 13-6 13-16 13 0 13-42 13 50 14 27 13 48 14-49 14 9 13-19 13 3 13 25 14 53 14-67 13 10 13-1 11-1 13 9 13 2 14-6 13 8 13-6M1449 927l13 21 13 20 13 18 13-44 13-4 14 80 13-6 13-24 13 14 13-41 13 52 14-35 13 91 14-54 14 18 13-6 13-2 13 36 14 64 14-73 13 1 13 3 11-6 13-2 13 1 14 6 13 1 13-2M1449 934l13 2 13 146 13-106 13-36 13-11 14 21 13-1 13 7 13 8 13-22 13 26 14-32 13 240 14-203 14 11 13-25 13 5 13 62 14 80 14-109 13 4 13 3 11 1 13-7 13 4 14-4 13 2 13 2M1449 927l13 12 13 143 13-105 13-36 13-15 14 27 13-8 13 14 13 4 13-24 13 29 14-31 13 241 14-203 14 8 13-25 13 6 13 63 14 81 14-114 13 3 13 0 11 2 13-2 13 3 14 0 13-2 13 0M1449 951l13-1 13 6 13 45 13-31 13-2 14 66 13-6 13-26 13 6 13-32 13 48 14-24 13 72 14-38 14 11 13-2 13-3 13 42 14 38 14-58 13 0 13 3 11 4 13-4 13 7 14-10 13 3 13-3M1449 946l13 0 13 12 13 47 13-43 13-4 14 71 13-9 13-23 13 9 13-32 13 46 14-26 13 81 14-42 14 6 13-7 13 4 13 42 14 39 14-62 13 11 13 1 11-5 13 4 13-5 14-3 13 2 13 5M1449 960l13-8 13 7 13 49 13-43 13 0 14 68 13-6 13-22 13 7 13-34 13 46 14-16 13 75 14-51 14 13 13-2 13 0 13 37 14 51 14-69 13 7 13-3 11-3 13 10 13-6 14-4 13 11 13 0" fill="none" stroke="#bfc0c2" stroke-width="1.15" stroke-linejoin="round" stroke-dasharray="5 3"/>
<path d="M1448.9 956.3l13-8.4 13.2 8.7 13.1 46.2 13.1-40.9 13.1 1.3 13.2 70.3 13.2-11.5 13.1-18 13.2 1.1 13.2-30.4 13.1 47.3 13.2-24.2 13.3 73.5 14.6-36.9 13 7.4 13.1-2.6 13.2 4.7 13.2 37.3 14.4 39.2 13.1-64 13.2 3.8 13.1 5.3 11.3 3.9 13.1-5.4 13.2 4.6 13.2-0.5 13.2 2.4 13.2-7.7M1448.9 950.9l13-1.1 13.2 5.8 13.1 45.4 13.1-31 13.1-1.7 13.2 65.6 13.2-6.1 13.1-25.8 13.2 6.4 13.2-32.6 13.1 48.3 13.2-24.5 13.3 72.4 14.6-38.1 13 11.5 13.1-2.6 13.2-2.4 13.2 42.1 14.4 37.2 13.1-58.1 13.2 0.5 13.1 3.1 11.3 4.1 13.1-4.1 13.2 7 13.2-9.9 13.2 3.1 13.2-3.7M1448.9 953.8l13-0.4 13.2 6 13.1 49.7 13.1-42.6 13.1-4.6 13.2 70.3 13.2-5.1 13.1-27.2 13.2 8.8 13.2-30.7 13.1 47.2 13.2-18.8 13.3 68.1 14.6-41.1 13 11.2 13.1-9 13.2 1.9 13.2 44.7 14.4 39.1 13.1-61.5 13.2 9.2 13.1-7 11.3 5.6 13.1-8.3 13.2 11.9 13.2-1.5 13.2-4 13.2-5.7M1448.9 957.5l13-4.6 13.2 8.5 13.1 48.1 13.1-38.1 13.1-4.1 13.2 66.5 13.2-10.9 13.1-19.9 13.2 6.9 13.2-31.6 13.1 43.8 13.2-13.3 13.3 75.5 14.6-52.9 13 14.5 13.1-6 13.2 0.5 13.2 43 14.4 41.8 13.1-62.2 13.2 8 13.1-3.7 11.3-4.4 13.1 6.9 13.2-4.5 13.2 4.1 13.2-2.4 13.2 5M1448.9 948.2l13 0.3 13.2 7.5 13.1 51 13.1-39.1 13.1-6.3 13.2 73.7 13.2-9.2 13.1-22.5 13.2 2 13.2-26.5 13.1 41.6 13.2-15.7 13.3 71.5 14.6-43.3 13 6.4 13.1-0.9 13.2-2.7 13.2 46.6 14.4 38.4 13.1-60.5 13.2 4.3 13.1-6.2 11.3 11.9 13.1-2.1 13.2-6.5 13.2-0.3 13.2 6.7 13.2-5.6M1448.9 956.1l13-9 13.2 8.7 13.1 38.1 13.1-30.2 13.1 0.7 13.2 66.3 13.2-2.7 13.1-31 13.2 13.6 13.2-39.5 13.1 52.9 13.2-17.7 13.3 71.3 14.6-48.6 13 13.6 13.1-7.6 13.2 5.3 13.2 37.6 14.4 43.2 13.1-65.8 13.2 6.9 13.1-1.1 11.3 7.3 13.1 0.4 13.2 0.2 13.2-9.7 13.2 3.2 13.2 4.3M1448.9 950.4l13-1.9 13.2 5.4 13.1 42 13.1-34.5 13.1 1.6 13.2 72.1 13.2-15.8 13.1-22.3 13.2 11.6 13.2-36.5 13.1 46.9 13.2-19.6 13.3 70.1 14.6-38.1 13 7.4 13.1 0.5 13.2-3.4 13.2 44.4 14.4 34.2 13.1-53.5 13.2 4.2 13.1-1.2 11.3 3.3 13.1-2.9 13.2 1.4 13.2-3.2 13.2 3.6 13.2-0.5M1448.9 959.8l13-3.7 13.2 0.6 13.1 47.3 13.1-37.1 13.1-2.6 13.2 69.2 13.2-11 13.1-22 13.2 6 13.2-25.7 13.1 41.1 13.2-19.2 13.3 73.5 14.6-42.7 13 13.1 13.1-10 13.2 8.8 13.2 39.9 14.4 38.4 13.1-62.6 13.2 4.1 13.1 8.1 11.3-10.8 13.1 1.8 13.2 1.2 13.2-2.4 13.2 5.8 13.2 0.9M1448.9 950.8l13-0.2 13.2 2.2 13.1 36.5 13.1-27.1 13.1 0.7 13.2 64.8 13.2-11.8 13.1-18.1 13.2 8 13.2-32 13.1 45.1 13.2-26.2 13.3 82.3 14.6-44.1 13 6.4 13.1-1.2 13.2-4.3 13.2 43.3 14.4 46.7 13.1-67.7 13.2 11.5 13.1-11.1 11.3 0.2 13.1 6.4 13.2 3.9 13.2-7.8 13.2-3.5 13.2 0.5M1448.9 954.7l13-5.5 13.2 6.9 13.1 44.5 13.1-32.6 13.1-1.5 13.2 65.2 13.2-5.5 13.1-21.7 13.2 7.1 13.2-39 13.1 52 13.2-18.3 13.3 74.6 14.6-50.6 13 14.7 13.1-5.4 13.2-2.2 13.2 46.3 14.4 39.2 13.1-67.3 13.2 5.9 13.1-0.5 11.3 7.8 13.1-0.3 13.2 2.6 13.2-10.3 13.2 11.3 13.2-0.2M1448.9 958.4l13-9 13.2 7.8 13.1 46.9 13.1-32.9 13.1-7.9 13.2 69.2 13.2-2.3 13.1-29.4 13.2 9 13.2-30.9 13.1 41.1 13.2-9.9 13.3 68.9 14.6-46.6 13 12 13.1-3.6 13.2 0.5 13.2 41.9 14.4 36.1 13.1-56 13.2 0.1 13.1 7 11.3 2.5 13.1-9.1 13.2 3.6 13.2-2.2 13.2 1.9 13.2-5.5M1448.9 948.6l13-5.5 13.2 6.4 13.1 42.3 13.1-34.9 13.1 5.5 13.2 67.3 13.2-10.7 13.1-19.3 13.2 7.1 13.2-37.3 13.1 50.4 13.2-29.2 13.3 71.8 14.6-31.4 13 9.4 13.1-9.8 13.2-0.2 13.2 45 14.4 38.5 13.1-63.1 13.2 9.2 13.1-5.2 11.3 6.7 13.1-2.9 13.2-5.8 13.2 6.4 13.2-2.9 13.2 0.6M1448.9 959.6l13-11.3 13.2 4.5 13.1 42.3 13.1-28.9 13.1-1.2 13.2 66.9 13.2-7.9 13.1-23.3 13.2 7.5 13.2-35.7 13.1 47.6 13.2-12.3 13.3 68.4 14.6-45.2 13 7.3 13.1 1.9 13.2-3.1 13.2 44.1 14.4 40.9 13.1-67.7 13.2 9.9 13.1 2.5 11.3-1.2 13.1-0.4 13.2-1.6 13.2-4.8 13.2 0.1 13.2 9.6M1448.9 946.2l13 0.1 13.2 11.6 13.1 46.9 13.1-42.6 13.1-4.2 13.2 71.3 13.2-9.7 13.1-22.6 13.2 9.5 13.2-32.6 13.1 45.8 13.2-25.7 13.3 81.3 14.6-42.2 13 5.9 13.1-6.6 13.2 4 13.2 41.5 14.4 39.6 13.1-62.9 13.2 10.9 13.1 2 11.3-5.3 13.1 4.1 13.2-5.7 13.2-2.6 13.2 2.1 13.2 4.7M1448.9 958.4l13-10.1 13.2 7.3 13.1 55 13.1-40.4 13.1-8.6 13.2 72.5 13.2-5.7 13.1-25.2 13.2 8.1 13.2-37 13.1 45.1 13.2-20.7 13.3 76.9 14.6-41.7 13 9.1 13.1-5.7 13.2-1.7 13.2 46 14.4 36.3 13.1-59.4 13.2 10.2 13.1-4.7 11.3-4 13.1 1.4 13.2 0.2 13.2 1.9 13.2-0.4 13.2 4.1M1448.9 949.5l13-1.1 13.2 1.7 13.1 52.3 13.1-37.3 13.1-6.1 13.2 76.1 13.2-14.7 13.1-18.4 13.2 4.2 13.2-37.2 13.1 48.9 13.2-16.7 13.3 70.3 14.6-41.1 13 9.8 13.1-0.3 13.2-7 13.2 47.5 14.4 34.3 13.1-58.1 13.2 7.6 13.1 0.1 11.3-0.9 13.1 2.7 13.2-8.4 13.2-1.5 13.2 5.4 13.2-1.2M1448.9 951.7l13-5.2 13.2 5.5 13.1 44 13.1-33.6 13.1 2 13.2 70.2 13.2-10 13.1-26 13.2 5.7 13.2-29.5 13.1 47.7 13.2-19 13.3 66.6 14.6-39.7 13 14.4 13.1-8.7 13.2 6.1 13.2 41 14.4 40.6 13.1-69.6 13.2 6.8 13.1 1 11.3 7.9 13.1-8.4 13.2 0.7 13.2-0.8 13.2 5.6 13.2-8.4M1448.9 957.7l13-8.8 13.2 10.9 13.1 37.2 13.1-35.5 13.1 3.8 13.2 67.8 13.2-6.3 13.1-27.6 13.2 7.7 13.2-32.3 13.1 44.9 13.2-20.5 13.3 78.2 14.6-43.7 13 8.8 13.1-0.4 13.2-5.6 13.2 45.9 14.4 38.7 13.1-66 13.2 5.3 13.1 0.1 11.3 10.9 13.1-10.8 13.2 2.9 13.2 5.2 13.2-3 13.2-9.1M1448.9 946.3l13-4 13.2 11.9 13.1 36.2 13.1-26.7 13.1-3.2 13.2 70.4 13.2-9 13.1-29.3 13.2 13.4 13.2-37.7 13.1 49.4 13.2-26.1 13.3 79.3 14.6-41 13 5.5 13.1-3.5 13.2 0.1 13.2 41.5 14.4 37 13.1-61.2 13.2 6.2 13.1 7 11.3-4.6 13.1 0.4 13.2-1.9 13.2-3.5 13.2 0.9 13.2-3.6M1448.9 952.1l13 1.5 13.2 3.6 13.1 40.7 13.1-33.2 13.1-1.2 13.2 68.4 13.2-6 13.1-22 13.2 5 13.2-32.3 13.1 46.6 13.2-21.4 13.3 77.5 14.6-47.8 13 13.1 13.1-3.1 13.2-5.3 13.2 46.7 14.4 45.3 13.1-67.3 13.2 8.1 13.1 0.8 11.3-0.3 13.1-3.5 13.2-1.9 13.2-0.5 13.2 3.3 13.2-1.6M1448.9 948.7l13-2.3 13.2 9.8 13.1 34.3 13.1-26.5 13.1-4.5 13.2 70.6 13.2-10.8 13.1-21.8 13.2 5.1 13.2-29.7 13.1 41.7 13.2-14.8 13.3 75.6 14.6-47.1 13 7.9 13.1 3.9 13.2-7.6 13.2 47.1 14.4 42.4 13.1-62.3 13.2-2.6 13.1 4.8 11.3 1.7 13.1 0.5 13.2-7.9 13.2 8.8 13.2-7.1 13.2 0.7M1448.9 956.7l13-5.8 13.2 3.5 13.1 46.2 13.1-39.5 13.1 3.1 13.2 70.2 13.2-10.6 13.1-22.6 13.2 2.6 13.2-27 13.1 45.9 13.2-22.3 13.3 77.6 14.6-48.8 13 10.2 13.1 0.2 13.2-4.4 13.2 40.7 14.4 49.9 13.1-69.7 13.2 11.9 13.1-8.7 11.3 4.5 13.1-1.2 13.2 2.7 13.2-3.9 13.2 7 13.2-1M1448.9 953.6l13 0 13.2 2.8 13.1 52.7 13.1-48.6 13.1 2.5 13.2 68 13.2-4.5 13.1-23.6 13.2 2.8 13.2-30.1 13.1 43.8 13.2-22.3 13.3 76.9 14.6-45.2 13 14.6 13.1-6.8 13.2 4.5 13.2 41.2 14.4 39.7 13.1-66.3 13.2 7.9 13.1 4.7 11.3-6.2 13.1-4.5 13.2 0.6 13.2 10.2 13.2-3 13.2-0.8M1448.9 951.3l13-4.3 13.2 11.4 13.1 38.6 13.1-36 13.1-1.8 13.2 73.8 13.2-6.5 13.1-27.4 13.2 5.8 13.2-27.1 13.1 44.2 13.2-24.7 13.3 76.2 14.6-39.1 13 3.5 13.1 0.5 13.2-1.8 13.2 42 14.4 46.8 13.1-66.9 13.2 7.2 13.1-2.8 11.3-3 13.1 2.7 13.2 1.3 13.2 3.3 13.2-4.8 13.2-7.1M1448.9 957l13-2.4 13.2 6.7 13.1 49.1 13.1-38 13.1-2.8 13.2 66 13.2-7.3 13.1-24.2 13.2 3.1 13.2-28.1 13.1 45.2 13.2-23.6 13.3 78.9 14.6-42.2 13 12.2 13.1-7.2 13.2 1.6 13.2 39.9 14.4 41.3 13.1-65.5 13.2 12.2 13.1-4 11.3-3 13.1 5.7 13.2-7.8 13.2 6.5 13.2 5.4 13.2-8.8M1448.9 960.1l13-7.8 13.2 6.7 13.1 49.1 13.1-42.8 13.1-0.3 13.2 67.7 13.2-5.8 13.1-21.4 13.2 6.6 13.2-33.6 13.1 45.9 13.2-16.8 13.3 75.4 14.6-50.9 13 13 13.1-1.9 13.2-0.1 13.2 36.9 14.4 51 13.1-69.1 13.2 6.9 13.1-3.2 11.3-2.4 13.1 10 13.2-5.7 13.2-4.9 13.2 11.9 13.2-0.8M1448.9 952.7l13-5.6 13.2 9 13.1 45.2 13.1-36.5 13.1-1.8 13.2 75.2 13.2-17.5 13.1-15.1 13.2 6 13.2-37.7 13.1 45.8 13.2-17.7 13.3 77.5 14.6-48 13 15 13.1-6.3 13.2-2.9 13.2 47 14.4 40.8 13.1-64.6 13.2 7 13.1-7.8 11.3 12.1 13.1-3.4 13.2-9.1 13.2 8.7 13.2-3.3 13.2-3.6M1448.9 944.7l13 2.3 13.2 3.5 13.1 45 13.1-36.6 13.1-3.2 13.2 71.5 13.2-10 13.1-22.5 13.2 7 13.2-35 13.1 50.9 13.2-18.1 13.3 63.2 14.6-32.7 13 8.8 13.1-3.3 13.2-4.5 13.2 43.9 14.4 46.4 13.1-66.2 13.2 6.8 13.1-6.7 11.3 4.6 13.1-5.7 13.2 0.6 13.2-1.1 13.2 7.1 13.2-1.5M1448.9 960.8l13-13.1 13.2 6.3 13.1 44.9 13.1-32.1 13.1-2.7 13.2 73 13.2-7.3 13.1-25.4 13.2 4.5 13.2-29.5 13.1 39.4 13.2-8.2 13.3 70.9 14.6-46.8 13 5.4 13.1-3.2 13.2 6.1 13.2 38.7 14.4 45.3 13.1-71.2 13.2 7.6 13.1 9.2 11.3-4 13.1 4.2 13.2-6.6 13.2 3.2 13.2-9.7 13.2 2M1448.9 950.6l13-3.7 13.2 5.5 13.1 51.5 13.1-37.8 13.1-3.8 13.2 72.4 13.2-7.7 13.1-29.3 13.2 9.4 13.2-30.4 13.1 47.7 13.2-27.8 13.3 82.7 14.6-47.1 13 5.4 13.1 3.9 13.2-2.4 13.2 42 14.4 44.3 13.1-67.9 13.2 1.6 13.1 9.5 11.3-2.1 13.1-7.3 13.2 5.7 13.2 5.2 13.2-4.4 13.2-9.3" fill="none" stroke="#3560b8" stroke-width="2.3" stroke-linejoin="round"/>
<text x="1818.7" y="948.4" font-family="'Liberation Serif', serif" font-size="30.8" text-anchor="end" fill="#000">Rotoehu</text>
<path d="M1436.5 18.5H1830.8V1187.6H1436.5ZM1436.5 310H1830.8M1436.5 604.1H1830.8M1436.5 896.8H1830.8" stroke="#808080" stroke-width="3.2" fill="none"/>
</svg>
</body></html>
